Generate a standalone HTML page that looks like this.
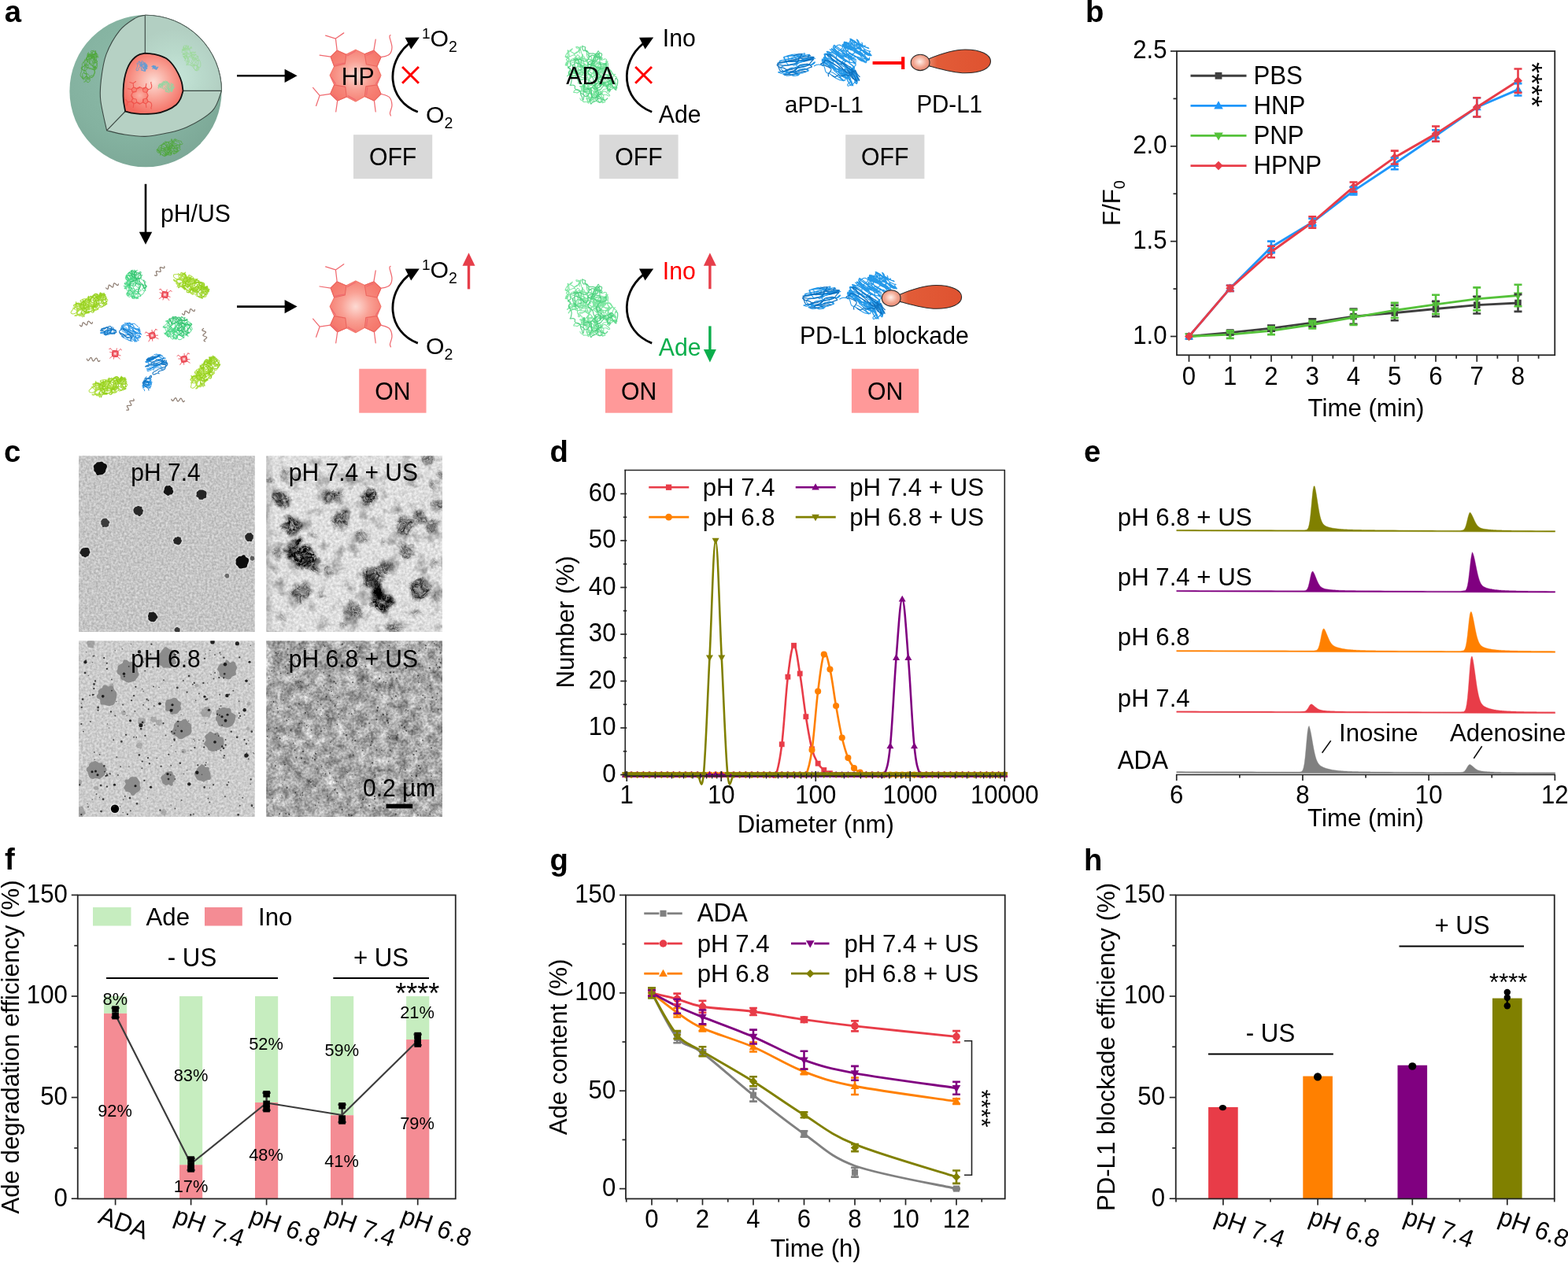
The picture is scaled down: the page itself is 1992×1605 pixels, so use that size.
<!DOCTYPE html>
<html lang="en">
<head>
<meta charset="utf-8">
<title>Figure</title>
<style>
html,body{margin:0;padding:0;background:#fff;}
body{width:1992px;height:1605px;overflow:hidden;}
svg{display:block;font-family:"Liberation Sans",Arial,Helvetica,sans-serif;}
text{white-space:pre;}
</style>
</head>
<body>
<svg width="1992" height="1605" viewBox="0 0 1992 1605">
<rect width="1992" height="1605" fill="#fff"/>
<linearGradient id="t2l" x1="0" x2="1" y1="0" y2="0"><stop offset="0" stop-color="#888" stop-opacity="0.35"/><stop offset="1" stop-color="#888" stop-opacity="0"/></linearGradient>
<defs>
<filter id="tn1" x="0" y="0" width="100%" height="100%" color-interpolation-filters="sRGB"><feTurbulence type="fractalNoise" baseFrequency="0.36" numOctaves="2" seed="3" stitchTiles="noStitch"/><feColorMatrix type="matrix" values="0.32 0 0 0 0.615  0.32 0 0 0 0.615  0.32 0 0 0 0.615  0 0 0 0 1"/></filter>
<filter id="tn2" x="0" y="0" width="100%" height="100%" color-interpolation-filters="sRGB"><feTurbulence type="fractalNoise" baseFrequency="0.3" numOctaves="2" seed="8" stitchTiles="noStitch"/><feColorMatrix type="matrix" values="0.28 0 0 0 0.735  0.28 0 0 0 0.735  0.28 0 0 0 0.735  0 0 0 0 1"/></filter>
<filter id="tn3" x="0" y="0" width="100%" height="100%" color-interpolation-filters="sRGB"><feTurbulence type="fractalNoise" baseFrequency="0.34" numOctaves="2" seed="14" stitchTiles="noStitch"/><feColorMatrix type="matrix" values="0.3 0 0 0 0.65  0.3 0 0 0 0.65  0.3 0 0 0 0.65  0 0 0 0 1"/></filter>
<filter id="tn4" x="0" y="0" width="100%" height="100%" color-interpolation-filters="sRGB"><feTurbulence type="fractalNoise" baseFrequency="0.075" numOctaves="3" seed="21" result="a0"/><feColorMatrix in="a0" type="matrix" values="1 0 0 0 0  1 0 0 0 0  1 0 0 0 0  0 0 0 0 1" result="a"/><feTurbulence type="fractalNoise" baseFrequency="0.32" numOctaves="2" seed="5" result="b0"/><feColorMatrix in="b0" type="matrix" values="1 0 0 0 0  1 0 0 0 0  1 0 0 0 0  0 0 0 0 1" result="b"/><feComposite in="a" in2="b" operator="arithmetic" k1="0" k2="0.6" k3="0.45" k4="0.135"/><feColorMatrix type="matrix" values="1 0 0 0 0  0 1 0 0 0  0 0 1 0 0  0 0 0 0 1"/></filter>
<filter id="fz2" x="-10%" y="-10%" width="120%" height="120%" color-interpolation-filters="sRGB"><feGaussianBlur in="SourceGraphic" stdDeviation="2.6" result="b"/><feTurbulence type="fractalNoise" baseFrequency="0.33" numOctaves="3" seed="5" result="t"/><feColorMatrix in="t" type="matrix" values="0 0 0 0 0  0 0 0 0 0  0 0 0 0 0  1 0 0 0 0" result="ta"/><feComposite in="b" in2="ta" operator="arithmetic" k1="1.9" k2="0.0" k3="0" k4="0"/><feComponentTransfer result="r"><feFuncA type="linear" slope="1.35" intercept="-0.04"/></feComponentTransfer><feTurbulence type="fractalNoise" baseFrequency="0.07" numOctaves="2" seed="8" result="dm"/><feDisplacementMap in="r" in2="dm" scale="14" xChannelSelector="R" yChannelSelector="G"/></filter>
<filter id="fz2d" x="-10%" y="-10%" width="120%" height="120%" color-interpolation-filters="sRGB"><feGaussianBlur in="SourceGraphic" stdDeviation="2.4" result="b"/><feTurbulence type="fractalNoise" baseFrequency="0.3" numOctaves="2" seed="9" result="t"/><feColorMatrix in="t" type="matrix" values="0 0 0 0 0  0 0 0 0 0  0 0 0 0 0  1 0 0 0 0" result="ta"/><feComposite in="b" in2="ta" operator="arithmetic" k1="1.4" k2="0.3" k3="0" k4="0"/><feComponentTransfer result="r"><feFuncA type="linear" slope="1.2" intercept="-0.04"/></feComponentTransfer><feTurbulence type="fractalNoise" baseFrequency="0.07" numOctaves="2" seed="12" result="dm"/><feDisplacementMap in="r" in2="dm" scale="14" xChannelSelector="R" yChannelSelector="G"/></filter>
<filter id="cl2" x="0" y="0" width="100%" height="100%" color-interpolation-filters="sRGB"><feTurbulence type="fractalNoise" baseFrequency="0.055" numOctaves="4" seed="12"/><feColorMatrix type="matrix" values="0 0 0 0 0.25  0 0 0 0 0.25  0 0 0 0 0.25  2.6 0 0 0 -1.38"/></filter>
<filter id="sb" x="-20%" y="-20%" width="140%" height="140%"><feGaussianBlur stdDeviation="0.7"/></filter>
<filter id="sb2" x="-20%" y="-20%" width="140%" height="140%"><feGaussianBlur stdDeviation="0.45"/></filter>
<clipPath id="tc1"><rect x="100" y="579.25" width="223.75" height="223.75"/></clipPath>
<clipPath id="tc2"><rect x="338.25" y="579.25" width="223.75" height="223.75"/></clipPath>
<clipPath id="tc3"><rect x="100" y="814.25" width="223.75" height="223.75"/></clipPath>
<clipPath id="tc4"><rect x="338.25" y="814.25" width="223.75" height="223.75"/></clipPath>
</defs>
<g clip-path="url(#tc1)">
<rect x="100" y="579.25" width="223.75" height="223.75" filter="url(#tn1)"/>
<g filter="url(#sb)">
<circle cx="127.2" cy="595.05" r="10" fill="#e6e6e6" fill-opacity="0.55"/>
<circle cx="214" cy="623.4" r="7.7" fill="#e6e6e6" fill-opacity="0.55"/>
<circle cx="256" cy="628.5" r="8" fill="#e6e6e6" fill-opacity="0.55"/>
<circle cx="175.8" cy="649.2" r="7.7" fill="#e6e6e6" fill-opacity="0.55"/>
<circle cx="133.5" cy="664.4" r="7.1" fill="#e6e6e6" fill-opacity="0.55"/>
<circle cx="225.6" cy="687.2" r="6.7" fill="#e6e6e6" fill-opacity="0.55"/>
<circle cx="316.6" cy="682.6" r="7" fill="#e6e6e6" fill-opacity="0.55"/>
<circle cx="108.1" cy="701.8" r="7.7" fill="#e6e6e6" fill-opacity="0.55"/>
<circle cx="307.7" cy="714.1" r="9.9" fill="#e6e6e6" fill-opacity="0.55"/>
<circle cx="320.5" cy="709.5" r="4.4" fill="#e6e6e6" fill-opacity="0.55"/>
<circle cx="288.4" cy="731.8" r="4.4" fill="#e6e6e6" fill-opacity="0.55"/>
<circle cx="193.8" cy="783.9" r="7.7" fill="#e6e6e6" fill-opacity="0.55"/>
<circle cx="225.2" cy="800.6" r="5" fill="#e6e6e6" fill-opacity="0.55"/>
<path d="M135.25 595.05 C135.12 595.35 134.67 596.24 134.48 596.84 C134.29 597.45 134.32 598.09 134.11 598.68 C133.9 599.27 133.6 599.87 133.22 600.38 C132.84 600.9 132.34 601.34 131.83 601.76 C131.32 602.18 130.78 602.66 130.17 602.89 C129.57 603.13 128.85 603.05 128.19 603.16 C127.52 603.28 126.89 603.46 126.16 603.6 C125.43 603.74 124.46 604.23 123.8 604 C123.15 603.78 122.64 602.87 122.24 602.23 C121.85 601.59 121.84 600.71 121.44 600.16 C121.03 599.6 120.2 599.44 119.83 598.92 C119.47 598.39 119.33 597.65 119.25 597.01 C119.18 596.36 119.47 595.72 119.38 595.05 C119.3 594.38 118.7 593.63 118.73 592.96 C118.76 592.3 119.15 591.57 119.57 591.05 C119.99 590.52 120.79 590.28 121.27 589.79 C121.75 589.31 121.93 588.56 122.43 588.14 C122.93 587.73 123.63 587.45 124.26 587.31 C124.9 587.16 125.59 587.37 126.25 587.25 C126.91 587.14 127.56 586.66 128.22 586.63 C128.88 586.6 129.63 586.77 130.23 587.07 C130.82 587.37 131.2 588.06 131.77 588.43 C132.34 588.81 133.04 588.95 133.66 589.33 C134.27 589.71 135.09 590.11 135.48 590.71 C135.86 591.3 136.01 592.17 135.97 592.89 C135.93 593.61 135.37 594.69 135.25 595.05Z" fill="#0a0a0a"/>
<path d="M219.92 623.4 C219.99 623.66 220.38 624.47 220.32 624.96 C220.27 625.45 219.84 625.88 219.6 626.34 C219.36 626.8 219.23 627.37 218.87 627.71 C218.51 628.06 217.95 628.28 217.46 628.41 C216.97 628.55 216.39 628.32 215.94 628.52 C215.49 628.72 215.21 629.35 214.75 629.6 C214.3 629.85 213.68 630.13 213.2 630.03 C212.71 629.93 212.28 629.33 211.87 629.02 C211.45 628.71 211.11 628.43 210.71 628.16 C210.32 627.89 209.89 627.69 209.49 627.4 C209.08 627.11 208.58 626.81 208.27 626.41 C207.96 626 207.63 625.47 207.63 624.97 C207.62 624.47 208.05 623.88 208.23 623.4 C208.42 622.92 208.64 622.55 208.74 622.1 C208.84 621.65 208.73 621.15 208.84 620.69 C208.96 620.24 209.19 619.8 209.43 619.35 C209.68 618.91 209.92 618.37 210.3 618.04 C210.68 617.71 211.22 617.47 211.71 617.37 C212.21 617.26 212.76 617.49 213.27 617.42 C213.79 617.36 214.28 616.97 214.78 616.96 C215.29 616.94 215.89 617.04 216.3 617.33 C216.71 617.62 216.88 618.35 217.24 618.7 C217.61 619.05 218.14 619.1 218.5 619.42 C218.85 619.73 219.26 620.13 219.38 620.58 C219.5 621.03 219.15 621.64 219.23 622.11 C219.32 622.58 219.8 623.18 219.92 623.4Z" fill="#141414"/>
<path d="M262.28 628.5 C262.23 628.75 262.04 629.45 262 629.98 C261.97 630.51 262.26 631.21 262.09 631.7 C261.92 632.19 261.46 632.67 260.99 632.92 C260.52 633.18 259.74 633.03 259.27 633.24 C258.8 633.46 258.59 633.94 258.17 634.23 C257.76 634.53 257.28 634.89 256.79 634.99 C256.3 635.09 255.76 634.88 255.23 634.84 C254.7 634.81 254.08 635 253.61 634.8 C253.15 634.6 252.75 634.07 252.45 633.64 C252.15 633.22 252.18 632.57 251.79 632.23 C251.4 631.89 250.53 631.94 250.1 631.6 C249.68 631.25 249.27 630.68 249.23 630.17 C249.19 629.65 249.78 629.04 249.85 628.5 C249.92 627.96 249.65 627.47 249.67 626.94 C249.69 626.41 249.71 625.78 249.97 625.34 C250.24 624.9 250.86 624.66 251.25 624.29 C251.64 623.93 251.89 623.45 252.3 623.15 C252.72 622.85 253.23 622.59 253.72 622.49 C254.22 622.39 254.77 622.56 255.28 622.55 C255.78 622.53 256.26 622.38 256.74 622.41 C257.22 622.44 257.72 622.58 258.18 622.75 C258.64 622.91 259.04 623.19 259.51 623.42 C259.97 623.64 260.54 623.78 260.96 624.1 C261.39 624.42 261.79 624.86 262.05 625.33 C262.3 625.79 262.46 626.37 262.5 626.9 C262.53 627.43 262.31 628.23 262.28 628.5Z" fill="#262626"/>
<path d="M182.22 649.2 C182.08 649.43 181.53 650.09 181.39 650.58 C181.24 651.06 181.45 651.61 181.32 652.1 C181.2 652.59 180.99 653.14 180.65 653.5 C180.31 653.86 179.69 653.9 179.3 654.27 C178.9 654.64 178.72 655.44 178.27 655.72 C177.83 656 177.14 656.14 176.62 655.96 C176.1 655.78 175.6 654.89 175.14 654.63 C174.68 654.36 174.3 654.44 173.85 654.35 C173.4 654.25 172.84 654.28 172.45 654.05 C172.06 653.83 171.83 653.35 171.52 652.99 C171.21 652.64 170.86 652.32 170.6 651.93 C170.34 651.54 170.15 651.09 169.98 650.64 C169.81 650.18 169.67 649.7 169.57 649.2 C169.48 648.7 169.33 648.13 169.42 647.63 C169.51 647.13 169.85 646.66 170.12 646.22 C170.38 645.77 170.65 645.31 171.01 644.95 C171.37 644.6 171.81 644.27 172.26 644.08 C172.72 643.88 173.28 643.95 173.75 643.78 C174.21 643.62 174.59 643.21 175.06 643.09 C175.52 642.98 176.08 642.97 176.54 643.09 C177.01 643.2 177.37 643.65 177.86 643.77 C178.35 643.9 179.06 643.63 179.5 643.85 C179.93 644.06 180.33 644.56 180.48 645.06 C180.63 645.55 180.2 646.34 180.38 646.8 C180.56 647.25 181.25 647.38 181.55 647.78 C181.86 648.18 182.11 648.96 182.22 649.2Z" fill="#2c2c2c"/>
<path d="M139.27 664.4 C139.1 664.6 138.47 665.17 138.28 665.58 C138.1 665.99 138.2 666.38 138.15 666.84 C138.1 667.31 138.2 667.98 137.98 668.37 C137.75 668.76 137.21 668.95 136.81 669.2 C136.41 669.44 136 669.71 135.56 669.82 C135.11 669.93 134.61 669.89 134.16 669.84 C133.71 669.79 133.34 669.5 132.88 669.53 C132.41 669.57 131.82 670.09 131.35 670.07 C130.88 670.04 130.31 669.79 130.05 669.4 C129.78 669.01 129.94 668.16 129.75 667.72 C129.56 667.29 129.14 667.16 128.89 666.82 C128.64 666.48 128.31 666.1 128.24 665.7 C128.18 665.29 128.5 664.83 128.49 664.4 C128.49 663.97 128.22 663.54 128.22 663.1 C128.22 662.66 128.29 662.16 128.49 661.77 C128.68 661.38 129.11 661.12 129.38 660.75 C129.66 660.38 129.8 659.83 130.14 659.53 C130.48 659.24 130.99 659.08 131.44 658.96 C131.89 658.85 132.36 658.94 132.83 658.86 C133.29 658.77 133.77 658.4 134.22 658.43 C134.68 658.46 135.18 658.72 135.54 659.02 C135.9 659.31 136.11 659.87 136.39 660.21 C136.67 660.56 136.94 660.8 137.23 661.1 C137.52 661.39 137.79 661.66 138.11 661.98 C138.43 662.3 138.95 662.61 139.14 663.01 C139.34 663.41 139.25 664.17 139.27 664.4Z" fill="#3c3c3c"/>
<path d="M231.02 687.2 C230.94 687.4 230.67 688.02 230.5 688.41 C230.33 688.79 230.17 689.14 229.99 689.51 C229.82 689.87 229.69 690.28 229.46 690.62 C229.22 690.95 228.9 691.24 228.58 691.51 C228.25 691.78 227.91 692.12 227.52 692.26 C227.13 692.41 226.65 692.42 226.23 692.38 C225.81 692.34 225.4 692.13 225.02 692.01 C224.63 691.88 224.29 691.75 223.93 691.61 C223.56 691.48 223.23 691.35 222.83 691.21 C222.44 691.07 221.9 691.03 221.56 690.78 C221.22 690.53 220.95 690.11 220.81 689.71 C220.67 689.32 220.84 688.82 220.71 688.4 C220.59 687.99 220.17 687.63 220.07 687.2 C219.97 686.77 219.93 686.23 220.13 685.85 C220.33 685.47 220.98 685.26 221.26 684.92 C221.54 684.59 221.58 684.17 221.82 683.85 C222.06 683.53 222.35 683.16 222.72 683.03 C223.09 682.89 223.64 683.16 224.02 683.03 C224.4 682.91 224.63 682.46 225 682.25 C225.37 682.05 225.86 681.77 226.25 681.81 C226.65 681.86 226.97 682.35 227.38 682.5 C227.79 682.64 228.31 682.52 228.72 682.68 C229.12 682.84 229.62 683.09 229.81 683.47 C230 683.85 229.74 684.55 229.84 684.98 C229.94 685.4 230.22 685.64 230.42 686.01 C230.62 686.38 230.92 687 231.02 687.2Z" fill="#262626"/>
<path d="M321.66 682.6 C321.69 682.82 321.94 683.5 321.84 683.89 C321.74 684.28 321.3 684.6 321.06 684.94 C320.81 685.28 320.55 685.51 320.37 685.94 C320.2 686.37 320.29 687.18 320.01 687.54 C319.73 687.9 319.16 688.08 318.7 688.13 C318.23 688.17 317.69 687.84 317.23 687.82 C316.78 687.81 316.38 688.01 315.94 688.03 C315.5 688.04 315 688.06 314.59 687.91 C314.18 687.75 313.81 687.42 313.48 687.12 C313.16 686.82 312.88 686.47 312.63 686.12 C312.38 685.77 312.17 685.4 311.98 685.03 C311.78 684.65 311.58 684.27 311.46 683.87 C311.34 683.46 311.29 683.03 311.26 682.6 C311.22 682.17 311.18 681.71 311.24 681.28 C311.3 680.84 311.39 680.35 311.64 679.99 C311.88 679.64 312.38 679.44 312.71 679.15 C313.03 678.86 313.28 678.55 313.59 678.24 C313.9 677.93 314.19 677.42 314.58 677.28 C314.98 677.15 315.53 677.41 315.97 677.41 C316.41 677.41 316.78 677.37 317.25 677.29 C317.71 677.2 318.35 676.77 318.76 676.9 C319.18 677.03 319.46 677.67 319.73 678.06 C320.01 678.45 320.09 678.91 320.41 679.23 C320.73 679.54 321.41 679.6 321.65 679.95 C321.9 680.29 321.87 680.86 321.87 681.3 C321.87 681.74 321.69 682.38 321.66 682.6Z" fill="#262626"/>
<path d="M114.55 701.8 C114.43 702.04 114.1 702.78 113.84 703.22 C113.59 703.65 113.21 703.93 113.03 704.39 C112.85 704.84 113.01 705.53 112.76 705.93 C112.52 706.33 111.98 706.57 111.55 706.8 C111.12 707.03 110.64 707.07 110.19 707.32 C109.75 707.57 109.36 708.21 108.89 708.31 C108.42 708.41 107.83 708.12 107.36 707.92 C106.89 707.73 106.55 707.3 106.08 707.14 C105.61 706.97 104.95 707.18 104.54 706.95 C104.14 706.72 103.89 706.17 103.64 705.75 C103.39 705.34 103.38 704.84 103.05 704.45 C102.71 704.06 101.91 703.84 101.63 703.4 C101.35 702.95 101.27 702.31 101.38 701.8 C101.48 701.29 102.04 700.83 102.26 700.36 C102.49 699.89 102.51 699.42 102.72 698.97 C102.92 698.53 103.15 698.06 103.49 697.71 C103.82 697.37 104.29 697.12 104.72 696.9 C105.14 696.68 105.59 696.48 106.04 696.37 C106.49 696.26 106.97 696.28 107.42 696.24 C107.88 696.19 108.31 696.14 108.79 696.09 C109.28 696.04 109.8 695.92 110.32 695.96 C110.83 695.99 111.44 696.06 111.9 696.3 C112.36 696.53 112.84 696.92 113.1 697.37 C113.36 697.82 113.32 698.49 113.45 698.99 C113.58 699.49 113.71 699.9 113.89 700.37 C114.08 700.84 114.44 701.56 114.55 701.8Z" fill="#1c1c1c"/>
<path d="M315.79 714.1 C315.66 714.4 315.3 715.34 315.05 715.91 C314.79 716.48 314.43 716.92 314.24 717.53 C314.05 718.15 314.16 718.97 313.91 719.6 C313.65 720.23 313.23 720.95 312.69 721.32 C312.14 721.7 311.3 721.72 310.63 721.84 C309.96 721.96 309.32 721.94 308.66 722.04 C308.01 722.15 307.37 722.4 306.69 722.45 C306 722.51 305.18 722.64 304.56 722.39 C303.94 722.14 303.41 721.49 302.96 720.96 C302.52 720.44 302.34 719.73 301.9 719.24 C301.46 718.74 300.7 718.5 300.3 717.98 C299.9 717.46 299.59 716.77 299.51 716.12 C299.43 715.47 299.83 714.77 299.84 714.1 C299.85 713.43 299.5 712.75 299.55 712.09 C299.6 711.43 299.77 710.67 300.14 710.13 C300.5 709.59 301.27 709.29 301.75 708.83 C302.23 708.36 302.51 707.69 303.03 707.34 C303.56 706.98 304.27 706.82 304.9 706.71 C305.53 706.61 306.15 706.92 306.8 706.68 C307.44 706.45 308.07 705.51 308.77 705.32 C309.46 705.13 310.38 705.15 310.95 705.54 C311.51 705.93 311.66 707.14 312.14 707.67 C312.61 708.2 313.19 708.34 313.78 708.72 C314.36 709.09 315.28 709.37 315.66 709.92 C316.03 710.48 316.01 711.35 316.03 712.05 C316.05 712.74 315.83 713.76 315.79 714.1Z" fill="#0c0c0c"/>
<path d="M323.28 709.5 C323.31 709.62 323.44 709.98 323.43 710.22 C323.43 710.46 323.37 710.74 323.25 710.94 C323.12 711.14 322.88 711.3 322.68 711.43 C322.47 711.56 322.2 711.56 322.02 711.7 C321.83 711.83 321.73 712.09 321.55 712.26 C321.36 712.43 321.12 712.68 320.89 712.71 C320.66 712.74 320.38 712.51 320.14 712.43 C319.91 712.35 319.69 712.32 319.46 712.25 C319.23 712.18 318.92 712.18 318.76 712.03 C318.59 711.87 318.57 711.52 318.44 711.32 C318.32 711.12 318.16 710.99 318.01 710.8 C317.87 710.62 317.61 710.44 317.59 710.22 C317.57 710 317.83 709.73 317.89 709.5 C317.95 709.27 317.94 709.1 317.93 708.87 C317.92 708.64 317.77 708.31 317.85 708.11 C317.92 707.9 318.23 707.81 318.38 707.62 C318.54 707.44 318.64 707.24 318.79 707.03 C318.94 706.81 319.07 706.41 319.29 706.32 C319.52 706.23 319.88 706.4 320.13 706.48 C320.39 706.55 320.6 706.71 320.83 706.76 C321.07 706.81 321.32 706.7 321.54 706.75 C321.77 706.8 321.99 706.94 322.17 707.08 C322.35 707.22 322.51 707.41 322.64 707.6 C322.78 707.79 322.89 708 322.97 708.21 C323.04 708.42 323.03 708.65 323.08 708.86 C323.13 709.08 323.25 709.39 323.28 709.5Z" fill="#5a5a5a"/>
<path d="M291.24 731.8 C291.23 731.91 291.19 732.25 291.15 732.48 C291.11 732.7 291.07 732.94 290.99 733.16 C290.91 733.38 290.82 733.62 290.67 733.81 C290.53 734 290.32 734.16 290.12 734.3 C289.92 734.44 289.71 734.59 289.48 734.65 C289.25 734.72 288.99 734.7 288.75 734.69 C288.51 734.68 288.3 734.6 288.06 734.59 C287.82 734.58 287.54 734.7 287.33 734.63 C287.11 734.57 286.89 734.37 286.76 734.18 C286.62 733.98 286.65 733.65 286.52 733.47 C286.38 733.29 286.13 733.25 285.94 733.09 C285.76 732.94 285.49 732.75 285.4 732.54 C285.31 732.32 285.38 732.04 285.39 731.8 C285.41 731.56 285.4 731.3 285.47 731.08 C285.55 730.85 285.69 730.64 285.84 730.45 C285.98 730.27 286.19 730.16 286.33 729.97 C286.47 729.77 286.49 729.45 286.66 729.27 C286.82 729.1 287.07 728.94 287.31 728.91 C287.54 728.89 287.83 729.08 288.07 729.1 C288.31 729.12 288.5 729.05 288.74 729.03 C288.97 729.01 289.25 728.92 289.47 728.97 C289.7 729.02 289.91 729.19 290.1 729.34 C290.28 729.49 290.45 729.68 290.58 729.87 C290.72 730.06 290.82 730.27 290.91 730.48 C291 730.69 291.07 730.91 291.12 731.13 C291.18 731.35 291.22 731.69 291.24 731.8Z" fill="#6a6a6a"/>
<path d="M200.53 783.9 C200.43 784.15 200.21 784.97 199.93 785.41 C199.65 785.85 199.16 786.16 198.86 786.56 C198.57 786.95 198.42 787.36 198.16 787.76 C197.9 788.17 197.66 788.63 197.31 788.99 C196.96 789.34 196.53 789.7 196.08 789.9 C195.62 790.1 195.07 790.14 194.56 790.17 C194.06 790.2 193.55 790.16 193.05 790.09 C192.55 790.02 192.03 789.96 191.58 789.77 C191.12 789.57 190.74 789.21 190.34 788.92 C189.93 788.62 189.49 788.37 189.16 788.01 C188.82 787.65 188.45 787.23 188.34 786.77 C188.22 786.3 188.47 785.69 188.46 785.22 C188.44 784.74 188.33 784.36 188.25 783.9 C188.17 783.44 187.91 782.92 187.96 782.46 C188.01 782 188.4 781.63 188.56 781.15 C188.72 780.67 188.72 780.09 188.93 779.59 C189.14 779.08 189.36 778.36 189.81 778.12 C190.26 777.89 191.08 778.18 191.63 778.18 C192.18 778.17 192.6 778.19 193.09 778.07 C193.58 777.96 194.1 777.47 194.58 777.48 C195.06 777.49 195.56 777.88 195.98 778.15 C196.41 778.41 196.77 778.76 197.14 779.06 C197.51 779.37 197.96 779.61 198.22 779.98 C198.48 780.36 198.48 780.91 198.7 781.33 C198.93 781.74 199.29 782.04 199.59 782.47 C199.9 782.9 200.37 783.66 200.53 783.9Z" fill="#1c1c1c"/>
<path d="M228.49 800.6 C228.51 800.74 228.61 801.16 228.6 801.44 C228.59 801.72 228.51 802 228.43 802.3 C228.36 802.59 228.32 802.97 228.15 803.21 C227.97 803.45 227.69 803.7 227.38 803.76 C227.08 803.82 226.62 803.57 226.32 803.56 C226.02 803.55 225.84 803.61 225.58 803.71 C225.32 803.81 225.04 804.12 224.77 804.13 C224.51 804.15 224.23 803.93 223.99 803.79 C223.75 803.65 223.57 803.44 223.35 803.28 C223.13 803.12 222.86 803.03 222.66 802.85 C222.46 802.67 222.3 802.44 222.13 802.21 C221.96 801.98 221.77 801.74 221.65 801.47 C221.54 801.21 221.42 800.89 221.43 800.6 C221.43 800.31 221.58 800.01 221.69 799.74 C221.8 799.46 221.94 799.21 222.09 798.97 C222.24 798.73 222.42 798.5 222.61 798.31 C222.81 798.12 223.05 797.97 223.27 797.81 C223.5 797.65 223.73 797.49 223.98 797.37 C224.23 797.25 224.5 797.14 224.77 797.08 C225.05 797.02 225.36 796.95 225.64 797 C225.91 797.06 226.2 797.21 226.42 797.38 C226.64 797.56 226.75 797.87 226.97 798.03 C227.19 798.2 227.48 798.22 227.73 798.36 C227.99 798.49 228.38 798.62 228.52 798.86 C228.66 799.09 228.56 799.48 228.56 799.77 C228.56 800.06 228.51 800.46 228.49 800.6Z" fill="#3a3a3a"/>
</g></g>
<g clip-path="url(#tc2)">
<rect x="338.25" y="579.25" width="223.75" height="223.75" filter="url(#tn2)"/>
<rect x="338.25" y="579.25" width="10" height="223.75" fill="url(#t2l)"/>
<rect x="338.25" y="579.25" width="223.75" height="223.75" filter="url(#cl2)" opacity="0.55"/>
<g filter="url(#fz2)">
<circle cx="357.75" cy="635.05" r="11" fill="#000" fill-opacity="0.47"/>
<circle cx="416.25" cy="632.25" r="8" fill="#000" fill-opacity="0.43"/>
<circle cx="428.95" cy="629.25" r="8" fill="#000" fill-opacity="0.43"/>
<circle cx="469.25" cy="630.85" r="10" fill="#000" fill-opacity="0.52"/>
<circle cx="433.25" cy="660.25" r="11" fill="#000" fill-opacity="0.43"/>
<circle cx="512.75" cy="668.55" r="12" fill="#000" fill-opacity="0.43"/>
<circle cx="533.25" cy="658.75" r="9" fill="#000" fill-opacity="0.38"/>
<circle cx="547.25" cy="668.25" r="8" fill="#000" fill-opacity="0.38"/>
<circle cx="459.65" cy="682.25" r="8" fill="#000" fill-opacity="0.33"/>
<circle cx="515.25" cy="700.65" r="10" fill="#000" fill-opacity="0.38"/>
<circle cx="557.25" cy="640.65" r="8" fill="#000" fill-opacity="0.38"/>
<circle cx="542.05" cy="583.25" r="7" fill="#000" fill-opacity="0.38"/>
<circle cx="551.75" cy="616.95" r="6" fill="#000" fill-opacity="0.33"/>
<circle cx="361.95" cy="602.95" r="6" fill="#000" fill-opacity="0.28"/>
<circle cx="449.85" cy="777.25" r="11" fill="#000" fill-opacity="0.38"/>
<circle cx="500.25" cy="796.95" r="9" fill="#000" fill-opacity="0.38"/>
<circle cx="416.25" cy="725.75" r="6" fill="#000" fill-opacity="0.33"/>
<circle cx="490.25" cy="720.25" r="9" fill="#000" fill-opacity="0.43"/>
<circle cx="551.75" cy="716.05" r="5" fill="#000" fill-opacity="0.28"/>
<circle cx="408.05" cy="756.25" r="5" fill="#000" fill-opacity="0.28"/>
<circle cx="472.25" cy="735.25" r="14" fill="#000" fill-opacity="0.47"/>
<circle cx="384.25" cy="706.25" r="15" fill="#000" fill-opacity="0.47"/>
<circle cx="398.25" cy="718.25" r="9" fill="#000" fill-opacity="0.47"/>
<circle cx="353.25" cy="704.25" r="8" fill="#000" fill-opacity="0.28"/>
<circle cx="446.25" cy="609.25" r="4" fill="#000" fill-opacity="0.28"/>
<circle cx="398.25" cy="679.25" r="5" fill="#000" fill-opacity="0.28"/>
<circle cx="528.25" cy="779.25" r="5" fill="#000" fill-opacity="0.28"/>
<circle cx="358.25" cy="784.25" r="5" fill="#000" fill-opacity="0.28"/>
<circle cx="438.25" cy="794.25" r="5" fill="#000" fill-opacity="0.28"/>
<circle cx="553.25" cy="759.25" r="4" fill="#000" fill-opacity="0.28"/>
<circle cx="343.25" cy="609.25" r="5" fill="#000" fill-opacity="0.33"/>
<circle cx="560.25" cy="604.25" r="5" fill="#000" fill-opacity="0.47"/>
<circle cx="523.25" cy="614.25" r="4" fill="#000" fill-opacity="0.24"/>
<circle cx="488.25" cy="689.25" r="5" fill="#000" fill-opacity="0.24"/>
<circle cx="370.25" cy="668.25" r="9" fill="#000" fill-opacity="0.28" stroke="#000" stroke-width="7" stroke-opacity="0.52"/>
<circle cx="382.95" cy="752.25" r="9" fill="#000" fill-opacity="0.2" stroke="#000" stroke-width="7" stroke-opacity="0.38"/>
<circle cx="532.25" cy="749.25" r="9.5" fill="#000" fill-opacity="0.26" stroke="#000" stroke-width="7.5" stroke-opacity="0.49"/>
<circle cx="484.75" cy="765.25" r="9.5" fill="#000" fill-opacity="0.32" stroke="#000" stroke-width="7.5" stroke-opacity="0.6"/>
<circle cx="382.25" cy="705.25" r="8" fill="#000" fill-opacity="0.2" stroke="#000" stroke-width="6" stroke-opacity="0.38"/>
</g>
<g filter="url(#fz2d)">
<circle cx="378.75" cy="688.25" r="5.5" fill="#000" fill-opacity="0.95"/>
<circle cx="366.25" cy="700.65" r="5" fill="#000" fill-opacity="0.9"/>
<circle cx="372.25" cy="694.25" r="5" fill="#000" fill-opacity="0.6"/>
<circle cx="480.65" cy="753.75" r="7.5" fill="#000" fill-opacity="1"/>
<circle cx="495.25" cy="763.25" r="4.5" fill="#000" fill-opacity="0.8"/>
<circle cx="488.25" cy="776.25" r="5" fill="#000" fill-opacity="0.5"/>
<circle cx="472.25" cy="738.25" r="4" fill="#000" fill-opacity="0.55"/>
<circle cx="365.25" cy="659.25" r="3" fill="#000" fill-opacity="0.4"/>
<circle cx="390.25" cy="713.25" r="5" fill="#000" fill-opacity="0.4"/>
<circle cx="400.25" cy="720.25" r="4" fill="#000" fill-opacity="0.45"/>
<circle cx="478.25" cy="745.25" r="5" fill="#000" fill-opacity="0.6"/>
</g>
</g>
<g clip-path="url(#tc3)">
<rect x="100" y="814.25" width="223.75" height="223.75" filter="url(#tn3)"/>
<g filter="url(#sb2)">
<path d="M174.95 853.25 C175.21 853.81 176.41 855.52 176.48 856.62 C176.54 857.72 175.88 858.85 175.36 859.84 C174.83 860.83 174.04 861.68 173.33 862.58 C172.61 863.48 172 864.62 171.07 865.23 C170.14 865.85 168.83 865.93 167.74 866.28 C166.65 866.63 165.61 867.2 164.51 867.33 C163.41 867.47 162.16 867.46 161.12 867.09 C160.08 866.73 159.28 865.62 158.28 865.16 C157.29 864.7 156.01 864.89 155.15 864.34 C154.29 863.78 153.54 862.78 153.13 861.81 C152.72 860.85 153.24 859.45 152.69 858.56 C152.13 857.67 150.52 857.34 149.79 856.46 C149.06 855.57 148.36 854.33 148.3 853.25 C148.23 852.17 149.15 851.08 149.4 849.95 C149.66 848.81 149.3 847.4 149.83 846.44 C150.36 845.49 151.66 844.85 152.6 844.21 C153.54 843.58 154.7 843.56 155.49 842.66 C156.28 841.77 156.41 839.5 157.34 838.85 C158.26 838.19 159.89 838.33 161.04 838.75 C162.19 839.16 163.18 840.96 164.25 841.34 C165.31 841.73 166.39 840.91 167.43 841.03 C168.48 841.15 169.63 841.5 170.52 842.07 C171.41 842.63 171.99 843.64 172.77 844.42 C173.55 845.2 174.81 845.78 175.19 846.75 C175.57 847.72 175.08 849.15 175.04 850.23 C175 851.32 174.97 852.75 174.95 853.25Z" fill="#868686" fill-opacity="0.92"/>
<path d="M221.16 836.55 C221.46 837.02 222.49 838.27 222.95 839.35 C223.4 840.42 224.31 842.16 223.89 843 C223.47 843.84 221.34 843.81 220.43 844.37 C219.51 844.93 219.07 845.61 218.39 846.38 C217.7 847.15 217.21 848.69 216.32 848.99 C215.42 849.28 214.04 848.24 213.01 848.16 C211.98 848.09 211.14 848.46 210.14 848.53 C209.15 848.61 207.87 849.03 207.03 848.61 C206.18 848.19 205.88 846.63 205.06 846.02 C204.25 845.41 203 845.49 202.12 844.95 C201.23 844.41 199.98 843.72 199.76 842.77 C199.54 841.81 200.77 840.25 200.81 839.21 C200.85 838.17 200.26 837.5 200 836.55 C199.74 835.6 198.97 834.37 199.26 833.51 C199.55 832.65 201 832.03 201.74 831.37 C202.48 830.72 203.13 830.24 203.72 829.57 C204.31 828.9 204.69 828.17 205.26 827.37 C205.83 826.56 206.36 825.59 207.12 824.75 C207.89 823.91 208.86 822.55 209.87 822.33 C210.88 822.11 212.2 822.93 213.19 823.43 C214.19 823.92 214.92 824.87 215.86 825.31 C216.8 825.75 217.99 825.58 218.82 826.09 C219.65 826.59 220.28 827.54 220.86 828.34 C221.44 829.15 222.01 830.02 222.29 830.94 C222.57 831.86 222.73 832.92 222.55 833.85 C222.36 834.79 221.39 836.1 221.16 836.55Z" fill="#868686" fill-opacity="0.92"/>
<path d="M300.06 851.25 C299.94 851.68 299.38 852.85 299.35 853.8 C299.33 854.76 300.23 856.16 299.91 856.98 C299.59 857.79 298.26 858.25 297.42 858.71 C296.57 859.17 295.56 859.13 294.85 859.73 C294.15 860.33 293.93 861.72 293.2 862.33 C292.47 862.94 291.4 863.33 290.47 863.38 C289.54 863.44 288.51 862.96 287.61 862.67 C286.71 862.37 285.92 861.94 285.07 861.6 C284.22 861.27 283.41 861 282.52 860.64 C281.63 860.29 280.36 860.13 279.72 859.47 C279.07 858.81 278.91 857.61 278.65 856.68 C278.39 855.76 278.57 854.82 278.17 853.92 C277.78 853.01 276.53 852.2 276.28 851.25 C276.03 850.3 276.31 849.14 276.67 848.21 C277.03 847.29 277.84 846.5 278.42 845.7 C279 844.9 279.33 843.85 280.17 843.43 C281 843 282.55 843.45 283.42 843.17 C284.3 842.9 284.74 842.55 285.41 841.78 C286.08 841.02 286.64 838.82 287.46 838.58 C288.28 838.34 289.49 839.75 290.33 840.33 C291.16 840.91 291.48 842.03 292.48 842.07 C293.49 842.11 295.27 840.53 296.36 840.59 C297.44 840.65 298.41 841.57 298.98 842.41 C299.56 843.24 299.44 844.61 299.8 845.58 C300.17 846.55 301.15 847.3 301.2 848.24 C301.24 849.19 300.25 850.75 300.06 851.25Z" fill="#868686" fill-opacity="0.92"/>
<path d="M148.27 884.05 C148.21 884.53 148.15 885.98 147.93 886.92 C147.72 887.85 147.29 888.69 146.99 889.66 C146.69 890.64 146.61 891.8 146.14 892.77 C145.67 893.73 145.02 894.83 144.16 895.44 C143.31 896.05 142.05 896.18 141 896.45 C139.96 896.72 138.91 897.06 137.88 897.03 C136.85 897 135.8 896.53 134.82 896.27 C133.83 896.01 133.01 895.65 131.96 895.49 C130.91 895.33 129.31 895.89 128.52 895.32 C127.74 894.74 127.5 893.13 127.25 892.06 C127.01 890.99 127.67 889.71 127.07 888.9 C126.47 888.08 124.35 887.98 123.64 887.17 C122.94 886.36 122.64 885.04 122.84 884.05 C123.04 883.06 124.5 882.23 124.83 881.22 C125.16 880.22 124.49 878.95 124.83 878.03 C125.17 877.11 126.07 876.3 126.86 875.69 C127.66 875.08 128.87 875.14 129.62 874.37 C130.37 873.6 130.54 871.69 131.38 871.08 C132.22 870.46 133.62 870.49 134.68 870.71 C135.74 870.93 136.65 872.26 137.72 872.4 C138.78 872.53 140.01 871.42 141.06 871.5 C142.11 871.59 143.32 872.11 143.99 872.9 C144.66 873.7 144.58 875.35 145.08 876.27 C145.57 877.2 146.42 877.65 146.96 878.45 C147.5 879.26 148.08 880.16 148.3 881.09 C148.52 882.02 148.27 883.56 148.27 884.05Z" fill="#868686" fill-opacity="0.92"/>
<path d="M229.12 897.25 C229.26 897.66 229.9 898.87 229.98 899.71 C230.06 900.55 230.01 901.59 229.6 902.29 C229.19 902.99 228.1 903.27 227.51 903.9 C226.93 904.53 226.7 905.49 226.08 906.06 C225.47 906.63 224.63 907.1 223.82 907.32 C223.01 907.53 222.08 907.21 221.23 907.34 C220.37 907.48 219.47 908.28 218.68 908.14 C217.89 908 217.04 907.21 216.49 906.51 C215.94 905.81 216.03 904.39 215.39 903.93 C214.75 903.47 213.54 904 212.67 903.74 C211.8 903.49 210.54 903.1 210.15 902.42 C209.76 901.73 210.31 900.5 210.32 899.64 C210.33 898.77 210.27 898.06 210.2 897.25 C210.12 896.44 209.85 895.6 209.88 894.75 C209.91 893.91 210.09 893.02 210.38 892.2 C210.68 891.38 210.99 890.39 211.62 889.83 C212.26 889.27 213.36 889.06 214.21 888.86 C215.06 888.65 215.96 888.84 216.72 888.61 C217.49 888.38 218.05 887.79 218.81 887.48 C219.57 887.16 220.45 886.75 221.28 886.73 C222.1 886.71 223.04 886.93 223.76 887.34 C224.47 887.75 225 888.59 225.57 889.18 C226.13 889.78 226.51 890.39 227.15 890.91 C227.8 891.43 228.96 891.65 229.43 892.3 C229.9 892.95 230.01 893.97 229.96 894.79 C229.91 895.62 229.26 896.84 229.12 897.25Z" fill="#868686" fill-opacity="0.92"/>
<path d="M268.92 904.95 C268.86 905.22 268.79 906.08 268.57 906.57 C268.35 907.06 267.85 907.41 267.59 907.89 C267.34 908.36 267.26 908.87 267.06 909.43 C266.85 909.99 266.79 910.94 266.36 911.26 C265.92 911.59 265.04 911.42 264.44 911.37 C263.83 911.32 263.26 911.01 262.73 910.95 C262.2 910.89 261.76 911.03 261.26 911.02 C260.77 911 260.34 910.85 259.76 910.85 C259.19 910.85 258.39 911.15 257.82 911 C257.25 910.85 256.64 910.45 256.35 909.95 C256.07 909.46 256.35 908.58 256.12 908.04 C255.88 907.49 255.2 907.2 254.95 906.69 C254.7 906.17 254.45 905.49 254.61 904.95 C254.77 904.41 255.65 903.96 255.9 903.45 C256.14 902.93 255.89 902.33 256.07 901.84 C256.25 901.35 256.54 900.78 256.99 900.51 C257.43 900.23 258.27 900.48 258.72 900.2 C259.17 899.92 259.27 899.2 259.68 898.83 C260.09 898.46 260.63 898.1 261.15 897.99 C261.68 897.87 262.22 898.2 262.83 898.15 C263.43 898.09 264.22 897.51 264.77 897.65 C265.31 897.8 265.84 898.43 266.11 899 C266.37 899.57 266.07 900.61 266.36 901.09 C266.65 901.57 267.39 901.53 267.84 901.88 C268.29 902.24 268.88 902.7 269.06 903.21 C269.24 903.72 268.94 904.66 268.92 904.95Z" fill="#868686" fill-opacity="0.6"/>
<path d="M299.41 911.95 C299.29 912.46 298.97 914.01 298.68 915 C298.39 916 298.11 916.99 297.67 917.92 C297.22 918.84 296.65 919.73 296.01 920.55 C295.37 921.37 294.67 922.25 293.82 922.84 C292.97 923.44 291.92 923.83 290.92 924.13 C289.92 924.43 288.86 924.63 287.84 924.63 C286.82 924.63 285.79 924.37 284.82 924.14 C283.85 923.91 283.01 923.48 282.02 923.23 C281.04 922.99 279.77 923.15 278.91 922.66 C278.05 922.17 277.34 921.2 276.86 920.31 C276.38 919.43 276.48 918.24 276.01 917.35 C275.54 916.46 274.34 915.87 274.03 914.97 C273.72 914.07 273.88 912.89 274.15 911.95 C274.42 911.01 275.58 910.36 275.64 909.32 C275.69 908.29 274.49 906.9 274.47 905.74 C274.45 904.58 274.73 903.09 275.5 902.38 C276.26 901.67 278.05 901.94 279.07 901.48 C280.09 901.02 280.68 900.07 281.62 899.6 C282.55 899.13 283.66 898.62 284.69 898.65 C285.71 898.69 286.73 899.63 287.77 899.81 C288.82 899.98 290 899.41 290.93 899.73 C291.87 900.05 292.87 900.8 293.37 901.71 C293.86 902.63 293.39 904.4 293.89 905.22 C294.39 906.05 295.45 906.09 296.36 906.67 C297.27 907.26 298.84 907.85 299.34 908.73 C299.85 909.61 299.4 911.41 299.41 911.95Z" fill="#868686" fill-opacity="0.92"/>
<path d="M243.32 926.65 C243.34 927.15 243.62 928.71 243.43 929.66 C243.23 930.62 242.75 931.62 242.16 932.4 C241.57 933.18 240.7 933.83 239.9 934.36 C239.1 934.88 238.15 935.13 237.34 935.55 C236.53 935.96 235.85 936.35 235.06 936.83 C234.28 937.32 233.53 938.06 232.63 938.45 C231.74 938.83 230.66 939.17 229.68 939.17 C228.7 939.16 227.6 938.88 226.74 938.41 C225.88 937.94 225.27 936.97 224.51 936.34 C223.74 935.72 223.14 935.18 222.14 934.67 C221.14 934.17 219.29 934.08 218.51 933.31 C217.73 932.54 217.22 931.15 217.46 930.04 C217.69 928.93 219.38 927.64 219.93 926.65 C220.49 925.66 220.64 924.99 220.8 924.09 C220.96 923.18 220.61 922.1 220.89 921.24 C221.16 920.37 221.88 919.66 222.45 918.9 C223.02 918.14 223.54 917.19 224.31 916.67 C225.09 916.16 226.15 915.89 227.08 915.79 C228.02 915.69 228.98 916.32 229.92 916.08 C230.85 915.84 231.67 914.72 232.69 914.35 C233.72 913.98 235.13 913.49 236.06 913.84 C236.98 914.2 237.52 915.68 238.23 916.47 C238.94 917.25 239.59 917.87 240.31 918.58 C241.03 919.28 242.09 919.84 242.55 920.69 C243.01 921.55 242.96 922.73 243.09 923.72 C243.22 924.71 243.28 926.16 243.32 926.65Z" fill="#868686" fill-opacity="0.92"/>
<path d="M284.2 942.65 C284.26 943.18 284.79 944.85 284.55 945.82 C284.32 946.79 283.43 947.66 282.81 948.48 C282.19 949.3 281.52 950.04 280.83 950.74 C280.13 951.44 279.48 952.27 278.63 952.69 C277.78 953.12 276.65 953.01 275.74 953.29 C274.82 953.57 274.05 954.11 273.13 954.4 C272.2 954.68 271.17 955.04 270.2 955.01 C269.23 954.99 268.22 954.62 267.29 954.27 C266.36 953.92 265.28 953.61 264.62 952.91 C263.95 952.21 263.81 950.91 263.3 950.09 C262.79 949.27 262.29 948.69 261.55 947.97 C260.82 947.26 259.08 946.7 258.88 945.81 C258.68 944.92 259.9 943.59 260.37 942.65 C260.83 941.71 261.74 941.2 261.7 940.18 C261.66 939.17 260.12 937.64 260.13 936.58 C260.13 935.51 261.01 934.57 261.71 933.8 C262.42 933.04 263.49 932.66 264.34 931.99 C265.19 931.31 265.82 929.89 266.81 929.77 C267.81 929.64 269.28 930.87 270.31 931.23 C271.34 931.59 272.01 932.04 273 931.93 C274 931.82 275.44 930.31 276.28 930.56 C277.13 930.81 277.6 932.5 278.06 933.43 C278.53 934.35 278.33 935.52 279.08 936.11 C279.83 936.7 281.73 936.37 282.56 936.95 C283.4 937.53 283.83 938.64 284.1 939.59 C284.37 940.54 284.19 942.14 284.2 942.65Z" fill="#868686" fill-opacity="0.92"/>
<path d="M135.7 978.95 C135.42 979.43 134.41 980.88 133.97 981.83 C133.53 982.77 133.57 983.8 133.08 984.61 C132.58 985.41 131.72 986.04 131 986.66 C130.28 987.27 129.5 987.74 128.75 988.29 C128 988.85 127.36 989.83 126.49 990 C125.63 990.17 124.46 989.49 123.56 989.31 C122.66 989.13 121.99 988.83 121.09 988.93 C120.19 989.03 119.12 989.87 118.15 989.9 C117.18 989.94 116.11 989.6 115.27 989.13 C114.44 988.66 113.65 987.88 113.14 987.07 C112.63 986.25 112.47 985.16 112.21 984.24 C111.96 983.33 112.04 982.47 111.62 981.58 C111.19 980.7 109.91 979.88 109.68 978.95 C109.46 978.02 109.77 976.83 110.26 975.98 C110.75 975.14 112.11 974.7 112.62 973.87 C113.12 973.03 112.84 971.8 113.29 970.97 C113.75 970.14 114.52 969.33 115.35 968.88 C116.18 968.44 117.34 968.61 118.26 968.28 C119.17 967.96 119.94 966.96 120.84 966.92 C121.73 966.88 122.79 967.61 123.62 968.05 C124.46 968.5 124.95 969.4 125.85 969.59 C126.75 969.78 128.22 968.88 129.03 969.2 C129.84 969.51 130.32 970.66 130.73 971.48 C131.13 972.31 130.77 973.42 131.45 974.15 C132.13 974.88 134.09 975.07 134.79 975.87 C135.5 976.67 135.55 978.44 135.7 978.95Z" fill="#868686" fill-opacity="0.92"/>
<path d="M177.72 998.45 C177.89 998.88 178.69 1000.15 178.76 1001 C178.83 1001.85 178.5 1002.78 178.11 1003.55 C177.73 1004.31 177.08 1004.99 176.45 1005.58 C175.83 1006.17 175.07 1006.61 174.36 1007.09 C173.65 1007.56 172.93 1007.82 172.19 1008.44 C171.44 1009.06 170.77 1010.47 169.9 1010.78 C169.03 1011.09 167.76 1010.92 166.96 1010.32 C166.16 1009.72 165.76 1007.85 165.08 1007.19 C164.41 1006.54 163.72 1006.66 162.91 1006.41 C162.1 1006.16 160.93 1006.17 160.22 1005.69 C159.51 1005.22 159.12 1004.33 158.64 1003.57 C158.16 1002.82 157.36 1002.03 157.33 1001.18 C157.29 1000.33 158.03 999.26 158.44 998.45 C158.84 997.64 159.76 997.19 159.76 996.32 C159.76 995.45 158.46 994.15 158.46 993.23 C158.46 992.31 159.03 991.26 159.76 990.8 C160.5 990.34 162.06 990.81 162.88 990.45 C163.69 990.09 163.98 989.15 164.68 988.63 C165.37 988.12 166.21 987.53 167.05 987.34 C167.89 987.15 168.8 987.48 169.73 987.48 C170.66 987.47 171.77 987.06 172.62 987.33 C173.47 987.61 174.24 988.42 174.84 989.13 C175.43 989.83 175.7 990.82 176.18 991.56 C176.66 992.3 177.46 992.8 177.71 993.56 C177.96 994.33 177.68 995.35 177.68 996.16 C177.68 996.98 177.71 998.07 177.72 998.45Z" fill="#868686" fill-opacity="0.92"/>
<path d="M221.54 989.45 C221.59 989.79 221.99 990.84 221.88 991.47 C221.77 992.09 221.27 992.69 220.89 993.22 C220.51 993.76 219.81 993.88 219.57 994.65 C219.34 995.42 219.88 997.15 219.49 997.84 C219.11 998.54 218.07 998.99 217.26 998.83 C216.44 998.67 215.36 997.12 214.6 996.88 C213.85 996.64 213.43 997.21 212.74 997.4 C212.04 997.58 211.14 998.09 210.46 997.99 C209.78 997.89 209.24 997.2 208.63 996.8 C208.01 996.4 207.22 996.13 206.77 995.59 C206.32 995.04 206.11 994.22 205.92 993.53 C205.73 992.84 205.91 992.11 205.65 991.43 C205.39 990.75 204.54 990.16 204.34 989.45 C204.15 988.74 204.16 987.83 204.49 987.18 C204.81 986.53 205.72 986.03 206.3 985.57 C206.88 985.1 207.48 984.79 207.99 984.39 C208.49 983.98 208.89 983.62 209.34 983.13 C209.78 982.63 210.11 981.84 210.66 981.43 C211.2 981.01 211.94 980.76 212.63 980.61 C213.31 980.47 214.01 980.66 214.78 980.57 C215.55 980.48 216.53 979.9 217.26 980.07 C217.98 980.25 218.68 980.95 219.11 981.62 C219.53 982.28 219.36 983.45 219.79 984.05 C220.22 984.66 221.23 984.72 221.68 985.26 C222.12 985.8 222.48 986.6 222.45 987.29 C222.43 987.99 221.69 989.09 221.54 989.45Z" fill="#868686" fill-opacity="0.92"/>
<path d="M267.56 983.15 C267.54 983.55 267.33 984.64 267.4 985.54 C267.46 986.44 268.11 987.64 267.95 988.53 C267.79 989.42 267.22 990.45 266.44 990.89 C265.65 991.33 264.12 990.94 263.24 991.18 C262.37 991.42 261.89 991.92 261.18 992.33 C260.47 992.73 259.75 993.55 258.97 993.63 C258.2 993.72 257.3 993.11 256.52 992.85 C255.75 992.59 255.1 992.27 254.32 992.07 C253.54 991.86 252.59 991.96 251.85 991.62 C251.12 991.29 250.42 990.69 249.91 990.05 C249.4 989.42 249.17 988.56 248.8 987.82 C248.42 987.08 247.96 986.4 247.66 985.62 C247.36 984.85 246.92 983.96 246.99 983.15 C247.07 982.34 247.69 981.5 248.11 980.79 C248.53 980.07 249.15 979.55 249.52 978.86 C249.89 978.16 249.92 977.28 250.33 976.62 C250.74 975.96 251.39 975.46 251.99 974.88 C252.59 974.31 253.21 973.79 253.92 973.18 C254.63 972.57 255.41 971.34 256.25 971.24 C257.1 971.13 258.22 971.95 258.99 972.53 C259.76 973.11 260.13 974.37 260.9 974.71 C261.68 975.04 262.85 974.31 263.64 974.54 C264.43 974.78 265.35 975.35 265.66 976.1 C265.97 976.85 265.34 978.25 265.5 979.06 C265.65 979.87 266.25 980.28 266.59 980.96 C266.94 981.64 267.4 982.78 267.56 983.15Z" fill="#868686" fill-opacity="0.92"/>
<path d="M108.33 1031.95 C108.38 1032.25 108.82 1033.22 108.66 1033.74 C108.5 1034.26 107.8 1034.68 107.38 1035.09 C106.97 1035.49 106.52 1035.76 106.16 1036.17 C105.81 1036.58 105.64 1037.12 105.27 1037.56 C104.91 1038 104.5 1038.57 104 1038.8 C103.49 1039.03 102.81 1039.01 102.25 1038.94 C101.69 1038.88 101.16 1038.51 100.62 1038.41 C100.07 1038.32 99.5 1038.48 98.96 1038.38 C98.42 1038.27 97.81 1038.11 97.38 1037.78 C96.95 1037.45 96.75 1036.82 96.39 1036.39 C96.02 1035.96 95.5 1035.66 95.2 1035.2 C94.91 1034.74 94.62 1034.17 94.61 1033.62 C94.6 1033.08 95.03 1032.48 95.14 1031.95 C95.26 1031.42 95.17 1030.93 95.29 1030.44 C95.4 1029.96 95.6 1029.47 95.85 1029.04 C96.09 1028.6 96.54 1028.37 96.75 1027.83 C96.97 1027.29 96.83 1026.31 97.14 1025.78 C97.46 1025.25 98.06 1024.71 98.64 1024.66 C99.21 1024.61 100.02 1025.38 100.61 1025.48 C101.21 1025.58 101.63 1025.37 102.21 1025.25 C102.8 1025.14 103.57 1024.66 104.11 1024.79 C104.66 1024.92 105.14 1025.54 105.49 1026.02 C105.85 1026.5 106.06 1027.12 106.25 1027.65 C106.44 1028.18 106.49 1028.72 106.63 1029.21 C106.76 1029.69 106.78 1030.1 107.07 1030.55 C107.35 1031.01 108.12 1031.72 108.33 1031.95Z" fill="#868686" fill-opacity="0.6"/>
<path d="M120.22 817.75 C120.19 817.94 120.12 818.51 120.05 818.9 C119.97 819.28 119.91 819.67 119.76 820.04 C119.62 820.41 119.33 820.66 119.17 821.09 C119 821.52 119.01 822.19 118.76 822.61 C118.5 823.03 118.08 823.53 117.63 823.63 C117.18 823.73 116.53 823.36 116.06 823.21 C115.59 823.05 115.22 822.79 114.8 822.7 C114.38 822.61 113.98 822.7 113.54 822.66 C113.09 822.63 112.51 822.69 112.13 822.48 C111.76 822.27 111.4 821.84 111.27 821.41 C111.13 820.98 111.4 820.32 111.31 819.9 C111.23 819.48 111.03 819.25 110.77 818.89 C110.5 818.53 109.88 818.17 109.72 817.75 C109.56 817.33 109.66 816.8 109.8 816.37 C109.94 815.94 110.23 815.52 110.54 815.2 C110.85 814.88 111.29 814.65 111.67 814.45 C112.05 814.25 112.5 814.29 112.81 813.99 C113.11 813.7 113.16 813.03 113.48 812.67 C113.79 812.32 114.26 811.88 114.69 811.86 C115.11 811.84 115.59 812.43 116.03 812.56 C116.48 812.68 116.89 812.56 117.35 812.6 C117.82 812.64 118.46 812.55 118.81 812.82 C119.15 813.08 119.21 813.77 119.42 814.19 C119.63 814.6 119.85 814.93 120.05 815.31 C120.24 815.69 120.56 816.06 120.59 816.47 C120.62 816.88 120.28 817.54 120.22 817.75Z" fill="#868686" fill-opacity="0.6"/>
<path d="M103.61 994.25 C103.59 994.39 103.54 994.82 103.5 995.11 C103.46 995.41 103.54 995.8 103.36 996.02 C103.18 996.23 102.63 996.19 102.41 996.39 C102.19 996.59 102.18 996.87 102.04 997.2 C101.9 997.54 101.83 998.22 101.57 998.39 C101.31 998.56 100.82 998.28 100.48 998.23 C100.14 998.19 99.85 998.13 99.53 998.11 C99.21 998.08 98.82 998.21 98.55 998.08 C98.27 997.95 98.15 997.5 97.88 997.32 C97.61 997.13 97.2 997.16 96.93 996.97 C96.66 996.79 96.28 996.54 96.26 996.21 C96.23 995.89 96.77 995.37 96.78 995.04 C96.79 994.72 96.52 994.56 96.34 994.25 C96.16 993.94 95.66 993.5 95.68 993.19 C95.7 992.88 96.19 992.62 96.45 992.38 C96.7 992.15 96.97 991.97 97.22 991.79 C97.48 991.61 97.71 991.43 97.97 991.31 C98.23 991.18 98.53 991.21 98.79 991.05 C99.05 990.9 99.25 990.49 99.53 990.36 C99.81 990.24 100.18 990.23 100.48 990.3 C100.78 990.37 101 990.68 101.32 990.77 C101.63 990.86 102.05 990.72 102.37 990.82 C102.69 990.92 103.01 991.14 103.24 991.38 C103.46 991.63 103.58 991.99 103.71 992.3 C103.84 992.62 104.02 992.94 104.01 993.26 C103.99 993.59 103.68 994.09 103.61 994.25Z" fill="#868686" fill-opacity="0.6"/>
<path d="M184.9 916.25 C184.86 916.44 184.69 916.99 184.64 917.39 C184.58 917.79 184.77 918.32 184.58 918.65 C184.39 918.98 183.85 919.14 183.52 919.37 C183.19 919.6 182.9 919.77 182.6 920.02 C182.3 920.26 182.09 920.72 181.75 920.86 C181.41 921 180.95 920.81 180.56 920.88 C180.17 920.94 179.8 921.2 179.39 921.25 C178.99 921.31 178.41 921.46 178.13 921.18 C177.85 920.91 177.89 919.97 177.69 919.6 C177.48 919.24 177.32 919.13 176.92 918.98 C176.51 918.84 175.59 918.98 175.27 918.73 C174.94 918.49 174.98 917.9 174.97 917.49 C174.96 917.08 175.16 916.66 175.19 916.25 C175.22 915.84 175.09 915.44 175.16 915.06 C175.23 914.67 175.47 914.34 175.6 913.94 C175.74 913.55 175.74 913.03 175.97 912.68 C176.19 912.32 176.52 911.89 176.94 911.81 C177.35 911.73 178.03 912.12 178.46 912.19 C178.89 912.26 179.16 912.31 179.51 912.24 C179.86 912.16 180.18 911.81 180.55 911.72 C180.92 911.64 181.35 911.64 181.72 911.72 C182.09 911.81 182.47 912 182.77 912.23 C183.08 912.46 183.26 912.84 183.54 913.12 C183.81 913.4 184.15 913.62 184.43 913.92 C184.72 914.23 185.17 914.57 185.25 914.96 C185.33 915.34 184.96 916.03 184.9 916.25Z" fill="#8a8a8a" fill-opacity="0.55"/>
<path d="M198.87 914.25 C198.9 914.42 199.08 914.93 199.03 915.24 C198.97 915.55 198.73 915.84 198.56 916.12 C198.39 916.4 198.22 916.68 198 916.9 C197.77 917.12 197.49 917.33 197.2 917.44 C196.91 917.54 196.53 917.4 196.25 917.54 C195.96 917.67 195.78 918.08 195.49 918.25 C195.19 918.42 194.78 918.66 194.47 918.58 C194.17 918.5 193.92 918 193.66 917.78 C193.41 917.55 193.15 917.44 192.94 917.23 C192.73 917.03 192.55 916.8 192.39 916.56 C192.23 916.33 192.24 916.05 191.99 915.83 C191.75 915.61 191.11 915.52 190.92 915.26 C190.73 914.99 190.72 914.56 190.84 914.25 C190.95 913.94 191.53 913.73 191.62 913.42 C191.72 913.1 191.39 912.71 191.39 912.36 C191.39 912 191.43 911.52 191.64 911.27 C191.85 911.02 192.34 911 192.65 910.85 C192.97 910.7 193.21 910.41 193.53 910.37 C193.85 910.33 194.25 910.49 194.56 910.61 C194.87 910.73 195.09 911.06 195.38 911.08 C195.68 911.1 196.03 910.75 196.33 910.75 C196.63 910.75 196.96 910.89 197.2 911.07 C197.44 911.24 197.54 911.58 197.76 911.8 C197.98 912.03 198.36 912.14 198.54 912.39 C198.71 912.64 198.75 913 198.8 913.31 C198.86 913.62 198.86 914.09 198.87 914.25Z" fill="#8a8a8a" fill-opacity="0.55"/>
<path d="M206.42 918.25 C206.35 918.41 206.15 918.94 205.97 919.23 C205.78 919.52 205.52 919.75 205.31 919.99 C205.1 920.23 204.94 920.47 204.71 920.65 C204.49 920.84 204.18 920.86 203.97 921.1 C203.76 921.34 203.69 921.84 203.45 922.08 C203.21 922.32 202.84 922.59 202.52 922.55 C202.21 922.5 201.86 921.98 201.57 921.8 C201.28 921.62 201.07 921.53 200.78 921.47 C200.49 921.4 200.13 921.48 199.83 921.39 C199.54 921.3 199.24 921.12 198.99 920.92 C198.74 920.72 198.45 920.47 198.32 920.18 C198.19 919.89 198.25 919.51 198.21 919.18 C198.17 918.86 198.15 918.57 198.1 918.25 C198.05 917.93 197.83 917.54 197.9 917.24 C197.97 916.93 198.31 916.68 198.52 916.42 C198.73 916.17 198.94 915.96 199.14 915.72 C199.34 915.47 199.46 915.09 199.73 914.96 C200 914.84 200.44 914.99 200.75 914.96 C201.06 914.94 201.3 914.9 201.58 914.83 C201.87 914.75 202.17 914.5 202.46 914.5 C202.74 914.49 202.99 914.75 203.31 914.8 C203.63 914.85 204.05 914.71 204.39 914.79 C204.73 914.87 205.21 914.99 205.34 915.29 C205.47 915.59 205.13 916.24 205.16 916.59 C205.2 916.94 205.35 917.1 205.56 917.37 C205.77 917.65 206.28 918.1 206.42 918.25Z" fill="#8a8a8a" fill-opacity="0.55"/>
<path d="M180.93 947.25 C180.82 947.38 180.34 947.76 180.23 948.05 C180.12 948.33 180.32 948.66 180.27 948.97 C180.23 949.27 180.15 949.64 179.96 949.88 C179.78 950.11 179.41 950.18 179.17 950.39 C178.92 950.6 178.76 951.01 178.48 951.15 C178.2 951.29 177.8 951.3 177.48 951.24 C177.17 951.18 176.89 950.83 176.57 950.8 C176.25 950.76 175.9 951.02 175.57 951.02 C175.24 951.01 174.82 950.96 174.58 950.76 C174.34 950.55 174.28 950.09 174.14 949.79 C173.99 949.49 173.86 949.24 173.72 948.97 C173.57 948.7 173.38 948.46 173.26 948.17 C173.14 947.89 173.02 947.56 173.01 947.25 C172.99 946.94 173.04 946.59 173.16 946.3 C173.28 946.02 173.55 945.78 173.73 945.53 C173.91 945.28 174.05 945.03 174.24 944.81 C174.44 944.59 174.66 944.38 174.9 944.2 C175.13 944.03 175.41 943.92 175.68 943.76 C175.94 943.59 176.21 943.28 176.51 943.2 C176.81 943.12 177.17 943.19 177.48 943.26 C177.79 943.33 178.05 943.56 178.37 943.63 C178.7 943.7 179.17 943.55 179.45 943.71 C179.73 943.86 179.93 944.24 180.05 944.55 C180.17 944.86 180.02 945.3 180.16 945.59 C180.31 945.88 180.78 946.01 180.91 946.29 C181.03 946.56 180.93 947.09 180.93 947.25Z" fill="#8a8a8a" fill-opacity="0.55"/>
<path d="M159.85 906.25 C159.82 906.36 159.74 906.69 159.68 906.91 C159.62 907.13 159.55 907.32 159.5 907.56 C159.46 907.81 159.52 908.16 159.42 908.39 C159.31 908.62 159.1 908.88 158.85 908.93 C158.6 908.98 158.18 908.68 157.92 908.69 C157.67 908.69 157.55 908.87 157.33 908.98 C157.11 909.1 156.83 909.42 156.62 909.37 C156.41 909.33 156.25 908.87 156.07 908.71 C155.88 908.56 155.71 908.51 155.49 908.44 C155.27 908.36 154.87 908.42 154.73 908.26 C154.58 908.11 154.71 907.72 154.63 907.49 C154.54 907.27 154.37 907.14 154.22 906.94 C154.06 906.73 153.72 906.48 153.7 906.25 C153.69 906.02 154.04 905.78 154.13 905.54 C154.23 905.3 154.19 905.06 154.26 904.81 C154.32 904.56 154.3 904.16 154.51 904.04 C154.72 903.93 155.24 904.12 155.51 904.09 C155.78 904.07 155.93 904.06 156.11 903.91 C156.3 903.77 156.43 903.33 156.63 903.23 C156.84 903.13 157.14 903.22 157.36 903.3 C157.58 903.37 157.77 903.58 157.96 903.71 C158.16 903.83 158.32 903.94 158.52 904.05 C158.71 904.17 158.89 904.26 159.11 904.38 C159.33 904.5 159.67 904.58 159.83 904.77 C159.99 904.95 160.06 905.25 160.06 905.5 C160.06 905.74 159.88 906.12 159.85 906.25Z" fill="#8a8a8a" fill-opacity="0.55"/>
<path d="M125.11 1001.25 C125.12 1001.38 125.28 1001.81 125.2 1002.04 C125.12 1002.27 124.82 1002.46 124.63 1002.63 C124.44 1002.81 124.24 1002.93 124.07 1003.09 C123.9 1003.24 123.77 1003.42 123.6 1003.57 C123.43 1003.71 123.24 1003.89 123.03 1003.96 C122.82 1004.03 122.56 1004.04 122.33 1004 C122.11 1003.97 121.91 1003.78 121.7 1003.74 C121.48 1003.71 121.27 1003.8 121.03 1003.8 C120.79 1003.81 120.47 1003.87 120.26 1003.77 C120.06 1003.67 119.96 1003.38 119.8 1003.2 C119.64 1003.02 119.46 1002.87 119.29 1002.67 C119.13 1002.48 118.87 1002.27 118.81 1002.04 C118.74 1001.8 118.86 1001.5 118.9 1001.25 C118.95 1001 118.97 1000.75 119.06 1000.53 C119.16 1000.3 119.28 1000.07 119.46 999.92 C119.63 999.76 119.96 999.75 120.12 999.58 C120.27 999.42 120.26 999.12 120.39 998.92 C120.52 998.71 120.68 998.39 120.9 998.35 C121.12 998.31 121.45 998.61 121.69 998.67 C121.92 998.73 122.08 998.73 122.31 998.68 C122.55 998.63 122.85 998.38 123.09 998.38 C123.33 998.38 123.57 998.55 123.76 998.7 C123.96 998.84 124.12 999.06 124.25 999.26 C124.38 999.46 124.47 999.7 124.54 999.92 C124.61 1000.14 124.59 1000.37 124.68 1000.59 C124.78 1000.81 125.04 1001.14 125.11 1001.25Z" fill="#8a8a8a" fill-opacity="0.55"/>
<path d="M252.58 871.25 C252.58 871.36 252.68 871.71 252.59 871.89 C252.5 872.07 252.17 872.16 252.04 872.32 C251.91 872.48 251.92 872.7 251.81 872.85 C251.69 873 251.53 873.15 251.35 873.21 C251.17 873.26 250.91 873.15 250.73 873.18 C250.55 873.2 250.43 873.31 250.26 873.37 C250.09 873.43 249.92 873.5 249.72 873.55 C249.52 873.6 249.3 873.67 249.08 873.67 C248.87 873.66 248.6 873.64 248.43 873.52 C248.27 873.4 248.21 873.12 248.1 872.93 C247.99 872.75 247.85 872.61 247.75 872.43 C247.65 872.25 247.51 872.07 247.49 871.87 C247.47 871.67 247.61 871.45 247.63 871.25 C247.65 871.05 247.55 870.84 247.61 870.66 C247.66 870.48 247.81 870.3 247.96 870.18 C248.12 870.06 248.44 870.12 248.54 869.96 C248.65 869.8 248.52 869.43 248.6 869.22 C248.68 869.02 248.86 868.77 249.04 868.73 C249.23 868.7 249.52 869.01 249.73 869.02 C249.94 869.03 250.1 868.83 250.3 868.81 C250.49 868.79 250.74 868.78 250.9 868.89 C251.05 869 251.06 869.36 251.22 869.48 C251.39 869.59 251.7 869.48 251.9 869.57 C252.09 869.66 252.33 869.81 252.39 870 C252.45 870.19 252.22 870.49 252.25 870.69 C252.29 870.9 252.53 871.16 252.58 871.25Z" fill="#8a8a8a" fill-opacity="0.55"/>
<path d="M144.72 871.45 C144.69 871.56 144.62 871.89 144.56 872.11 C144.5 872.32 144.45 872.53 144.37 872.75 C144.3 872.96 144.26 873.24 144.11 873.41 C143.96 873.58 143.68 873.6 143.5 873.77 C143.32 873.93 143.22 874.22 143.02 874.4 C142.82 874.59 142.56 874.9 142.32 874.88 C142.07 874.85 141.79 874.42 141.56 874.28 C141.33 874.13 141.16 874.06 140.93 874.01 C140.7 873.96 140.34 874.09 140.17 873.96 C139.99 873.83 140 873.44 139.88 873.24 C139.77 873.03 139.64 872.9 139.48 872.72 C139.32 872.55 138.96 872.4 138.91 872.19 C138.85 871.98 139.08 871.68 139.13 871.45 C139.18 871.22 139.18 871.02 139.19 870.78 C139.2 870.54 139.07 870.21 139.17 870.02 C139.27 869.82 139.61 869.74 139.8 869.59 C139.99 869.44 140.13 869.3 140.3 869.13 C140.47 868.97 140.6 868.67 140.81 868.58 C141.02 868.49 141.32 868.6 141.55 868.6 C141.79 868.61 142 868.62 142.25 868.61 C142.49 868.6 142.76 868.49 143.01 868.53 C143.25 868.57 143.51 868.68 143.71 868.83 C143.91 868.97 144.1 869.19 144.2 869.42 C144.3 869.64 144.27 869.95 144.31 870.18 C144.35 870.42 144.38 870.61 144.45 870.82 C144.52 871.03 144.68 871.35 144.72 871.45Z" fill="#8a8a8a" fill-opacity="0.55"/>
<path d="M236.26 954.55 C236.3 954.68 236.48 955.07 236.48 955.33 C236.48 955.59 236.45 955.93 236.27 956.11 C236.08 956.28 235.61 956.28 235.37 956.38 C235.13 956.49 234.99 956.59 234.83 956.77 C234.67 956.94 234.6 957.36 234.4 957.45 C234.2 957.55 233.88 957.41 233.64 957.35 C233.4 957.29 233.21 957.15 232.99 957.12 C232.77 957.08 232.52 957.2 232.32 957.14 C232.12 957.08 231.99 956.86 231.78 956.75 C231.57 956.65 231.33 956.62 231.08 956.52 C230.82 956.42 230.37 956.36 230.24 956.16 C230.11 955.95 230.26 955.55 230.31 955.29 C230.36 955.02 230.53 954.79 230.55 954.55 C230.58 954.31 230.42 954.07 230.46 953.85 C230.5 953.63 230.67 953.43 230.8 953.24 C230.92 953.04 231.07 952.89 231.2 952.69 C231.34 952.5 231.41 952.22 231.59 952.07 C231.76 951.92 232.03 951.87 232.26 951.81 C232.49 951.76 232.73 951.77 232.96 951.75 C233.19 951.72 233.42 951.67 233.65 951.67 C233.88 951.67 234.14 951.68 234.36 951.75 C234.59 951.81 234.85 951.9 235.02 952.06 C235.18 952.23 235.27 952.5 235.37 952.72 C235.47 952.93 235.5 953.14 235.61 953.34 C235.72 953.53 235.9 953.68 236.01 953.88 C236.12 954.08 236.22 954.44 236.26 954.55Z" fill="#8a8a8a" fill-opacity="0.55"/>
<path d="M318.53 894.25 C318.48 894.34 318.32 894.61 318.27 894.81 C318.22 895.01 318.28 895.22 318.24 895.43 C318.2 895.63 318.2 895.94 318.03 896.05 C317.86 896.15 317.47 896.04 317.25 896.06 C317.03 896.07 316.88 896.06 316.72 896.15 C316.56 896.24 316.46 896.55 316.29 896.62 C316.12 896.7 315.91 896.61 315.71 896.6 C315.52 896.58 315.34 896.56 315.14 896.53 C314.93 896.5 314.65 896.54 314.5 896.42 C314.34 896.31 314.32 896.01 314.21 895.84 C314.09 895.67 313.98 895.55 313.82 895.4 C313.65 895.25 313.28 895.13 313.21 894.94 C313.14 894.75 313.29 894.45 313.41 894.25 C313.53 894.05 313.82 893.91 313.93 893.74 C314.04 893.57 314.01 893.4 314.07 893.24 C314.13 893.07 314.18 892.88 314.28 892.73 C314.38 892.57 314.52 892.44 314.66 892.31 C314.8 892.18 314.95 892.03 315.13 891.95 C315.3 891.87 315.51 891.82 315.7 891.8 C315.9 891.79 316.1 891.82 316.29 891.85 C316.48 891.89 316.66 891.94 316.86 891.99 C317.05 892.04 317.27 892.06 317.44 892.16 C317.62 892.25 317.8 892.4 317.9 892.57 C318.01 892.73 317.99 892.98 318.07 893.16 C318.14 893.35 318.27 893.49 318.35 893.67 C318.42 893.85 318.5 894.15 318.53 894.25Z" fill="#8a8a8a" fill-opacity="0.55"/>
<path d="M317.13 926.25 C317.16 926.35 317.28 926.61 317.31 926.82 C317.35 927.03 317.4 927.28 317.35 927.48 C317.3 927.68 317.14 927.86 317 928.02 C316.86 928.19 316.72 928.38 316.53 928.47 C316.34 928.55 316.07 928.5 315.86 928.52 C315.65 928.54 315.47 928.53 315.28 928.57 C315.09 928.6 314.88 928.75 314.7 928.72 C314.52 928.69 314.34 928.52 314.18 928.41 C314.02 928.3 313.89 928.18 313.75 928.06 C313.62 927.93 313.5 927.81 313.39 927.68 C313.27 927.55 313.25 927.39 313.07 927.26 C312.89 927.14 312.45 927.09 312.3 926.92 C312.14 926.75 312.05 926.45 312.14 926.25 C312.23 926.05 312.73 925.9 312.86 925.72 C312.99 925.54 312.89 925.36 312.92 925.16 C312.95 924.96 312.92 924.66 313.05 924.52 C313.18 924.39 313.51 924.45 313.68 924.34 C313.86 924.24 313.94 923.99 314.11 923.9 C314.28 923.8 314.51 923.73 314.7 923.77 C314.89 923.8 315.06 924.11 315.26 924.13 C315.46 924.14 315.7 923.86 315.91 923.84 C316.13 923.83 316.42 923.86 316.54 924.02 C316.65 924.19 316.54 924.62 316.63 924.81 C316.71 925 316.91 925.04 317.03 925.19 C317.15 925.33 317.31 925.5 317.33 925.68 C317.34 925.85 317.16 926.15 317.13 926.25Z" fill="#8a8a8a" fill-opacity="0.55"/>
<path d="M211.51 1032.25 C211.51 1032.4 211.52 1032.8 211.55 1033.12 C211.58 1033.45 211.8 1033.9 211.69 1034.19 C211.58 1034.47 211.15 1034.6 210.91 1034.83 C210.67 1035.05 210.47 1035.22 210.26 1035.52 C210.05 1035.82 209.96 1036.51 209.66 1036.63 C209.37 1036.76 208.83 1036.45 208.49 1036.27 C208.14 1036.09 207.9 1035.66 207.6 1035.57 C207.29 1035.48 206.95 1035.81 206.67 1035.75 C206.39 1035.7 206.17 1035.42 205.92 1035.26 C205.68 1035.09 205.46 1034.92 205.18 1034.75 C204.9 1034.58 204.34 1034.5 204.23 1034.23 C204.13 1033.95 204.51 1033.43 204.57 1033.1 C204.62 1032.77 204.73 1032.57 204.56 1032.25 C204.4 1031.93 203.65 1031.5 203.58 1031.16 C203.52 1030.83 203.88 1030.45 204.17 1030.24 C204.47 1030.03 205.07 1030.08 205.37 1029.92 C205.67 1029.76 205.74 1029.49 205.96 1029.29 C206.17 1029.09 206.41 1028.92 206.67 1028.74 C206.93 1028.56 207.2 1028.33 207.51 1028.2 C207.82 1028.07 208.21 1027.89 208.52 1027.96 C208.83 1028.02 209.12 1028.39 209.39 1028.59 C209.66 1028.79 209.88 1028.98 210.13 1029.16 C210.38 1029.34 210.69 1029.47 210.89 1029.69 C211.1 1029.91 211.24 1030.21 211.36 1030.49 C211.49 1030.76 211.62 1031.06 211.64 1031.35 C211.67 1031.65 211.53 1032.1 211.51 1032.25Z" fill="#8a8a8a" fill-opacity="0.55"/>
</g>
<g filter="url(#sb2)">
<circle cx="146" cy="1027.75" r="6.6" fill="#f0f0f0" fill-opacity="0.8"/>
<circle cx="146" cy="1027.75" r="5.2" fill="#000"/>
<circle cx="270" cy="815.65" r="2.8" fill="#0c0c0c" fill-opacity="0.9"/>
<circle cx="301.4" cy="817.75" r="2.6" fill="#0c0c0c" fill-opacity="0.9"/>
<circle cx="178.9" cy="921.75" r="2.5" fill="#0c0c0c" fill-opacity="0.9"/>
<circle cx="108.4" cy="841.45" r="2.1" fill="#0c0c0c" fill-opacity="0.9"/>
<circle cx="312.8" cy="960.05" r="2.6" fill="#0c0c0c" fill-opacity="0.9"/>
<circle cx="288.4" cy="884.05" r="2.2" fill="#0c0c0c" fill-opacity="0.9"/>
<circle cx="310.7" cy="902.25" r="2.2" fill="#0c0c0c" fill-opacity="0.9"/>
<circle cx="240.3" cy="996.35" r="2.2" fill="#0c0c0c" fill-opacity="0.9"/>
<circle cx="286" cy="844.25" r="2.2" fill="#0c0c0c" fill-opacity="0.9"/>
<circle cx="130.7" cy="884.85" r="1.8" fill="#0c0c0c" fill-opacity="0.9"/>
<circle cx="157.5" cy="856.25" r="1.7" fill="#0c0c0c" fill-opacity="0.9"/>
<circle cx="219" cy="895.75" r="1.6" fill="#0c0c0c" fill-opacity="0.9"/>
<circle cx="217.5" cy="902.75" r="2" fill="#0c0c0c" fill-opacity="0.9"/>
<circle cx="286.5" cy="915.75" r="1.9" fill="#0c0c0c" fill-opacity="0.9"/>
<circle cx="282" cy="910.75" r="1.6" fill="#0c0c0c" fill-opacity="0.9"/>
<circle cx="289" cy="908.25" r="1.5" fill="#0c0c0c" fill-opacity="0.9"/>
<circle cx="230.7" cy="929.05" r="1.5" fill="#0c0c0c" fill-opacity="0.9"/>
<circle cx="273" cy="943.05" r="1.8" fill="#0c0c0c" fill-opacity="0.9"/>
<circle cx="250.3" cy="981.75" r="2.2" fill="#0c0c0c" fill-opacity="0.9"/>
<circle cx="213" cy="983.55" r="1.6" fill="#0c0c0c" fill-opacity="0.9"/>
<circle cx="172" cy="998.75" r="1.5" fill="#0c0c0c" fill-opacity="0.9"/>
<circle cx="117" cy="980.75" r="1.5" fill="#0c0c0c" fill-opacity="0.9"/>
<circle cx="121.5" cy="980.05" r="1.5" fill="#0c0c0c" fill-opacity="0.9"/>
<circle cx="124" cy="984.75" r="1.5" fill="#0c0c0c" fill-opacity="0.9"/>
<circle cx="265.5" cy="902.25" r="1.6" fill="#0c0c0c" fill-opacity="0.9"/>
<circle cx="177" cy="828.25" r="2.2" fill="#0c0c0c" fill-opacity="0.9"/>
<circle cx="313" cy="865.25" r="1.8" fill="#0c0c0c" fill-opacity="0.9"/>
<circle cx="260" cy="885.25" r="1.6" fill="#0c0c0c" fill-opacity="0.9"/>
<circle cx="203" cy="894.25" r="1.8" fill="#0c0c0c" fill-opacity="0.9"/>
<circle cx="165.5" cy="915.75" r="1.6" fill="#0c0c0c" fill-opacity="0.9"/>
<circle cx="145.5" cy="997.25" r="1.6" fill="#0c0c0c" fill-opacity="0.9"/>
<circle cx="191.5" cy="1000.25" r="1.6" fill="#0c0c0c" fill-opacity="0.9"/>
<circle cx="317" cy="841.25" r="1.6" fill="#0c0c0c" fill-opacity="0.9"/>
<path d="M261.2 830.9h0M176.8 919.2h0M103.3 894.1h0M242.6 953.6h0M152.5 1024.7h0M248.7 890.2h0M247.3 941.6h0M219.2 901.6h0M322.7 957.7h0M256.5 984.2h0M318.3 820.3h0M237.5 979.1h0M157.9 904.3h0M112.2 858.6h0M184.3 837.1h0M156.6 1016.1h0M223 927.9h0M315.5 941.2h0M321.7 956.7h0M280.5 832.1h0M233.5 983.6h0M111 1021.5h0M136.5 919.9h0M138.5 925.1h0M236.5 828.2h0M310.6 908.5h0M217.8 947.8h0M182.1 878.6h0M246.3 939.6h0M163.9 974.2h0M166.6 818.4h0M155.3 824.7h0M135.7 982.6h0M187.5 1014.3h0M266.9 826.4h0M320.3 1024.7h0M117.3 1016.1h0M196.2 921.2h0M316.8 869.3h0M217.1 1023.1h0M261.3 919.1h0M318.1 996.4h0M234.9 840.8h0M239.4 916.3h0M146.2 826.8h0M218.1 842.8h0M199.2 963.4h0M202 873.4h0M230.1 908.3h0M273.5 932.9h0M322.2 1026.5h0M263.8 868.1h0M126.3 1013.2h0M274.9 953.8h0M180.6 875.5h0M252.9 940.5h0M232.2 955.6h0M268.1 857.3h0M156.2 1032.5h0M304.1 1010.1h0M109.8 828.7h0M161.1 909.5h0M239.2 838h0M221.1 831.3h0M120.2 965.2h0M223.1 955.2h0M183.8 921.4h0M147.7 891.5h0M266.2 1001.2h0M117.5 841.8h0" stroke="#1c1c1c" stroke-opacity="0.6" stroke-width="1.5" stroke-linecap="round" fill="none"/>
<path d="M280.4 953.6h0M271.5 862.5h0M195.1 872.5h0M280.6 897.1h0M245.9 1034.6h0M173.2 936.9h0M266.4 1019.4h0M195.8 897.1h0M122.5 1009.3h0M118.4 833.7h0M226.1 922.8h0M253 881.5h0M273 832.1h0M148.3 962.1h0M119.1 882.6h0M261.8 969.1h0M163.7 846.9h0M180.3 976.2h0M182.2 841.3h0M258.3 941.5h0M304.7 1023.7h0M303.5 912.4h0M279.1 882.8h0M171.4 903.9h0M308.3 1013.7h0M156.1 895.5h0M182.1 895.8h0M188.7 901.2h0M144.2 940.3h0M277.8 935.1h0M286.5 940h0M140.2 983.5h0M296.3 877.7h0M105.9 929.6h0M221.7 941.1h0M315.3 959.7h0M279.4 829.5h0M222.3 990h0M119.6 833.4h0M264.4 1014.6h0M119.8 955.9h0M132.9 980.6h0M244.9 869.7h0M149.9 985h0M216.7 984.8h0M188.5 890.2h0M315.7 964.4h0M210.5 934.4h0M260.9 972.3h0M303.9 906.3h0M284.2 963.1h0M290.3 994h0M285.9 1012.3h0M313.4 957.2h0M217.2 972.7h0M278.9 908.7h0M194.2 847.7h0M265.4 1035h0M184.3 852.4h0M146.3 909.5h0M165.8 1030.3h0M114.1 883.6h0M126.5 958.9h0M273.1 855h0M114.8 917h0M230.5 1016.9h0M109.1 839.3h0M141.9 863.5h0M153.2 974.3h0M232.9 864.9h0M142 877.6h0M139.3 983.2h0M170.1 936.8h0M282.2 921.6h0M158.8 1012h0M303.7 891.1h0M222.4 1027.5h0M208 864.3h0M112 1025.4h0M278.7 900.6h0" stroke="#1c1c1c" stroke-opacity="0.7" stroke-width="1.9" stroke-linecap="round" fill="none"/>
<path d="M218 929.6h0M161.9 1034.8h0M246.8 867.9h0M103.4 920.1h0M183.4 991.9h0M259.2 949.6h0M135.9 850h0M172.4 872.8h0M293.8 929.7h0M242.2 1035.5h0M160.1 933.8h0M134.4 986.1h0M101.3 997.4h0M288.6 997.5h0M119.3 875.1h0M259.9 836.8h0M207.5 919.2h0M312.9 945.3h0M291.1 882.6h0M276 907.7h0M304.3 835.4h0M284.2 861.5h0M221.5 931.8h0M135.9 999.7h0M170.1 884.2h0M117.9 883h0M204.6 973.8h0M180.8 967.6h0M124.5 902.7h0M203.4 1029.7h0M285 960.3h0M103.7 898.9h0M258.4 867.9h0M226.1 916.8h0M103.3 1035.1h0M278.3 861.1h0M237.6 879.6h0M184.4 934.9h0M167.1 890.1h0M188 963.1h0M157.9 859.6h0M263.2 888.3h0M310.6 940.1h0M261.5 888.8h0M284.4 835.7h0M132.2 836.2h0M251.3 972.3h0M140.9 904.5h0M286.6 946.7h0M121 865.5h0M135.8 842.8h0M191.2 831.4h0M305.1 909.9h0M214.4 958.8h0M271.1 997.3h0M186.6 888.7h0M192.4 818.7h0M189.9 970.4h0M318.7 990.4h0M247.4 950.2h0" stroke="#1c1c1c" stroke-opacity="0.8" stroke-width="2.3" stroke-linecap="round" fill="none"/>
<path d="M105.1 888.7h0M176.9 959.5h0M124.6 899h0M214 990.1h0M284 950.8h0M136.1 985.2h0M301.2 936.8h0M179.2 926.2h0M132.4 973.5h0M319.8 929.7h0M259.6 1000.5h0M144.7 1024.8h0M240.1 859.1h0M119.5 869.5h0M228.8 969.8h0M174 1021.3h0M181.1 917.9h0M128.5 1031.1h0M131.1 1015.7h0M221.5 939.6h0M225.3 873.9h0M302.6 1035.3h0M282.3 948.6h0M128.2 998.1h0M165 1014.2h0M154.4 942.4h0M285.2 856.4h0M222.5 832.2h0M108.1 855.2h0M319.9 1023.6h0" stroke="#1c1c1c" stroke-opacity="0.8" stroke-width="2.8" stroke-linecap="round" fill="none"/>
</g>
</g>
<g clip-path="url(#tc4)">
<rect x="338.25" y="814.25" width="223.75" height="223.75" filter="url(#tn4)"/>
<g filter="url(#sb2)">
<path d="M485.2 883.5h0M488.1 978.8h0M423.9 946.5h0M517.5 818.9h0M383.5 919h0M371 900.9h0M465.5 853.8h0M454.5 873.7h0M465.2 888.9h0M481.5 823.6h0M488 847.3h0M552 948.3h0M443.5 906.5h0M477.6 968.1h0M507.3 981.9h0M447 1035.8h0M525.1 1004.9h0M430 911.5h0M464.8 1016h0M455.9 931.7h0M435.1 1015.8h0M410.4 827.4h0M500.1 1014.9h0M501.6 947.8h0M506 882.8h0M470.8 830.7h0M366.8 914.4h0M450.7 903.2h0M350.8 969.3h0M455.9 868.3h0M407.2 903h0M391.6 830.4h0M541.3 1029.6h0M486.9 1007.4h0M432.7 993.8h0M388.4 980.8h0M464.9 1015.6h0M361.1 991h0M366.7 934.5h0M550.1 815.4h0M393.3 881.6h0M411.3 829.1h0M537.7 996.1h0M427.3 894.3h0M469.1 825.4h0M346.2 1014.5h0M407.5 925.8h0M546.4 1032h0M444.1 861h0M404.7 1019.8h0M538.1 858.6h0M525.1 893.8h0M444 853.4h0M534.3 1036h0M384 955.5h0M381.7 1010.4h0M350.3 838.8h0M500.2 884.7h0M538.9 1008.1h0M497.4 845.2h0M493.6 1023.2h0M438 832.8h0M388.8 883.4h0M496.8 858.8h0M379.4 867.5h0M486.6 990.5h0M421.9 962.1h0M535.4 946.1h0M390 882h0M544.8 963.2h0M400.6 957.2h0M359.2 1033.2h0M436.9 932.4h0M457 825.3h0M472.2 878.3h0M394.9 993.4h0M358.6 878.5h0M506.8 869.8h0M401.1 936.8h0M380.6 1014.2h0M558.3 822.7h0M441.6 981.7h0M424.6 1021.3h0M450.1 855.1h0M462.5 958.3h0M419 961.2h0M512.9 929.8h0M451.4 1002.7h0M491 930.7h0M550.3 853.8h0M512.1 851.9h0M474.1 867.4h0M436.9 986.7h0M513.7 990.7h0M391.6 923.7h0M388.3 943.9h0M449.9 823.1h0M471.6 973.7h0M466.2 1008.8h0M379.2 848.9h0M343.2 925.3h0M435.6 913.2h0M397.6 992.3h0M355.3 1016.4h0M465.4 935.7h0M514.8 868h0M371.7 884.2h0M348.6 885h0M477 931.8h0M398 945.8h0M358.9 997.2h0M377.3 871.8h0M374.7 968.4h0M523.5 989.7h0M352.8 906.3h0M420.1 863.2h0M554.5 824.6h0M447.8 984.1h0M557.9 847.3h0M440.2 980.4h0M347.9 868.6h0M536.6 846.6h0M426.4 881.3h0M433.4 832.2h0M346.8 1036.1h0M508.5 978h0M390.2 871.4h0M461.6 868.8h0M441.6 1022h0M420 890h0M556.8 950.7h0M348 904.6h0M483.3 828.2h0M415.4 969.3h0M530.9 946.2h0M535.8 917.8h0M426.4 1002.2h0M423.8 988.5h0M387 892.3h0M380 937.1h0M375.6 860.4h0M386.8 919h0M407.7 914.4h0M559.5 965.9h0M530.6 860.6h0M424.2 831.4h0M492.6 895.7h0M400.1 819.4h0M379.6 873.4h0M426.4 1020.1h0M497.8 874.8h0M419.3 849.3h0M546.9 895h0M509 975.7h0M540.4 819.8h0M410.7 900.5h0M357.7 1010.9h0M411.4 986.2h0M454.4 827.4h0M426.6 868.1h0M348.3 848.7h0M471.3 822.3h0M408.5 909.3h0M459.9 845.4h0M495.9 873h0M500.1 963h0M371.9 860.7h0M401.4 973.3h0M429.1 901h0M531.3 865.4h0" stroke="#1a1a1a" stroke-opacity="0.5" stroke-width="1.3" stroke-linecap="round" fill="none"/>
<path d="M404 891.7h0M387.1 824.3h0M344.7 955h0M464.7 994.6h0M555.6 881.4h0M487.9 1019.1h0M387.2 968.1h0M487.1 1027.1h0M531.8 867.3h0M479.5 835.2h0M434.1 902.3h0M352.6 900.3h0M412 925.5h0M401.3 850.4h0M428.5 920.6h0M376.2 962.8h0M392.4 835.9h0M415.1 908.9h0M372.7 944.4h0M494.8 937.9h0M494.5 820.4h0M426 896h0M353.2 904.9h0M351.4 925.1h0M469.2 919.2h0M411.4 871.4h0M344.5 892.2h0M537 940.7h0M397.3 963.4h0M380.5 919.3h0M475.7 1026.9h0M419.7 943h0M548.2 986.3h0M478.4 952.9h0M430.4 907.4h0M400.5 999.2h0M534.3 899.9h0M541 823.7h0M369.4 927.7h0M407.7 895.2h0M555.9 848.5h0M381.9 865.9h0M490.1 867.3h0M339.5 935.8h0M426.6 868.3h0M448.7 959.4h0M460.8 953.7h0M463.6 999.5h0M554.1 889.2h0M416.1 1011.8h0M408.7 974h0M493.5 967.5h0M553 998.1h0M374.6 953.1h0M448.1 940.3h0M421.2 878.6h0M505.3 933.7h0M391.8 870.5h0M411.3 854.7h0M453.2 843.2h0M353.3 830.5h0M361.9 971.5h0M364.3 915.4h0M510.5 921.8h0M375.3 1007.3h0M532.1 827.1h0M395.6 927.8h0M515.9 902.2h0M498 871.1h0M498 887.7h0M413.3 983.6h0M526.1 999h0M465.1 908.5h0M496 953.4h0M523.5 992.9h0M367 898.8h0M487.7 866.5h0M380.2 818.3h0M469.1 1023.9h0M554.4 844.9h0M491.7 908.2h0M479.3 903.2h0M546.2 1034.5h0M350 973.4h0M365.5 824.7h0M402.7 977.4h0M559.6 841.9h0M412.4 821.1h0M459.6 922.4h0M422.1 883.8h0M516.8 1001.2h0M402.2 902.1h0M476.2 985h0M556.8 901.6h0M493.2 936.3h0M516.7 847.8h0M378.1 839h0M546.3 871h0M447.5 841.9h0M411 819.5h0M464.7 847.1h0M477.9 876h0M389.7 922.2h0M420.4 872.8h0M350.6 829.5h0M537.2 883.8h0M356.6 855.7h0M446.5 1036.4h0M384.1 1007.6h0M446.6 907.2h0M518.2 903h0M352 937.3h0M484.9 953.4h0M400.7 1023.4h0M531 1035.7h0M437.5 1000.1h0M500 854.2h0M345.2 852.7h0M365.6 831.8h0M418.8 982.4h0M408 929.3h0M341.6 861.8h0M552 817.7h0M456.2 994.9h0M514.9 978.3h0M427.8 993.3h0M522.8 985.5h0M557.9 837.6h0M550 904.5h0M495.6 870.8h0M541 820.5h0M467.2 865.6h0M425.4 897.1h0M484.9 995h0M420.1 956.7h0M417.8 877.2h0M540 886.6h0M360.1 889.5h0M503.7 862.1h0M504.1 936.4h0M490.1 854.6h0M362.7 846.9h0M416.9 910.8h0M341.3 926.7h0M428.7 886.5h0M458.4 1026.4h0M384.6 1010.5h0M410.4 982.5h0M363.3 1034.2h0M434.6 1028.7h0" stroke="#1a1a1a" stroke-opacity="0.65" stroke-width="1.7" stroke-linecap="round" fill="none"/>
<path d="M388 905.8h0M495.8 854.7h0M399.9 965.4h0M549.4 886.7h0M379.9 894.5h0M558.7 848.1h0M480 899.1h0M482 862.3h0M475.9 1012.1h0M529.1 954.6h0M451.2 941.1h0M364.6 1001h0M492.2 915.8h0M486.8 908.2h0M424.5 866.3h0M472.4 942.3h0M453.5 822.4h0M478.4 914.3h0M470.8 947.1h0M545.8 848.9h0M443.2 1035.4h0M502.9 884.6h0M502.6 1034.7h0M428.4 1007.6h0M367.3 1034.8h0M448.1 867.2h0M525.6 959.2h0M547.2 999.1h0M516.1 928.7h0M559.6 829.6h0M532.2 973.1h0M394.8 994.2h0M439.9 934.2h0M531.2 858.7h0M401.3 958h0M355.6 938.3h0M513.8 924.1h0M392.9 992.6h0M528.9 986.2h0M461.1 1016.1h0M515.9 848.9h0M420.4 837.5h0M347.4 891.9h0M531 1000.2h0M365.3 855.5h0M425.4 1003.6h0M476.1 1015.2h0M355.2 1034.3h0M385.1 954.8h0M533.6 976.6h0M382.9 963.5h0M434.8 818.7h0M414.6 885.2h0M478.9 877h0M473 969.3h0M379.3 843.6h0M493.1 918.7h0M367.9 841h0M547.9 950.5h0M418.5 858.7h0" stroke="#1a1a1a" stroke-opacity="0.7" stroke-width="2.2" stroke-linecap="round" fill="none"/>
<path d="M559.9 968.6h0M502.5 895.2h0M408.1 905.8h0M371.7 955.2h0M433.4 997.1h0M429.9 916.5h0M451.6 1024.1h0M416.1 971.3h0M391.4 943.7h0M402.4 1008.8h0M402.8 1004.7h0M489.3 916.1h0M546.3 901.2h0M504.1 948.6h0M438.7 829.5h0M432.2 877.6h0M437 1026.9h0M404.2 969.3h0M488.3 869.5h0M430.5 844.6h0M537.8 871.1h0M432.5 891h0M521.2 1003.8h0M470.2 936.3h0M361.3 1014.1h0M358.8 895.9h0M422.3 975.6h0M487.6 891.5h0M538.4 1025.8h0M344.4 955.6h0M443.3 895.5h0M442.3 885.3h0M488 949.5h0M554.4 1031.8h0M559.4 902.9h0M523 959.4h0M494.7 1036.5h0M354 917.7h0M428.2 960.7h0M387.6 1034.7h0M385.7 897.3h0M371 902.8h0M503.7 833.8h0M376.2 959.2h0M477.4 979.8h0M395.4 995.1h0M501.3 987.3h0M365.8 919.2h0M342.8 1005.9h0M548.7 1013.9h0M344.6 893.1h0M458.1 933.6h0M363.9 990.3h0M406.1 927.7h0M366.9 941.2h0M368 834.8h0M452.8 880.4h0M511.7 870h0M431 827.3h0M387.5 915.4h0" stroke="#dcdcdc" stroke-opacity="0.4" stroke-width="2.4" stroke-linecap="round" fill="none"/>
<path d="M463 917.1h0M527.9 838.4h0M527.8 849.6h0M554.4 931.7h0M429.4 951h0M530.8 1029h0M430.9 817.6h0M373.3 996.7h0M502.1 973.3h0M374 933h0M345.6 839.7h0M405.9 1029.5h0M481.8 1003.2h0M349.5 907.5h0M356.6 873.1h0M364 1019h0M412.2 923.7h0M484.3 1011.9h0M549.1 941.2h0M450.3 1015.7h0M426.7 881.6h0M503.2 872.5h0M420.8 910.4h0M445 894.7h0M434.7 915.2h0M350.2 1000.6h0M352.9 932.3h0M460.7 903.9h0M388.6 837.2h0M421.7 885h0M446.6 866.3h0M505.4 923.3h0M341.2 905.4h0M553.5 816.8h0M470.8 1028.3h0M420.3 947.9h0M421.1 882h0M474.3 946h0M409.1 925.6h0M453.7 982.4h0M351 835.8h0M395.1 875.1h0M515.7 909.6h0M530 904.5h0M402.6 966h0M358.2 1033.5h0M523.6 888h0M409.6 996.9h0M514.1 957.7h0M351.8 984.6h0" stroke="#dcdcdc" stroke-opacity="0.4" stroke-width="3.4" stroke-linecap="round" fill="none"/>
</g>
</g>
<text  font-size="30" transform="translate(166.3 611.3) scale(1 1.03)">pH 7.4</text>
<text  font-size="30" transform="translate(366.8 611.3) scale(1 1.03)">pH 7.4 + US</text>
<text  font-size="30" transform="translate(166.3 847.5) scale(1 1.03)">pH 6.8</text>
<text  font-size="30" transform="translate(366.8 847.5) scale(1 1.03)">pH 6.8 + US</text>
<text  font-size="30" transform="translate(461 1012) scale(1 1.02)">0.2 µm</text>
<rect x="490.5" y="1021.7" width="33.6" height="5.6" fill="#000" />
<text x="5.1" y="587.2" font-size="38.3" font-weight="bold">c</text>
<defs>
<radialGradient id="sphg" cx="0.42" cy="0.38" r="0.72"><stop offset="0" stop-color="#8DBBA9"/><stop offset="0.6" stop-color="#84B2A0"/><stop offset="1" stop-color="#7AA594"/></radialGradient>
<radialGradient id="bfg" gradientUnits="userSpaceOnUse" cx="222" cy="98" r="62"><stop offset="0" stop-color="#C6E6D9"/><stop offset="0.55" stop-color="#B9D9CB"/><stop offset="1" stop-color="#B2CFC2"/></radialGradient>
<radialGradient id="coreg" gradientUnits="userSpaceOnUse" cx="195" cy="104" r="44"><stop offset="0" stop-color="#FCDDD5"/><stop offset="0.45" stop-color="#F9A79B"/><stop offset="1" stop-color="#F4695E"/></radialGradient>
<radialGradient id="pg1" gradientUnits="userSpaceOnUse" cx="451.8" cy="95.8" r="36"><stop offset="0" stop-color="#FDDAD3"/><stop offset="0.5" stop-color="#F9A195"/><stop offset="1" stop-color="#F57C70"/></radialGradient>
<radialGradient id="pg2" gradientUnits="userSpaceOnUse" cx="451.8" cy="389.6" r="36"><stop offset="0" stop-color="#FDDAD3"/><stop offset="0.5" stop-color="#F9A195"/><stop offset="1" stop-color="#F57C70"/></radialGradient>
<radialGradient id="pgs" gradientUnits="userSpaceOnUse" cx="177.5" cy="121.3" r="10"><stop offset="0" stop-color="#FBB0A4"/><stop offset="1" stop-color="#F88478"/></radialGradient>
<radialGradient id="pds" cx="0.48" cy="0.45" r="0.6"><stop offset="0" stop-color="#FFF0EA"/><stop offset="0.55" stop-color="#F2A994"/><stop offset="1" stop-color="#E57F68"/></radialGradient>
<linearGradient id="pdg" x1="0" x2="1" y1="0" y2="0"><stop offset="0" stop-color="#E9876A"/><stop offset="0.14" stop-color="#E25C38"/><stop offset="1" stop-color="#DF5230"/></linearGradient>
</defs>
<circle cx="185" cy="115.7" r="96.6" fill="url(#sphg)"/>
<path d="M184.3 19.2 A96.6 96.6 0 0 1 281.5 115.4 L281.5 115.4 C279.55 119.65 277.22 133.17 269.8 140.9 C262.38 148.63 246.97 157.03 237 161.8 C227.03 166.57 218.72 167.57 210 169.5 C201.28 171.43 193.28 173.15 184.7 173.4 C176.12 173.65 166.68 172.27 158.5 171 C150.32 169.73 139.42 166.67 135.6 165.8 L135.6 165.8 C134.3 159.47 129 138.5 127.8 127.8 C126.6 117.1 127.2 111.42 128.4 101.6 C129.6 91.78 131.07 79.37 135 68.9 C138.93 58.43 145.9 46.43 152 38.8 C158.1 31.17 166.22 26.37 171.6 23.1 C176.98 19.83 182.18 19.85 184.3 19.2Z" fill="#B6D1C4" stroke="#3c4a44" stroke-width="1.1" stroke-linejoin="round"/>
<path d="M184.3 19.2 A96.6 96.6 0 0 1 281.5 115.4 L232.5 115.4 L184.3 67.6 Z" fill="url(#bfg)"/>
<path d="M184.3 19.2 L184.3 67.6 M232.5 115.4 L281.5 115.4 M159.2 141.5 L135.6 165.8" stroke="#3a4641" stroke-width="1.1" fill="none"/>
<path d="M184.3 19.2 A96.6 96.6 0 0 1 281.5 115.4" stroke="#55635d" stroke-width="1" fill="none"/>
<path d="M115 68.6q1.4-1.6 2.3-2 1-.4 1.9-1 .8-.5 1.8-.9 1-.4 .7 .6-.3 1-.5 2-.3 1.1-.9 1.9-.6 .9-1.4 1.6-.7 .8 0 1.5 .7 .8 .6 1.9-.1 1-.6 2-.5 .9-1.3 1.5-.9 .6-.3 1.5 .5 .9 1.4 .3 .9-.6 1.1-1.6 .2-1 0-2-.2-1.1-.1-2.1 0-1.1 0-2.1 .1-1.1 .6-2 .5-.9 .4-2-.1-1 .1-2 .2-1.1 .2 0-.1 1-.3 2-.3 1.1 0 2.1 .3 1 1.4 1.2 1 .1 .6 1.1-.4 1-.5 2 0 1.1 0 2.1 0 1.1-.5 2-.6 .9-1.3 1.6-.7 .8-1.1 1.8-.4 1 .1 1.9 .5 .9 1.4 1.5 .8 .6 .7 1.6-.1 1.1-.8 .3-.7-.8-1.2-1.7-.5-1-1.2-1.7-.7-.8-1.7-1.1-1-.2-1.8 .5M117.3 97.4q-1.8 1.1-2.6 1.7-.9 .6-.5 1.6 .4 1 0 2-.4 .9-1.3 1.5-.8 .6-1.8 .4-1.1-.3-1.1-1.4 0-1 .3-2 .3-1 .8-2 .4-.9-.3-1.7-.8-.8-1-1.8-.2-1-.9-1.8-.7-.8-1.7-1.2-1-.4-1.7 .3-.8 .7-.8 1.8 0 1 .5 1.9 .6 .9-.1 1.8-.6 .8 .3 1.2 1 .4 1.7-.4 .6-.8 1.4-1.5 .8-.7 1.7-.1 .8 .6 1.3 1.5 .5 1 1.3 .4 .9-.6-.1-.9-1-.3-1.9-.9-.8-.6-1.9-.5-1 0-1.5 1-.6 .9-1.6 1.1-1 .2-1.7-.6-.8-.8-1.4-1.6-.6-.9-.6-1.9 0-1.1 .4-2 .4-1 .8-2 .4-.9 .4-2 0-1-.1-2.1 0-1 .8-1.7 .8-.7 1.8-1.1 .9-.5 1.7-1.1 .8-.7 .6-1.8M123.5 77.6q-.4 2-1.4 2-1.1-.1-2-.6-.9-.6-1.8-1-1-.4-1.8-1.1-.8-.7-1.1-1.7-.3-1-.5-2-.1-1.1 .7-1.8 .7-.6 1-1.7 .3-1 .2-2-.1-1.1 .6-1.8 .8-.7 1.6-1.4 .8-.7-.2-.2-.9 .5-1.9 .1-.9-.4-1.3 .6-.3 1 .3 1.8 .7 .8 1.5 1.5 .7 .8 1.6 1.2 1 .5 .8 1.6-.2 1 .5 1.8 .7 .8 .3 1.7-.4 1 .3 1.8 .7 .7 1.7 .9 1.1 .1 .9 1.1-.3 1-.3 2.1 0 1 .3 2.1 .2 1-.1 2-.4 1-.9 1.9-.6 .8-1.5 1.4-.9 .5-1.9 .4-1.1-.1-2.1-.3-1.1-.2-2.1-.3-1-.2-2-.6-1-.4-1.7-1.1-.8-.7-1.7-1.3-.8-.6-1.6-1.4-.7-.7-.7-1.7 .1-1.1-.7-1.8-.7-.7 .2-.3M116.2 67.7q1.9 .7 2.9 1.1 1 .3 2.1 .2 1 0 2.1 0 1 0 .8 1-.1 1-.8 1.9-.6 .8-1.5 1.4-.8 .7-1.3 1.6-.4 .9-.9 0-.5-.9-.7-1.9-.2-1.1-.9-1.9-.7-.8-1.4-1.5-.7-.8-1.6-1.4-.9-.6-1 .5-.1 1-1.1 .7-1-.3-1.2 .7-.3 1-.5 2-.2 1.1-1.1 1.6-1 .5-.6 1.5 .3 1-.6 1.5-.9 .6-1.9 1-.9 .4-1.3 1.4-.4 .9-1.1 1.8-.6 .8-.2 1.8 .4 1-.3 1.8-.6 .9 .1 1.7 .7 .8 .7 1.9 .1 1 1.1 1.2 1.1 .1 2.1 .5 1 .3 1.2 1.3 .1 1.1 .5 2.1 .3 1 .4 2 .2 1-.4 1.9-.6 .9-1.2 1.7-.7 .8-1.3 1.7-.6 .8-1.6 .4-.9-.5-1.1-1.5-.3-1-.7-2-.5-.9 .5-.5M112 71.3q-.7 2-1.8 2-1 .1-.6 1 .4 1 1.4 1.2 1 .2 1.8-.5 .8-.8 .3-1.7-.5-.9 .1-1.7 .6-.9 1.6-1.2 1-.2 1.5 .7 .6 .9 1.6 1.1 1 .3 2 .5 1.1 .2 1.8-.5 .7-.8 1.8-.9 1-.1 1.3 .9 .2 1-.8 1-1.1-.1-1.2-1.1-.1-1.1-.9-1.8-.8-.7-1-1.7-.3-1 .6-1.5 .9-.5 1.1 .5 .1 1.1-.1 2.1-.2 1-.8 1.9-.6 .9-1.6 .5-1-.4-1.9 .2-.9 .5-1.8 0-.9-.4-.7-1.5 .3-1 1.3-1 1.1 0 2.1-.2 1-.2 1.7-1 .7-.8 1.8-.7 1 0 0 .2-1.1 .2-2.1 .3-1.1 .1-1.8 .8-.8 .7-.8 1.7 .1 1-.7 1.8-.8 .7-1.3 1.6-.4 .9-1.5 .9-1 0-1.4 .9-.4 1-1 1.9M113.2 72.4q-1.5-1.5-1.3-2.6 .1-1 1.2-1.1 1 0 1.2 1 .2 1 1 1.8 .7 .7 .7 1.8 0 1 1 .9 1.1-.1 1.6-1.1 .5-.9-.5-1.2-1.1-.3-1.4-1.3-.3-1-1.4-1.1-1-.2-2-.3-1.1-.1-.9 .9 .2 1 .4 2.1 .2 1 .4 2 .2 1 .3 2.1 .1 1 0 2.1 0 1 .4 2 .5 .9 1.5 .6 1-.3 2-.4 1.1-.1 1.8-.9 .7-.7 1.2-1.7 .5-.9-.2-1.7-.6-.9-1.4-1.6-.8-.7-1.4-1.5-.7-.8-1.7-1.3-.9-.4-2-.2-1 .2-1.9 .6-1 .5-1.8 1.2-.8 .6-.4 1.6 .3 1 1.4 .8 1-.2 1.8-.9 .7-.7 1.8-.7 1 .1 2-.4 .9-.4 1.2-1.4 .3-1 0-2-.4-1-1.5-.8-1 .2-2 .5-1 .3-1.2 1.4M106.7 104.2q2.1-.1 2.1-1.2 .1-1 0-2.1 0-1 .9-1.5 .9-.4 1.4 .5 .4 1 1.3 1.5 .9 .6 .8-.5-.1-1 .1-2 .3-1.1 1.1-1.8 .8-.6 1.7-1.1 1-.4 1.7 .3 .8 .7 .9-.3 .1-1 .6-2 .6-.9 .8-1.9 .2-1 .1-2.1-.1-1-1.1-1.2-1-.2-1.2-1.3-.3-1 .7-1.3 1-.4 2 0 1 .3 .5-.6-.6-.9-1.6-1-1.1-.2-1.8-.9-.8-.8 0-1.4 .9-.7 1.6-1.4 .8-.8 1.8-1 1-.3 1.9 .2 .9 .6 .3 1.4-.6 .9-1.2 1.8-.5 .9-.5 1.9 .1 1.1-.9 1.4-1 .3-1.8-.5-.7-.7-1.3-1.6-.6-.9-1.3-1.6-.7-.8-1.4-1.6-.7-.8-1.7-1-1-.3-1.2-1.3-.3-1-.8-1.9-.6-.9-1.2-1.8-.5-.9 .4-1.5M122 76.7q1.7-1.2 .6-1.1-1 .2-2 .4-1 .2-2-.1-1-.3-1.3-1.3-.2-1-1-1.8-.8-.7-1.6-1.3-.8-.6-1.9-.9-1-.3-1-1.4 0-1 .5-1.9 .5-1-.3-.2-.7 .7-.8 1.8-.1 1-.4 2.1-.2 1-.1 2 .1 1.1 0 2.1-.1 1 .1 2.1 .2 1-.3 2-.5 .9-.2 1.9 .3 1 1.1 1.7 .8 .6 .7 1.7-.1 1-.7 1.8-.7 .8-1.1 1.8-.5 .9-1.4 1.4-1 .4-2 0-.9-.4-1.9-.8-.9-.5-1.6-1.3-.7-.8 .1-1.4 .8-.7 1.7-1.1 1-.5 1.8-1.2 .7-.7 1.8-.7 1-.1 2.1 0 1 0 1.8-.7 .8-.7 1.1-1.7 .3-1 .6-2 .3-1 .5-2.1 .2-1 .5-2 .4-1 .7-2 .3-1 .8-1.9 .5-.9 .9-1.9M107.9 82q.7 1.9 0 2.8-.6 .8-.3 1.8 .3 1 .1 2-.1 1.1-.7 1.9-.6 .9-.4 1.9 .2 1.1 1.2 1.1 1.1 0 2.1 0 1.1 0 1.8 .7 .7 .8 1.5 1.4 .8 .7 1 1.7 .2 1.1 1.2 1.2 1.1 .2 2-.2 1-.5 1.4-1.4 .5-1 .8-2 .3-1 .8-1.9 .5-.9 .1-1.9-.4-1-.5-2-.1-1-.3-2.1-.2-1 .2-2 .4-1 1.4-.6 1 .3 1.4 1.3 .4 .9-.1 1.8-.5 .9-1.6 .9-1 .1-2.1 0-1 0-1.8-.7-.7-.7-1.7-1-1.1-.3-2-.7-1-.4-2-.1-1 .3-2.1 .3-1 .1-.3-.7 .7-.8 .9-1.8 .1-1.1-.4-2-.4-.9-1.1-1.8-.7-.8-.6-1.8 .1-1.1 0-2.1-.1-1.1 .6-.3 .7 .8 1.4 1.6 .7 .8 1.7 .6" fill="none" stroke="#4FA83A" stroke-width="1" stroke-opacity="0.8" stroke-linecap="round" stroke-linejoin="round" />
<path d="M205.5 191.7q1.9-.7 3-.7 1 0 2.1-.3 1-.2 2-.2 1.1-.1 1.9 .6 .8 .7 1.5 1.4 .7 .8 1.4 1.6 .6 .9 0 1.8-.5 .9-.3-.2 .2-1 .1-2-.1-1.1-.6-2-.5-1-1.3-.3-.8 .7-1 1.7-.3 1-1 1.8-.7 .8-1.7 1.1-1 .3-2 .7-1 .3-1.9 .9-.8 .6-1-.5-.1-1 .7-1.7 .8-.7 .1-1.5-.8-.7-1.8-.5-1 .3-1.3 1.3-.3 1-.8 1.9-.5 1 .4 .3 .8-.6 .1-1.3-.7-.8-1.5-1.5-.8-.7-1-1.8-.3-1-1.3-.7-1 .2-.7 1.2 .4 1 1.4 1.3 1 .3 2 0 1-.3 1-1.3 .1-1.1 .1-2.1 .1-1.1 .4-2.1 .3-1 1.1-1.7 .7-.7 1.8-.8 1 0 1.4 1 .3 1-.4 1.7-.7 .8-.3 1.8M221.9 189.1q-.9-1.9-1.3-2.9-.4-1-.8-1.9-.4-1-1.4-1.1-1-.1-1.4 .8-.5 1-.6 2-.1 1.1-1.1 1.2-1.1 .1-2-.3-.9-.5-1.9-1-.9-.5-1.6-1.2-.7-.8-1.5-1.5-.9-.6-.3-1.5 .6-.9 1.4-1.5 .9-.6 1.6 .2 .7 .7 .4 1.7-.3 1-.4 2.1-.1 1 .5 1.9 .6 .8 .6 1.9-.1 1 .5 1.9 .5 .9 1.5 .5 1-.4 1.2-1.5 .2-1-.4-1.8-.7-.9-.9-1.9-.2-1-.2-2.1 .1-1 .1-2.1 0-1 1-1.1 1.1-.1 2-.6 .9-.5 1.8 .1 .8 .7 1.5 1.5 .6 .8 1.2 1.7 .6 .9 1.3 1.6 .7 .8 .2 1.7-.6 .8-.7 1.9-.1 1 .9 1.4 1 .4 2 .6 1.1 .1 1.5 1.1 .4 .9-.6 1.2-1 .4-2.1 .4-1 .1-2-.3M212.4 183.6q.1 2.1 .4 3.1 .3 1 .9 1.8 .7 .9 1.5 1.5 .9 .6 .9-.5 0-1-.3-2-.4-1 .4-1.7 .7-.8 1.7-.3 .9 .5 1.1-.6 .1-1 .2-2.1 0-1-.1-2.1-.2-1-.9-1.8-.7-.7-.7-1.8 .1-1 .8-.2 .7 .8 .3 1.8-.3 1-.7 2-.3 .9 0 1.9 .4 1 .6 2 .1 1.1-.3 2-.4 1-1.3 1.6-.9 .5-1.2 1.5-.3 1-1.3 .7-1-.4-.8-1.4 .3-1 .6-2 .3-1 .8-1.9 .5-1 .7-2 .1-1 1.2-1.2 1-.2 1.7-.9 .8-.8 1.8-1 1-.2 1.9-.8 .8-.6 1.2-1.6 .3-1-.7-.9-1.1 0-1.8 .7-.8 .8-1.2 1.8-.3 .9 0 1.9 .3 1 .3 2.1 0 1-.5 2-.4 1-.9 1.9-.6 .9-1.4 1.5M207.8 190.9q1.5-1.4 2.2-.6 .7 .8 .2 1.7-.5 .9 .1 1.8 .6 .8 1.6 .5 1-.4 .7-1.4-.3-1.1 .5-1.8 .7-.7 1.1-1.7 .4-1 .7-2 .4-1 .4-2 0-1.1 0-2.1-.1-1.1-1-1.6-.9-.5-1.8-1.1-.9-.5-1.7 .2-.7 .7-1.5 1.5-.7 .7-1.6 1.3-.9 .5-1.9 .6-1.1 .1-2.1 .5-1 .3-1.4 1.3-.5 .9-1 1.8-.6 .9-.8 1.9-.1 1-1.2 1.1-1 0 0 .1 1.1 .1 2.1 .1 1.1-.1 2.1-.4 .9-.4 1.7 .3 .8 .7 1.8 1 1 .3 1.9 .9 .8 .6 1.4 1.5 .7 .8 .8 1.8 .1 1.1-.7 1.8-.7 .8-.7-.3 0-1 .6-.2 .6 .9 1.4 .2 .8-.7 1.2-1.7 .3-1 .9-1.9 .5-.9 1.1-1.7 .7-.8 1.6-1.4 .9-.5 1.7-1.2M204.9 186.4q-.8-1.9 .3-1.9 1 .1 1.7-.7 .7-.7 1.7-1 1-.3 1.7-1.1 .7-.9 1.7-1.2 1-.3 1.9 .1 1 .4 1.9 1 .8 .6 1.3 1.6 .5 .9 1 1.8 .6 .9 1.6 .6 1-.3 2-.6 1-.3 2.1-.1 1 .1 2-.3 1-.3 1.9-.8 1-.4 2-.2 1 .2 1.9-.3 .9-.6 0-1.1-.9-.6-.9-1.6 .1-1.1-1-1.2-1-.1-2-.5-1-.3-2-.7-1-.4-2-.3-1 .1-.7 1.1 .4 1 1.5 1 1 0 2.1 .2 1 .2 1.5 1.2 .5 .9 .9 1.8 .5 1-.4 1.5-.9 .5-1.2 1.5-.3 1-1.3 .8-1.1-.2-.9 .9 .1 1 .2 2 .2 1.1-.2 2.1-.3 1-1.1 1.6-.9 .6-1.9 .4-1-.3-1.8 .3-.9 .6 0 1.2 .9 .6 .8-.5M214.9 189q2.1 0 2.9-.6 .9-.7 1.8-.2 .9 .5 2 .4 1-.2 2-.5 1-.3 2.1-.1 1 .2 2 .3 1.1 .2 1.2 1.2 .2 1-.7 1.6-.9 .5-1.5 1.4-.6 .8-1.6 .5-1-.4-2-.5-1.1-.2-2.1-.5-1-.4-1-1.4 0-1.1 .7-1.9 .7-.7 1.5-1.5 .7-.7-.3-.9-1.1-.1-1.8-.8-.8-.7-1.8-.3-.9 .5-.6 1.5 .3 1 1.2 1.5 .9 .6 1.7 1.3 .8 .6 1.6 1.3 .8 .7-.3 .9-1 .1-2 .5-1 .3-1.5 1.2-.5 1-1.5 1-1.1 0-2.1-.1-1-.1-2 .2-1 .4-1.5 1.3-.4 1-.8 2-.3 .9-1.4 .8-1-.1-1.8-.8-.8-.6-1.8-1.1-1-.4-1.3-1.3-.4-1-.6-2.1-.2-1-1.3-1.2-1-.2-1.7-.9-.7-.8-.9-1.8M224.5 184.1q-.2 2.1-.2 3.1 .1 1.1-.2 2.1-.2 1 .1 2 .4 1 .5 2 .1 1.1-.9 1.2-1.1 .2-1.8 1-.8 .7-1-.3-.2-1.1-1-1.8-.7-.7-1.5-1.5-.7-.7-1.3-1.5-.6-.9-.3-1.9 .3-1-.5-1.7-.8-.7-1.2 .2-.5 1-1.3 1.6-.9 .5-1.9 .4-1.1-.1-1.9-.8-.8-.6 .2-.7 1.1-.1 2.1 0 1.1 .1 2.1 .4 1 .3 1.4 1.3 .4 1 .5 2 .1 1-1 1.2-1 .2-1.3 1.2-.3 1-.3 2 .1 1.1 .1 0 0-1 .7-1.8 .7-.8 1.1-1.7 .4-1 1.4-1.4 1-.3 .9 .7 0 1.1 0 2.1 0 1.1 .2 2.1 .2 1-.3 .1-.5-.9-1.5-1.3-1-.3-2-.4-1.1-.1-2-.6-.9-.5-1.2-1.5-.3-1-.6-2.1-.3-1-1.3-.9M204.6 188.8q.9-1.9 .6-2.9-.4-.9 .2-1.8 .5-.9 1.4-1.5 .8-.7 1.8-.6 1.1 0 1.2 1 .1 1.1 1.1 1.3 1 .2 1 1.3-.1 1-1 1.6-.9 .5-1.9 1-.9 .4-2 .2-1-.2-1.3 .8-.4 1-.9 1.9-.6 .8-1.2 1.7-.6 .9-1.3 0-.6-.8-.5-1.9 .2-1 .2-2.1 .1-1 1.1-1 1.1 0 1.9 .6 .9 .6 1.9 .8 1.1 .1 2.1 0 1-.2 .5 .7-.5 .9-.5 2 0 1 .5 1.9 .5 1 1.2 1.8 .6 .8 1.6 1 1.1 .2 2.1 .3 1.1 .2 2.1 .4 1 .2 1.1-.8 .1-1.1-.9-.7-1 .3-2 .5-1.1 .1-2.1 .4-1 .2-2 .3-1.1 .2-1.7-.7-.7-.8 .3-.9 1.1-.1 1.9-.7 .8-.7 1.2-1.7 .4-1 1.1-1.7 .8-.7 .6-1.8M228.5 187.7q.6-2-.3-2.6-.9-.6-1.9-.8-1-.3-1.7-1.1-.6-.8-1.6-.8-1.1 .1-1.5-.8-.5-.9-.4-2 0-1 .4-2 .4-1 .7 0" fill="none" stroke="#4FA83A" stroke-width="1" stroke-opacity="0.8" stroke-linecap="round" stroke-linejoin="round" />
<path d="M235.7 77.4q-2.1-.6-1.1-1 .9-.5 1.1-1.5 .1-1.1-.6-1.8-.7-.8-1.5-1.5-.7-.7 .1-.1 .9 .6 .6 1.6-.3 1 .7 .6 1-.4 1.4-1.4 .4-.9 .4-2 .1-1 .1-2.1 0-1-.6-1.9-.6-.9-1.2-1.7-.6-.9-.5-2 .1-1 1.1-1.4 .9-.5 1.4 .5 .4 .9 1.4 1.3 1 .5 2 .5 1.1 0 .5-.8-.7-.9 .3-1.4 .9-.5 1.3-1.4 .5-1-.1-.1-.6 .9 .3 1.5 .9 .5 .8-.5-.2-1.1-.8-.2-.6 .9-1.6 1.2-.9 .4-1.7-.3-.8-.7-1.4 .2-.6 .8-1.6 1.1-1.1 .2-2.1 .3-1.1 0-2-.4-1-.4-1.1 .7-.1 1 1 .9 1-.2 1.4-1.2 .4-1-.4-1.6-.8-.7-.4-1.7 .4-.9 .5 .1 .1 1.1-.1 2.1-.1 1-.7 1.9M246.7 77.3q1.7 1.2 2.3 2.1 .6 .8 1 1.8 .5 .9 .2 2-.3 1 .5 1.7 .8 .7 1.8 .7 1.1 0 .2-.5-.9-.5-1.8-1.2-.8-.6-1.8-1-1-.4-2-.3-1 .1-2 .5-1 .3-2 .1-1.1-.2-2-.7-.9-.6-1.8 0-.9 .5-.6-.5 .3-1 .8-1.9 .4-1-.3-1.7-.8-.8-1.7-1.2-1-.4-1.7-1.2-.7-.7-1.1-1.7-.5-.9-1.2-1.7-.7-.8 .3-1 1-.2 1.6-1 .6-.9 1.1 .1 .5 .9 1.3 1.6 .8 .6 .6 1.6-.2 1.1 .3 2 .4 1 0 2-.3 1-1.1 .3-.7-.7-.8 .3 0 1.1 .4 2 .3 1 .2 2.1-.1 1-.4 0-.4-.9 .6-1.1 1.1-.2 1-1.2 0-1.1 .6-1.9 .7-.8-.1-1.5-.7-.7-.5-1.7 .2-1-.2-2M252.1 86.9q1.9-1 2.3-1.9 .5-1 .5-2-.1-1.1-.1-2.1-.1-1.1-.3-2.1-.3-1-.8-1.9-.5-.9-1.3-1.6-.7-.8-.9-1.8-.2-1 .2-2 .4-.9-.1 0-.5 .9-.9-.1-.3-1-1.2-1.5-1-.4-2.1-.5-1-.1-2-.2-1.1-.2-1.7-1-.6-.9-1.5-1.4-.9-.6-.9-1.6 0-1.1-.7-1.9-.7-.8-1.2-1.7-.4-.9-1.3-1.6-.8-.6-1.6-1.3-.7-.7-1.8-.9-1-.2-1.3 .9-.3 1-.3 2 0 1.1-.2 2.1-.3 1-1.1 1.7-.7 .7-.7 1.8 .1 1 1.1 1.3 1 .4 1.7 1.1 .8 .7 1.1 1.7 .3 1 .9 1.9 .6 .9 1.2 0 .7-.8 1.7-.6 1 .2 2 .7 .9 .4 1.8 .9 .9 .5 2 .8 1 .2 1.9 .7 .9 .5 2 .6 1 .1 1.7-.7M242.2 66.3q.4 2 1 2.8 .7 .9 1.7 1.3 .9 .3 1.9-.1 .9-.5 1.8-1.1 .8-.6-.1-.1-.9 .5-1.4 1.4-.4 1-.9 1.9-.5 1-1.1 1.8-.6 .9 .3 1.5 .9 .6 1.9 .7 1 .1 2.1 .3 1 .2 2 0 1.1-.2 .1 .2-1 .4-1.7 1.2-.8 .7-1.6 1.3-.9 .6-.9 1.6 .1 1.1-.3 2.1-.3 .9-1.4 .9-1 0-2-.3-1-.4-1-1.4 .1-1.1 .8-1.8 .7-.8 1.6-1.4 .8-.6 .7-1.7-.1-1 .7-1.7 .8-.6 1.8-1 1-.3 .7-1.3-.4-1 .6-1.4 1-.3 1.7 .4 .7 .7 .2 1.6-.6 .9-1.5 .5-1-.5-1.9-.9-1-.4-1.8-1-.9-.7-1.9-.8-1.1-.1-1.5-1-.4-1-1-1.9-.5-.9 .5-1.1 1-.2 1.8-.9 .8-.7 1.9-.6M244.4 84.1q.9 1.9 1.7 2.6 .8 .6 1.5 1.5 .6 .8 1.6 1.2 .9 .5 .9-.6 0-1-.1-2.1 0-1 .2-2.1 .1-1 .9-1.7 .7-.7 .8-1.8 0-1 0-2.1 0-1 .6-1.9 .5-.9-.4-.5-1 .4-1.7-.4-.7-.8-1.7-1.1-1-.4-1.7-1.1-.8-.7-1.7-1.1-1-.5-1.9-1-.9-.5-2-.6-1-.1-1.4 .8-.4 1-.6 2-.2 1.1 .7 1.6 .9 .6 .5 1.6-.4 .9 .3 1.7 .6 .8 1.6 1.3 .9 .5 1.7 1.2 .7 .7 1.7 1.2 .9 .5 .7 1.5-.2 1.1-.3 2.1-.2 1.1 .8 1.5 1 .4 1.1 1.5 .2 1 0 0-.2-1.1 .4-.2 .5 .9 1.6 .9 1 0 .5-.9-.6-.8-.5-1.9 .1-1 1.1-1.2 1-.2 1.2 .9 .1 1-.2 2-.4 1 0 0M243 66.2q2.1 .1 3.1 .3 1 .2 1.9-.3 .9-.6 .3 .3-.6 .8-1.5 1.4-.9 .5-1.6 1.3-.7 .8-1.5 1.4-.9 .7-1.7 .1-.9-.7-1.7-1.4-.8-.6-1.6-1.3-.7-.7-1.7-1.2-.9-.4-1.7-1.2-.7-.7-1.7-1.1-1-.4-1.6-1.2-.7-.8 .3-.6 1.1 .3 2-.1 1-.4 1.5-1.3 .5-.9 .3-1.9-.3-1.1 .7-1.5 1-.4 1.4 .6 .4 1 .7 2 .4 .9 .3 2-.2 1-1.2 1.4-1 .4-1.9 0-1-.4-1.2-1.4-.1-1.1-1.1-1.4-1-.3 .1-.3 1 .1 2 .5 .9 .5 1.9 .2 1-.3 1.4-1.2 .4-1 0-2-.3-1 0 0 .4 1-.5 1.6-.9 .5-1.4 1.5-.4 .9-.9 1.9-.4 .9-1.1 .1-.7-.8-.4-1.7 .3-1 1-1.9 .6-.8 .7-1.9M251 88.8q-1-1.9-.3-2.7 .7-.8 .3-1.8-.4-1-1.4-.9-1.1 0-2.1-.3-1-.3-1.6-1.1-.5-.9-1.2-1.7-.7-.8-1.1-1.8-.4-1 .3-1.7 .8-.7 .6-1.8-.2-1-.5-2-.2-1-.6-2-.3-1 .2-1.9 .5-1-.2-1.7-.7-.8-1.6-.2-.8 .6-1.8 .9-1 .3-1.7 1.1-.6 .8-1.4 1.5-.8 .7-1.9 .9-1 .2-2 0-1-.2-.2 .4 .8 .7 1.5 1.5 .6 .8 1.6 1.1 1 .3 1.3-.7 .2-1 .3-2.1 0-1-.6-1.9-.6-.8-1.7-.9-1 0-2 .3-1 .3 0 .3 1.1-.1 1.6-1 .4-.9-.4-1.5-.9-.6-1.3 .4-.3 1-1 1.8-.7 .8 .2 .2 .9-.5 1.8-1.1 .8-.6 1.9-.5 1 .1 2.1 .1 1-.1 .4-.9-.6-.9-1.2-1.7" fill="none" stroke="#9AD896" stroke-width="1" stroke-opacity="0.7" stroke-linecap="round" stroke-linejoin="round" />
<path d="M184.3 67.6 C186.58 67.88 193.57 68.22 198 69.3 C202.43 70.38 207.23 71.82 210.9 74.1 C214.57 76.38 217.38 79.72 220 83 C222.62 86.28 224.8 90.22 226.6 93.8 C228.4 97.38 229.82 100.9 230.8 104.5 C231.78 108.1 232.22 113.58 232.5 115.4 L232.5 115.4 C232 117 230.92 122.07 229.5 125 C228.08 127.93 226.92 130.47 224 133 C221.08 135.53 216.37 138.33 212 140.2 C207.63 142.07 203.43 143.43 197.8 144.2 C192.17 144.97 183.33 144.9 178.2 144.8 C173.07 144.7 170.17 144.15 167 143.6 C163.83 143.05 160.5 141.85 159.2 141.5 L159.2 141.5 C158.82 139.25 157.33 132.47 156.9 128 C156.47 123.53 156.43 119.2 156.6 114.7 C156.77 110.2 157.13 105.37 157.9 101 C158.67 96.63 159.92 92.08 161.2 88.5 C162.48 84.92 163.87 82.12 165.6 79.5 C167.33 76.88 169.6 74.52 171.6 72.8 C173.6 71.08 175.48 70.07 177.6 69.2 C179.72 68.33 183.18 67.87 184.3 67.6Z" fill="url(#coreg)" stroke="#111" stroke-width="1.8" stroke-linejoin="round"/>
<path d="M186 81.9q-1.7 .6-2.1 1.4-.3 .8-.1 1.7 .1 .9 1 .8 .9-.2 1.4 .6 .4 .8-.1 .1-.5-.8-1.4-1-.9-.2-.7 .6 .2 .9 1.1 .7 .8-.3 0-.6-.8-.4-1.7-.5-.9-.2-1.5-.8-.6-.7-1.3-1.2-.8-.5-1.7-.7-.9-.2-1.5-.8-.7-.6-1.5-1-.8-.3-1.3-1.1-.6-.7-.5 .2 0 .9 .3 1.7 .4 .9 .3 1.8-.2 .9-.5 1.7-.4 .8-.8 1.6-.5 .8-.4 1.7 0 .9 .9 .9 .9 .1 1.7-.4 .8-.4 .2-1.2-.5-.7 0-1.4 .6-.7 1.5-.9 .8-.3 .8-1.2M181.8 89.8q-1.4-1.2-1.7-2-.3-.8 .5-1.2 .8-.4 1.5 .1 .7 .6 1.3 1.3 .6 .7 .3 1.6-.2 .8-1 .4-.8-.5-1.5-1-.7-.6-1.6-.8-.8-.3-.5-1.1 .4-.8 .2-1.7-.2-.9 .2-1.7 .4-.7 1.3-.6 .9 .2 1.8 .1 .9-.1 1.5 .5 .6 .7 1.4 .3 .9-.4 1.6 .2 .7 .5-.2 .6-.9 .1-1.8 .1-.9-.1-1.4 .7-.6 .7-.8 1.6-.2 .8 .6 1.3 .8 .4 1.3 1.1 .6 .7-.3 .8-.9 0-.8-.8 0-.9 .9-1.3 .8-.3 1.6-.6 .9-.3 0-.2-.9 .2-1.8 .2M179.4 89.3q1.7 .3 2.6 .5 .9 .1 1.7 .6 .7 .5 .8-.3 .1-.9 .1-1.8 0-.9 .6-1.6 .6-.7 .9-1.5 .3-.9-.4-1.4-.7-.6-.5-1.5 .3-.8 0 0-.3 .9-.9 1.5-.6 .7 .1 1.3 .7 .5 1.2 1.3 .5 .7 1.3 .3 .8-.4-.1-.4-.9 0-1.5-.7-.6-.7-.8-1.6-.3-.9-.8-1.6-.6-.7-.9-1.5-.4-.9-.9-1.6-.5-.8-.8-1.6-.3-.8-1-.3-.7 .6-.5 1.5 .1 .9 .3 1.7 .2 .9-.2 1.8-.3 .8-.2 1.7 .1 .9 1 1 .9 .1 1.7 .5 .8 .4 1.6 .8M182 82.2q-1.8-.2-1.6-1.1 .3-.8-.3-1.5-.5-.7-1.2-.2-.8 .5-1.7 .6-.9 .1-1.4-.7-.5-.7 .4-.5 .8 .3 1.2-.5 .4-.8-.5-.6-.9 .2-.1 .7 .7 .5 1.2 1.2 .5 .8 .3 1.7-.2 .8 .1 1.7 .3 .8 .9 .2 .6-.7 1.4-1.1 .9-.4 1.7-.3 .9 0 1.8 .1 .9 .1 1.4 .9 .4 .8 1.2 1.2 .8 .3 0 .6-.8 .3-1.5-.3-.6-.6 .2-.3 .8 .4 .2-.3-.6-.6-1.5-.9-.9-.2-1.2-1.1-.4-.8-.2-1.7 .3-.8 1-.3 .7 .5 1.5 .9 .9 .3 .4 1.1M181.8 78.3q.9 1.6 1.2 2.5 .2 .8 1.1 .5 .9-.2 1.5 .4 .6 .7 1.4 1.1 .8 .3-.1 .3-.9-.1-1.7 .4-.7 .4-1.6 .8-.8 .3-1.1 1.2-.2 .8 .1 1.7 .4 .8 .8 1.6 .5 .7 .7-.1 .2-.9-.6-1.3-.8-.4-1.2-1.3-.5-.8-.9-1.5-.4-.8-1.3-.8-.9 .1-1.8-.1-.9-.2-.5-1 .3-.8 1.2-.7 .8 .1 1.2-.7 .4-.8 .2-1.7-.2-.8-.9-.3-.7 .6-.8 1.5-.2 .9 .6 1.2 .9 .3 1.6-.2 .8-.5 1.6-.8 .9-.2 1.6-.8 .7-.5 .2 .2-.6 .7-1.4 1.1M197.4 84.4q.6 1.7 .6 2.6-.1 .9 .8 1.1 .9 .2 .7-.7-.3-.9 .1-1.7 .3-.8 1.2-.6 .8 .3-.1 .4-.9 .1-1.2 .9-.3 .9-.9 1.6-.5 .7-1.1-.1-.5-.7-.1-1.5 .3-.8 1.1-.5 .8 .4 .7 1.3-.1 .9-1 1.1-.9 .1-1-.8-.2-.9-.8-1.5-.7-.6-1.3 0-.6 .7-1.2 1.4-.5 .7 .1 0 .5-.7 .1-1.5-.4-.8-.2-1.7 .2-.8 .4 0 .2 .9 1.1 .8 .9-.1 1.4 .7 .4 .8-.5 .6-.8-.2-.2-.8 .7-.6 1.2-1.3 .5-.8 .3 .1-.3 .9-.3 1.8M194.8 85.5q-1.3-1.2-.4-1.1 .9 .1 1.8 .1 .9 0 .1-.4-.8-.5-1.7-.3-.8 .2-1.7 .5-.8 .4 .1 .2 .8-.2 1.7-.1 .9 0 1.8 .3 .8 .4 .8-.5 0-.9-.5-.2-.6 .7-.3 1.6 .3 .9 .2 1.7-.1 .9-.3 .1-.2-.9-1-1.2-.9-.4-.8-1.3 .1-.9 .8-1.4 .7-.6 .7 .3-.1 .9 .2 1.8 .3 .8-.4 1.3-.8 .5-1.3-.2-.6-.7 0-1.3 .7-.7 .2-1.4-.4-.8 .3-.3 .7 .6 1.6 .7 .9 .1 1.6 .6 .7 .6 1.6 .7 .9 0 .3 .7-.5 .8-1.4 .9" fill="none" stroke="#5C9BD6" stroke-width="0.9" stroke-opacity="0.85" stroke-linecap="round" stroke-linejoin="round" />
<path d="M206.6 109.7q-.5 1.8 .3 2.3 .8 .6 1.3-.3 .4-.8 1-.1 .7 .8 1.1 1.6 .4 .9 1.1 1.6 .6 .6 .3 1.5-.3 .9 .6 .7 .9-.1 1.9-.2 .9 0 1.7-.6 .7-.6 1.7-.5 .9 .2 1.2-.7 .3-.9 .8-1.8 .5-.8 .9-1.6 .5-.9-.4-.5-.8 .5-1.4 1.2-.6 .8-1.4 1.2-.9 .4-1.8 .5-1 .1-1.9 0-.9-.1-.5-1 .4-.9 .4-1.8 .1-1 .6-1.7 .6-.8 1.3-.3 .8 .6 1.6 .2 .9-.5 1.6 .1 .8 .6-.1 1-.8 .4-.5 1.3 .4 .9 1.3 .9 1 0 1.4-.9 .3-.9-.6-.8-1 0-1.8-.4-.9-.4-.8 .5 0 1-.5 1.8-.5 .8-1.3 .3-.8-.5-1.1 .4-.4 .9-.4 1.9 0 .9 .9 .4 .8-.5 1.7-.2 .9 .3 1.7-.1M212.1 103.4q-.2 1.9-1.1 2.2-.9 .4-.1 1 .8 .5 1.7 .6 1 0 .4 .8-.5 .8-1.1 1.5-.6 .8 0 1.5 .6 .7 1 1.6 .4 .9 1.3 .9 1 .1 .8-.8-.1-1-.9-1.5-.8-.5-.9-1.5-.2-.9 .1-1.8 .2-.9 .4-1.9 .1-.9-.6-1.5-.7-.7-1.6-.2-.8 .4-1.3-.4-.5-.8-.7 .2-.1 .9-1 1.4-.8 .4-1.4 1.2-.5 .8-1.4 .4-.9-.3-1.8-.6-.9-.2-.5 .7 .5 .8 .8 1.7 .3 .9-.6 1-.9 .2-1.9 0-.9-.2-.2 .5 .7 .6 1.6 .7 1 0 1.6-.6 .7-.7 1.7-.6 .9 .2 .8-.8-.2-.9-.6-1.8-.4-.8-.6-1.8-.1-.9 .7-1.4 .8-.6 .6 .4-.1 .9-.8 1.6-.6 .6-.9 1.6-.2 .9-.9 .3-.8-.6-1.7-.2M205.8 110q.9-1.7 0-2.1-.8-.4-1.8-.4-.9 0-1.6-.7-.6-.7 .1 0 .7 .6 .3 1.4-.5 .8-1.1 1.6-.5 .8-.8 1.7-.3 .9 .7 .8 .9 0 .3-.7-.7-.7-.5-1.7 .1-.9 .5-1.8 .3-.8 1.2-1.3 .9-.4 1.7-.7 .9-.4 1.5 .3 .6 .8 1.5 1 .9 .1 1.5-.6 .7-.7-.1-1.3-.8-.6-.4-1.4 .3-.9 .3 0 .1 1 1 1.3 .9 .3 1.5-.4 .6-.7 0-1.5-.6-.7-1.5-.7-1 0-.7 .9 .3 1-.6 1.2-.9 .3-1.8 .5-1 .3-1.6 .9-.7 .7-1.5 1.2-.8 .6-1.7 .9-.9 .4 0 .8 .8 .5 .5-.4-.3-.9-1.3-.8-.9 .2-.2 .8 .7 .7 1.6 .7 1-.1 1.9-.4 .9-.3 1.6-.9 .7-.7 1.6-.3 .9 .3 1.8 .2M217.8 113.3q1.7-.9 2.5-1.3 .9-.5 .9-1.4 0-1-.8-1.6-.7-.5-.4-1.4 .3-.9-.5-.4-.8 .5-1.5-.1-.7-.6-.7-1.6 .1-.9 .2 0 0 1-.4 1.8-.5 .8-1.3 .2-.8-.5-1.5-1.1-.7-.6 .2-1 .8-.3 .8 .6 0 1-.9 .6-.9-.3-1-1.2 0-1-.7-.3-.6 .7-1.4 1.3-.7 .6-1.5 1.1-.8 .5-1.1-.4-.4-.9-.6-1.8-.2-.9-.1-1.9 .1-.9-.2 0-.3 .9 .7 1.1 .9 .1 1.8 .2 1 .1 1.9-.3 .9-.3 .6 .6-.2 1 .6 1.5 .9 .5 1.1 1.4 .2 .9 .8 1.7 .5 .8-.3 1.2-.9 .4-1.5 1.1-.6 .7-1.4 1.3-.7 .6-1.5 1.2-.7 .6-.5 1.5 .3 .9 1.2 .6 .9-.3 1.7 .1 .8 .5 1.4 1.2 .6 .8 .7-.1M212 103.4q.3 1.9 .9 2.6 .5 .7 1.3 1.3 .8 .5 1.7 .6 1 .1 1.9 .4 .9 .4 1.6-.2 .8-.5 0-.1-.9 .5-.8 1.4 .2 .9 1.1 .9 1 0 1.3 .9 .3 .9-.7 1-.9 0-1.6 .7-.7 .6-.7 1.6 0 .9 .3 1.8 .4 .9-.3 .2-.6-.7-.3-1.6 .3-.9 .1-1.8-.2-.9-1-.3-.8 .5-.9 1.5-.2 .9-1.1 1-1 .1-.6-.8 .3-.9 .4-1.8 .1-1-.4-1.7-.6-.8-1.5-1.1-.9-.3-.8 .6 .2 .9-.5 1.6-.7 .6-.4 1.5 .3 .9-.4 1.5-.7 .7 .1 1.1 .9 .5 1.5-.2 .6-.8 1.4-1.3 .8-.5 .9-1.4 .2-.9 1-1.4 .8-.5 1.6-1 .9-.5 .6-1.4-.2-.9 .2-1.8 .4-.9 1.3-1.1 .9-.2 .6 .7-.2 .9-1.2 1.2M219.1 113.5q-1.9 .1-1.8 1 .1 1 .9 1.4 .9 .5 .7-.4-.1-1-.5-1.8-.4-.9-.5-1.9 0-.9-.9-.6-.9 .3-1.4 1.1-.6 .8-1.4 1.2-.9 .3-1.1-.6-.3-.9 .2-1.7 .4-.9 .6-1.8 .1-1-.8-1.3-.8-.4-1.6 .1-.8 .5-1 1.5-.2 .9-.6 1.8-.4 .8-.7 1.7-.3 .9-1.1 .4-.8-.6-1.3-1.3-.6-.8-1.5-.5-1 .2-1.1-.7-.1-1 .7-1.6 .7-.5 1.5-1 .8-.5 1.1-1.4 .2-1-.7-.7-1 .2-1.1 1.1-.2 1-1.1 1.3-.9 .4-1.2 1.3-.3 .9 .6 1.3" fill="none" stroke="#8FD6A2" stroke-width="0.9" stroke-opacity="0.8" stroke-linecap="round" stroke-linejoin="round" />
<path d="M167.06 113.51 L169.71 110.86 L173.52 112.52 L177.5 110.53 L181.31 112.35 L185.12 110.86 L188.1 113.68 L186.45 117.49 L188.1 121.3 L186.45 125.28 L188.1 129.09 L185.29 131.9 L181.31 130.08 L177.5 132.23 L173.69 130.25 L169.88 131.9 L166.9 129.09 L168.55 125.28 L166.73 121.3 L168.55 117.49Z" fill="url(#pgs)" stroke="#F0554E" stroke-width="1.02" stroke-linejoin="round"/>
<path d="M167.06 113.51 L169.71 110.86 L173.52 112.52 L173.03 116.5 L168.55 117.49Z" fill="#F5766A" fill-opacity="0.3" stroke="#F0554E" stroke-width="0.94" stroke-linejoin="round"/>
<path d="M181.31 112.35 L185.12 110.86 L188.1 113.68 L186.45 117.49 L181.97 116.66Z" fill="#F5766A" fill-opacity="0.3" stroke="#F0554E" stroke-width="0.94" stroke-linejoin="round"/>
<path d="M186.45 125.28 L188.1 129.09 L185.29 131.9 L181.31 130.08 L181.81 125.94Z" fill="#F5766A" fill-opacity="0.3" stroke="#F0554E" stroke-width="0.94" stroke-linejoin="round"/>
<path d="M168.55 125.28 L173.19 126.1 L173.69 130.25 L169.88 131.9 L166.9 129.09Z" fill="#F5766A" fill-opacity="0.3" stroke="#F0554E" stroke-width="0.94" stroke-linejoin="round"/>
<path d="M169.71 110.86 L169.12 105.89 L164.91 104.57 M169.12 105.89 L172.53 103.51 M167.06 113.51 L162.42 112.85 M185.12 110.86 L185.88 106.22 M185.29 131.9 L185.88 136.54 M169.88 131.9 L169.22 136.54 M166.9 129.09 L162.42 129.75 L159.61 126.44 M162.42 129.75 L160.93 134.06 M174.02 113.02 L177.33 111.19 M182.14 112.85 L184.95 111.59 M168.89 116.83 L172.7 116.16 M167.33 122.13 L169.05 124.78 M187.67 122.13 L186.02 124.78 M182.47 126.44 L182.04 129.58 M174.35 129.91 L177.4 131.57 M167.89 129.25 L170.11 131.24 M188.1 113.68 C188.68 113.49 190.81 113.21 191.58 112.52 C192.35 111.83 192.71 110.75 192.74 109.54 C192.77 108.32 191.86 106.09 191.75 105.23 C191.64 104.37 192.02 104.54 192.08 104.4 M188.1 129.09 C188.68 129.31 190.81 129.64 191.58 130.41 C192.35 131.18 192.69 132.62 192.74 133.72 C192.8 134.83 192 136.29 191.91 137.04 C191.83 137.78 192.19 138 192.24 138.2" fill="none" stroke="#F0554E" stroke-width="1.06" stroke-linecap="round" stroke-linejoin="round"/>
<path d="M301 96.3 H362.6" stroke="#000" stroke-width="2.6" fill="none"/><path d="M377.6 96.3 L361.6 87.7 L361.6 104.9 Z" fill="#000"/>
<path d="M301 389.6 H362.6" stroke="#000" stroke-width="2.6" fill="none"/><path d="M377.6 389.6 L361.6 381 L361.6 398.2 Z" fill="#000"/>
<path d="M185 233.8 V295.8" stroke="#000" stroke-width="2.6" fill="none"/><path d="M185 310.8 L176.8 294.8 L193.2 294.8 Z" fill="#000"/>
<text  font-size="30.2" transform="translate(204 282.4) scale(1 1.03)">pH/US</text>
<path d="M420.17 72.21 L428.21 64.17 L439.75 69.19 L451.8 63.17 L463.35 68.69 L474.89 64.17 L483.93 72.71 L478.91 84.25 L483.93 95.8 L478.91 107.85 L483.93 119.39 L475.39 127.93 L463.35 122.41 L451.8 128.93 L440.25 122.91 L428.71 127.93 L419.67 119.39 L424.69 107.85 L419.17 95.8 L424.69 84.25Z" fill="url(#pg1)" stroke="#F4776C" stroke-width="1.2" stroke-linejoin="round"/>
<path d="M420.17 72.21 L428.21 64.17 L439.75 69.19 L438.25 81.24 L424.69 84.25Z" fill="#F5766A" fill-opacity="0.5" stroke="#EC665F" stroke-width="1.1" stroke-linejoin="round"/>
<path d="M463.35 68.69 L474.89 64.17 L483.93 72.71 L478.91 84.25 L465.35 81.74Z" fill="#F5766A" fill-opacity="0.5" stroke="#EC665F" stroke-width="1.1" stroke-linejoin="round"/>
<path d="M478.91 107.85 L483.93 119.39 L475.39 127.93 L463.35 122.41 L464.85 109.86Z" fill="#F5766A" fill-opacity="0.5" stroke="#EC665F" stroke-width="1.1" stroke-linejoin="round"/>
<path d="M424.69 107.85 L438.75 110.36 L440.25 122.91 L428.71 127.93 L419.67 119.39Z" fill="#F5766A" fill-opacity="0.5" stroke="#EC665F" stroke-width="1.1" stroke-linejoin="round"/>
<path d="M428.21 64.17 L426.4 49.11 L413.65 45.1 M426.4 49.11 L436.74 41.88 M420.17 72.21 L406.12 70.2 M474.89 64.17 L477.2 50.12 M475.39 127.93 L477.2 141.98 M428.71 127.93 L426.7 141.98 M419.67 119.39 L406.12 121.4 L397.58 111.36 M406.12 121.4 L401.6 134.45 M441.26 70.7 L451.3 65.18 M465.86 70.2 L474.39 66.38 M425.7 82.25 L437.24 80.24 M420.98 98.31 L426.2 106.34 M482.62 98.31 L477.6 106.34 M466.86 111.36 L465.56 120.9 M442.26 121.9 L451.5 126.92 M422.68 119.9 L429.41 125.92 M483.93 72.71 C485.69 72.12 492.13 71.29 494.47 69.19 C496.81 67.1 497.9 63.84 497.98 60.16 C498.07 56.48 495.31 49.7 494.97 47.11 C494.64 44.51 495.81 45.01 495.98 44.6 M483.93 119.39 C485.69 120.06 492.13 121.07 494.47 123.41 C496.81 125.75 497.82 130.1 497.98 133.45 C498.15 136.8 495.73 141.23 495.47 143.49 C495.22 145.75 496.31 146.42 496.48 147" fill="none" stroke="#F06A70" stroke-width="1.25" stroke-linecap="round" stroke-linejoin="round"/>
<text  font-size="30.2" text-anchor="middle" transform="translate(454.6 108.2) scale(1 1.04)">HP</text>
<path d="M420.17 366.01 L428.21 357.97 L439.75 362.99 L451.8 356.97 L463.35 362.49 L474.89 357.97 L483.93 366.51 L478.91 378.05 L483.93 389.6 L478.91 401.65 L483.93 413.19 L475.39 421.73 L463.35 416.21 L451.8 422.73 L440.25 416.71 L428.71 421.73 L419.67 413.19 L424.69 401.65 L419.17 389.6 L424.69 378.05Z" fill="url(#pg2)" stroke="#F4776C" stroke-width="1.2" stroke-linejoin="round"/>
<path d="M420.17 366.01 L428.21 357.97 L439.75 362.99 L438.25 375.04 L424.69 378.05Z" fill="#F5766A" fill-opacity="0.5" stroke="#EC665F" stroke-width="1.1" stroke-linejoin="round"/>
<path d="M463.35 362.49 L474.89 357.97 L483.93 366.51 L478.91 378.05 L465.35 375.54Z" fill="#F5766A" fill-opacity="0.5" stroke="#EC665F" stroke-width="1.1" stroke-linejoin="round"/>
<path d="M478.91 401.65 L483.93 413.19 L475.39 421.73 L463.35 416.21 L464.85 403.66Z" fill="#F5766A" fill-opacity="0.5" stroke="#EC665F" stroke-width="1.1" stroke-linejoin="round"/>
<path d="M424.69 401.65 L438.75 404.16 L440.25 416.71 L428.71 421.73 L419.67 413.19Z" fill="#F5766A" fill-opacity="0.5" stroke="#EC665F" stroke-width="1.1" stroke-linejoin="round"/>
<path d="M428.21 357.97 L426.4 342.91 L413.65 338.9 M426.4 342.91 L436.74 335.68 M420.17 366.01 L406.12 364 M474.89 357.97 L477.2 343.92 M475.39 421.73 L477.2 435.78 M428.71 421.73 L426.7 435.78 M419.67 413.19 L406.12 415.2 L397.58 405.16 M406.12 415.2 L401.6 428.25 M441.26 364.5 L451.3 358.98 M465.86 364 L474.39 360.18 M425.7 376.05 L437.24 374.04 M420.98 392.11 L426.2 400.14 M482.62 392.11 L477.6 400.14 M466.86 405.16 L465.56 414.7 M442.26 415.7 L451.5 420.72 M422.68 413.7 L429.41 419.72 M483.93 366.51 C485.69 365.92 492.13 365.09 494.47 362.99 C496.81 360.9 497.9 357.64 497.98 353.96 C498.07 350.28 495.31 343.5 494.97 340.91 C494.64 338.31 495.81 338.81 495.98 338.4 M483.93 413.19 C485.69 413.86 492.13 414.87 494.47 417.21 C496.81 419.55 497.82 423.9 497.98 427.25 C498.15 430.6 495.73 435.03 495.47 437.29 C495.22 439.55 496.31 440.22 496.48 440.8" fill="none" stroke="#F06A70" stroke-width="1.25" stroke-linecap="round" stroke-linejoin="round"/>
<path d="M530.8 142.3 C491.5 127 489.5 80 519.5 55.5" fill="none" stroke="#000" stroke-width="2.8"/><path d="M532.8 47.6 L514.6 47.8 L522.2 62.6 Z" fill="#000"/>
<path d="M828.2 142.3 C788.9 127 786.9 80 816.9 55.5" fill="none" stroke="#000" stroke-width="2.8"/><path d="M830.2 47.6 L812 47.8 L819.6 62.6 Z" fill="#000"/>
<text x="536" y="58.7" font-size="30.2" ><tspan font-size="19" dy="-9.5">1</tspan><tspan dy="9.5">O</tspan><tspan font-size="19.5" dy="7">2</tspan></text>
<text x="541" y="156.2" font-size="30.2" >O<tspan font-size="19.5" dy="7">2</tspan></text>
<path d="M530.8 436.1 C491.5 420.8 489.5 373.8 519.5 349.3" fill="none" stroke="#000" stroke-width="2.8"/><path d="M532.8 341.4 L514.6 341.6 L522.2 356.4 Z" fill="#000"/>
<path d="M828.2 436.1 C788.9 420.8 786.9 373.8 816.9 349.3" fill="none" stroke="#000" stroke-width="2.8"/><path d="M830.2 341.4 L812 341.6 L819.6 356.4 Z" fill="#000"/>
<text x="536" y="352.5" font-size="30.2" ><tspan font-size="19" dy="-9.5">1</tspan><tspan dy="9.5">O</tspan><tspan font-size="19.5" dy="7">2</tspan></text>
<text x="541" y="450" font-size="30.2" >O<tspan font-size="19.5" dy="7">2</tspan></text>
<path d="M511.1 85 L531.9 105.8 M511.1 105.8 L531.9 85" stroke="#FF0000" stroke-width="3" fill="none"/>
<path d="M807.2 85 L828 105.8 M807.2 105.8 L828 85" stroke="#FF0000" stroke-width="3" fill="none"/>
<text  font-size="30.2" transform="translate(841.8 58.8) scale(1 1.02)">Ino</text>
<text  font-size="30.2" transform="translate(836.8 156) scale(1 1.02)">Ade</text>
<text  font-size="30.2" fill="#FF0000" transform="translate(841.8 355) scale(1 1.02)">Ino</text>
<text  font-size="30.2" fill="#0BAE4C" transform="translate(836.8 451.6) scale(1 1.02)">Ade</text>
<path d="M595.5 367.4 V336.7" stroke="#E63E4A" stroke-width="3.4" fill="none"/><path d="M595.5 321.2 L587.5 337.7 L603.5 337.7 Z" fill="#E63E4A"/>
<path d="M901.9 367.2 V336.7" stroke="#E63E4A" stroke-width="3.4" fill="none"/><path d="M901.9 321.2 L893.9 337.7 L909.9 337.7 Z" fill="#E63E4A"/>
<path d="M901.9 414.4 V445.1" stroke="#0BAE4C" stroke-width="3.4" fill="none"/><path d="M901.9 460.6 L893.9 444.1 L909.9 444.1 Z" fill="#0BAE4C"/>
<rect x="449" y="171.2" width="100.2" height="56" fill="#D9D9D9" /><text  font-size="30.2" text-anchor="middle" transform="translate(499.1 210.1) scale(1 1.04)">OFF</text>
<rect x="761.4" y="171.2" width="100.2" height="56" fill="#D9D9D9" /><text  font-size="30.2" text-anchor="middle" transform="translate(811.5 210.1) scale(1 1.04)">OFF</text>
<rect x="1074.2" y="171.2" width="100.2" height="56" fill="#D9D9D9" /><text  font-size="30.2" text-anchor="middle" transform="translate(1124.3 210.1) scale(1 1.04)">OFF</text>
<rect x="456.2" y="468.7" width="85.3" height="56" fill="#FF9999" /><text  font-size="30.2" text-anchor="middle" transform="translate(498.9 507.6) scale(1 1.04)">ON</text>
<rect x="769" y="468.7" width="85.3" height="56" fill="#FF9999" /><text  font-size="30.2" text-anchor="middle" transform="translate(811.7 507.6) scale(1 1.04)">ON</text>
<rect x="1081.9" y="468.7" width="85.3" height="56" fill="#FF9999" /><text  font-size="30.2" text-anchor="middle" transform="translate(1124.6 507.6) scale(1 1.04)">ON</text>
<g id="ada"><path d="M731 74.5q1.6 2 2.9 2.2 1.2 .3 2.3-.4 1.1-.7 2-1.7 .8-1 1.1-2.3 .3-1.3 .5-2.5 .3-1.3 .7-.1 .4 1.3-.2 2.4-.5 1.2-.7 2.5-.2 1.3-.8 2.5-.5 1.1 .1 2.3 .6 1.1 1.9 1.1 1.3 .1 2.4 .8 1.1 .8 1.1 2.1 .1 1.3 .8 2.3 .8 1.1 .5 2.4-.2 1.2-.8 2.4-.5 1.2-1 2.4-.6 1.2-1.7 .6-1.2-.6-2.4-1-1.2-.5-2.2 .3-1.1 .8-2.2 1.5-1.1 .7-2.1 1.5-1 .8-2 0-1-.9-1.6 .2-.7 1.1-2 1.3-1.3 .2-2.6 .2-1.3 0-1.4 1.3-.2 1.3-1 2.3-.9 .9-.2-.2 .6-1.1 1.4-2.1 .8-1 2-1.6 1.2-.5 2.5-.7 1.3-.3 2.6-.4 1.3 0 1.3-1.3 0-1.3-.7-2.4-.8-1.1-1.6-.1-.8 1-2 1.5-1.2 .4-2.5 .6-1.3 .2-2.6 .5-1.2 .4-2 1.5-.7 1 .2 .1 1-.8 2.3-1 1.3-.2 2.5-.6M758.8 88.5q-1.8 1.8-3 1.4-1.3-.4-.6-1.6 .6-1.1 1.8-1.7 1.1-.6 2.3-1.2 1.1-.7 2.4-.6 1.3 .2 2.6 .5 1.2 .3 2.1-.7 .9-.9 2-.2 1.1 .7 .8 2-.4 1.2 .3 2.3 .7 1.1-.1 2-.9 1-2.1 1.5-1.2 .5-2.2 1.3-1 .9-.7 2.1 .3 1.3 .3 2.6-.1 1.3-.1 2.6 0 1.3-1 2.2-.9 .9-2.1 .5-1.3-.5-1.5-1.7-.1-1.3-.9-2.4-.7-1.1-1.7-1.9-1-.8-.9-2.1 .2-1.3 .3-2.6 .2-1.3-.1-2.5-.3-1.3-1-2.4-.6-1.1-.6-2.4 .1-1.3 .9-2.3 .8-1 2.1-1.4 1.2-.3 2.5-.2 1.3 0 2.4 .7 1.1 .7 1.5 2 .3 1.2-.5 2.2-.8 1-2 .6-1.3-.5-2.4-1.1-1.2-.6-2.3-1.3-1.1-.7-2-1.6-1-.8-1.4-2.1-.4-1.2-1.1-2.3-.6-1.1 .4-1.9 1-.8 1.4-2.1 .3-1.2 1-2.3 .8-1.1 1.2-2.3 .4-1.2 .4-2.5M745.2 124.8q2.3 1.3 3.6 1.5 1.3 .2 2.6 .1 1.3-.1 2.4 .6 1.1 .6 .9 1.9-.3 1.3-1.3 .5-1-.8-2.3-1-1.3-.2-1.9-1.3-.6-1.2-.5-2.5 .1-1.3-.6-2.4-.7-1.1-1.4-2.2-.7-1.1-1-2.4-.3-1.2 .6-2.1 1-.9 1.5-2.1 .6-1.2-.5-1.9-1.1-.7-2.4-.9-1.3-.2-2.5 0-1.3 .2-2-.9-.6-1.1-.6-2.4 0-1.3-1.2-2-1.1-.6-1.6-1.8-.5-1.2 .6-1.9 1.1-.7 2.4-.8 1.3-.1 2.2-1.1 .8-1 2-.4 1.1 .6 1.8 1.7 .6 1.2 1.8 1.6 1.2 .5 .5 1.6-.7 1.1-1.5 2.1-.9 1 .1 1.8 1 .8 1.8 1.9 .8 1 1.6 2 .9 1 1.1 2.3 .2 1.3 0 2.5-.3 1.3 .3 2.5 .6 1.1 .7 2.4 .1 1.3-.6 2.4-.7 1.1-1.3 2.2-.7 1.2-1.3 2.3-.6 1.2-.5-.1 0-1.3 0-2.6-.1-1.3 .8-2.2 1-.8 2.3-.6 1.3 .2 2.2 1.1M761.2 87.7q2.6-.1 3.8 .5 1.1 .7 1.2 2 .2 1.3 .7 2.5 .5 1.2 1.7 1.5 1.3 .2 2.6 .4 1.3 .1 2.6 .1 1.3-.1 2.6-.2 1.3-.1 .2 .7-1 .8-2 1.6-.9 .9-2.2 1.2-1.3 .4-2.6 .2-1.2-.1-2.5-.3-1.3-.3-2.6-.3-1.3 0-2-1.1-.6-1.1-.4-2.4 .2-1.3 .5-2.6 .2-1.3 .7-2.5 .4-1.2-.2-2.3-.6-1.2-1.8-1.8-1.1-.5-2 .4-1 .9-1.7 1.9-.8 1.1-2 .6-1.3-.4-1.6-1.6-.3-1.3-.7-2.5-.4-1.3-1.1-2.4-.6-1.1-.5-2.4 .2-1.3 1.1-2.2 .9-.9 1.1-2.2 .1-1.3 .3-2.6 .1-1.3 1-2.3 .8-1 2.1-1.4 1.2-.3 2.4 .2 1.2 .5 1.7 1.7 .4 1.2 .5 2.5 .1 1.3 .6 2.5 .5 1.2 1.8 1.2 1.3-.1 2.4-.8 1-.8 2.3-.6 1.3 .2 1.5 1.5 .2 1.3-.6 2.4-.7 1.1-1.1 2.3-.4 1.2 .7 1.9 1.2 .7 1.6 1.9M765.1 84.7q.4 2.6 1.2 3.6 .8 1.1 .6 2.4-.1 1.2-1.4 1.3-1.3 0-2.6 .3-1.3 .2-1.9-.9-.6-1.2-1.9-1.5-1.2-.4-2.4-1-1.2-.5-2.4-.8-1.3-.3-1 .9 .2 1.3 .7 2.5 .6 1.2 .4 2.5-.2 1.3 0 2.6 .1 1.3 1.3 1.8 1.1 .6 1.8 1.7 .7 1.1 2 1.5 1.2 .5 1.8 1.6 .6 1.2 .2 2.4-.3 1.3-1.1 2.3-.8 1.1-1.4 2.2-.6 1.2-1.2 2.3-.6 1.2-1.9 .8-1.2-.3-.8-1.6 .4-1.2 1.1-2.2 .8-1.1-.4-1.5-1.2-.5-2.3 .3-1 .8-.9 2 .2 1.3-.9 1.9-1.2 .6-1.2 1.9 0 1.3-1.2 1.9-1.1 .5-2.4 .8-1.3 .3-2.5 .7-1.2 .4-2.1-.6-.8-1-1.8-1.9-1-.8-.8-2.1 .2-1.3 1.4-1.8 1.2-.6 1.9-1.6 .8-1.1 1.6-2.1 .7-1.1 2-1.1 1.3 .1 1.1-1.2-.3-1.3 .4-2.4 .7-1.1 1.3-2.2 .5-1.2 1.7-1.8 1.1-.6 2.1-1.5M739.5 85.7q-1.8-1.8-3-1.3-1.2 .5-1.4 1.7-.2 1.3-.9 2.4-.7 1.1-.3 2.4 .4 1.2 .9 2.4 .6 1.2 1.8 1 1.3-.2 2.6-.3 1.3-.1 2-1.2 .7-1.1 1.7-2 1-.9 .5-2.1-.5-1.2-.5-2.5-.1-1.3-.4-2.5-.3-1.3-.5-2.6-.3-1.3-.6-2.5-.3-1.3-.5-2.6-.2-1.3-1.4-1.7-1.2-.5-1 .8 .1 1.3 .2 2.6 .1 1.3 1.1 2.1 .9 .9 2.1 1.4 1.2 .5 2.2 1.4 1 .8 1.8-.2 .9-1 1-2.3 .1-1.3-.4-2.5-.5-1.2-1.7-1.6-1.2-.4-2.3-1.1-1.1-.8-2.3-1.4-1.1-.6-2.4-.3-1.3 .2-2 1.3-.8 1-2 1.4-1.2 .4-2.1 1.4-.9 1-2.1 1.5-1.2 .4-2.5 .5-1.3 0-1.3 1.3-.1 1.3 .9 2.2 .9 .8 1.9 1.7 1 .9 1.6 2 .7 1.1 .6 2.4-.1 1.3-.9 2.3-.9 1-2.2 1-1.3 0-2.5 .5-1.2 .4-2.4 1-1.1 .6-.1 1.4M744.7 124.7q1.3 2.3 1.6 3.6 .3 1.2 1.4 .7 1.2-.6 2.4-1.1 1.2-.5 2.5-.9 1.2-.3 1.6-1.5 .4-1.3 1.7-1.6 1.2-.4 2.5-.8 1.2-.3 1.3-1.6 .1-1.3 0-2.6-.1-1.3-.9-2.4-.7-1-.9-2.3-.3-1.3-1.2-2.2-.9-.9-2.1-1.4-1.2-.5-1.3-1.8 0-1.3-.6-2.5-.6-1.1-1.5-2-.9-.9-1.9-1.8-1-.8-2.3-1-1.3-.2-2.3-1-.9-.9-2.2-.6-1.3 .4-2.3 1.1-1 .8-1.9-.2-.8-.9-1.9-.2-1.1 .6-1.3 1.9-.2 1.3-.5 2.6-.3 1.2 1 1.1 1.3-.1 .8-1.3-.5-1.2-1.6-1.9-1.1-.8-1.2-2.1-.2-1.3-.1-2.6 .1-1.3-.4-2.5-.5-1.2-1.7-1.5-1.3-.4-.4-1.4 .8-.9 2-1.5 1.2-.5 1.6-1.7 .4-1.3 1.7-1.2 1.3 0 1.8 1.2 .6 1.2 1.7 1.9 1.1 .7 2-.2 .9-1 1.7 0 .9 1 1.8 1.9 .9 .9 2.2 1.4 1.2 .4 2.3 1.2M730.9 73.8q.5-2.6 .1-1.3-.3 1.2-.1 2.5 .2 1.3 .7 2.5 .4 1.2 1 2.4 .7 1.1 1.9 .9 1.3-.2 2.4 .6 1.1 .7 2.4 1 1.2 .2 1.5 1.4 .4 1.3-.2 2.5-.5 1.2-1.1 2.3-.6 1.2-1.7 1.9-1.1 .6-1.3 1.9-.2 1.3-.1 2.6 .2 1.3 .9 2.4 .7 1.1 2 1 1.3 0 2.6 0 1.3 0 2.6-.2 1.3-.1 2 1 .6 1.1 .5-.2-.1-1.3-.9-2.3-.7-1.1-2-1.4-1.3-.2-2.5 0-1.3 .2-2.6-.1-1.3-.2-2.4-.8-1.2-.7-2.3-1.3-1.1-.7-2.4-.9-1.3-.1-2.4-.8-1.1-.7-2-1.6-.9-1-1.9-.2-1 .8-1.9 1.7-.8 1-.4 2.2 .5 1.2 1.8 1.5 1.3 .4 2.5 .8 1.2 .5 2.4 1 1.2 .5 2.3 1.1 1.2 .6 2.4 .4 1.3-.3 2.5-.7 1.2-.5 1.8-1.7 .6-1.1 1.5-2 1-.9 2.2-1.3 1.3-.3 1.8 .9 .5 1.2-.2 2.3-.8 1.1-.7 2.4M771.7 101.8q.7-2.5 1.5-3.5 .8-1 1.7-2 .8-1 1.9-1.8 1-.7-.2-.2-1.2 .5-1.8 1.6-.6 1.2-1.9 1-1.3-.1-2.2 .8-1 .9-1.6 2.1-.5 1.1-1.8 1.3-1.3 .1-2.2-.9-.9-.9-2-1.6-1.1-.7-1.6-1.9-.5-1.2-1.3-2.3-.7-1-2-1-1.3 0-2.3-.9-.9-.9-1.7-2-.7-1-.7-2.3 0-1.3 .8-2.3 .8-1 .9-2.3 0-1.3 .2-2.6 .3-1.3-.2-2.5-.5-1.2-.6-2.5 0-1.3 .7-2.3 .8-1.1 2.1-1.2 1.3-.2 .9 1.1-.4 1.2-.4 2.5 0 1.3-1.1 2-1.1 .7-2.4 .5-1.3-.3-2.1-1.2-.9-1-2.2-1.3-1.2-.3-2.2-1.2-.9-.9-1.5-2.1-.5-1.1-.9-2.4-.3-1.2-.2-2.5 .1-1.3-.7-2.4-.7-1.1-1.4-2.2-.7-1.1 0 0 .7 1.1 1.4 2.2 .7 1.1 1.2 2.3 .4 1.2 1.3 2.2 .8 1 2.1 1.3 1.3 .2 2.1 1.3 .7 1 .3 2.2M727.4 92q2-1.6 3.2-2.2 1.1-.7 1.8-1.8 .8-1 .6-2.3-.3-1.3 .7-2.1 1-.9 .3-2-.7-1.1 .2-1.9 1-.9 2.2-1.2 1.3-.3 1.2 1-.1 1.3 .5 2.4 .6 1.2 1.2 2.3 .6 1.1 1.7 1.9 1 .8 1.9 1.8 .9 .9 2 1.6 1 .8 2.3 .8 1.3 0 2.2 1.1 .8 1 2 1.3 1.3 .3 2.6 .1 1.3-.2 2.5 .2 1.3 .4 2.5 .2 1.3-.2 2.5-.8 1.1-.6 2.4-.9 1.3-.2 2.4-.9 1.2-.6 1.3-1.9 .1-1.3 .1-2.6 0-1.3-.3-2.5-.2-1.3 1-1.8 1.2-.5 1.6-1.8 .4-1.2 1.5-1.8 1.2-.6 .3 .4-.8 1-1.4 2.1-.5 1.2-1.5 2.1-1 .8-2.1 1.4-1.2 .6-2.5 .6-1.3 .1-2.4 .8-1 .8-1.9 1.7-.9 1-1.5 2.1-.5 1.2-.2 2.5 .4 1.2 1.1 2.3 .6 1.1 1.9 1.6 1.2 .4 2.4 .8 1.2 .5 2 1.6 .7 1 1.1 2.3 .4 1.2 .7 2.5M742.8 113.3q2.6-.4 3.9-.7 1.2-.3 2.5-.2 1.3 .2 2.1 1.2 .8 1 1.9 1.8 1 .7 .8 2-.2 1.3 .3 2.5 .4 1.2 1 2.4 .6 1.2 1.8 .7 1.2-.5 1.9-1.6 .7-1.1 .6-2.4-.1-1.3 1.1-1.9 1.1-.6 2.4-.7 1.3-.1 2.1-1.1 .8-1 1.9-1.7 1.2-.6 2.5-.7 1.2-.2 2.5-.6 1.2-.4 .5-1.5-.8-1-1.8-1.9-1-.8-1.8-1.8-.8-1.1-2-1.5-1.2-.4-1.1 .9 .2 1.3 1.1 2.2 .8 1 2.1 1.3 1.3 .2 2.4-.5 1.1-.7 2.2-1.4 1.1-.7-.2-.9-1.3-.2-2.6 .2-1.2 .4-2.5 .4-1.3 0-2.6 .2-1.3 .2-2.5-.1-1.3-.3-2.6-.1-1.3 .1-1.7 1.3-.4 1.2-.9 2.4-.5 1.2-1.6 2-1 .7-1.2 2-.1 1.3-.2 2.6 0 1.3-.8 2.3-.9 1-1.4 2.2-.5 1.1-.4 2.4 .1 1.3-1.2 1.4-1.3 .1-2.4-.6-1.1-.7-1.3-1.9-.3-1.3-1.4-2.1M750.2 79.5q2 1.6 2.2 2.9 .1 1.3 .7 2.4 .5 1.2 .6 2.5 .1 1.3 0 2.6 0 1.3-.1 2.6-.2 1.3-1.4 1.5-1.3 .2-2.6 .4-1.3 .3-2.1-.7-.8-1-.9-2.3 0-1.3 1-2 1.1-.7 2.1-1.6 1-.9 2.3-.9 1.3 0 2.4 .8 1.1 .7 2.3 .8 1.3 .2 2.6 .6 1.2 .4 .8-.9-.4-1.2-.8-2.4-.4-1.3-1.5-1.9-1.1-.7-2.4-.3-1.2 .5-2.2-.4-.9-.9-2.2-1.2-1.2-.4-2.5-.7-1.3-.3-2.1-1.3-.8-1-1.6-2.1-.7-1.1-1.2-2.2-.6-1.2-.9-2.5-.2-1.3-1.5-1.1-1.3 .2-2.5 .6-1.3 .4-2.6 .1-1.2-.2-2.1 .7-.9 .9-.4 2.1 .5 1.2 .5 2.5-.1 1.3 .2 2.6 .2 1.3 .1 2.6-.2 1.2 1.1 1.5 1.2 .3 2.5 .6 1.3 .2 2.4-.4 1.2-.6 2.4-.5 1.3 .1 1.5 1.4 .1 1.3 .7 2.4 .6 1.2 .2 2.5-.3 1.2 .3 2.4 .6 1.1 1.5 2.1M741.6 92.2q-1.1-2.3 .1-2.9 1.2-.5 1.3-1.8 .1-1.3-.9-2.1-1-.9-2-1.7-1-.9-1.5-2.1-.6-1.1-.5-2.4 .1-1.3-.1-2.6-.3-1.3-.7-2.5-.5-1.2-1.1-2.3-.7-1.1-1.8-1.9-1-.7-1.3 .6-.2 1.3-1.2 2-1.1 .8-2.3 1.4-1.1 .6-2.4 1-1.2 .4-2.1 1.4-.9 .9-1.9 1.7-1.1 .7-2.1 1.5-1.1 .8-2.1 1.6-1 .8 .2 1.2 1.3 .5 2-.6 .7-1.1 .7-2.4 0-1.3 .4-2.5 .4-1.3 .1-2.5-.2-1.3-1.4-2-1.1-.7-2.4-.5-1.3 .1 0 .3 1.3 .2 2.4-.6 1.1-.7 .7-1.9-.5-1.3-.4-2.6 .1-1.2-.1-2.5-.3-1.3 .7-.4 .9 .9 .8 2.2 0 1.3 .3 2.6 .4 1.2 .2 2.5-.2 1.3-1.1 2.2-.9 1-2.1 1.5-1.2 .6-.1 1.3 1 .8 1.5 2 .6 1.2-.5 2-1 .7-1.1 2-.1 1.3-1.2 .7-1.1-.6 .2-.6 1.3 0 2.5 .2M729.4 68.7q2.5-.7 3.5-1.5 1-.9 1.6-2 .7-1.1 .9-2.4 .2-1.2 1.5-1.5 1.3-.3 1.1-1.6-.2-1.3-.3 0-.2 1.3-1.1 2.2-1 .9-1.1 2.2-.1 1.3-1.4 1.4-1.3 .1-2.1 1.1-.8 1-2.1 1.3-1.2 .3-2-.7-.8-1-2.1-1.3-1.3-.2-1.6-1.5-.3-1.2 1-1.1 1.3 0 1.6-1.2 .4-1.3 .2 0-.2 1.3-1.4 1.9-1.2 .6-2.3 1.2-1.1 .7-2.1 1.5-.9 .9-1.6 2-.7 1.2-1.1 2.4-.4 1.2 .8 1.9 1.1 .6 2.4 .7 1.3 .1 1.5 1.4 .1 1.3-1 1.9-1.2 .6-2.1 1.5-.9 .9-1.2 2.2-.3 1.3 .8 1.8 1.2 .5 1.6 1.8 .5 1.2 1.3 2.2 .8 1 1.8 1.9 1 .8 1.6 2 .6 1.1 1.1 2.3 .5 1.2 1.4 .2 .9-.9 1.3-2.2 .3-1.2 .3-2.5-.1-1.3 1.1-1.8 1.2-.6 2.2-1.4 .9-.9 2.1-1.5 1.2-.5 2.4-.2 1.3 .3 2.5-.2 1.1-.6 1.9-1.7M723.6 72.1q2.4-1 3.5-1.7 1.1-.7 2.4-.7 1.3 .1 1.5 1.3 .3 1.3 .9 2.4 .7 1.1 2 1.5 1.2 .4 2.5 .2 1.3-.2 2.6-.3 1.3-.1 2.5 .3 1.2 .5 2.4 .1 1.3-.4 2.4 .2 1.2 .6 2.4 .2 1.3-.4 2.5 0 1.2 .4 2.3 1.2 1 .8 1.7 1.9 .7 1.1-.4 1.7-1.2 .6-2.2 1.4-1 .8-1.9 1.8-.9 .9-2.1 1.5-1.1 .5-2.4 .2-1.3-.2-2.2 .7-.9 1-1.9 1.7-1.1 .7-1.6 1.9-.5 1.2-1.5 2-1 .9-2.3 .4-1.2-.5-2.4-1-1.2-.5-2.4-.9-1.2-.4-2.4-1-1.1-.6-.8 .7 .3 1.2-.2 2.5-.5 1.2 .6 .4 1.1-.7 2.2-1.3 1.2-.6 2.3-1.3 1.1-.7 2.4-.6 1.3 .1 2.4-.6 1.1-.7 2.2-1.4 1.1-.7 1.2-2 .2-1.3-.2-2.5-.4-1.3 .8-.6 1.1 .7 2.4 .5 1.3-.2 2.1 .8 .8 1 1.4 2.2 .6 1.1 .9 2.4 .4 1.3 1.6 .9M736.5 67.4q-1.2-2.3-.2-3.1 1-.9 .3-2-.6-1.2-1.6-2.1-.9-.9-2.2-1-1.3-.2-.8 1 .5 1.2 1.8 1 1.3-.2 2.4-1 1-.7 1.1 .6 .1 1.3 .4 2.5 .4 1.2 .6 2.5 .2 1.3 .8 2.5 .6 1.1 .5 2.4-.1 1.3-1.2 2M773.4 93.8q-1.7 2-1.9 3.3-.2 1.3 .7 2.3 .8 1 1.3 2.2 .6 1.2 1.7 1.8 1.1 .7 2.4 1 1.2 .3 2.4 .8 1.2 .5 2.3 1.3 1 .8-.1 0-1-.7-1.4-2-.4-1.2-1.5-.6-1.1 .6-1.7 1.8-.6 1.2 0 2.3 .7 1.1-.4 1.8-1.1 .7-2 1.7-.9 1-1.6 2.1-.7 1-1.8 1.7-1.1 .7 .2 .6 1.3-.1 2.1-1.2 .7-1.1 2-.9 1.3 .1 1.6-1.1 .3-1.3 1.4-2 1-.8 2.3-.5 1.3 .2 2.3 1 1.1 .7-.1 .4-1.3-.3-2.6-.1-1.3 .1-2.5-.3-1.2-.4-2.4-.9-1.2-.5-2.5-.9-1.2-.3-1.3-1.6-.1-1.3 0-2.6 .1-1.3 1.1-2.1 1.1-.9 2.3-1.3 1.2-.4 2.2 .4 1 .8 1.2 2.1 .1 1.3 1.2 2 1.1 .7 1.8 1.8 .7 1.1-.1 2.1-.8 1-2 .8-1.3-.1-2.6 0-1.3 .1-1.8-1.1-.5-1.2-.1-2.4 .3-1.3 1.3-2.1 .9-.9 1.3-2.2M783.5 112.4q-2.5-.7-3.7-.3-1.2 .4-2.1-.6-.8-1-2-1.5-1.3-.5-2.5-.1-1.3 .3-2.3 1.1-1.1 .7-.9-.6 .1-1.3 .1-2.6-.1-1.3-.1-2.6 .1-1.3 1.4-.9 1.2 .3 2.5 0 1.2-.3 2.2-1.2 .9-.9 1.5-2.1 .6-1.2 1-2.4 .4-1.2 .9-2.4 .5-1.2 1.7-1.6 1.2-.4 0 0-1.2 .4-2.2-.5-1-.9-1.5-2.1-.6-1.1-1.3-2.2-.7-1.1-1.9-1.5-1.3-.4-.3 .4 1 .9 1.8 1.9 .8 1.1 1.5 2.1 .7 1.1 1.8 1.9 1 .8 1.7 1.8 .8 1.1 2.1 1.4 1.2 .2 .3 1.1-.9 .9-1.6 2-.6 1.2-.6 2.5 .1 1.3 1.2 2 1.1 .7-.1 1.3-1.2 .5-2.2-.4-.9-.9-2.1-1.4-1.2-.5-2 .5-.8 1-1.7 2-.9 .9-1.1 2.2-.1 1.3-.6 2.5-.5 1.2 .7 .9 1.3-.2 2.2-1.2 .9-.9 1.9-1.7 1.1-.8 0-1.5-1-.8-2.2-1.3-1.3-.4-2.4-.9M756.2 115.2q2.2 1.4 3.5 1.6 1.3 .2 2.5 .5 1.3 .4 2.1 1.4 .9 1 1.8 1.9 .9 .9 .8 2.2-.1 1.3-.3 2.6-.2 1.3-1 2.3-.8 1-1.7 2-.9 .9-2 .3-1.1-.7-1.7-1.9-.6-1.1-1.2-2.3-.7-1.1-1.7-1.9-1-.8-2.2-1.4-1.2-.5-1.2-1.8-.1-1.3-1.4-1.7-1.2-.4-2.5-.5-1.3-.2-1.4-1.5-.1-1.3 .1-2.6 .2-1.3-.3-2.5-.5-1.2-1.5-2-.9-.9-1-2.2-.1-1.3 .3-2.5 .5-1.2 .6 .1 .1 1.2 1.1 2.1 .9 .9 2.2 1.3 1.2 .3 1.7-.9 .4-1.3-.1-2.4-.5-1.2 0 0 .4 1.2-.8 1.6-1.2 .5-2.5 .5-1.3 .1-1.2 1.4 0 1.3-.7 2.4-.8 1-1.9 .4-1.2-.6-1.7-1.8-.5-1.2-1-2.4-.5-1.2-.6 .1-.1 1.3-.3 2.6-.2 1.3-1.4 .9-1.2-.4-2.4-.9-1.2-.6 .1-.9 1.2-.4 2.1 .6 .9 .9 1.2 2.2 .2 1.2-.8 2.1M763.8 129.8q2.5 .7 2.2-.5-.4-1.3-.6-2.6-.3-1.2-.6-2.5-.3-1.3-.9-2.4-.6-1.2-1.7-1.8-1.1-.7-2.2-1.3-1.2-.7-2.5-.9-1.2-.2-2.5-.6-1.2-.5 0-.9 1.2-.5 2.5-.6 1.3-.1 2.3-1 .9-.9 1.9 0 .9 .9 1.1 2.2 .2 1.3-.4 2.4-.7 1.2-1.8 1.8-1.1 .7-2.4 .5-1.3-.2-2.3-.9-1.1-.8-.9-2.1 .3-1.3 1.3-2 1.1-.8 2.3-.2 1.1 .5 2.4 .6 1.3 0 2.6 .1 1.3 0 2.5-.6 1.1-.7 2.4-.4 1.2 .3 2.1 1.3 .8 1 1.9 1.6 1.2 .6 1.9 1.7 .8 1.1-.5 1.2-1.3 .2-2.2-.7-.9-1-2.2-.9-1.3 0-2.6 .2-1.2 .1-2.5-.3-1.2-.5-2.4-1-1.2-.4-2.2-1.2-1.1-.8-1.1-2.1 0-1.3 .4-2.6 .3-1.2-.4-2.3-.8-1.1-.8-2.4-.1-1.3-.2-2.5-.2-1.3-1-.3-.8 1-.9 2.3-.1 1.3 .7 2.3 .9 .9 2.1 .5M736.9 124.8q.3 2.5 1.6 2.6 1.3 .1 2 1.2 .7 1.1 2 1 1.2-.2 2.5-.1 1.3 .2 2.1 1.2 .8 1.1 1-.2 .1-1.3-.9-2.1-1.1-.7-1.2-2-.2-1.3 0-2.6 .1-1.3-.7-2.3-.9-1-.6-2.2 .2-1.3 .2-2.6 0-1.3 .9-2.2 .9-1 .7-2.3-.1-1.3-1.3-1.6-1.3-.4-2.6-.2-1.2 .3-2.4-.3-1.2-.6-1.7 .6-.5 1.2 0 2.4 .6 1.1 .2 2.4-.4 1.2-1.4 .3-1-.8-2.1-1.5-1.1-.7-2.3-.5-1.3 .3-2.4 1-1.1 .6-1.6 1.8-.5 1.2 .7 1 1.3-.3 2.5 .2 1.2 .4 2.3-.3 1.1-.6 2.1-1.5 1-.8 2.2-.3 1.2 .4 2.4-.1 1.2-.5 2.2 .3 1.1 .8 1.9 1.8 .9 1 2.2 .9 1.3 0 2.6 .2 1.3 .2 2.3 1 1.1 .7 2.4 .6 1.3-.1 1.1-1.3-.3-1.3-.1-2.6 .1-1.3-.8-2.3-.9-.9-1.4-2.1-.5-1.2-1.7-.8-1.3 .5-2.5 1M755.7 126.3q-2.2-1.3-3-2.4-.7-1-1-2.3-.3-1.3 .8-1.9 1.2-.6 2.4-.3 1.3 .2 2.5 .8 1.1 .6 2.2 1.4 1 .8 2 1.6 1 .9 2.2 .4 1.2-.4 2.1 .5 .9 1 1.4 2.2 .4 1.2 1.2 2.3 .7 1.1-.6 1.3-1.3 .2-2.4 .8M748.7 85.4q2.1-1.6 3.2-2.2 1.1-.7 2.1-1.5 1.1-.8 2.4-.8 1.3 0 2.5-.4 1.3-.3 2.5 .1 1.3 .4 2 1.5 .8 1 2 1.2 1.3 .2 2.3-.6 1.1-.8 2-1.7 1-.8-.3-.6-1.3 .2-2.6 .2-1.3-.1-2.4-.8-1.1-.6-1.8 .4-.8 1.1-1.5 2.2-.8 1-1.9 1.6-1.2 .5-2.4-.1-1.1-.6-2-1.6-.9-.9-2.1-1.2-1.3-.3-2.2-1.2-.9-1 .2-.2 1 .8 2 1.7 .9 .9 1.7 1.9 .8 1 2 1.5 1.2 .5 1.6 1.7 .4 1.3 1.3 2.2 .9 .9 1 2.2 .2 1.3 .1 2.6-.2 1.3 .7 2.3 .8 1 1.8 1.8 1 .9 2.3 .9 1.3 .1 2.6-.2 1.2-.3 2.4-.9 1.2-.5 1.9 .6 .8 1 .1-.1-.6-1.1 .2-2.1 .8-1 .8-2.3-.1-1.3-.8-2.4-.6-1.2-.3-2.4 .4-1.3 .3-2.6-.1-1.3 0-2.5 .2-1.3 .1-2.6-.1-1.3-1.3-1.9-1.1-.6-1.9-1.6M774.1 93.1q1.2 2.2 .5 3.3-.7 1.1-1.9 1.6-1.2 .4-2.4 .8-1.3 .4-.9 1.6 .5 1.3 .7 2.5 .2 1.3-1 1.2-1.3-.2-2.5 .4-1.2 .5-2.5 .6-1.3 0-2.4-.5-1.2-.6-1.1-1.9 .1-1.3-.9-2.1-1-.9-1.7-1.9-.8-1.1 .4-1.6 1.2-.5 2.2 .4 1.1 .8 1.9 1.8 .8 1 .7 2.3 0 1.3 .1 2.6 .2 1.3-.9 2-1.1 .7-1.8 1.8-.8 1.1-2 1.4-1.2 .4-2.5 .5-1.3 .1-.5-.9 .9-.9 1.9-1.7 1-.9 2.3-.9 1.3-.1 1.8 1.1 .4 1.2 1 2.4 .6 1.2 .5-.1-.1-1.3 .8-2.2 .9-1 2.2-1.2 1.3-.3 2.6-.3 1.3 .1 2-1 .6-1.1 1.1-2.4 .5-1.2 1-2.4 .5-1.2 .5-2.5 .1-1.3 .1-2.6 0-1.3-.3-2.5-.3-1.3-1-2.4-.7-1.1-1.9-1.5-1.3-.4-2.6-.4-1.3 0-2.1 1-.9 1-2.2 1-1.3 0-2.5-.3-1.3-.3-2.3-1M771.9 91.2q2.1 1.6 1.5 2.8-.6 1.2-1.9 1.4-1.3 .2-2.4-.4-1.1-.7-1.7-1.8-.5-1.2-1.5-2.1-.9-.9-1.9-1.7-1.1-.8-2.3-1-1.3-.3-2.6-.7-1.2-.3-2.3 .4-1 .8-1.9 1.8-.8 1-1.3 2.2-.4 1.2-1.3 2.1-.9 1-1.3 2.2-.4 1.3-1.2 2.3-.8 1.1-1.9 1.7-1.1 .7 .2 .8 1.3 .1 1.2-1.2 0-1.3-.1-2.6-.1-1.3 1.2-1 1.2 .4 2.4 .9 1.1 .6 1.9-.5 .7-1 1.6-2 .8-1 .4-2.2-.5-1.2-1.6-2-1-.8-1.9-1.7-.9-1-.1-2.1 .7-1.1 1.7-1.8 1.1-.8 2.4-1 1.3-.1 2.3 .7 1 .8 1.9 1.7 .9 1 2.1 1.2 1.3 .2 2.6 .3 1.3 .1 2.5 .6 1.3 .4 2.6 .6 1.2 .2 2.5-.3 1.2-.5-.1-.4-1.3 .1-2.6-.2-1.3-.2-1.9 .9-.7 1.1-1.9 1.7-1.1 .6-2.4 .9-1.2 .4-.6 1.5 .7 1.1 1.9 .7 1.3-.4 2.2 .6M770.1 85.7q-2.6-.5-3.6-1.3-1.1-.8 0-1.5 1-.8 2.2-1.4 1.1-.6 1.6-1.8 .5-1.2 .6 .1 .1 1.3 .1 2.6 0 1.3-1.2 1.7-1.2 .3-2.4 1-1.1 .6-1.9 1.6-.8 1-1.4 2.2-.5 1.2-1.4 2.1-.9 .9-2 1.7-1.1 .7-2.4 .8-1.3 .1-1.8 1.3-.6 1.2-1.5 .3-.9-1-.2-2 .8-1.1 1.5-2.2 .7-1 .3-2.3" fill="none" stroke="#66E291" stroke-width="1.05" stroke-opacity="0.85" stroke-linecap="round" stroke-linejoin="round" /><path d="M768.9 105q-1.2 2.3-2.5 2.1-1.3-.2-2.1 .8-.7 1.1-1.6 2-.9 .9-2.1 1.5-1.2 .6-2.5 .5-1.3 0-1.8-1.2-.5-1.2-.4-2.5 .1-1.3-.4-2.5-.4-1.2-1.1-2.3-.6-1.2-.7-2.5-.1-1.3-.8-2.4-.6-1.1-1.7-1.9-1-.7-1.8-1.8-.9-1-1.9-1.8-1-.8-.2-1.9 .8-1 1.2-2.2 .5-1.2 1.5-2.1 .9-.9 1-2.2 .2-1.3 .4-2.6 .1-1.3 .7-2.4 .6-1.2 .9-2.5 .3-1.2 1-2.4 .6-1.1 1.2-2.2 .6-1.2 1.9-1.4 1.3-.2 2.1-1.2 .8-1 1.8-1.8 1.1-.8 2.3-.5 1.3 .2 1.3 1.5 .1 1.3-.6 2.4-.7 1.1 .4 1.8 1.1 .6 .2 1.5-1 .9-1.6-.2-.6-1.1-1.3-2.2-.7-1.2-.7-2.5 0-1.3 .5-2.5 .5-1.2-.4-.3-1 .9-1.8 1.9-.8 1.1-.8 2.4-.1 1.3-1.2 .5-1-.7-.4-1.9 .6-1.1 1.4-2.2 .8-1 1.3-2.2 .5-1.2 1.2-.1M735.6 93.6q-2.4-1.1-3.3-2-.9-.9-1.3-2.2-.4-1.2-.2-2.5 .2-1.3-.3-2.5-.5-1.2-.5-2.5-.1-1.3-.1-2.6 0-1.3 .4-2.5 .5-1.2-.7-1.8-1.2-.5-.5 .6 .7 1.1 2 1 1.3-.1 2.4-.7 1.1-.7 2.4-.9 1.3-.2 1.9 .9 .7 1.2 2 1.2 1.3 .1 2.5 .5 1.3 .4 2.5-.1 1.2-.4 1.9-1.5 .8-1.1 1.3-2.3 .5-1.2 1.5-1.9 1.1-.8 2.2-1.4 1.2-.5 2.4 .1 1.1 .6 2.3 .2 1.3-.4 2.5 .1 1.2 .5 1.7 1.7 .5 1.2 1 2.4 .4 1.2 .4 2.5 0 1.3 .5 2.5 .6 1.2 1.8 1.6 1.3 .3 2.6 .2 1.3 0 2.4-.7 1.1-.8 .8 .5-.2 1.3 .1 2.6 .3 1.3-.9 1.8-1.1 .6-2.4 1-1.2 .4-2.5 .5-1.3 0-2.4-.6-1.1-.7-2.4-.6-1.3 .1-2.4-.7-1-.7-1.8-1.8-.7-1.1-2-.7-1.2 .3-2.5 0-1.3-.2-2.3-1-1-.8-1.7-1.9M736.4 89.2q2.5-.8 2-2-.5-1.2-.6-2.5-.2-1.3-.7-2.4-.6-1.2-1.1-2.4-.6-1.2-1-2.4-.3-1.3-1.2-2.2-.9-.9-2.2-.6-1.2 .4-2.2 1.3-.9 .9-2.2 1-1.3 .1-2.2 1-1 .9-.7 2.2 .3 1.3 .6 2.5 .3 1.3-.9 1.6-1.3 .3-2.1 1.4-.8 1 .5 .7 1.3-.3 1.9 .8 .6 1.1-.2 2.2-.8 1-1.5 2.1-.7 1.1 .2 2.1 .8 1 1.4 2.1 .7 1.2 1.2 2.3 .5 1.2 .7 2.5 .2 1.3-.1 2.5-.4 1.3-.5 2.6 0 1.3-.9 2.2-1 .9 .3 .6 1.3-.2 2.6-.3 1.3-.1 2.3 .7 1.1 .7 .6 1.9-.5 1.2 .3 2.2 .9 .9 2.1 1.3 1.3 .4 2.5 .8 1.3 .3 1.8 1.5 .6 1.2 1.5 2.1 .8 1 2.1 1.2 1.3 .2 1.2 1.5-.1 1.3-.3 2.5-.1 1.3-.4 2.6-.3 1.3-1 .2-.7-1.1-.6-2.4 .2-1.3-.8-2.2-.9-1-1.1-2.2-.3-1.3-.3-2.6M764.1 72.8q-2.5-.8-3.7-.5-1.3 .2-2.6 .3-1.3 0-1.3 1.3-.1 1.3-.7 2.5-.7 1.1-1.7 1.8-1.1 .8-1.9 1.8-.7 1.1-1.8 1.8-1.1 .6-2.4 .6M747.9 72.2q.3-2.5 .1-3.8-.3-1.3-1-2.4-.7-1.1-1.8-1.7-1.2-.6-2.4 0-1.1 .6-1.9-.4-.8-1.1-1-2.4-.2-1.2-.2-2.5-.1-1.3 .8-.4 .9 .9 2.2 1 1.3 0 .9 1.2-.5 1.2-.1 2.5 .4 1.2 1.5 1.8 1.2 .5 2 1.5 .8 1.1 2.1 1.3 1.3 .2 2.5 .1 1.3-.2 2.6 .1 1.2 .3 2.3 1 1.1 .7 1.4 2 .3 1.3 1.3 2.1 1 .9 .5 2.1-.4 1.2-1.7 1.4-1.3 .3-2.6 .5-1.2 .3-2.5 .1-1.3-.2-2.5 .3-1.2 .6-2.3 1.2-1.1 .7-1.1 2 0 1.3-.1 2.6-.1 1.3-.4 2.6-.3 1.2-1.5 1.6-1.3 .4-2.4-.1-1.2-.5-1.9-1.6-.6-1.2-1.6-2.1-.9-.9-2-1.6-1.1-.7-2.3-1.1-1.2-.5-2.4-1.1-1.1-.6-1.8 .5-.8 1.1-2 1.6-1.2 .4-1.1 1.7 0 1.3 .5 2.5 .5 1.2 1 2.4 .6 1.2 1.5 2.1 .9 .9 .3 2.1-.6 1.1-.8-.1M781.9 99.7q2.6 .3 2.7 1.6 .2 1.3 .1 2.6 0 1.3-.2 2.5-.2 1.3-.6 2.6-.4 1.2-1.1 2.3-.7 1.1-.1 2.3 .6 1.1-.6 .6-1.2-.5-1.7-1.7-.6-1.1-1.5-2.1-.8-1-1.4-2.2-.5-1.1-.6-2.4 0-1.3-.3-2.6-.2-1.3-1.4-.8-1.2 .5-2.4 .9-1.3 .4-.4 1.4 .8 1 1.6 2.1 .7 1-.6 .9-1.3-.1-2 1-.6 1.1 .3 .2 .9-1 2-1.6 1.1-.6 1.4-1.9 .3-1.3-.4-2.4-.7-1.1 .4-1.8 1.1-.7 2.2-.2 1.2 .6 1.7 1.8 .4 1.2-.5 2.2-.9 1-2.1 1.4-1.2 .5-1 1.8M771.7 124.8q-1.4 2.1-2.7 2.4-1.3 .3-2.4-.4-1.1-.7-2.3-1.2-1.2-.6-2.4-.3-1.3 .2-2.5-.2-1.3-.5-.6-1.6 .7-1.1 1.2 .2 .4 1.2-.5 2.1-.9 1-1.8 1.9-.9 .9-2.2 1.2-1.3 .3-2.4 .9-1.1 .7-1.7 1.8-.6 1.2-1-.1-.4-1.2-.7-2.5-.2-1.2 0-2.5 .3-1.3 1.3-2 1.1-.8 .8-2.1-.3-1.2-.2-2.5 0-1.3-.2-2.6-.2-1.3-.7-2.5-.4-1.2-1.6-1.9-1.1-.6-2.4-.5-1.3 .1-2.1 1.1-.8 1-.6 2.3 .2 1.3-1.1 1-1.2-.3-1.3-1.6 0-1.3 0-2.6-.1-1.3 .6-2.4 .7-1.1 .4-2.4-.2-1.3-1.1-.3-.9 .9-.1 2 .7 1 1.4 2.1 .7 1.1 0 2.2-.7 1.1-1.4 2.2-.7 1.1-.4 2.4 .3 1.2 .9 2.4 .5 1.2 1.7 1.7 1.2 .5 2.2-.4 1-.9 1.8-1.9 .8-1 1.3-2.2 .4-1.2 .1-2.5-.4-1.2-1.4-2-1.1-.7-2.4-.6M773.4 117.2q2.1-1.6 2.1-2.9 0-1.3-1-.5-1 .9-2.1 .3-1.2-.5-.9-1.7 .4-1.3-.4-2.3-.8-1-1.8-1.9-1-.8-1.9 0-1 .9-1.7 2-.8 1-1.5 2.1-.8 1-2 1.6-1.2 .6-2.4 .7-1.3 0-2.2 1-.8 1-.5 2.3 .3 1.2 1.6 1.5 1.2 .2 1.4 1.5 .2 1.2 1.4 1.8 1.2 .6 1.6 1.8 .5 1.2 .7 2.5 .2 1.2-.5 2.3-.7 1.1-1.9 .8-1.3-.3-2.4-1-1.1-.7-1.7-1.8-.6-1.2-.5-2.5 .2-1.3 .9-2.4 .7-1.1 1.7-1.9 1-.8 .9-2.1 0-1.3-.5-2.5-.4-1.2-.8-2.5-.3-1.3-1.2-.3-.8 1-1.7 .1-.9-1-2.1-1.6-1.1-.7-2.3-.3-1.3 .4-1.1 1.7 .2 1.3 .2 2.6-.1 1.3-.2 2.6 0 1.3 .5 2.5 .5 1.2 1.3 2.2 .9 1 2.1 1.2 1.3 .2 2.5-.4 1.2-.5 2.3-1.1 1.2-.6 1.9-1.7 .7-1.1 1.8-1.7 1.2-.6 2.3-1.3M762 104q-2.4-1.2-3.7-1-1.3 .1-1.8 1.2-.5 1.2-.9 2.5-.3 1.2-1.3 2.1-.9 .9 .3 .4 1.1-.6 2-1.6 .9-1 1.8-1.8 1-.9 2.2-1.4 1.2-.5 2.1 .4 .9 .9 1 2.2 0 1.3-.9 2.2-.9 .9-.7-.3 .2-1.3 .4-2.6 .1-1.3 1.4-1 1.2 .4 2.5 .5 1.3 .1 2.5-.3 1.2-.5 0-.6-1.3-.1-2.5-.7-1.1-.7-2-1.6-.8-1-2.1-1.4-1.2-.4-2.4-.9-1.2-.5-1.3-1.8-.2-1.3-.9-2.4-.7-1.1-.2-2.3 .5-1.2 1.8-1.4 1.3-.3 1.7 1 .4 1.2 1.4 1.9 1.1 .7 .7 1.9-.5 1.2-1.7 1.7-1.2 .5-2.1-.5-.9-.9-.9-2.2 0-1.3-.1-2.6-.1-1.3 .7-2.3 .9-1 1.8-1.9 1-.8 1.6-2 .6-1.1 .7-2.4 .1-1.3-.3-2.6-.4-1.2-.9-2.4-.5-1.2-1.8-1.1-1.3 .1-2.6-.2-1.2-.2-2.1 .8-.8 1-2 1.5-1.2 .4-2.1-.5" fill="none" stroke="#43CC78" stroke-width="1.21" stroke-opacity="0.85" stroke-linecap="round" stroke-linejoin="round" /></g>
<use href="#ada" transform="translate(0 296.5)"/>
<text  font-size="30.2" text-anchor="middle" transform="translate(750.3 107) scale(1 1.04)">ADA</text>
<g id="apd"><path d="M1015.9 71.9q-1.9-1.9-3.2-1.7-1.3 .3-2.7 .3-1.3 .1-2.7 .1-1.3 .1-2.7 .4-1.3 .3-2.6 .5-1.3 .3-2.7 .3-1.3-.1-2.6 .2-1.4 .3-.8 1.5 .5 1.3 1.7 1.9 1.2 .6 1.1 2 0 1.3 .7 2.5 .6 1.2 1.7 2 1 .9 2.4 .6 1.3-.3 2.6-.6 1.3-.2 2.6-.7 1.3-.5 2.2-1.4 1-1 2.3-1.3 1.3-.2 2.7-.5 1.3-.3 2.3-1.2 1-.9 2.1-1.7 1.1-.8 2.4-.7 1.4 .2 2.5-.6 1.1-.8 2.3-1.3 1.3-.5 2.6-.3 1.4 .1 2.5 .9 1 .9 2.3 1.2 1.3 .4 .1-.1-1.3-.4-2.7-.3-1.3 .1-2.6 .3-1.4 .2-2.7 .5-1.3 .3-2.6 .6-1.3 .3-2.2 1.3-.8 1.1-2.1 1.6-1.3 .5-2.6 .8-1.3 .4-2.5 1-1.1 .7-2.2 1.6-1 .8-2.3 1.1-1.3 .3-2.6 .6M1010 91.3q1.2 2.4 1.7 3.6 .5 1.3 1.8 1.1 1.3-.2 1-1.5-.4-1.3-1.7-1.2-1.4 0-2.7-.5-1.3-.4-2.4-1.1-1.2-.6-2.5-.4-1.3 .3-2.7 .4-1.3 0-2.7 .2-1.3 .2-2.1 1.3-.8 1.1-2.2 1.4-1.3 .3-.1-.3 1.3-.6 2.6-.8 1.3-.3 2.6-.6 1.3-.3 2.7-.6 1.3-.2 2.6-.5 1.3-.4 2.2-1.4 1-.9 1.9-2 .8-1 2.1-1.5 1.3-.5 2.6-.8 1.3-.2 2.6-.5 1.3-.3 2.7-.5 1.3-.3 2.6-.7 1.2-.5 2.5-1 1.2-.5 2.6-.8 1.3-.3 2.6-.6 1.3-.3 2.2-1.3 .9-1 2.1-1.6 1.3-.6 .5 .5-.8 1.2-1.9 1.9-1.1 .8-2.4 1.1-1.3 .3-2.6-.2-1.3-.4-2.6-.2-1.3 .3-2.6 .5-1.4 .2-2.7 .4-1.4 .1-2.7 .4-1.3 .2-2.6 .5-1.3 .3-2.6 .8M1000.5 91.9q1.7 2.1 3 2.4 1.3 .4 2.4 1.2 1.1 .8 2.4 .9 1.4 0 2.7-.1 1.4-.2 2.6-.7 1.3-.5 2.1-1.5 .9-1.1 2.2-1.3 1.3-.3 2.7-.6 1.3-.3 2.5-.9 1.2-.6 2.5-.9 1.3-.3 .2-1-1.1-.8-2.2-1.6-1-.9-2.3-.6-1.4 .3-2.7 .6-1.3 .3-2.6 .5-1.3 .3-2.3 1.2-1 1-2.2 1.5-1.3 .5-2.6 .8-1.3 .2-2.7 .2-1.3 0-2.7 .2-1.3 .3-2.6 .5-1.4 .2-2.7 .4-1.3 .2-2.6 .5-1.4 .2 0 .5 1.3 .3 2.2 1.3 .9 .9 2.3 .8 1.3-.1 2.7-.2 1.3-.2 2.6-.5 1.4-.2 2.7-.5 1.3-.2 2.6-.5 1.4-.2 2.7-.5 1.3-.3 2.6-.6 1.3-.3 2.7-.4 1.3-.2 2.4-1 1.1-.8 2.5-1 1.3-.2 2.6-.5 1.3-.2 .8-1.5-.5-1.2-1.8-1.1M1024.1 73.6q2.6 .8 3.9 .6 1.3-.3 2.6-.9 1.2-.5 2.5-.9 1.3-.3 .2 .5-1.1 .8-2.2 1.5-1.2 .7-2.5 .9-1.3 .3-2.6 .6-1.4 .3-2.7 .6-1.3 .3-2.6 .3-1.4 0-2.7 .3-1.3 .3-2.7 .1-1.3-.2-2.3-1.2-.9-.9-2-1.8-1-.8-2.3-.7-1.4 .2-2.7 .5-1.3 .3-2.6 .5-1.4 .3-2.7 .6-1.3 .2-2.6 .5-1.4 .3-2.7 .6-1.3 .3-2.5 .9-1.2 .7-2.5 1.1-1.2 .4-.2 1.3 1 .8 2.3 .6 1.4-.2 2.7-.4 1.3-.2 2.7-.5 1.3-.2 2.5-.9 1.2-.6 1.6-1.9 .3-1.3 0-2.6-.3-1.3-1.6-1.7-1.2-.4-2.6-.3-1.3 .1-1.1 1.4 .2 1.4 .4 2.7 .2 1.3 1.3 2.1 1.1 .8 2.4 .5 1.3-.3 2.6-.4 1.4-.1 2.7-.4 1.3-.3 2.7-.5 1.3-.3 2.6-.5M1015.1 70.3q-2.1 1.6-3.4 1.9-1.4 .3-2.5 1-1.1 .7-2.4 1.3-1.2 .5-2.6 .5-1.3-.1-2.7 .1-1.3 .2-2.6 .5-1.3 .2-2.7 .5-1.3 .3-2.6 .6-1.3 .3-2.6 .6-1.3 .3-.1-.1 1.3-.4 2.7-.6 1.3-.2 2.6-.4 1.3-.3 2.7-.6 1.3-.3 2.6-.5 1.3-.2 2.6-.8 1.2-.5 2.5-.9 1.3-.3 2.7-.5 1.3-.3 2.6-.6 1.3-.3 2.6-.6 1.4-.3 2.6-.7 1.3-.4 2.7-.6 1.3-.3 2.6-.4 1.4 0 2.7-.2 1.3-.2 2.7-.5 1.3-.3 .3 .7-.9 .9-1.5 2.1-.5 1.3-1.5 2.2-1 .9-2.3 1.2-1.3 .4-2.6 0-1.3-.4-2-1.5-.8-1.1-1.9-1.9-1.1-.8-2-1.8-1-.9-2.3-1.2-1.3-.2-2.7-.1-1.3 .1-2.6 .4-1.4 .3-2.7 .6-1.3 .3-2.6 .5-1.3 .3-2.6 .9M1007.2 78q2.6 .4 4 .3 1.3-.1 2.6-.3 1.4-.2 2.7-.1 1.4 .2 2.7-.1 1.3-.3 2.6-.6 1.3-.3 2.7-.5 1.3-.3 2.6-.3 1.4 .1 2.7-.1 1.3-.3 2.7-.5 1.3-.2 .2-1-1.2-.7-2.5-.5-1.3 .1-2.6 .4-1.4 .3-2 1.5-.6 1.2-1.9 1.5-1.3 .3-2.6 .6-1.3 .3-2.7 .6-1.3 .3-2.6 .6-1.3 .3-2.6 .6-1.4 .2-2.7 .5-1.3 .3-2.7 .5-1.3 .1-2.6 .5-1.3 .4-2.6 .7-1.3 .3-2.6 .7-1.3 .3-2.6 .5-1.4 .3-2.7 .6-1.3 .3-2.2 1.2-1 1-.3 2.2 .7 1.1 1.8 2 1 .8 2.3 1.2 1.3 .5 2.6 .6 1.4 0 2.7 0 1.4 0 2.7 .3 1.3 .3 2.6 0 1.3-.3 2.7-.6 1.3-.3 2.6-.6 1.3-.2 2.6-.5 1.4-.3 2.7-.6 1.3-.2 2.6-.5M1011.2 91.4q1.8 2 2.3 3.2 .6 1.3-.3 .2-.8-1-2.1-1.6-1.2-.5-1.1-1.9 .2-1.3 .9-2.4 .8-1.1 1.8-2.1 .9-1 .1-2.1-.8-1.1-.7-2.4 .1-1.4 .4-2.7 .3-1.3 .9-2.5 .6-1.2 .8-2.6 .3-1.3 1.4-2 1.2-.7 1.8-1.8 .6-1.2 1.8-1.9 1.2-.7 2.5-1 1.3-.3 .7 .9-.7 1.2-2 1.4-1.3 .3-2.6 0-1.3-.3-2.7-.2-1.3 .2-2.6 .5-1.4 .3-2.6 .7-1.3 .4-2.6 .1-1.4-.3-2.7-.3-1.4 0-2.7 .3-1.3 .2-2.6 .5-1.3 .3-2.7 .6-1.3 .3-.8 1.6 .4 1.3 1.7 1.3 1.4 .1 2.7-.2 1.3-.2 2.7-.5 1.3-.3 2.6-.5 1.3-.3 2.7-.5 1.3-.2 2.6-.5 1.3-.3 2.7-.4 1.3-.2 2.7-.4 1.3-.1 2.6-.4 1.3-.2 2.7-.5 1.3-.3 2.6-.8M1021.3 82.6q-2.7 .7-4 1-1.3 .2-2.6 .7-1.3 .4-2.5 .8-1.3 .4-2.7 .6-1.3 .1-2.6 .4-1.3 .3-2.7 .5-1.3 .3-2.2 1.3-1 .9-2.3 1.2-1.3 .3-2.5 .8-1.3 .6-2.6 .7-1.4 .2-2.7 .4-1.3 .3-2.6 .5-1.4 .3-.1 .7 1.3 .3 2.6 .7 1.3 .5 2.3-.4 1.1-.8 2.4-1.3 1.2-.4 2.5-.8 1.3-.4 2.7-.6" fill="none" stroke="#1993E8" stroke-width="1.1" stroke-opacity="0.95" stroke-linecap="round" stroke-linejoin="round" /><path d="M1027.1 75.7q2.7-.6 3.9-1.2 1.2-.6 2.4-1.1 1.3-.5 0-.8-1.3-.4-2.7-.2-1.3 .2-2.6 .5-1.3 .3-2.7 .6-1.3 .2-2.6 .5-1.3 .3-2.7 .3-1.3 0-2.7-.1-1.3-.1-2.6 .2-1.3 .3-2.7 .5-1.3 .3-2.6 .6-1.3 .4-2.6 .6-1.4 .3-2.7 .6-1.3 .3-2.6 .5-1.4 .2-2.7 .4-1.3 .2-2.6 .6-1.3 .4-2.6 .7-1.4 .3-2.7 .5-1.3 .3-2.6 .6-1.3 .3 0 .2 1.4 0 2.7-.3 1.3-.3 2.5-1 1.2-.6 2.5-.9 1.3-.2 2.7-.4 1.3-.2 2.6 .3 1.2 .4 2.6 .5 1.3 .1 2.7-.1 1.3-.2 2.6-.4 1.4-.3 2.7-.4 1.4-.2 2.7-.5 1.3-.3 2.6-.5 1.3-.3 2.6 .2 1.2 .5 2.5 .2 1.4-.3 2.6-.8 1.3-.5 2.5-1 1.3-.5 2.6-.8 1.3-.3 2.6-.4M1021.9 91.5q2.7 .1 1.4-.5-1.2-.6-2.5-.3-1.3 .3-2.6 .6-1.3 .3-2.7 .6-1.3 .3-2.5 .8-1.3 .4-2.6 .9-1.2 .6-2.5 .8-1.4 .3-2.7 .6-1.3 .3-2.6-.1-1.3-.4-2.6-.4-1.4 0-2.6 .6-1.3 .6 0 .1 1.3-.4 2.7-.5 1.3-.2 2.3-1.1 1-.9 2.3-1.3 1.3-.4 2.6-.5 1.4-.1 2.7-.5 1.3-.3 2.6-.6 1.3-.2 2.6-.7 1.3-.5 2.6-.8 1.3-.3 2.6-.5 1.3-.3 2.7-.6 1.3-.3 2.5-.9 1.2-.6 2.5-1 1.3-.5 2.6-.8 1.3-.3 .3-1.2-1-.9-2.1-1.8-1-.8-2.4-1-1.3-.2-2.7-.1-1.3 0-2.6 .3-1.4 .2-2.7 .5-1.3 .3-2.6 .7-1.3 .5-1.6 1.8-.3 1.3-1.3 2.2-1 .9-2 1.8-1 .8-2.3 1.3-1.3 .4-2.6 .7-1.3 .3-2.7 .6M1021.1 78q2.6-.5 4-.8 1.3-.3 2.6-.6 1.3-.4 2.6-.7 1.3-.3 2.6-.6 1.3-.3 .3 .6-.9 .9-1.9 1.8-1 1-1.7 2.1-.7 1.2-1.6 2.2-.9 1-2.2 1.5-1.2 .4-2.6 .6-1.3 .3-2.6 .6-1.3 .3-2.7 .5-1.3 .3-2.6 .6-1.3 .2-2.7 .5-1.3 .2-2.6 .5-1.3 .3-2.6 .8-1.2 .5-2.5 .8-1.4 .2-2.7 .5-1.3 .2-2.6 .7-1.3 .4-2.6 .7-1.3 .3-2.6 .6-1.3 .3-2.5-.4-1.1-.7-1.6-2-.4-1.3-.9-2.5-.5-1.3-1.4-2.3-.9-1 .1-.1 1 1 2.2 1.5 1.2 .6 2.6 .7 1.3 .1 2.6 .6 1.2 .4 2.3 1.3 1 .8 2.4 .7 1.3-.1 2.7-.3 1.3-.2 2.6-.5 1.3-.3 2.7-.5 1.3-.3 2.6-.6 1.3-.3 2.6-.6 1.4-.2 2.7-.5 1.3-.3 2.7-.2M1008.8 70.7q2.6-.8 3.7-1.4 1.2-.6 2.6-.7 1.3 0 2.7-.2 1.3-.3 .6 .8-.7 1.2-1.5 2.3-.8 1.1-1.4 2.3-.6 1.2-.9 2.5-.3 1.3-1.1 2.4-.8 1.1-1.9 1.8-1.2 .8-2.5 1.1-1.3 .2-2.6 .5-1.3 .3-2.7 .6-1.3 .2-2.6 .4-1.4 .2-2.7-.1-1.3-.2-2.6 0-1.4 .2-2.7-.2-1.2-.5-2.6-.4-1.3 0-2.7 .2-1.3 .3-.3-.6 1-.9 2.3-1.5 1.2-.5 2.5-.9 1.3-.4 2.6-.7 1.3-.3 2.6-.6 1.4-.2 2.7-.3 1.4-.1 2.7-.4 1.3-.3 2.6-.5 1.3-.3 2.7-.6 1.3-.3 2.6-.6 1.3-.2 2.3-1.1 1.1-.9 2.4-1.2 1.3-.3 2.6-.6 1.3-.3 2.6-.6 1.4-.3 2.7-.6 1.3-.2 2.6-.5 1.4-.3 2.7-.6 1.3-.3-.1-.2-1.3 0-2.5 .6-1.3 .5-2.6 .8" fill="none" stroke="#0C6FBE" stroke-width="1.26" stroke-opacity="0.95" stroke-linecap="round" stroke-linejoin="round" /><path d="M1052.5 66.8q2.6 .6 3.6-.3 1.1-.9 2.3-1.4 1.3-.5 1-1.9-.3-1.3 .6-2.2 1-1 2-1.9 1-.8 2.2-1.6 1.1-.7 2.4-.4 1.3 .4 2.5 1.1 1.1 .6 2.2 1.4 1.2 .8 2.2 1.6 1.1 .8 1.3 2.1 .2 1.3 .2 2.7 0 1.3 .8 2.4 .8 1.1 1.8 1.9 1.1 .9 2.4 1.2 1.3 .2 2.4 1.1 1 .8 2.3 1.4 1.2 .6 2.3 1.3 1.2 .7 0 .1-1.3-.5-2.5-1.1-1.2-.7-2.1-1.6-1-1-2.1-1.7-1.2-.7-2.2-1.6-1-.9-2-1.8-1.1-.8-2.2-1.6-1.1-.8-2.4-1.2-1.3-.3-2.5-1-1.1-.6-2.3 .1-1.1 .8-2 1.8-.9 1 0 2 .9 1 1.6 2.2 .6 1.2 1.7 1.9 1.1 .8 2.3 .1 1.1-.7 2.5-.4 1.3 .4 2.4 1.1 1.1 .8 2.3 1.5 1.1 .7 1.4 2 .2 1.4 .3 2.7M1057.9 86.6q-.3-2.7-1.4-3.4-1.1-.8-2.2-1.6-1.1-.7-2.2-1.6-1-.9-1.6-2.1-.7-1.2-1.6-2.1-.9-1-2-1.9-1-.8-.5 .5 .5 1.2 1.6 2 1.1 .8 2.3 1.4 1.2 .6 2.5 1.1 1.2 .6 2.5 1 1.3 .4 2.5 1 1.1 .7 2.4 1.3 1.2 .6 2.3 1.3 1.1 .8 2.2 1.6 1.1 .8 2.1 1.7 1 .9 2 1.7 1.1 .8 2.2 1.6 1.1 .8 2.2 1.6 1.1 .8 2.1 0 1.1-.9 2.3-1.3 1.3-.5 2.7-.7 1.3-.2 2.6-.5 1.3-.3 2.6 0 1.3 .4 0 .8-1.3 .4-2.6 .5-1.4 .1-2.5-.6-1.1-.8-2.2-1.5-1.2-.7-2.4-1.3-1.2-.6-2.3-1.3-1.2-.8-2.3-1.5-1.1-.7-2.2-1.6-1-.9-2.1-1.6-1.1-.8-2.2-1.6-1.1-.8-2.2-1.5-1.2-.8-2.3-1.6-1-.8-2.2-1.5-1.1-.7-2.1-1.6M1048.2 78q-2.1-1.7-3.3-2.4-1.1-.7-.5 .5 .6 1.2 1.5 2.2 .9 1 2.1 1.7 1.1 .7 2.1 1.6 1.1 .9 2.2 1.6 1.1 .8 2.2 1.5 1.2 .7 2.3 1.5 1.1 .8 2.2 1.6 1.1 .8 2.2 1.6 1.1 .8 2.2 1.5 1.1 .8 2.1 1.6 1 .9 2.1 1.7 1.1 .8 2.3 1.6 1.1 .7 2.2 1.4 1.1 .8 2.2 1.5 1.1 .8 .3-.2-.9-1.1-2-1.8-1.1-.8-2.2-1.6-1.1-.7-2.2-1.5-1.1-.8-1.6-2-.6-1.3-1.6-2.2-1-.8-1.9-1.8-1-1-2.1-1.8-1-.8-2.2-1.5-1.1-.7-2.2-1.5-1.1-.8-2.2-1.6-1-.9-2.2-1.6-1.1-.7-2.2-1.5-1.1-.8-2.2-1.5-1.2-.8-2.4-1.4-1.2-.6 0 .1 1.1 .7 2.3 1.5 1.1 .7 2.2 1.5 1.1 .8 2.2 1.5 1.2 .7 2.1 1.6 1 1 2.1 1.8 1.1 .8 2.1 1.7M1075.3 65q.2 2.7 .7 4 .6 1.2 1 2.5 .4 1.3 1.1 2.5 .6 1.1 2 1.4 1.3 .3 2.4 1.1 1.1 .7 2.2 1.5 1.2 .7 2.3 1.5 1.1 .7-.2 .6-1.4-.2-2.4-1.1-1.1-.8-1.5-2.1-.4-1.3-1.5-2-1.2-.7-2.3-1.5-1.1-.8-2.2-1.5-1.1-.8-2.1-1.7-.9-1-2-1.8-1.1-.7-2.2-1.5-1.1-.8-2.2-1.6-1.1-.9-2.1-1.7-1.1-.8-2.2-1.5-1.2-.8-2.2-1.6-1.1-.9-2.2-1.7-1-.8-1.2 .6-.1 1.3 .7 2.4 .8 1.1 1.5 2.2 .7 1.2 1.6 2.2 .9 1 2 1.8 1.1 .8 2.1 1.6 1.1 .9 2.2 1.6 1.1 .8 2.3 1.4 1.2 .7 1.6 2 .4 1.3-.7 2.1-1.1 .8-1.8 1.9-.7 1.1-1.5 2.2-.8 1.1-2.1 .7-1.3-.3-2.4-1.1-1.1-.7-2.3-1.5-1.1-.7-2.2-1.5-1.1-.8-2.4-1M1056 72.9q-2-1.7-3.1-2.5-1.2-.8-2.2-1.6-1-.9-2.3-.6-1.3 .3-.1 .7 1.3 .4 2.4-.3 1.1-.8 2.5-.7 1.3 .1 2.6 .6 1.3 .4 2.4 1.2 1.1 .8 2 1.8 .8 1 1.8 1.9 1.1 .9 2.2 1.7 1.1 .7 2.2 1.5 1.1 .8 2.2 1.6 1.1 .8 2.2 1.5 1.1 .7 2.2 1.5 1.1 .8 2.2 1.7 1.1 .8 1.7 2 .6 1.2 1.9 1.7 1.2 .5 2.5 .7 1.4 .3 2.7 .1 1.4-.2 .2 .5-1.2 .7-2.5 .3-1.3-.4-2.4-1.1-1.2-.7-2.5-1.1-1.3-.4-2.4-1.2-1.1-.7-2.1-1.7-.9-.9-2-1.7-1.2-.8-2-1.9-.8-1-1.9-1.8-1-.9-2.1-1.7-1.1-.8-1.5-2.1-.4-1.3-.2-2.6 .2-1.4 1.3-.6 1.1 .8 2.3 1.5 1.1 .7 2.2 1.5 1.1 .8 2.1 1.6 1.1 .9 2.2 1.7 1.1 .8 2.2 1.5M1058.3 71.6q-2.1-1.7-3.3-2.4-1.1-.8-2.2-1.5-1.1-.8-2.2-1.6-1.1-.8 .3-.7 1.3 .1 2.6 .6 1.2 .6 2.5 .8 1.4 .2 2.6 .7 1.2 .6 2.3 1.4 1.1 .8 2.2 1.5 1.2 .8 2.3 1.6 1.1 .7 2.1 1.6 1.1 .8 2.3 1.5 1.1 .6 2.3 1.3 1.2 .7 2.5 .6 1.4 0 2.5 .7 1.1 .8 2.3 1.4 1.2 .6 2.6 .4 1.3-.2 2.4 .6 1.2 .7 2.3 1.4 1.1 .8 .1 1.7-1 .8-1.9 1.8-.9 1.1-2.2 1.5-1.2 .5-2.6 .7-1.3 .1-2.5-.6-1.1-.7-2.2-1.5-1.1-.8-2.3-1.5-1.1-.7-.9-2 .3-1.4 .9-2.5 .7-1.2 .3-2.5-.4-1.3-1.5-2-1.2-.7-2.3-1.4-1.1-.8-2.2-1.6-1.1-.8-2.4-1.2-1.2-.5-2.4-1.1-1.3-.6-2.4-1.3-1.1-.8-2.2-1.6-1.1-.7-1.9-1.9-.7-1.1-1.9-1.7M1078.8 93.6q1 2.5-.2 2-1.3-.5-2.5-1-1.3-.5-2.4-1.3-1-.8-2.2-1.6-1.1-.8-2.2-1.5-1.1-.8-2.2-1.5-1.1-.8-2.4-1.2-1.3-.4-2.7-.1-1.3 .2-2.5-.3-1.3-.5-2.4-1.3-1.1-.7-2.2-1.5-1.2-.8-2.5-1.1-1.3-.3-2.4-1-1.1-.8-2.3-1.5-1.1-.7-2.4-1.1-1.3-.3-.2 .4 1.2 .7 1.3 2 .1 1.4 .7 2.6 .5 1.2 .8 2.5 .3 1.3 .6 2.7 .3 1.3 1.3 2.3 .9 .9 2.2 1 1.4 .1 2.5 .9 1.1 .8 2.1 1.6 1.1 .9 2.2 1.6 1.1 .8 2.2 1.5 1.1 .8 2.3 1.4 1.2 .6 2.5 1.2 1.2 .5 2.6 .6 1.3 0 2.5 .7 1.1 .7 .2-.2-1-1-2.1-1.8-1-.8-2.1-1.6-1.1-.8-2.2-1.7-1-.8-2-1.7-1-.9-2.1-1.7-1.2-.7-2.3-1.5-1.1-.8-2.4-.6M1054.2 85.2q-2.2-1.5-3.2-2.4-1-.9-1.5-2.2-.5-1.2-1.5-2.2-.9-1-1.9-1.9-1-.9-.3 .3 .7 1.1 1.7 2.1 .9 .9 2.3 1.1 1.3 .2 2.7 .3 1.3 .1 2.6-.1 1.4-.2 2.7-.6 1.3-.3 .6-1.5-.6-1.2-1.4-2.3-.8-1-.9-2.4 0-1.3-.8-2.4-.8-1.1-1.7-2.2-.8-1-1.8-2-.9-1-.7 .4 .3 1.3 .2 2.6-.1 1.4 .8 2.3 1 .9 2.1 1.7 1.1 .8 2.2 1.6 1.1 .8 2.4 1.1 1.3 .2 2.6 .8 1.2 .6 2.3 1.3 1.1 .8 2.2 1.6 1.1 .8 2.2 1.6 1 .8 2.1 1.6 1.1 .8 2.2 1.6 1.1 .8 2.3 1.5 1.1 .8 2.2 1.6 1.1 .8 2.1 1.6 1 .9 2.2 1.6 1.1 .7 1.8-.4 .6-1.2 1.7-2 1.1-.8 .6-2.1-.5-1.2-1.2-2.4-.7-1.1-1.8-2-1-.8-2.2-1.5M1063.5 76.9q-2.4 1.2-3.7 1.1-1.4 0-2.6-.7-1.1-.6-2.2-1.4-1.1-.8-2.3-1.4-1.3-.5-2.6-.9-1.3-.4-2.4-1.1-1.2-.7-.3 .3 1 1 2.1 1.7 1.1 .8 2.1 1.7 1 .9 1.9 1.9 1 .9 .7 2.3-.3 1.3 .2 2.5 .5 1.3 1.5 2.2 .9 1 1.9 1.9 .9 1 1.6 2.2 .6 1.2 1.8 1.9 1.1 .7 2.1 1.7 .9 .9 2 1.7 1.1 .8 1.6 2.1 .4 1.3 1.3 2.3 .9 1 2 1.8 1.1 .8 2.2 1.5 1.2 .7 1.2-.6 .1-1.4 .4-2.7 .2-1.3-.9-2.1-1.1-.9-2.2-1.6-1.1-.8-2.2-1.6-1-.8-2.2-1.5-1.1-.8-2.4-1.3-1.2-.5-2.3-1.2-1.1-.8-2.2-1.6-1.1-.9-2.2-1.6-1.1-.8-2.3-1.5-1.1-.8-2.2-1.5-1.1-.7-2.3-1.4-1.1-.7-2.3-1.5-1.1-.8-2-1.7-1-.9-2.3-1.4M1062 63.4q-1.9-1.9-3.1-2.6-1.2-.6-.3 .4 .9 1 2 1.8 1.1 .8 2.2 1.5 1.2 .8 2.3 1.4 1.2 .7 2.3 1.5 1.1 .8 2.1 1.7 1.1 .8 2.2 1.6 1.1 .8 2.4 .8 1.4 .1 2.7 .3 1.3 .2 1.6-1.1 .2-1.3 .3-2.7 .1-1.3-.8-2.3-1-.9-2.1-1.7-1.1-.7-1.9-1.8-.8-1.1-1.2-2.4-.4-1.3-1.1-2.5-.6-1.2-.9 .2-.3 1.3-.4 2.6-.1 1.4-1.3 2.1-1.1 .7-2.2-.1-1.1-.7-2.2-1.6-1-.8-2.2-1.6-1.1-.7-2.2-1.4-1.1-.8-.7 .5 .3 1.3 1.4 2.1 1.1 .8 2.2 1.5 1.1 .8 2.2 1.6 1.2 .7 2.4 1.2 1.3 .5 2.4 1.3 1.1 .7 2.3 1.4 1.1 .8 2.1 1.6 1 .9 2.1 1.7 1.1 .9 2.2 1.6 1.2 .7 2.3 1.5 1.1 .7 2.2 1.5 1.1 .7 2.3 1.4 1.1 .7 2.3 1.4M1062.8 74.3q2.2 1.6 3.3 2.3 1.1 .7 2.2 1.6 1 .9 2 1.8 1 .9 2.2 1.6 1.1 .8 2.2 1.5 1.2 .7 .7 1.9-.5 1.3-1.5 2.2-1 .9-2.3 1-1.4 .2-2.7 0-1.3-.2-2.6 .1-1.3 .4-2.6-.1-1.3-.4-2.4-1.1-1.2-.7-2.3-1.5-1.1-.8-2.2-1.6-1.1-.8-2.4-.9-1.4-.1-2.7-.6-1.2-.4-2.4-1.1-1.1-.8-2.2-1.5-1.1-.8-2.2-1.6-1.1-.8 .2-1.1 1.3-.4 2.6-.2 1.4 .1 2.5 .8 1.2 .7 2.4 1.3 1.1 .7 2.2 1.5 1.1 .8 2.2 1.6 1.1 .8 2.2 1.6 1 .9 1.9 1.9 1 1 2 1.8 1.1 .9 2.2 1.6 1.1 .7 2.2 1.6 1 .9 1.6 2.1 .7 1.1 1.8 1.9 1.1 .8 2.2 1.6 1 .8 2.1 1.6 1.1 .9 1.5-.4 .5-1.3 1.4-2.3 .9-1 2.2-1.3 1.3-.4 2.6-.2M1076.5 73.4q-2.4-1.4-3.7-1.5-1.4-.1-2.5-.8-1.1-.7-2.2-1.5-1.1-.9-2.2-1.7-1-.8-2.1-1.6-1.2-.7-2.2-1.5-1.1-.8-2.3-1.5-1.2-.7-2.3-1.4-1.1-.8-.4 .4 .7 1.1 1.6 2.2 .8 1 1.9 1.8 1.1 .8 2.1 1.7 1.1 .8 2.2 1.5 1.2 .7 2.2 1.6 1.1 .8 1.8 2 .6 1.1 1.7 2 1.1 .8 2.2 1.6 1 .8 2.4 1.1 1.3 .3 2.4 1.1 1.1 .8 2.1 1.7 1 .9 2.2 1.6 1.1 .6 1.9 1.8 .7 1.1 1.7 2 1 .9 .5-.4-.6-1.2-1.7-1.9-1.1-.8-2.3-1.4-1.2-.6-2-1.7-.8-1.2-1.7-2.1-1-.9-2.2-1.7-1.1-.7-2.2-1.4-1.2-.7-2.3-1.5-1-.8-2.2-1.6-1.1-.7-2.1-1.5-1.1-.9-2.1-1.8-1.1-.8-2.2-1.6-1-.9-2-1.8-1-.9-2.1-1.6-1.1-.8-2.4-1.2M1066.7 97.3q2.6-.7 3.7 0 1.1 .8 2.4 1.2 1.3 .4 2.4 1.2 1 .9 .1-.1-.9-1-1.8-2-.9-1.1-1.9-2-1-.9-2.1-1.6-1.2-.7-2.2-1.6-1-.9-2.2-1.4-1.3-.4-2.4-1.1-1.1-.8-2.3-1.5-1.1-.8-1.9-1.9-.7-1.1-1.8-1.9-1.1-.8-2.3-1.5-1.1-.7-2.4-1.1-1.3-.3-2.2-1.4-.8-1.1-1.7-2-1-1-2.1-1.7-1.2-.7 .1-.8 1.4-.2 2.6 .4 1.2 .7 2.5 .5 1.4-.1 2.5 .6 1.2 .7 2.4 1.4 1.1 .7 2.3 1.4 1.1 .7 2.2 1.5 1 .9 2.1 1.7 1 .9 2 1.8 1.1 .8 1.5 2.1 .4 1.3 1.2 2.4 .8 1.1 1.8 2 1.1 .8 2.1 1.6 1.1 .8 1.8 2 .7 1.2 1.5 2.3 .7 1.1 1.7 2 1 .9 .2-.1-.9-1.1-1.7-2.1-.9-1.1-2.2-1.1-1.4 0-2.7-.2M1062.4 92q.6-2.6-.5-3.4-1.1-.9-2.2-1.6-1.1-.8-1.5-2.1-.4-1.3-1.2-2.4-.8-1.1-1.9-1.9-1.1-.8-2-1.8-1-.9-2.1-1.7-1.1-.8-2.2-1.6-1.1-.8-2.2-1.5-1-.8 .2-1.3 1.3-.4 1.7-1.7 .5-1.2-.5-2.2-1-.9-.9 .5 .2 1.3 1.2 2.2 1.1 .8 1.8 2 .6 1.1 1.7 2 1 .9 2 1.8 1.1 .8 2.1 1.7M1086.3 52.5q-1.9 2-3.1 2.4-1.3 .5-2.6 .8-1.3 .3-2.5-.3-1.2-.7-2.4-1.4-1.1-.7 0 .1 1 .8 2 1.8 .9 1 2 1.7 1.2 .7 2.2 1.6 1 .9 2.2 1.5 1.2 .7 2.3 1.4 1.2 .7 2.1 1.7 .9 1 2 1.8 1.1 .8 2.2 1.6 1.1 .7 2 1.8 .8 1 1.7 2 .9 1.1 1.7 2.1 .8 1.1 1.9 1.9 1.2 .7 2.4 1.3 1.2 .6-.1 .2-1.3-.5-2.5-1.1-1.2-.6-2.5-1-1.2-.5-2.3-1.3-1.1-.8-1.7-2-.6-1.2-1.7-2.1-1-.8-2.2-1.5-1.2-.7-2.2-1.5-1.1-.8-2.3-1.3-1.3-.5-2.6-.9-1.3-.4-2.4-1.2-1.1-.7-2.2-1.6-1-.8-2.2-1.5-1.2-.7-2.4-1.2-1.2-.6-2.4-1.3-1.1-.7-.3 .4 .8 1.1 2 1.7 1.2 .7 2.3 1.5 1.1 .7 2.3 1.4 1.2 .6 2.5 1M1088.4 72.8q-2.4-1.2-3.6-1.8-1.2-.6-2.4-1.3-1.2-.6-2.3-1.3-1.2-.7-2-1.8-.7-1.1-.8-2.4-.2-1.4-.8-2.6-.6-1.2-1.7-2-1.1-.8-2.2-1.4-1.2-.7 0-.1 1.2 .6 2.5 .8 1.4 .2 2.4 1 1.1 .9 2.3 1.5 1.2 .6 2.3 1.4 1.1 .9 1.9 1.9 .8 1.1 2 1.8 1.1 .6 2.4 1.2 1.2 .5 2.4 1.2 1.2 .7 2.4 1.1 1.3 .5 2.4 1.2 1.2 .8 2.3 1.5 1.2 .7 2.4 1.3 1.2 .5 2.4 1.1 1.3 .6 0 .2-1.3-.4-2.4-1.2-1.2-.7-2.4-1.4-1.2-.6-2.3-1.2-1.2-.7-2.3-1.5-1.1-.8-2.2-1.5-1.2-.7-2.4-1.4-1.2-.6-2.3-1.2-1.2-.7-2.4-1.4-1.2-.6-2.3-1.3-1.2-.7-2.4-1.4-1.1-.7-2.3-1.4-1.1-.7-2.3-1.3-1.2-.6-2.4-1.3-1.2-.7 .2-.6 1.3 .1 2.6 .6M1104.5 73.1q.4 2.7-.9 2.2-1.2-.4-2.2-1.3-.9-1-1.7-2.1-.7-1.2-1.8-2-1.1-.8-2.4-1.2-1.3-.4-2.4-1.1-1.2-.6-2.4-1.3-1.1-.7-2.3-1.4-1.1-.7-2.3-1.4-1.2-.7-1.9-1.8-.8-1.1-1.9-1.9-1-.9-2.2-1.5-1.2-.7-2.4-1.4-1.2-.6-2.3-1.3-1.2-.7-2.3-1.4-1.1-.8-1.1 .6 .1 1.3 1.2 2.1 1.1 .8 2.5 .9 1.3 .2 2.2 1.1 1 1 2.1 1.7 1.2 .6 2.4 1.3 1.1 .7 2.3 1.4 1.2 .7 2.3 1.4 1.1 .8-.1 1.5-1.1 .7-2.2 1.5-1.1 .8-2.3 1.4-1.2 .6-2.3 1.3-1.2 .8-2.5 .8-1.4 0-2.6-.6-1.2-.7-2.4-1.1-1.3-.5-2.3-1.4-1.1-.8 .2-.5 1.3 .4 2.5 1 1.2 .7 2.2 1.6 1.1 .8 2.2 1.5 1.1 .8 2.3 1.5 1.1 .7 2.4 1.1 1.3 .4 2.5-.4M1083.7 59.7q2.3 1.5 3.6 1.7 1.3 .1 2.6 .5 1.3 .3 2.5 .9 1.3 .6 2.4 1.3 1.2 .7 2.2 1.6 1.1 .8 2.3 1.5 1.1 .6 2.3 1.3 1.2 .7 2.3 1.4 1.2 .7 2.5 .9 1.3 .1 .4-.8-1-1-2.1-1.7-1.2-.7-2.5-1.1-1.2-.4-2.4-1.1-1.2-.7-2.5-1-1.3-.2-2.6-.6-1.3-.3-2.3 .7-.9 .9-2.2 .4-1.2-.5-1.7-1.7-.5-1.3-1.6-2-1.2-.8-2.4-1.4-1.2-.6-2.4-1.2-1.2-.6-2.4-1.2-1.2-.6-2.4-1.3-1.1-.7-1.9-1.8-.9-1-2-1.7-1.2-.6-1.2 .7-.1 1.4 1.1 2.1 1.2 .6 2.4 1.3 1.1 .6 2.4 1.2 1.2 .5 2.4 1.2 1.2 .7 2.4 1.2 1.2 .6 2.4 1.2 1.2 .6 2.4 1.2 1.2 .7 2.3 1.4 1.2 .8 2.4 1.3 1.2 .6 2.4 1.2 1.2 .6 1.4 2 .3 1.3-1 1.7M1071.1 65.9q-1-2.6 .4-2.5 1.3 0 2.5 .6 1.2 .6 2.4 1.3 1.2 .6 2.3 1.3 1.2 .7 2.4 1.3 1.2 .7 2.4 1.3 1.1 .7 2.3 1.4 1.1 .7 2.2 1.5 1.1 .8 2.3 1.4 1.2 .6 2.4 1.3 1.2 .6 2.4 1.2 1.2 .6 2.4 1.2 1.2 .7 2.5 .9 1.4 .2 .8-1-.5-1.3-1.2-2.5-.6-1.2-1.5-2.2-.9-.9-1.3-2.2-.5-1.3-1.5-2.2-1-.9-2-1.8-.9-1-.6-2.3 .4-1.3-.6-2.2-1-1-1.9-2-.9-1-2-1.8-1.1-.7-2.4-.9-1.4-.2-2.7-.4-1.4-.2-2.6-.8-1.2-.6-2.5-1-1.3-.3-2.4-1-1.2-.7-1.2 .6 0 1.4 .9 2.4 .9 1 2 1.7 1.2 .8 2.3 1.5 1.2 .7 2.4 1.3 1.2 .6 2.4 1.3 1.1 .6 2.3 1.3 1.2 .6 2.2 1.5 1 1 2.1 1.7 1.2 .7 2.4 1.3M1087.5 56.5q2.5 .9 3.7 1.6 1.2 .7 1.9 1.8 .7 1.2 1.3 2.4 .5 1.3 1.4 2.3 .9 1 2 1.7 1.2 .7 2.5 1.1 1.2 .5 2.4 1.2 1.2 .7 2.3 1.3 1.2 .7-.1 .7-1.4 .1-2.6-.6-1.1-.6-2.3-1.3-1.2-.6-2.2-1.5-1-.9-1.7-2.1-.6-1.2-1.5-2.2-.8-1.1-1.8-2-1.1-.8-2.3-1.5-1.2-.6-2.3-1.2-1.2-.7-2.2-1.6-1-.9-1-2.3 .1-1.3-1.1-2-1.2-.7-2.3-1.4-1.2-.7-.1 .1 1.1 .8 1.1 2.1-.1 1.4-1.1 2.3-.9 .9-1.3 2.2-.4 1.3-1.7 1.3-1.3-.1-2.6-.5-1.3-.5-2.6-.9-1.3-.4-2.6-.7-1.3-.3 0-.6 1.3-.4 2.5-1 1.2-.5 2.4 .1 1.2 .7 2.4 1.2 1.3 .5 2.5 1 1.3 .5 2.6 .5 1.4 0 2.6 .6 1.2 .5 2.3 1.3 1.1 .9 2 1.8M1072.7 64q-2.3-1.4-1.1-2 1.2-.6 1.8-1.8 .5-1.3 1.3-2.4 .7-1.1 1.4-2.3 .7-1.1 2-1.3 1.4-.2 2.1-1.3 .8-1.1 .9-2.4 .2-1.4-.3-.1-.4 1.3-.1 2.6 .2 1.3 1.4 2 1.1 .7 1.7 1.9 .5 1.2 1.3 2.4 .7 1.1 1.8 1.9 1.1 .8 2.4 .4 1.2-.3 2-1.4 .8-1.1 .5-2.5-.3-1.3-.4-2.6 0-1.4-.6-2.5-.7-1.2-1.7-2.1-1-1-.5 .3 .5 1.2 1.2 2.4 .7 1.2 1.9 1.8 1.1 .7 2.4 1.2 1.2 .6 2.2 1.5 1 .9 2.2 1.6 1.2 .6 2.5 .8 1.3 .1 2.4 .9 1 .9-.2 .4-1.3-.6-2.5-1-1.3-.4-2.6-1-1.2-.5-2.4-1-1.3-.5-2.5-1-1.3-.5-2.5-1.1-1.2-.6-2.4-1.3-1.1-.8-2.3-1.4-1.1-.7-2.3-1.4-1.1-.7-2.3-1.4-1.2-.7-.1 .1M1091.2 74.7q2.2 1.5 3.4 2.1 1.2 .7 2.4 1.4 1.1 .7 2.3 1.3 1.2 .7 1.3-.6 .2-1.4 .3-2.7 .2-1.4-.6-2.5-.8-1.1-1.2-2.4-.4-1.2-.4-2.6 0-1.3-.4-2.6-.4-1.3-.3-2.6 .1-1.4-.9-2.3-.9-1-2.1-1.7-1.1-.7-2.3-1.4-1.2-.7-2.3-1.4-1.2-.7-2.3-1.4-1.1-.7-2.3-1.4-1.1-.7-2.3-1.4-1.2-.6-2.3-1.4-1.2-.7-1.4 .6-.3 1.3 .6 2.3 .8 1 2 1.8 1.1 .7 2.2 1.5 1 .9 2.2 1.6 1.1 .7 2.3 1.3 1.2 .7 2.4 1.4 1.1 .6 2.1 1.6 .9 .9 2.2 .7 1.4-.2 2.5 .4 1.2 .7 2.3 1.6 1 .8 2.2 1.5 1.1 .7 2.2 1.5 1.2 .7 .5-.5-.8-1.1-1.2-2.4-.4-1.3 .9-.9 1.3 .4 0 .2-1.4-.3-2.6-.8-1.2-.5-2.5-1.1-1.2-.6-2.4-1.3M1073.8 61.1q2.7 .1 3.9 .8 1.2 .7 2.4 1.2 1.3 .4 2.6 .9 1.2 .5 2.5 .9 1.3 .3 2.5 1 1.1 .7 2.3 1.4 1.1 .7 2.3 1.4 1.2 .6 2.4 1.2 1.2 .6 2.4 1.3 1.1 .7 2.3 1.4 1.1 .7 2.4 1.3 1.2 .6 2.3 1.2 1.2 .7-.1 1-1.3 .3-2.5 1-1.2 .6-2.5 .6-1.4 0-2.7 .2-1.4 .1-2.5-.6-1.2-.7-2.3-1.4-1.2-.7-2-1.8-.9-1.1-1.8-2-1-.9-2.2-1.6-1.2-.6-2.4 .1-1.1 .7-2.5 .9-1.3 .2-2.7 .2-1.3 .1-2.6-.2-1.3-.3-2.5-1-1.2-.6 0-1.3 1.1-.7 2.3-.1 1.3 .6 2.4 1.3 1.1 .8 2.3 1.4 1.2 .6 2.4 1.3 1.1 .7 2.3 0 1.2-.6 2.5-.9 1.3-.3 2.7 0 1.3 .3 2.4 .9 1.2 .7 2.4 1.4 1.2 .6 2.3 1.4 1.1 .8 1.9 1.8M1098.9 59.6q.5-2.7-.3-1.5-.7 1.1-2 .8-1.4-.3-2.5-1-1.2-.7-2.3-1.4-1.2-.6-2.5-1-1.3-.4-2.4-1.1-1.2-.7-2.1-1.7-1-1-2.2-1.6-1.2-.5-2.4-1.2-1.1-.7 .2-.5 1.3 .3 2.5 1 1.1 .7 2.3 1.4 1.1 .7 2.2 1.6 1 .8 2.2 1.5 1.1 .8 2.3 1.5 1.1 .7 2.4 1.1 1.3 .4 1.3-.9 .1-1.4-.7-2.5M1078.8 90.4q-.2-2.7-.6-4-.5-1.3-1.4-.2-.9 1-2 1.8-1.1 .7-2.4 1.1-1.3 .4-.3 1.3 1 1 1.9 2 .9 1 1.6 2.1 .7 1.2 1.4 2.3 .7 1.1 1.6 2.2 .9 1 1.6 2.1 .7 1.2 1.5 2.3 .7 1.1 .9 2.5 .2 1.3 .9 2.5 .7 1.1 .2-.1-.5-1.3-1.2-2.5-.6-1.2-1.1-2.4-.4-1.3-.7-2.6-.2-1.4-.9-2.5-.7-1.2-1.6-2.2-.9-1-1.6-2.1-.7-1.2-1.4-2.4-.6-1.1-1.3-2.3-.7-1.1 .6-.8 1.3 .4 2.3 1.2 1.1 .8 1.9 1.9 .7 1.2 1.7 2 1 .9 2.1 1.8 1 .9 2 1.7 1.1 .8 1.7 2 .6 1.2 1.5 2.3 .8 1.1 1.3 2.3 .5 1.2-.6 .6-1.2-.7-1.2-2 .1-1.4-.2-2.7-.2-1.3-.8-2.6-.6-1.2-1.3-2.3-.7-1.2-2-1.6-1.3-.4-2.4-1.1M1082.8 94.9q-1.5 2.2-2.9 2.2-1.3 0-2.6-.4-1.3-.4-2.6-.9-1.3-.4-2.1-1.4-.9-1-1.2-2.3-.3-1.3 .5-.3 .8 1.1 1.8 2 1.1 .8 1.9 1.9 .8 1.1 1.6 2.2 .9 1 1.5 2.2 .6 1.2 1.2 2.4 .7 1.2-.3 2.2-.9 1-2 1.7-1.2 .7-.9 2 .4 1.3 1.6 .7 1.2-.6 2.5-.9 1.3-.3 2.4-1.1 1.1-.7 1.9-1.9 .7-1.1 1.5-2.1 .8-1.1 1.8-2.1 .9-1 .3-2.2-.5-1.2-1.3-2.3-.8-1.1-1.5-2.3-.7-1.2-1.3-2.3-.7-1.2-1.2-2.5-.4-1.2-1.1-2.4-.7-1.2-2-1.5-1.3-.3-1 1 .2 1.3 1.1 2.4 .8 1 1.7 2.1 .8 1 1.5 2.2 .7 1.2 1.3 2.4 .6 1.2 1.2 2.4 .7 1.1 1.4 2.3 .6 1.2 1.2 2.4 .6 1.2 .4 2.6-.1 1.3-1.4 .7-1.2-.6-1.8-1.8M1069.4 94.9q-1.3-2.4-.1-1.9 1.3 .4 2.7 .3 1.3-.1 2.2 .9 .9 1 1.7 2.2 .7 1.1 1.3 2.3 .7 1.2 1.5 2.3 .7 1.1 1.4 2.3 .6 1.2 1.1 2.4 .5 1.3 1.1 2.5 .6 1.2 .7-.2 .1-1.3-.5-2.5-.7-1.2-1.4-2.3-.7-1.2-1.4-2.3-.8-1.1-1-2.5-.3-1.3-.9-2.5-.5-1.2-1.2-2.4-.8-1.1-1.5-2.3-.7-1.1-1.4-2.3-.6-1.2-.8 .2-.2 1.3 .1 2.6 .3 1.3 .2 2.7-.2 1.3 .5 2.5 .6 1.2 1.3 2.3 .8 1.2 1.3 2.4 .6 1.2 1.2 2.4 .7 1.2 1.4 2.3 .8 1.1 1.7 2.1 1 1 .2-.1-.9-1.1-1.6-2.2-.7-1.2-1.4-2.3-.7-1.2-1.2-2.4-.5-1.3-1.5-2.3-.9-.9-1.2-2.2-.4-1.3 .5-2.3 1-.9 2 0 1 .9 1.7 2.1 .7 1.1 .5 2.5-.2 1.3 .2 2.6M1089.6 101.8q-1.3-2.4-1.9-3.6-.7-1.2-1.2-2.4-.5-1.3-1.1-2.5-.6-1.2-1.3-2.4-.6-1.1-.9-2.5-.2-1.3-.7 0-.5 1.2 .2 2.4 .7 1.1 1.7 2 1 .9 1.7 2.1 .6 1.3 1.2 2.5 .5 1.2 1.2 2.4 .6 1.2 1.2 2.4 .7 1.1 .4-.2-.3-1.3-.5-2.6-.1-1.4-.5-2.7-.3-1.3-1-2.5-.6-1.2-1.2-2.3-.7-1.2-1.4-2.4-.6-1.2-1.3-2.4-.6-1.2-1 .1-.4 1.3-1 2.5-.6 1.2-.4 2.6 .3 1.3-.1 2.6-.4 1.2 .5 2.2 1 .9 1.7 2 .8 1.2 1.5 2.3 .6 1.2 1 2.5 .5 1.3 1.2 2.4 .8 1.1 .7-.2-.1-1.4-.4-2.7-.4-1.3 .5-2.3 .8-1.1 .7-2.4-.1-1.4-.2-2.7-.2-1.4-.9-2.5-.7-1.2-1.5-2.3-.8-1-1.5-2.2-.7-1.2-1.4-2.3-.6-1.2 0 0" fill="none" stroke="#1993E8" stroke-width="1.1" stroke-opacity="0.95" stroke-linecap="round" stroke-linejoin="round" /><path d="M1052.5 96.9q-.8-2.6 .2-3.5 1-.9 1.8-2 .8-1.1 1.3-2.3 .5-1.3-.5-2.2-1.1-.9-2.2-1.5-1.2-.7-2.5-1.1-1.2-.5-2.4-1.2-1.1-.7-2.5-.7-1.3 .1-2.5-.7-1.1-.7 .2-1.1 1.3-.4 2.6-.8 1.3-.5 1.4-1.8 .2-1.3 1.5-1.4 1.4 0 2.6 .5 1.3 .4 2.5 1 1.2 .7 2.3 1.4 1.1 .8 2.3 1.6 1.1 .7 2.3 1.4 1.1 .6 2.3 1.3 1.2 .6 2.3 1.4 1.1 .7 2.4 1.3 1.2 .6 2.2 1.4 1.1 .9 2.1 1.7 1.1 .9 2.1 1.8 1 .9 2.2 1.3 1.3 .4 2.5 1 1.2 .6 2.3 1.4 1.1 .8-.2 .5-1.3-.4-2.5 .3-1.1 .7-2.2-.1-1.1-.8-2.4-.6-1.4 .3-2.6 .8-1.2 .6-2.5 .3-1.3-.3-2.6-.8-1.3-.5-2.2 .4-1 1-2.3 1.5-1.2 .5-2.4-.2-1.2-.6-2.4-1.2M1067.8 81.3q2.5-.9 3.6-.1 1.1 .8 2 1.8 .8 1 1.9 1.9 1.1 .8 2.1 1.6 1.1 .8 2.3 1.5 1.1 .7 2.1 1.6 1 .9 2.1 1.7 1.2 .7-.1 .3-1.3-.4-2.4 .4-1.1 .8-2.4 .6-1.3-.1-2.6-.6-1.2-.5-2.3-1.4-1-.9-2.1-1.7-1.1-.8-1.6-2-.6-1.2-1.7-2-1.1-.8-2-1.7-1-1-2.1-1.8-1.1-.7-2-1.7-.9-1-2-1.8-1.2-.8-2.2-1.6-1-.9-1.8-2-.9-1-1.9-1.9-1-.9-2.2-1.5-1.2-.7-2.4-1.4-1.1-.7 .2-.4 1.3 .2 2.7 .2 1.3 0 2.5 .7 1.1 .8 2.2 1.5 1.2 .7 2.3 1.5 1.1 .8 2.1 1.7 1 .9 2.1 1.7 1.1 .8 2.2 1.5 1.1 .8 2.5 .9 1.3 .2 2.5 .9 1.1 .7 2.2 1.5 1.1 .8 2.2 1.5 1.1 .8 2.3 1.5 1.1 .8 2.4 .9M1092.1 97.5q-2-1.8-2.7-2.9-.8-1.1-1.3-2.4-.6-1.2-1.2-2.4-.7-1.2-1 .1-.4 1.3 .4 2.4 .9 1.1 1.3 2.4 .3 1.3 1.1 2.4 .7 1.2 1.2 2.4 .6 1.2 1.4 2.3 .8 1.1 .3-.2-.5-1.2-1.2-2.4-.7-1.1-1.4-2.3-.7-1.1-1.5-2.3-.7-1.1-1.6-2.1-.9-1-1.6-2.1-.7-1.2-1.5-2.3-.7-1.1-1 .2-.3 1.3 .3 2.5 .6 1.2 1.3 2.4 .7 1.2 1.4 2.3 .7 1.2 1.1 2.5 .4 1.2 1.2 2.4 .7 1.1 1.4 2.2 .7 1.2-.4 .4-1.1-.8-2.1-1.7-.9-.9-1.7-2-.8-1.1-1-2.5-.1-1.3-.8-2.5-.7-1.2-1.8-1.9-1.1-.8-2.2-1.5-1.1-.8-2-1.9-.8-1.1 0 0 .8 1.1 1.6 2.2 .7 1.2 1.5 2.3 .7 1.2 1.2 2.4 .5 1.3 1.2 2.4 .7 1.2 1.9 1.8 1.2 .6 2.5 .1" fill="none" stroke="#0C6FBE" stroke-width="1.26" stroke-opacity="0.95" stroke-linecap="round" stroke-linejoin="round" /><path d="M1034 84 Q1040 80 1046 84" stroke="#1993E8" stroke-width="1.1" fill="none"/></g>
<use href="#apd" transform="translate(32.3 296.2)"/>
<path d="M1108.6 80 H1147.5 M1147.2 72.2 V88" stroke="#FF0000" stroke-width="4.2" fill="none"/>
<path d="M1179.6 74.9 C1195.1 68.4 1211.1 63 1226.1 63 C1246.1 63 1258.5 69.4 1258.5 78 C1258.5 86.9 1246.1 92.8 1226.1 92.8 C1211.1 92.8 1195.1 87.9 1179.6 83.6 Z" fill="url(#pdg)" stroke="#2a2a2a" stroke-width="1.1"/>
<ellipse cx="1169.1" cy="79.4" rx="11.9" ry="10.2" fill="url(#pds)" stroke="#2a2a2a" stroke-width="1.1"/>
<path d="M1142.7 374.4 C1158.2 367.9 1174.2 362.5 1189.2 362.5 C1209.2 362.5 1221.6 368.9 1221.6 377.5 C1221.6 386.4 1209.2 392.3 1189.2 392.3 C1174.2 392.3 1158.2 387.4 1142.7 383.1 Z" fill="url(#pdg)" stroke="#2a2a2a" stroke-width="1.1"/>
<ellipse cx="1132.2" cy="378.9" rx="11.9" ry="10.2" fill="url(#pds)" stroke="#2a2a2a" stroke-width="1.1"/>
<text  font-size="29.5" text-anchor="middle" transform="translate(1047 142.8) scale(1 1.03)">aPD-L1</text>
<text  font-size="29.5" text-anchor="middle" transform="translate(1206.2 142.8) scale(1 1.04)">PD-L1</text>
<text  font-size="30.2" text-anchor="middle" transform="translate(1123.3 437) scale(1 1.02)">PD-L1 blockade</text>
<defs><g id="ygp"><path d="M1.7 -4q-2 1.5-2.3 2.7-.4 1.2 .9 1.2 1.2 .1 1.8 1.1 .6 1.1 1.7 1.8 1.1 .6 1.6 1.7 .5 1.2 .2 2.4-.4 1.2-1.6 1.5-1.2 .3-2.1 1.1-1 .8-1.3-.4-.3-1.2-.4-2.4-.2-1.3 1.1-1.5 1.2-.2 1-1.4-.2-1.3 .2-2.5 .3-1.2-.5-2.1-.8-1-.5-2.2 .4-1.2 1.3-2 1-.8 2-1.5 1-.7 2 0 1 .8 2.2 1.2 1.2 .4 2.4 .3 1.3-.2 2-1.2 .6-1.1 .6-2.3 .1-1.3-.4-.1-.5 1.1 .1 2.3 .5 1.1 1.7 1.3 1.3 .1 2.5 .1 1.3 .1 1.6 1.3 .4 1.2-.1 2.3-.6 1.1-1.8 1.4-1.2 .3-2.4 0-1.3-.3-1.8-1.5-.5-1.1-1.4-2-.9-.8-.8-2 .2-1.3 1.1-2.1 .9-.9 2.2-1 1.2 0 .4 .9-.9 .9-1.4 2.1-.5 1.1-.4 2.4M-12.1 3.1q-1.5 2-2.8 2.2-1.2 .1-2.5 0-1.2 0-1.9-1-.8-1 .2-1.8 1-.8 2-1.6 1-.7 1.9-1.5 1-.8 1.8 .2 .7 .9 2 .7 1.2-.2 2.3-.9 1-.6 1.8-1.6 .8-.9 1.3-2.1 .5-1.1 1.1-2.2 .6-1.1 .4-2.4-.2-1.2-.1 .1 .2 1.2 1.4 1.6 1.1 .4 2.1 1.2 1 .8 2.2 .6 1.3-.2 1.8-1.4 .5-1.1-.7-1.3-1.2-.2-2.4-.5-1.2-.4-2.2-1.2-1-.7-2.2-.5-1.3 .3-2.4-.1-1.2-.5-1.2 .8 0 1.2-.6 2.3-.6 1.1-.8 2.4-.2 1.2-.7 2.4-.5 1.1-1.5 1.9-1 .7-2.2 .3-1.1-.4-2.1-1.2-.9-.8-.9-2.1 0-1.2-.9-2-1-.8 .2-.4 1.2 .4 2.3 .9 1.2 .5 2.4 .8 1.2 .4 2 1.3 .9 .9 2 1.5 1 .7 .6 1.9M2 -6.5q-.6-2.4 .4-3.1 1.1-.6 .4 .4-.7 1-2 .9-1.2-.2-2.3 .5-1 .6-2.3 .5-1.2-.2-1.6-1.4-.4-1.2-.1 0 .2 1.2-.3 2.4-.6 1.1-1.8 1.4-1.2 .3-2.4 .7-1.2 .4-2.1 1.2-1 .8-2.2 .5-1.2-.3-1.6 .9-.5 1.2-1.5 1.9-1 .7-2.1 1.2-1.2 .6-2.4 .4-1.2-.2-2.4-.7-1.1-.6-1.4-1.8-.3-1.2 .8-1.7 1.2-.4 2.2-1.2 1-.8 2.2-.5 1.2 .3 2.1-.6 .8-.9 2-.6 1.2 .3 2.4 .6 1.3 .2 2.5 0 1.2-.3 2.4-.5 1.3-.3 2.5-.4 1.3-.1 2.5-.4 1.2-.4 2.4-.3 1.3 .1 2.4-.4 1.2-.5 .9-1.7-.3-1.2 .5-.2 .8 .9 1.6 1.9 .8 .9 1.6 1.9 .8 .9 2 1 1.3 0 2.2 .9 .9 .9 2 1.4 1.1 .5 2.3 .9M.7 -1.4q-2.5 .6-2.2 1.8 .3 1.2 1.1 2.1 .9 .9 1.7 1.9 .8 1 1.8 .3 1-.7 2.2-.3 1.1 .5 2.1-.2 1-.8 2.3-.7 1.2 0 2.1-.9 .8-.9 1.3-2.1 .4-1.2 .2-2.4-.2-1.2-.8-2.3-.6-1.1-1.7-.5-1.1 .5-1.6 1.7-.6 1.1-1.8 1.5-1.1 .5-2.4 .5-1.2 0-1-1.3 .2-1.2-1.1-1.4-1.2-.1-1.5-1.4-.3-1.2-.5-2.4-.2-1.2-1.4-1.6-1.2-.4-2 .6-.8 .9-1 2.1-.3 1.3-.7 2.4-.4 1.2-.3 2.5 .1 1.2-1.1 1.7-1.1 .5-2.2 1-1.1 .6-1.8 1.7-.6 1-.3 2.3 .3 1.2 1.5 1.6 1.1 .4 2.3 .8 1.2 .3 2.5 .4 1.2 .2 2.3-.5 1-.7 2.2-1.1 1.2-.4 1.9-1.4 .7-1.1 .9-2.3 .2-1.2 1.3-1.8 1.1-.7 2.3-.2 1.1 .5 2.4 .6M2.5 7.1q1.9 1.6 3.1 2 1.1 .5 .9-.7-.3-1.3-.6-2.5-.4-1.2-1.1-2.2-.8-1-1.1-2.2-.3-1.2-1.4-1.8-1.1-.6-1.6-1.8-.5-1.1-1.4-2-.9-.8-1.6-1.9-.7-1-1.9-1.4-1.2-.3-2.4-.5-1.3-.2-2-1.3-.6-1 .3-.2 .9 .8 1.6 1.9 .6 1.1-.6 .9-1.3-.1-2.4 .4-1.1 .6-2.1-.2-1-.8-1.6-1.9-.5-1.1 .1 0 .6 1.1 1.3 2.1 .7 1 .9 2.3 .3 1.2-.6 2.1-.8 1-1.8 1.7-1 .7-2.2 1-1.2 .3-2.3 1-1 .7-.5 1.9 .5 1.1 .3 2.4-.1 1.2 1 .8 1.2-.4 2.5-.3 1.2 .2 1.1-1-.1-1.3 .8-2.1 .9-.9 2.1-1.2 1.2-.3 2.2-1.1 1.1-.7 1.2-1.9 .2-1.3-.1-2.5-.2-1.2 .6-2.2 .8-.9 1.7-1.7 1-.8 2.3-.9M-10.7 5q2.4-.5 3.7-.4 1.2 .2 2.5 .1 1.2 0 2.5 0 1.2 0 2.4 .4 1.2 .4 2 1.4 .8 .9 1.3 2 .5 1.2-.5 .5-1-.7-2.2-.9-1.3-.2-2.5-.3-1.3-.2-2.4-.7-1.1-.6-2.3-.2-1.2 .4-2.3 .8-1.2 .4-2.4 0-1.2-.4-2.3-.9-1.2-.6-2.4-.9-1.2-.2-2.4-.5-1.2-.3-2.5 0-1.2 .2-2.2-.6-1-.7 .2-.7 1.3 0 2.5 .3 1.2 .4 2.4 .3 1.3 0 1.8 1.1 .5 1.2 1.7 .8 1.2-.3 2.3-.8 1.2-.5 1.8-1.6 .6-1 .6-2.3-.1-1.2-.1-2.5-.1-1.2-.9-2.2-.7-1-1.2-2.2-.5-1.1-1.6-1.8-1-.6-2.3-.8-1.2-.3-2.5-.3-1.2 0 0-.4 1.1-.4 2.4-.5 1.2 0 2.5 0 1.2 .1 2.1 1 .8 1 .9 2.2 .1 1.2 1.4 1.4M-4.7 9q-2.4-.9-3.6-1-1.2-.2-.5-1.2 .7-1.1 1.3-2.2 .5-1.1 1.1-2.2 .5-1.2 1.6-.7 1.2 .5 2.4 .5 1.3-.1 2.4-.6 1.1-.5 2 .4 .9 1 1.7 1.8 .9 .9 1.3 2.1 .5 1.2 1.7 1.4 1.3 .2 1.1 1.5-.1 1.2-1.3 .8-1.2-.4-2.4-.7-1.2-.3-1.3-1.6-.2-1.2 0-2.4 .3-1.3 1.4-1.9 1.1-.5 2.1-1.2 1.1-.7 1.8-1.7 .7-1 1.3-2.2 .5-1.1 .5-2.4 .1-1.2-1-1.7-1.1-.5-2.2-1.3-1-.7-2.1-1.3-1-.6-2.2-1-1.2-.3-1.1 .9 .1 1.2-1.1 .8-1.2-.4-2.3 0-1.2 .5-2.4 .5-1.3 0-2.4 .5-1.1 .6-.9 1.8 .3 1.2 1.1 2.2 .8 .9 2.1 1.1 1.2 .2 2.1-.6 .9-.9 1.3-2.1 .5-1.1 1.6-1.7 1.2-.5 1.3 .8 0 1.2-1.2 1.5M11.4 7.1q-2.4 .6-3.4 1.5-.9 .8-2.1 1-1.3 .1-2.2-.7-.9-.8-1.9-1.6-1-.8-1.1-2 0-1.3 .5-2.4 .5-1.1 1.7-1 1.3 .1 1.7-1.1 .4-1.2 0-2.4-.4-1.1-1.5-1.7-1.1-.6-2.3-.1-1.1 .4-1.8-.6-.7-1.1-1.9-1.4-1.2-.3-2.3 .2-1.2 .5-2.1 1.3-1 .9-2.2 .8-1.3 0-2.4 .5-1.2 .4-2.4 .1-1.2-.4-2.2-1.2-.9-.8-2.1-1-1.3-.3-1.1 1 .2 1.2 1.2 2 .9 .8 2.1 .4 1.2-.4 1.8 .7 .7 1 1.8 1.6 1.1 .6 2.2 .1 1.2-.5 2.4-.7 1.3-.1 2.5-.1 1.3-.1 2.1-1 .9-.9 2.2-.7 1.2 .1 2 1.1 .8 .9 1.4 2 .6 1.1 1.6 1.7 1.1 .6 2.4 .4 1.2-.3 .8-1.5-.3-1.2-.3-2.5 0-1.2 .4-2.4 .5-1.2 0-2.3M15.8 3q-.1 2.5 0 3.8 .1 1.2-1.1 1.7-1.1 .5-2.4 .5-1.2-.1-1.3-1.3-.1-1.3-.1-2.5 .1-1.3-1.2-1.5-1.2-.2-1.8-1.3-.7-1.1-1.1-2.3-.4-1.2-1.6-1.3-1.2-.2-2.5-.4-1.2-.3-1.9-1.3-.8-1-2-1.1-1.3 0-2.5-.2-1.3-.1-2.4 .5-1.1 .6-1.4 1.8-.3 1.2 0 2.4 .3 1.2-.6 2.1-.9 .9-2.1 1.1M-3.9 4.9q2.3 1 1.3 .2-1-.8-1.1-2-.1-1.3-.1-2.5 0-1.3-.1-2.5-.2-1.3 .9-1.8 1.1-.6 .1 .1-1 .7-2.2 1-1.2 .2-1.8 1.3-.6 1.1-1.3 2.2-.6 1.1-1.9 1-1.2-.1-2-1.1-.8-1-1.2-2.2-.3-1.2-1.6-1.4-1.2-.2-1.8-1.3-.7-1.1-.4-2.3 .3-1.2 1.4-.7 1.2 .4 1.4-.8 .1-1.3 .3-2.5 .2-1.2-.4-.2-.6 1.1-.9 2.4-.2 1.2 .3 2.3 .5 1.2-.5 1.9-1.1 .7-1.4 1.9-.2 1.2-1.1 2.1-.8 1-1.2 2.1-.4 1.2 .1 2.4 .5 1.1 1.3 2 .9 .9 2.1 1.4 1.1 .4 .9 1.6-.2 1.3 .2 .1 .4-1.2 .2-2.4-.2-1.2 .8-2.1 .9-.8 1.3-2 .5-1.2 1.7-1.5 1.2-.4 2-1.3 .8-.9 1.8-1.7 1-.7 2-1.5 1-.8 .8-2M-4.8 .2q0 2.5 1.3 2.7 1.2 .2 .4-.8-.8-.9 .4-1.3 1.2-.4 .2-1.2-1-.8-1.9-1.7-.9-.8-1.7-1.8-.7-1-1.8-1.6-1-.7-2-1.6-.9-.8-1.8 .1-1 .8-.7 2 .3 1.2 1.6 1.4 1.2 .2 2 1.1 .8 1 1.6 1.9 .9 1 .6 2.2-.3 1.2 1 1.4 1.2 .1 2.4-.3 1.1-.5 .1-1.1-1.1-.7-1.6-1.9-.4-1.1-1.6-1.5-1.2-.3-2.4-.6-1.3-.2-2.1-1.2-.8-.9-2-1.3-1.2-.5-2.4-.9-1.2-.3-1.4-1.5-.2-1.2-1.4-1.3-1.3 0-.8 1.1 .5 1.2-.5 2-1 .7-2.2 .2M12.5 -2.9q2.4-.9 3.2-1.9 .8-1 2-1 1.3 0 2.1 .9 .9 .9 1.8 1.7 1 .9 1.4-.3 .4-1.2-.7-.7-1.2 .5-1.8 1.5-.7 1.1-1.1 2.3-.4 1.1-1.6 1.6-1.2 .4-.5 1.4 .7 1 1 2.2 .3 1.3-1 1.5-1.2 .2-1.6 1.4-.4 1.2 .8 .8 1.2-.3 2.5-.3 1.2 0 .7-1.1-.6-1.1 .4-1.8 1.1-.7 2.3-.7 1.3 .1 1-1.1-.4-1.2-1.3-2.1-.8-.9-1.4-2-.7-1.1-1.9-1-1.2 .1-1.9-1-.6-1.1-.8-2.3-.2-1.3 1-1.7 1.1-.5 1.5-1.7 .5-1.1 .4 .1 0 1.3-.5 2.4-.6 1.1 .4 1.9 .9 .9-.2 1.4-1.2 .5-2-.4-.9-.9-1.6-1.9-.7-1-.5-2.3 .3-1.2-.6-2.1-.9-.9-1.7 0-.8 1-2 .6-1.2-.3-2.4-.1-1.3 .1-2.4 .6" fill="none" stroke="#A2D822" stroke-width="0.95" stroke-opacity="0.85" stroke-linecap="round" stroke-linejoin="round" /><path d="M15.1 1.6q2.5-.2 3.6 .4 1.1 .5 2-.4 .8-.9 1-2.2 .2-1.2-.3-2.3-.6-1.2-.3-2.4 .3-1.2-.9-1.2-1.3 .1-2.5 .5-1.1 .3-2.2-.4-1-.7-1.3-1.9-.3-1.2-1.5-1.5-1.2-.3-2.4 .1-1.2 .4-2.3 .9-1.1 .6-1.6-.5-.6-1.1-1.2-.1-.7 1.1-1.8 .6-1.2-.5-.4-1.5 .7-1 .4 .2-.2 1.2-1.1 2.1-1 .8-.6 2 .4 1.2 1.5 .7 1.2-.5 2.1-1.3 .9-.8 2.2-1.1 1.2-.3 1.2 1 .1 1.2 .3 2.5 .1 1.2 .1 2.5 0 1.2 .1 2.4 .2 1.3 .1 2.5-.2 1.3-1.4 1.7-1.1 .5-2.4 .3-1.2-.2-2.3-.8-1.1-.6-1.9-1.6-.8-.9-1.8-1.7-1-.8-1.3-2-.2-1.2 1-1.4 1.2-.3 1.8-1.4 .6-1.1 1.6-.3 .9 .8 1.4-.3 .5-1.2-.6-1.8M12.5 -6.3q.1 2.5 .8 3.6 .6 1.1 1.8 .8 1.2-.3 1.5-1.5 .3-1.2 1.4-1.9 1-.6 2.1 0 1.1 .7-.1 1-1.2 .4-2.4 .3-1.3 0-2.2-.9-.9-.8 .2-1.3 1.2-.5 2.2-1.2 1-.8 1.9 0 1 .8 1.6 1.9 .7 1.1 1.8 1.6 1.1 .6 .1 1.3-1 .8-1.2 2-.2 1.2-.8 2.3-.7 1-1.3 0-.6-1.1-1.8-1.6-1.1-.4-1.7-1.6-.5-1.1-1.3-2.1-.7-1-1.5-2-.8-1-1.5-2-.7-1-1.8-.5-1.2 .6-2.4 .4-1.2-.1-2.4 .4-1.1 .6-2.3 .9-1.2 .3-2.3-.3-1.1-.7-2.3-1.1-1.1-.5-1.9 .5-.8 .9-.7 2.2 .2 1.2-.3 2.3-.5 1.2-1.7 1.3-1.3 .1-1.4-1.2-.1-1.2-1.2-1.8-1-.6-2-1.4-1-.8-1.8-1.7-.9-.9-2.1-1.3-1.2-.3-.6 .8M-1.9 7.8q.3 2.5 1.6 2.6 1.2 .1 1.9-.9 .7-1 .7-2.3 0-1.2-.2-2.5-.2-1.2 1-1.5 1.2-.3 1.9-1.4 .7-1 1.5-2 .8-.9 .4-2.1-.5-1.2 .4-2.1 .9-.9 2.1-.7 1.3 .1 1.7-1.1 .4-1.1 .5-2.4 0-1.2-.3 0-.3 1.2 .1 2.4 .3 1.2 1 2.3 .6 1 1.4 2 .9 .9 1.3 2.1 .5 1.1 .1 2.3-.5 1.1-1.7 1.3-1.3 .1-2.5-.2-1.2-.2-.9-1.4 .3-1.2-.4-2.3-.6-1.1 .3-1.8 1-.8 1.8-1.8 .8-.9 2-1.2 1.2-.4 2.4-.8 1.2-.4 2.4-.8 1.2-.3 .7 .9-.4 1.1-1.2 2.1-.8 1-2 1.4-1.1 .4-1.8 1.5-.7 1-1.2-.2-.5-1.1-1-2.3-.4-1.1-.8-2.3-.3-1.2 .1-2.4 .4-1.2-.8-.8-1.2 .3-2.4 .6-1.3 .2-1.8 1.3M-12.5 3.4q-2.4 .8-1.5 1.7 .9 .9 .9 2.2 .1 1.2 0 2.5 0 1.2 .7 .2 .7-1 1.2-2.1 .5-1.2 1.8-1.1 1.2 .1 2.4 .4 1.2 .4 2.3 .9 1.1 .6 .1-.1-1-.7-1.9-1.5-.9-.9-.3-2 .6-1.1-.1-2.1-.7-1-1.6-1.9-.9-.8-2.1-1.1-1.3-.3-1.7-1.5-.4-1.2 .7-1.8 1.1-.5 1.9-1.5 .8-1 2-1.4 1.2-.3 2.3-.9 1.1-.6 .5 .5-.5 1.1-1 2.3-.5 1.2-1.2 2.2-.6 1.1-.7 2.3-.1 1.3 1.1 1.6 1.2 .3 2.4 0 1.3-.3 2.5-.5 1.2-.1 .1 .3-1.2 .5-.3 1.4 .9 .8-.3 1.2-1.2 .4-2.4 .2-1.3-.1-2.3 .5-1.1 .7-.1 1.5 .9 .8 2.2 1 1.2 .2 0 .1-1.3-.1-2.5-.6-1.1-.5-1.9-1.4-.9-.9-1.1-2.2-.2-1.2-.8-2.3M19.5 -.8q1.5-2.1 2.5-2.8 1-.7 1-1.9-.1-1.3-.5-.1-.5 1.2-1.7 1.1-1.3-.1-2.2-.9-1-.8-.8-2 .3-1.3 .6 0 .2 1.2 .5 2.4 .2 1.2-.9 1.8-1.1 .7-2.3 .5-1.3-.1-2.3 .5-1.1 .7-2.1 1.5-.9 .8-1.9 1.6-1 .7-1.7 1.8-.6 1-1.7 1.6-1.2 .6-2.4 .7-1.2 .2 0 .3 1.3 .1 1.7-1.1 .4-1.2 .5-2.4 .1-1.3 .8-2.3 .8-1 2-1.4 1.2-.3 2.3-.9 1.1-.6 2.3-.4 1.2 .2 2.5 .4 1.2 .1 2.3-.4 1.2-.6 2-1.5 .9-.8 2.2-1 1.2-.2 .1 .4-1 .7-1.1 1.9-.2 1.3 1 1.6 1.2 .4 1.2 1.6 0 1.3-1 2.1-1 .7-1.6 1.8-.6 1.1 .4 1.8 1.1 .6-.2 .4-1.2-.1-2.4-.3-1.3-.1-2.4-.8-1.1-.6-1.8 .4M15 -1.3q1.8-1.8 2.9-2.3 1.2-.4 2-1.3 .9-1-.4-1.1-1.2-.2-2.1 .6-.9 .9-1.2 2.1-.3 1.2 .1 2.4 .4 1.2 .4 2.4 .1 1.3 .6 2.4 .5 1.1 0 2.2-.6 1.2 .6 .9 1.3-.2 2.3 .5 1 .7-.2 .7-1.3 0-2.5 .3-1.2 .3-2.4 .1-1.3-.2-2.1-1.1-.8-1-1.3-2.1-.4-1.2-1.5-.5-1.1 .6-2.2 1.1-1.2 .5-1.8-.6-.6-1-1.8-1.1-1.3-.1-.1-.5 1.2-.5 2.4-.5 1.3 0 2.5 0 1.3 .1 2.3-.6 1-.7 .8-2-.2-1.2-1.4-1.2-1.3-.1-1.6-1.3-.3-1.2-.2-2.4" fill="none" stroke="#8FCE14" stroke-width="1.09" stroke-opacity="0.85" stroke-linecap="round" stroke-linejoin="round" /></g></defs>
<use href="#ygp" transform="translate(113.9 387.6) rotate(-25)"/>
<use href="#ygp" transform="translate(242.9 362.4) rotate(28)"/>
<use href="#ygp" transform="translate(260.3 473.6) rotate(-50)"/>
<use href="#ygp" transform="translate(138.2 491.4) rotate(-15)"/>
<path d="M173.5 367.8q-1.6 1.6-2.6 2.1-.9 .6-1.6-.2-.8-.9-1.2-1.9-.5-1-1.4-1.6-.9-.7-2-.9-1-.1-2 .3-1 .5-2.1 .7-1.1 .2-2.2 .2-1.1 0 0 .3 1 .3 1.6-.7 .6-.9 1.4-1.6 .9-.6 .9-1.7 .1-1.1 1.1-1.4 1.1-.3 1.4-1.4 .3-1-.2-2-.4-1-1.5-1.4-1-.3-1.6-1.2-.7-.9-.4-2 .3-1 1-.2 .8 .7 1.8 1.1 1.1 .3 2-.3 .9-.6 1.6-1.5 .7-.8 1.1-1.8 .5-1 .6-2.1 .1-1.1 .7-2 .7-.9 1.4-1.8 .7-.8 .8 .3 .1 1.1-.8 1.8-.9 .6-.7 1.7 .2 1.1 .6 2.1 .3 1.1 1.2 1.7 1 .5 1.8 1.2 .9 .8 .4 1.7-.5 1-.5 2.1-.1 1.1-1.1 1.4-1.1 .3-1.6 1.2-.5 1-1.6 .9-1.1-.1-1.4 1M168.3 372.3q-1.5 1.6-2.4 .9-.9-.7-1.7 0-.9 .7-1.3 1.7-.5 1 .5 .5 1-.5 1.9-1 1-.5 2.1-.9 1-.3 1.9 .4 .9 .7 1.1 1.7 .3 1.1 .6 2.2 .3 1 1.2 1.6 .9 .6 1.8-.1 .9-.6 1.2-1.7 .3-1-.1-2.1-.4-1-1-1.9-.5-1-1.6-.7-1.1 .2-2.2 .1-1.1-.1-1.6-1-.5-1-1.6-1-1.1 .1-1.8 .9-.8 .8-1.7 1.4-.9 .6-2 .5-1.1-.1-.6-1.1 .5-.9 1.3-1.7 .8-.8 1.5-1.6 .7-.9 .2-1.9-.5-1-.3-2.1 .3-1 1.3-1.2 1.1-.2 1.8 .7 .7 .8 .4 1.9-.3 1.1-.8 2-.6 1-1.4 1.7-.8 .8-1.6 1.6-.8 .7-1.8 .4-1.1-.2 0-.2 1.1 .1 .9 1.1-.3 1.1-.2 2.2 .1 1.1 1 .4 .8-.6 1.2-1.7M166.5 354.8q2.1-.8 3.1-.4 1 .4 .6 1.4-.4 1-1.1 1.9-.7 .9-1.3 1.8-.6 .9-1.3 1.7-.7 .8-1.8 1.2-1 .3-1.9 1-.8 .7-1.7 1.3-.9 .7-2 .9-1.1 .2-.4-.7 .7-.8 1.7-1.4 .9-.5 1.9-1.1 .9-.5 1.8 .1 1 .6 2.1 .4 1.1-.1 2.1 .1 1.1 .1 1.4-1 .3-1 .3-2.1 0-1.1-.1-2.2-.1-1.1-.9-1.8-.9-.7-.4-1.7 .4-1 .1-2.1-.3-1-1.4-1.4-1-.4-2.1-.4-1.1 0-2.2 .2-1 .3-2.1 .1-1.1-.2 0-.2 1.1 0 1.9-.7 .8-.7 1.6 .1 .7 .8 1.8 .9 1.1 .1 1.3 1.1 .3 1.1 .2 2.2 0 1.1-.2 2.2-.1 1.1-1.1 1.5-1.1 .4-2.2 .4-1.1 0-1.9 .7-.9 .7-.5 1.7 .4 1 .8 2.1 .3 1 .3 2.1M171.5 345.4q.6-2.1-.2-1.4-.9 .7-1.2-.4-.2-1 .6-.3 .8 .7 1.9 1.1 1 .3 1.6-.6 .6-.9-.3-.2-.8 .6-1.7 1.4-.8 .7-.5 1.8 .2 1.1 0 2.1-.2 1.1-.7 2.1-.5 1-.3 2.1 .2 1.1-.9 .9-1.1-.2-2.1-.8-.9-.5-1.9-1-1-.5-1.8-1.3-.8-.7 .1-1.3 .9-.7 1 .4 .1 1.1 .2 2.2 .2 1.1 .9 2 .7 .8 .3 1.8-.4 1-1.5 .7-1-.2-2.1 .1-1 .3-1.3 1.4-.4 1-1.2 1.7-.9 .7-2 .8-1.1 0 0-.1 1.1 0 2.2-.1 1.1-.1 .1 .3-.9 .5-1.9-.1-.9-.6-.2-1.4 .7-.9 1.7-.5 1 .5 1.5 1.5 .4 1 1.5 1 1.1-.1 1.5 1 .3 1 .3 2.1 0 1.1 .9 1.8 .9 .6 1.8 1.2 .8 .7 1.2 1.8M169.3 352.7q2.1 .7 3 1.3 .9 .6 1.5-.3 .6-.9 .4-2-.2-1.1-1.2-1.5-1.1-.4-2.1-.7-1.1-.3-1.8-1.2-.6-.8-1.4-1.6-.7-.9-.7-2 .1-1.1 .7-.2 .6 1 .5 2.1 0 1.1-.7 1.9-.6 .9-1.3 0-.6-.9-.8-2-.2-1.1-1.3-.7-1 .4-.8 1.5 .1 1.1 .5 2.1 .4 1.1 1.4 .9 1.1-.2 2-.9 .9-.6 1.8 .1 .8 .7 1.4 1.6 .7 .9 .2 1.9-.5 1 .3 1.8 .7 .8 1.8 .7 1.1 0 2.2 .4 1 .4 1.6 1.3 .5 1 .4 2-.2 1.1 .8 1.5 1.1 .4 1.8 1.2 .8 .7 1.6 1.5 .9 .7 1.6 1.5 .8 .8 1.2 1.8 .4 1.1 1 2 .6 .9-.2 .1-.8-.8-1.4-1.7-.6-.9-1.7-.9-1.1 .1-.9 1.2 .3 1 1.2 1.7 .9 .6 2 .4M171.6 371.8q-1-1.9-.9-3 .2-1.1-.5-2-.6-.8-.9-1.9-.2-1.1-1.1-1.7-.9-.7-2-1-1-.3-2 .1-1 .4-2.1 .2-1.1-.2-1.3 .9-.2 1.1-1.3 .8-1-.3-2-.7-1.1-.4 0 0 1 .3 2-.2 1-.4 2.1-.2 1.1 .1 2.1-.4 .9-.6 1.5-1.5 .6-.9 1.3-1.8 .6-.9 1.3-1.7 .8-.8 1.7-.2 .9 .6 1.6-.2 .8-.9 1.3-1.8 .6-1 1.7-1.1 1-.1 2.1-.4 1.1-.3 2.2-.3 1.1 0 1.4 1.1 .3 1 1.4 1.3 1.1 .3 2.1 .6 1.1 .3 1.7 1.2 .6 .9-.4 1.2-1.1 .3-.9 1.4 .1 1.1 .7 2 .7 .9 .9 1.9 .2 1.1-.1 2.2-.3 1-.9 .1-.5-1-.1-2 .3-1.1 1.3-1.6 1-.5-.1-.4-1.1 0-2.2 .1-1.1 .2-2.2 .1M176.9 360.8q2.1 .8 3.2 .7 1.1-.1 1.8 .7 .8 .8 .8 1.9 .1 1.1 .8 2 .7 .9 1 1.9 .4 1-.5 1.7-.8 .7-1.2 1.8-.3 1-1 1.8-.8 .8-1.8 1.3-1 .4-1.6 1.3-.6 .9-1.7 1-1.1 .1-2 .7-1 .5-2.1 .1-1-.3-2-.9-.9-.5-2-.5-1.1-.1-2.2 0-1.1 .2-1.8 1-.7 .8-1.2-.2-.5-.9-1.5-1.4-1-.4-1.1-1.5 0-1.1 .9-1.7 1-.6 1-1.7 0-1.1 .6-1.9 .7-.9 .8-2 .2-1.1-.3-2.1-.5-1-.6-2.1 0-1.1 .1-2.2 0-1.1-.4-2.1-.5-1-1.1-1.9-.6-.9-1.6-1.4-.9-.6-.8-1.7 0-1.1 .9-1.8 .9-.7 1.2-1.7 .4-1 .7-2.1 .3-1.1 1.4-1.2 1-.2 2.1-.6 1-.5 1.5 .5 .5 1 .7 2M162.9 355.3q-1.8 1.2-1.9 2.3-.1 1.1 .6 1.9 .8 .8 1.4 1.7 .6 .9 1 2 .4 1 1.3 .4 .9-.6 .2-1.4-.7-.9-.6-1.9 .2-1.1 .3-2.2 .2-1.1 .9-.2 .6 .8 1.7 .5 1-.4 1.9-1 1-.6 1.5-1.6 .5-.9 1.5-1.5 .9-.6 1.8-.1 .9 .6 .6 1.7-.4 1 .1 2 .6 .9 0 1.9-.5 1 0 1.9 .6 1 .8 2.1 .3 1 .4 2.1 .1 1.1-.3 2.1-.5 1-.2 2.1 .3 1.1-.5 1.8-.8 .7-1.6 1.5-.8 .8-1.6 1.6-.7 .7-1.3 1.7-.6 .9-.3 2 .4 1-.1 0-.5-1-.7-2-.2-1.1 .1-2.2 .3-1-.4-1.9-.7-.8-1.6-1.4-1-.6-1.4-1.6-.4-1.1-1.1-2-.6-.9-.5-2 .1-1.1-.7-1.9-.8-.7-.3-1.7 .5-1 1.3-1.8M176.6 346.7q1.8 1.3 2.2 2.3 .4 1 1.4 .6 1.1-.4 .3 .4-.8 .8-1.1 1.8-.2 1.1-.7 2.1-.6 .9-1.6 .6-1-.4-2.1-.6-1.1-.2-2.2-.2-1.1-.1-2.2-.3-1-.3-1.7-1.2-.7-.8-1.4-1.6-.8-.9-1.3-1.8-.5-1-1.4-1.7-.8-.8-1 .3-.3 1.1 .2 2.1 .4 1 1 1.9 .5 1 .7 2.1 .2 1.1-.2 2.1-.3 1-1.4 .8-1.1-.2-1.2-1.3-.2-1.1-.5-2.2-.4-1-1-1.9-.6-.9 .4-.5 1 .5 .1 1.1-.9 .7-1.7 0-.9-.7 .1-.2 1 .5 1.8 1.2 .8 .8 1.2 1.8 .5 1 .1 2-.4 1-1.3 1.6-.9 .7-1.6 1.5-.7 .9-1.7 1.2-1.1 .2-.1 .6 1.1 .4 2.1 .2 1.1-.2 2.2-.5 1.1-.2 2.2-.2 1.1 .1 2.1-.1 1.1-.3 2.2-.2M171.1 363.9q1.2-1.8 1.2-2.9 .1-1.1 1.2-1.1 1.1 0 2.1 .4 1 .4 1.4 1.4 .5 1.1 .8 2.1 .4 1 0 2.1-.4 1-1.5 1.3-1 .3-2.1 .5-1.1 .2-2 .9-.9 .6-1.4 1.6-.5 1-1.4 .4-1-.5-2-.9-1.1-.4-2.2-.3-1.1 0-2 .6-.9 .7-.4 1.7 .5 1 1.3 1.7 .8 .7 1.4 1.6 .6 1 1.5 1.6 .9 .6 2 .5 1.1 0 2.2 .3 1 .3 1.9 1 .9 .7 1.9 1.1 1 .3 .6-.7-.5-1-1.6-1.1-1.1-.1-2.2 .1-1 .3-1.1 1.4-.1 1.1-.8 .2-.7-.8-1.8-.8-1.1 .1-1-1 .2-1.1 1.2-1.3 1.1-.3 1-1.3-.1-1.1 0-2.2 0-1.1-.9-1.7-1-.6-1.7-1.4-.8-.8-1.9-.5-1 .3-2.1 .1-1.1-.3-1.9-.9-.9-.7-.4-1.7M168.9 363.3q2.2 .5 2.5-.6 .4-1 1.2-1.8 .8-.7 0-1.4-.8-.7-1.8-1.3-.9-.6-1.5-1.5-.7-.9-1.2-1.8-.6-1-1.6-.7-1.1 .3-1.9 1-.7 .8-1.8 1.1-1.1 .2-1.9-.5-.9-.7-.4-1.7 .5-1-.5-1.5-1-.6 .1-.2 1 .4 2.1 .3 1.1-.1 1.8 .8 .7 .8 1.5 1.6 .8 .8 1.4-.1 .6-.9 .4-2-.2-1.1 .7-1.8 .8-.8 .2-1.7-.5-.9-.1-1.9 .5-1 1-2 .5-1-.1-1.9-.6-.9-1.1 0-.6 1-1.5 1.6-.9 .5-2 .9-1 .3-1.6 1.2-.6 .9-1.6 1.5-1 .5-1 1.6-.1 1.1 .7 1.9 .7 .7 1.2 1.7 .5 1 1.5 1.2 1.1 .2 2.2-.1 1.1-.2 1.6-1.2 .4-1 1.4-1.5 .9-.6 1.4 .4 .6 .9 0 1.9-.5 .9-1.4 1.6M174 354.9q.5 2.1 .7 3.2 .1 1.1-.9 1.4-1 .4-1.4 1.5-.4 1 .2 1.9 .5 1 1.4 1.7 .8 .8 1.8 1.1 1.1 .3 1.3 1.4 .2 1.1 1.3 1.1 1.1 .1 .7 1.1-.5 1-1.5 .9-1.1-.2-2.2 .1-1.1 .3-2.2 .3-1.1 .1-2.1 .5-1 .5-2.1 .3-1.1-.2-1.9-1-.8-.7-1.1-1.8-.2-1 .3-2.1 .4-1 1.4-.5 1 .5 2 .8 1.1 .4 1.8 1.2 .7 .9 1.5 1.6 .8 .8 1.6 1.5 .8 .8 1.4 1.7 .6 .9 1.3 1.8 .7 .8 1.1 1.8 .4 1.1 .3 0-.1-1.1-.4-2.2-.3-1.1-1.3-1.4-1.1-.3-2.2-.1-1 .2-2 .8-.9 .6-1.7-.1-.8-.8-1.9-1-1.1-.3-1.6 .6-.6 1-.2 2 .4 1 .6 2.1 .2 1.1 .5 2.1 .3 1.1 .4 0 .1-1.1-.2-2.1" fill="none" stroke="#44D682" stroke-width="1" stroke-opacity="0.88" stroke-linecap="round" stroke-linejoin="round" /><path d="M164.8 346.9q2 .9 3.1 1.2 1 .4 2 .8 1 .5 2.1 .6 1.1 0 1.5-1 .5-1-.3-1.8-.7-.8-1.1-1.8-.3-1-.8-.1-.5 1 .6 1.1 1 .2 2 .7 1 .5 2.1 .5 1.1 0 1.9 .8 .8 .7 .9 1.8 0 1.1 .3 2.2 .3 1-.8 1.1-1.1 .1-2 .6-1 .5-2.1 .7-1.1 .1-1.8-.7-.7-.9-1-1.9-.4-1.1-.8-2.1-.5-.9-.1-2 .5-1-.3-1.7-.8-.8-1.6-1.6-.8-.8-1.8-.4-1 .4-.1 1 1 .5 .7 1.6-.2 1.1-.7 2.1-.5 .9 .3 1.7 .8 .7 1.9 .9 1.1 .2 1.3 1.3 .2 1.1 1.3 1.3 1 .2 1.7 1.1 .6 .9-.4 1.2-1.1 .3-2.1 .1-1.1-.3-1.8 .6-.7 .9-1.7 .7-1.1-.1-1.3 1-.2 1.1-.6 2.1-.5 1-.6 2.1M176.2 373.8q-.3-2.2-.5-3.3-.3-1.1 .2-2.1 .4-1 .8-2 .5-1 1.1-1.9 .5-1 .6-2.1 0-1.1-1.1-1.3-1-.2-2.1-.1-1.1 .1-2.1-.4-1-.5-1.2-1.6-.3-1 .6-1.7 .9-.7 1-1.8 .1-1.1-.6-1.9-.7-.9-.8-2-.1-1.1-.6-2-.5-1 .6-.9 1.1 .1 2.1 .4 1 .4 1.7-.5 .7-.8 .9-1.9 .2-1.1 1.3-1.2 1.1-.1 .9 1-.2 1.1-.5 2.1-.4 1.1-1.4 1.4-1 .4-1.5 1.4-.4 1 .3 1.9 .7 .8 1 1.9 .4 1 .4 2.1-.1 1.1 .8 1.8 .9 .6 1.8 1.3 .8 .7 1.6 1.4 .9 .7 .7 1.8-.2 1.1 .4 2 .6 .9 1.5 .2 .8-.7 1.7-1.3 1-.6 0-1.2-.9-.5-1.4-1.5-.5-1-.5-2.1-.1-1.1-.9-1.9-.8-.8-.3-1.8" fill="none" stroke="#2FC06C" stroke-width="1.15" stroke-opacity="0.88" stroke-linecap="round" stroke-linejoin="round" />
<path d="M230.5 424.2q2 .8 1.1 .3-1-.6-1.5 .4-.6 .9-1.7 .7-1-.3-1.7 .6-.7 .8-1.7 1.3-1 .4-2.1 .5-1.1 0-2.1 .5-1 .5-.7 1.6 .3 1-.7 .9-1.1-.2-1.9-1-.7-.9-1.2-1.9-.5-.9-1.5-.7-1.1 .3-.1-.2 .9-.6 1.8 .1 .9 .6 2 .7 1.1 .1 2.1 .5 1 .4 2 .9 1.1 .4 1.4 1.5 .3 1-.5 .2-.8-.7-1.8-.3-1 .4-1.2-.7-.3-1.1 .1-2.1 .3-1-.1-2.1-.4-1 0-2 .5-1 .7-2.1 .2-1.1-.4-2-.6-.9-1.6-1.2-1.1-.3-2.2-.5-1.1-.2-1-1.3 .1-1 .8-1.9 .7-.8 1.4-1.7 .7-.8 .7-1.9-.1-1.1 1-1.1 1.1 0 2.2-.3 1.1-.3 2.1-.6 1.1-.2 2-.9 .9-.6 1.9-.1 .9 .6 1.8 1.2M221.1 417.4q2.2 .5 2.5 1.5 .4 1.1-.6 1.4-1.1 .2-1.5 1.3-.4 1-.7 2-.3 1.1 .6 1.6 1 .6 1.8 1.3 .9 .7 1.6 1.5 .8 .8 .9 1.9 .1 1.1 1.1 1.5 1.1 .4 2.2 .2 1-.2 1.9-.9 .8-.7 1.5-1.5 .7-.9 1.3 .1 .6 .9-.2 .2-.9-.7-1.7-1.4-.9-.7-1.9-1.2-1-.5-1.8-1.3-.8-.7 .1-1.3 1-.6 1.7-1.4 .7-.9 1.5-1.6 .8-.8 1.5-1.7 .7-.8 1.1-1.9 .3-1 .9-1.9 .6-1 .9-2 .3-1.1-.7-1.4-1-.4-1.9-1.1-.8-.8-1.6 0-.8 .7-1.7 1.4-.9 .6-1.8 1.2-1 .6-1.7-.2-.8-.8-.6-1.9 .2-1.1 .8-2 .7-.9 .4-1.9-.3-1.1-.4-2.2-.1-1.1 1-1.1 1.1 0 2 .6 1 .5 1.5 1.5 .5 1-.5 .6M227.9 413.2q-2 1-2.6 .1-.7-.9-1.7-.5-1 .5-.7 1.5 .3 1.1 .3 2.2 0 1.1-.7 2-.6 .9-.9 1.9-.4 1.1-.7 2.1-.3 1.1-.3 2.2 .1 1.1-.8 1.7-.9 .6 0 1.3 .8 .7 1.5 1.6 .7 .8 1.8 .6 1.1-.2 1.9-.9 .8-.8 .3-1.7-.5-1-1.5-1.4-1.1-.4-2.1-.7-1-.4-2.1-.8-1-.4-.7-1.4 .3-1.1 .4-2.2 .1-1.1 .5-2.1 .4-1 1.1-1.9 .7-.8 1.6-1.5 .8-.7 1.8-.1 .9 .6 1.8 1.2 .8 .7 1.6 1.5 .8 .8 1.6 1.5 .9 .7 1.7 1.4 .8 .7 1.7 1.4 .9 .7 1 1.8 .1 1 .1 2.1 .1 1.1 .1 2.2 0 1.1-.8 .5-.9-.7-1.2-1.8-.3-1-1.2-1.7-.9-.6-1.5-1.5-.5-1-1.2-1.9-.6-.9-1.1-1.9-.5-.9-.2-2M241 415.2q-1 2 0 2.4 1 .5 1.4 1.5 .5 1 .2 2.1-.3 1-1.4 1-1.1 0-2.2 .2-1.1 .2-1.6 1.2-.5 1-.1 2 .5 1 1.5 1.4 1 .4 0-.1-1-.4-1.9-1-1-.6-1.8-1.2-.9-.7-1-1.8-.1-1.1-1.2-1.2-1.1 0-2.1-.4-1-.4-2.1-.5-1.1-.2-2.2-.5-1-.2-2.1 .1-1.1 .4-1.9 1-.9 .6-2 .8-1.1 .2-1.8-.6-.8-.9-1.8-.5-1 .4-2.1 .4-1.1-.1-2 .6-.8 .7-1.9 .8-1.1 0-.1-.2 1.1-.3 2-.9 1-.5 1.5-1.5 .5-1 .7-2.1 .2-1 .7-2 .5-1 1.1-1.9 .7-.9 .8-2 .1-1.1 .7-2 .5-1 1.5-1.5 1-.5 1.3-1.6 .3-1.1-.4-1.9-.6-.9-1.5-.2-.8 .7-1.4 1.6-.6 .9-1.3 1.8M212.5 408.3q-.1 2.2-.6 3.2-.4 1-1.5 1.3-1.1 .2-1.6 1.2-.6 .9-1.5 1.4-1 .6 .1 .8 1.1 .2 2.2 .2 1.1 0 2.2 0 1.1-.1 1.8 .8 .7 .8 .7 1.9 .1 1.1 .5 2.2 .4 1 1 1.9 .6 .9 1.1 1.9 .5 1 1.5 1.5 1 .5 2 .1 1-.5 1.6-1.4 .6-.9 .1-1.9-.5-.9 .5-1.3 1-.4 1.6-1.3 .5-1 1.5-1.5 1-.5 .5-1.5-.6-.9-1.4-1.6-.9-.7-.3-1.6 .5-1 1-2 .4-1-.4-1.7-.9-.7-1.9-1.1-1-.4-1.6 .6-.6 .9 .4 1.4 1 .5 .7 1.6-.4 1-.4 2.1-.1 1.1-.4 2.2-.3 1-1.4 1.3-1.1 .2-1.8 1-.8 .7-1.8 1.3-.9 .6-1.9 1.1-1 .4-1.6 1.4-.5 .9-.9 2-.3 1 .4 1.9 .7 .9 1.7 .6M237.1 409q-1.3 1.8-2 2.7-.6 .9-.6 2 .1 1.1-.1 2.1-.2 1.1-1.1 1.6-1 .5-2.1 .8-1 .3-1.6 1.2-.6 1-1.1 2-.4 1-1.4 1.4-1 .4-2.1 .2-1.1-.3-1.9-1-.9-.7-1.6-1.5-.6-.9-1.7-1.1-1.1-.2-2.1-.7-1-.4-1.9 .2-.9 .6-1.8 1.2-.9 .6-1.6 1.5-.6 .9-1.5 1.6-.9 .7-1.9 .2-1-.4 0 .1 1 .5 2 .9 1.1 .3 1.5 1.3 .5 1 1.5 1.6 .9 .5 1.7-.3 .7-.8 1.5-1.6 .7-.8 1.4-1.7 .7-.8 1.7-1.3 .9-.6 2-.6 1.1-.1 2-.8 .9-.7 2-.7 1.1 0 .9-1.1-.1-1.1 1-1.4 1.1-.2 1.4-1.3 .3-1 1.1-1.8 .7-.9 1.7-.5 1.1 .4 2.2 .4 1.1 .1 1.4-1 .3-1-.3-1.9-.6-.9-1.3-1.8M226.7 419.2q2.1 .9 3.1 .4 1-.4 1.7-1.3 .7-.8 .9-1.9 .2-1.1 1-1.8 .9-.7 1.4-1.7 .5-.9 .7-2 .2-1.1 1.2-.7 1 .4 2 1 .9 .5 1.4 1.5 .4 1 .8 0 .4-1 .9-2 .6-.9-.5-1.1-1-.1-2-.7-.9-.6-1.2-1.6-.3-1.1-1.4-.9-1 .2-2 .8-.9 .5-.5 1.5 .5 1-.4 1.7-.8 .7-1.8 .2-.9-.6-1.9-.1-1 .5-1.8-.3-.8-.7-1.4 .2-.6 .9-1.4 1.6-.9 .7-1.1 1.8-.3 1-.7 2.1-.3 1-1.2 1.7-.9 .7-2 .5-1-.2-1.9-.8-.9-.7-1.7-1.4-.8-.8-.8-1.9 0-1.1-.7-1.9-.8-.8-1.3-1.8-.5-1-1.3-1.7-.8-.7-1.9-.5-1.1 .2 0 0 1.1-.2 2.1-.7 1-.4 1.1 .7 0 1.1 .2 2.2M215.3 405q-1.7 1.5-2 2.5-.4 1-.3 2.1 .1 1.1 .1 2.2 0 1.1 .3 2.2 .2 1.1 1.3 1.4 1 .3 2.1 .1 1-.3 1.4 .7 .4 1-.7 1.2-1.1 .1-1.9 .9-.7 .9-1.6 1.4-1 .6-1.9 1.1-1 .6-1.3 1.7-.3 1-1.2 1.7-.8 .7 .2 1 1.1 .3 1.5-.7 .4-1.1-.7-.8-1 .3 0 .6 1.1 .3 2.2 .2 1.1-.2 2.2-.2 1.1 0 1.7-.9 .6-.9 1.4-1.6 .9-.7 1.8-1.3 .9-.6 1.4-1.6 .5-1 .5-2.1 0-1.1 .7-.3 .7 .8 .3 1.8-.5 1-1.1 2-.5 .9-1.6 .8-1.1-.2-1.8-1-.6-.9-1.4-.1-.8 .8-1.9 .7-1.1-.1-2.1-.6-1-.4-.4-1.3 .5-1 1.1-1.9 .6-.9 1.4-1.7 .9-.7 1.8-1.2 1-.4 2.1-.7 1.1-.3 .6-1.3M226 417.9q2.2-.5 3.1-1.1 .8-.7 1-1.8 .2-1 1.3-1 1.1 0 2.2-.1 1.1-.2 2.1-.7 .9-.6 2-.9 1-.3 2.1-.5 1.1-.1 2.2-.4 1-.3 1.7 .7 .6 .9-.5 .8-1.1 0-2.1 .5-1 .4-2.1 .6-1.1 .1-2.1 .6-1 .5-2.1 .6-1.1 .1-1.2 1.2-.1 1.1 .4 .1 .5-1 1.4-1.6 .9-.7 1.5-1.6 .7-.9 1-1.9 .4-1 .9-2 .5-1-.6-.7-1 .4-1 1.5-.1 1.1 .9 1.6 1 .4 2 1 .9 .6 1.8 1.1 1 .6 1.3 1.7 .4 1 .9 2 .5 .9-.4 1.6-.9 .6-1.4-.4-.5-1-.5-2.1 0-1.1-1-.9-1.1 .2-1.5 1.2-.3 1.1-.2 2.2 .1 1-.8 1.6-1 .5-2 1.1-1 .5-.9 1.6 0 1.1 .9 1.7 .9 .6 2 .8M215.7 426.1q-1.1 1.9-2 1.3-.8-.7-1.9-.8-1.1-.1-.1-.6 .9-.5 2-.5 1.1 0 2-.6 .9-.6 .9-1.7-.1-1.1 .3-2.1 .4-1.1 1.5-1 1.1 0 2.2-.1 1.1-.1 2.1 .3 1 .4 1.2 1.5 .2 1.1 .8 2 .6 .9 .3 2-.3 1.1-.6 2.1-.3 1.1-.4 2.2-.1 1.1 .2 0 .3-1 .6-2.1 .3-1.1 .9-1.9 .7-.9 .5-2-.3-1.1-1-1.9-.7-.9-1.7-1.3-1-.4-2-.7-1.1-.4-1.3-1.5-.3-1-1.1-1.8-.8-.7-1.7-1.4-.8-.6-1.7-1.4-.8-.7-1.8-.4-1.1 .3-2 1-.8 .6-1.9 .8-1.1 .2-1.9-.6-.7-.8-.1 .1 .7 .9 1.3 1.8 .7 .8 1 1.9 .4 1 .8 2 .5 1 1.1 1.9 .6 1 .4 2-.2 1.1 .6 1.9 .7 .7 1.8 1.1" fill="none" stroke="#44D682" stroke-width="1" stroke-opacity="0.88" stroke-linecap="round" stroke-linejoin="round" /><path d="M237.7 416.2q1.4 1.8 .6 2.6-.7 .8-1.7 1.3-1 .4-2 .9-1 .5-2 .2-1-.4-2.1-.7-1-.4-2.1-.1-1 .4-1.9-.3-.9-.6-.6-1.6 .3-1.1 1.4-1.3 1.1-.3 1.5-1.3 .4-1 1.4-.6 1 .4 2.1 .4 1.1 .1 2 .8 .8 .7 .7 1.8-.1 1.1-1 .5-1-.5-1.7 .3-.8 .9-.6 1.9 .1 1.1-.7 1.9-.9 .7-1.9 1-1.1 .3-2 .9-.9 .6 .1 .8 1.1 .1 2.1 .7 .9 .5 2 .9 1 .4 .7-.7-.2-1 .8-.6 1 .5 .9-.6-.1-1.1-.7-2.1-.6-.9-1.2-1.8-.6-1-1-2-.4-1-.1-2.1 .3-1 .4-2.1 0-1.1-.7-2-.7-.8-1.7-1.4-.9-.6-1.3 .4-.4 1.1 .1 2 .6 .9-.4 1.4-.9 .5-1.5 1.5-.6 .9-1 1.9M215.8 412.4q-1.8-1.3-1.3-2.4 .4-1 .6-2.1 .1-1 0-2.1-.2-1.1 .2-.1 .4 1 1 2 .5 .9 1.3 1.7 .8 .8 1.2 1.8 .5 1-.4 .3-.9-.6-.4-1.6 .5-1 1.2-1.8 .8-.8 .6-1.9-.2-1.1 .4-2.1 .5-.9-.6-.8-1.1 .1-.3 .8 .9 .7 2 .9 1 .3 .4-.6-.6-.9-1.5-1.7-.8-.7-1 .4-.3 1.1 .6 1.7 1 .5 2 .1 1-.4 2.1-.1 1.1 .2 2 .8 1 .5 2.1 .6 1.1 .1 2.1 .3 1.1 .3 2.2 .3 1.1 .1 1.7-.8 .6-1 .9-2 .3-1.1-.3-.1-.5 .9-1.5 .4-1-.5-1.7-1.3-.8-.8-1.3 .2-.5 .9-1 1.9-.5 1-1 2-.5 1-1.6 .9-1.1 0-1.9-.8-.8-.7-1.2-1.8-.4-1-.2-2.1 .1-1.1-.5-.1M229.3 412.3q1.9-1 3-1.2 1.1-.2 .4-1.1-.6-.9-1.7-.5-1 .4-2.1 .6-1 .3-2.1 .2-1.1-.1-2.2 0-1.1 .1-2.1 .6-1 .4-2.1 .7-1 .4-1.9-.3-.9-.6-1.2-1.7-.2-1.1-.5-2.1-.3-1.1-1-1.9-.7-.9 .4-.6 1.1 .2 1.8-.6 .8-.8 1.9-.8 1.1-.1 1.9-.9 .8-.7 1.7-.1 .9 .6 1.7 1.4 .8 .8 1.2 1.8 .5 1 1.5 1.5 1 .5 2.1 .3 1-.3 2.1-.1 1.1 .2 2.2 .1 1.1 0 2.2-.1 1.1-.1 1.4-1.1 .2-1.1-.7-.6-1 .6-2.1 .8-1.1 .2-2.1 .4-1.1 .2-1.6 1.2-.5 .9 .3 1.7 .8 .8 1.4 1.7 .6 .9 1.7 1.2 1 .3 2.1 0 1.1-.3 2.2-.2 1 .1 1.7 1 .6 .9 1.4 .2 .8-.8 1.1-1.9 .3-1-.6-.4M236 426.2q.8-2 1.1-3 .3-1.1 1.2-.4 .9 .7 1.9 .4 1.1-.4 0-.2-1.1 .1-2-.5-1-.6-2-.9-1.1-.2-1.8-1.1-.6-.9-1-1.9-.4-1-.8-2.1-.4-1-1.2-1.8-.7-.7-1.3-1.7-.7-.9-.3-1.9 .5-1 .9-2 .4-1 .5-2.1 0-1.1-.8-1.8-.9-.7-1.7-1.4-.8-.8-1.9-.7-1.1 0-1.5 1-.4 1.1-1.3 1.6-1 .5-1.6 1.5-.6 .9 .4 1.3 1.1 .5 2.1 .3 1.1-.2 1.4 .9 .2 1 .5 2.1 .3 1 1.4 1.2 1.1 .2 1.9-.5 .8-.8 1.9-1 1.1-.2 2.2 0 1 .2 2.1 .6 1 .4 2.1 .6 1.1 .3 2 .9 .9 .6 .5 1.6-.3 1.1-1 1.9-.8 .8-1.4 1.8-.6 .9 0 1.8 .6 .9 .8 2 .3 1.1-.7 1.6-1 .5-2.1 .4" fill="none" stroke="#2FC06C" stroke-width="1.15" stroke-opacity="0.88" stroke-linecap="round" stroke-linejoin="round" />
<path d="M129.9 420.1q-.8-2.2 .3-2.6 1-.5 2.2-.7 1.1-.2 2.3-.2 1.1-.1 2.1 .4 1.1 .5 2.2 .8 1.1 .2 2.1-.5 .9-.6 1.6-1.5 .8-.9 0 0-.7 .9-1.2 1.9-.6 1-.7 2.1-.2 1.2-.5 2.3-.3 1.1 .8 1.2 1.2 .1 2.3 .2 1.2 0 2.3-.1 1.2-.1 0-.2-1.1 0-2.3 0-1.1 0-2.2-.4-1-.5-2.2-.3-1.1 .2-2.2 .4-1.2 .2-2.3-.2-1-.4-2.2-.3-1.1 .1-2.3 .3-1.1 .1-2.2 .2-1.2 .2 0 .2 1.1 .1 2.2-.2 1.1-.4 2.2-.7 1.1-.3 2.3-.5 1.1-.1 1.8-1.1 .7-.9 1.8-1.2 1.1-.3 2.2-.5 1.1-.3 2.3-.5 1.1-.2 2.2 .2 1.1 .4 1.5 1.5M136.7 423.7q-.7 2.2-1.7 2.6-1.1 .4-.9-.7 .3-1.1 .4-2.3 .2-1.1 1.2-1.7 1-.6 2.1-1 1.1-.3 2.2-.5 1.1-.2 2.2-.5 1.1-.4 2.3-.4 1.1 0 2.3 0 1.1 0 .5 1-.7 .9-.5 2 .2 1.2-.9 .9-1.1-.3-2.2 0-1.1 .2-2.2 .6-1.1 .3-2.1 .9-1 .6-2.2 .7-1.1 .2-2.2-.2-1.1-.3-2.2-.6-1.1-.3-2.2-.6-1.2-.3-2.3-.6-1.1-.3 .1-.6 1.1-.2 2.2-.4 1.2-.2 2.2-.7 1-.5 1.9-1.2 1-.7 2.1-.9 1.1-.1 2.3-.1 1.1 .1 2.3 0 1.1-.1 .5 .9-.6 1-1.7 1.2-1.2 .3-2.3 .2-1.1-.2-2.3 .1-1.1 .2-2.2 .1-1.2-.1-2-.9M174.7 423.3q-2.1 1-3.2 1.2-1.2 .2-2.2-.4-1-.5-2.1-.4-1.2 .1-1.9-.8-.8-.9-1.3-1.9-.6-1-1.5-1.6-1-.6-2.1-1.1-1-.4-2.2-.5-1.1 0-2.1-.6-1-.6-2.1-.1-1 .5-.5 1.5 .6 1 1.4 1.7 .9 .8 1.9 1.4 1 .6 1.9 1.2 1 .7 2.1 .8 1.2 .1 2.3 .5 1 .4 2.1 .9 1 .4 1.5 1.5 .4 1.1 .4 2.2 0 1.2 .8 2 .8 .8 1.6 1.6 .7 .9 1.5 1.8 .7 .9 .5-.3-.2-1.1 .4-2.1 .6-1 1.6-1.6 1-.5 2.1-.8 1.1-.2 2.2-.5 1.2-.2 .6-1.2-.6-1-1.8-.8-1.1 .3-2.1-.2-1.1-.5-1.8 .4-.6 1-1.1 2-.5 1 .2 1.9M174.7 417.5q.5 2.3 1.4 2.9 .9 .7 1.2 1.8 .2 1.1 .8 2.1 .5 1 0 0-.5-1-1.2-1.9-.7-.9-1.6-1.6-.9-.8-1.9-1.3-1-.6-1.9-1.2-1-.7-1.9-1.4-.8-.8-1.8-1.4-1-.6-2.1-.6-1.2 0-2.1-.7-1-.6-2.1-.8-1.2-.2-2.3-.5-1-.4-2.2-.6-1.1-.1-1.2 1.1 0 1.1 .5 2.1 .5 1.1 .4 2.2-.1 1.2 .6 2.1 .7 .9 1.6 1.6 .9 .7 1.8 1.5 .9 .7 1.6 1.6 .7 .9 1.6 1.7 .8 .7 1.9 1.2 1 .4 1.2 1.6 .1 1.1-.2 2.2-.3 1.1-1.4 1.3-1.1 .2-2.1-.5-.9-.6-1.5-1.6-.6-1-1.4-1.9-.7-.9-1.5-1.7-.8-.8-1.6-1.6-.9-.8-2-1.1M165.2 419q-2-1.1-1.7-2.2 .3-1.1 .6-2.2 .3-1.1 .9-2.1 .6-.9 .3-2.1-.3-1.1-.6 0-.4 1.1-1.5 1.1-1.2 0-2.2-.5-1.1-.5-2.2-.5-1.2 .1-.2 .8 .9 .6 2 1.1 1.1 .4 2 1 1 .6 2.1 1.1 1.1 .4 2.1 .9 1 .5 2.1 1 1 .5 2.1 .8 1.1 .3 2.2 .8 1 .4 2.1 .8 1.1 .3 2.3 .3 1.1-.1 0-.2-1.2-.2-2.3-.4-1.1-.1-2.3-.2-1.1 0-2.2-.5-1-.6-2-1.2-1-.5-1.9-1.2-1-.6-1.9-1.3-1-.6-1.9-1.4-.9-.7-1.4-1.7-.5-1 .3-.2 .9 .7 .8 1.9 0 1.1 .3 2.2 .3 1.1 .4 2.3 .2 1.1-.1 2.2-.3 1.1-1.5 1.4M171.5 423.5q-1.8-1.5-2.8-2-1-.5-2.1-.9-1.1-.3-2.1-.9-.9-.7-1.9-1.3-.9-.7-1.7-1.5-.8-.8-1.8-1.4-1-.6-2-1.2-1-.5-.6 .6 .4 1 .7 2.1 .4 1.1 1.3 1.8 1 .6 2 1.1 1.1 .4 2 1.1 1 .7 1.9 1.3 1 .6 1.9 1.3 1 .7 1.7 1.6 .7 .9 1.1 1.9 .5 1.1 1.6 1.2 1.2 .1 2.2 .5 1.1 .4 1.6 1.4 .4 1.1 1.3 1.8 1 .6-.2 .8-1.1 .1-2.3 .2-1.1 .2-2-.5-.9-.8-.8-1.9 .2-1.1 1-1.9 .8-.8 .9-2 0-1.1-.9-1.9-.8-.8-1.9-1.3-1-.5-2-1-1.1-.5-2.1-1.1-.9-.5-2-1-1.1-.4-2.1-.9-1-.5-1.7-1.5M178.6 423.3q-1.9-1.3-2.1-2.4-.2-1.1-.4-2.3-.3-1.1 .4-2 .8-.9 .5 .2-.4 1.1-.1 2.3 .2 1.1 1.2 1.7 1 .6 0 0-1-.5-2-1.1-1-.6-1.9-1.2-1-.7-2-1.2-1-.5-1.6-1.6-.5-1-1.3-1.8-.8-.9-1-2-.3-1.1-.9-.1-.6 1-1.3 1.9-.7 .9-.9 2-.3 1.1-.3 2.3 0 1.1 1 1.6 1.1 .5 2 1.1 1 .6 2.1 1 1.1 .4 2.1 1 .9 .6 2 1 1.1 .4 2.1 1 .9 .6 1 1.7 .1 1.2 0 2.3 0 1.2-1.1 .9-1.2-.2-2.3-.5-1.1-.4-2-1-1-.7-.8-1.8 .2-1.1 .7-2.2 .5-1 .1-2.1-.5-1-1.5-1.6-1-.6-2-1M156.4 419q1.9 1.2 2.8 1.9 .9 .7 1.9 1.3 1 .6 2 1.1 1.1 .4 2.2 .5 1.2 .2 2.1 .9 .9 .7 1.9 1.3 .9 .6 1.9 1.2 1.1 .5 2.1 1.1 1 .6 1.8 1.4 .8 .8 .5-.3-.3-1.1 .7-1.6 1-.6 2.2-.3 1.1 .2 0 0-1.2-.2-2.2-.7-1-.5-1.8-1.3-.9-.9-1.7-1.7-.8-.8-1.7-1.4-.9-.7-1.4-1.8-.4-1.1-.6-2.2-.3-1.1 .3-2.1 .7-.9 .1-1.9-.5-1.1-1.5-1.6-1-.6-1.9-1.3-.9-.7-1.9-1.3-1-.5-1.6 .5-.5 1 0 2 .4 1.1 .8 2.2 .3 1.1 1.3 1.6 1 .6 2.1 1 1 .5 2.1 .9 1 .5 1.2 1.6 .1 1.2 1 1.8 1 .6 1.9 1.3M168.3 433.4q-2.3 .1-3.3-.4-1.1-.5-2.1-.9-1.1-.5-2.1-.9-1.1-.4-2-1.1-.9-.8-1.9-1.3-1-.6-2.1-.9-1.1-.3-.1-1 .9-.6 1.9 0 1 .6 2.1 1 1 .5 2 1.1 1 .6 2.1 .6 1.2 0 2.2 .4 1.1 .5 2.2 .7 1.1 .3 2.1 1 .9 .6 1.9 1.2 1 .6 2 1.2 1 .6 .4-.5-.5-1-1.5-1.6-.9-.7-1.8-1.5-.8-.7-1.8-1.3-1-.6-1.9-1.3-1-.7-1.9-1.3-1-.6-1.7-1.5-.8-.9-.7-2 0-1.2-.6-2.2-.5-1-1.4-1.7-.9-.7-1.9-1.3-1-.6-1.7-1.5-.8-.8-1.7-1.6-.8-.8-.6 .4 .3 1.1 1.2 1.8 .9 .7 1.9 1.3 .9 .6 1.9 1.2M175.4 415.1q-2-1.1-2.6-2.1-.6-1-1.6-1.4-1.1-.5-2.2-.3-1.2 .1-2.3 .2-1.2 .1-2.3-.1-1.2-.1-2.2-.7-1-.5-1.2 .6-.2 1.1-1.1 1.8-1 .7-2.1 .7-1.2-.1-2.3-.3-1.1-.3-.8 .8 .2 1.1 1.2 1.7 1 .5 2.1 1 1 .5 2 1 1 .6 2.1 1 1.1 .4 2.2 .7 1.1 .4 2.2 .7 1.1 .3 2.2 .3 1.2-.1 2.3 .3 1 .4 2.1 .9 1 .5 2.1 1 1 .4 2 1 1 .6 2 1.1 1.1 .5 .5-.5-.5-1-1.7-.8-1.1 .2-2.2-.2-1.1-.4-2.1-.9-1-.6-2-1.2-.9-.7-1.9-1.2-1-.6-1.5-1.7-.4-1-1.1-2-.7-.9-1.2-1.9-.5-1.1-.1-2.2M155.6 415.6q-2.3 .1-2 1.2 .2 1.1 1.2 1.7 1 .6 2 1.3 .9 .6 2 1.1 1 .5 1.4 1.6 .4 1.1 1.4 1.7 1 .6 2.1 .8 1.1 .3 2.2 .7 1.1 .4 2.1 .9 1 .6 1.9 1.3 .9 .8 1.8 1.4 1 .6 1.9 1.3 .9 .7 1.9 1.2" fill="none" stroke="#1C8FE6" stroke-width="1" stroke-opacity="0.88" stroke-linecap="round" stroke-linejoin="round" /><path d="M142.2 424.2q2.3 0 3.2-.8 .9-.7 2-.9 1.1-.3 .3-1.1-.8-.8-1.5-1.7-.8-.8-1.9-1.3-1-.5-2.1-.5-1.2 0-2.3-.4-1.1-.4-2.2-.7-1.1-.2-2-1-.8-.8-1 .3-.1 1.2-1.2 1.6-1.1 .5-2.2 .6-1.1 .1-2.3 .2-1.1 .1-.1-.4 1.1-.5 2.2-.8 1.1-.3 2.2-.5 1.1-.2 2.2-.5 1.1-.4 2.1-1.1 .9-.6 2-.7 1.2 0 1.6 1 .4 1.1 0 2.2-.4 1.1-.1 2.2 .3 1.1-.5 1.9-.7 .9-1.6 1.7-.9 .7-2 .8-1.2 .1-2.3 .1-1.2 0-2.2-.5-1-.6-.2-1.4 .8-.8 0-1.7-.8-.8-1.9-1-1.1-.1-2.3 .1-1.1 .2 0 .6 1.1 .4 2.2 .3M141.1 423.5q-2.2 .5-3.3 .6-1.2 .1-2.3 .5-1 .4-2.2 .6-1.1 .2-.6-.8 .5-1 .6-2.2 .1-1.1 .9-2 .7-.9 1.9-.9 1.1 0 2.3 .1 1.1 .2 2.2 0 1.2-.1 2.2-.6 1.1-.4 1.2-1.5 .1-1.2 0-.1-.2 1.2 .5 2.1 .7 .9 .5 2-.2 1.2 .5 2 .8 .9-.3 .9-1.2 0-2.3 .1-1.2 .1-2.2-.4-1.1-.4-2.2-.2-1.1 .2-2-.6-.9-.7-.1-1.5 .8-.8 .7-2-.1-1.1-.5-2.2M166.1 433.1q.1-2.3 .2-3.4 .1-1.2 .2-2.3 .1-1.1-.8-1.8-1-.7-2.1-.4-1.1 .3-2.2 .6-1.1 .2-2.3-.1-1.1-.3-2.1-.8-1-.5-2.1-1-1-.5-2-1-1-.6-.1 .1 .9 .8 1.9 1.3 1 .6 1.9 1.2 1 .6 2 1.2 .9 .7 1.9 1.3 1 .6 2.1 .6 1.2 .1 2.3-.3 1-.5 2.1 0 1.1 .4 1.7-.5 .7-1 .5-2.1-.1-1.1-1.1-1.8-1-.6-2-1.1-1-.6-2.1-.9-1.1-.4-2.1-.9-1-.6-2-1.1-1-.6-2-1.1-1.1-.5-2.2-.9-1.1-.3-1.8 .6-.7 .9-1.6 1.6-.8 .8-.7 1.9 .2 1.1 1 2 .7 .9 1.6 1.6 .9 .8 1.6 1.7 .6 .9 1.3 1.8" fill="none" stroke="#0C6FBE" stroke-width="1.15" stroke-opacity="0.88" stroke-linecap="round" stroke-linejoin="round" />
<path d="M195 470.5q.2-2.3 .8-3.3 .7-.9 1.6-1.6 .9-.8 1.9-1.2 1.1-.4 2.1-.9 1.1-.6 2.1-.9 1.1-.4 2-1.2 .8-.8 .2-1.8-.7-.9-.9-2-.3-1.2 .5-2 .8-.8-.3-.9-1.2-.2-2.1-.9-.9-.7-2-.8-1.2-.1-2.3 .2-1.1 .3-1.9 1.1-.9 .8-1.5 1.8-.7 .9-1.8 1.3-1 .5-2 1-1 .6-2.1 1-1.1 .4-2.1 .8-1.1 .5-2.1-.1-1.1-.5-.1 .1 1 .6 2.1 .3 1.1-.4 2-1.2 .8-.7 1.9-1.2 1-.5 2.1-1 1-.4 2.1-.8 1.1-.4 .8-1.5-.3-1.1 .5-2 .7-.9 1.8-1.4 1-.5 2.1-.6 1.2-.2 2.3-.3 1.2-.2 .2 .4-1 .7-2.1 .6M206.4 452.3q-2.3 .2-3.5 .3-1.1 0-2.1 .6-1 .6-2 1.1-1 .6-2.1 1-1.1 .4-2.2 .8-1 .4-2.1 .8-1.1 .4-2.2 .7-1.1 .3-2.2 .6-1.1 .4-2.2 .8-1 .5 .1 .2 1.1-.4 2.1-.9 1.1-.4 2.2-.8 1-.5 2-1.1 1-.5 2-1.1 1.1-.5 2.1-.9 1.1-.5 2.2-.7 1.1-.2 2-.9 .9-.8 1.3-1.9 .4-1.1 .4 .1 0 1.1-.8 2-.8 .8-1.9 1.2-1.1 .4-2.1 .8-1.1 .4-2 1.2-.8 .8-1.9 1.2-1.1 .4-2.2 .7-1.1 .3-2.2 .7-1 .4-2.1 .8-1.1 .4-.1-.1 1.1-.5 2.2-.9 1.1-.3 2.2-.7 1.1-.3 2.1-.7 1.1-.5 2.2-.9 1.1-.4 1.6-1.4M200.6 458.4q2.3-.4 3.3-.7 1.1-.4 1.6 .6 .5 1.1 1.5 1.8 .9 .6 1.3 1.7 .4 1.1 1.3 1.8 1 .6 1 1.8 0 1.1-1 1.7-1 .6-1.8 1.4-.8 .8-2 1.1-1.1 .3-1.1-.9 0-1.1 0-2.3 0-1.1-.9-1.8-1-.6-2-1.2-1-.5-2.1-.4-1.2 .1-2.1 .8-1 .6-1.8 1.5-.8 .8-1.8 1.3-1.1 .5-1.7 1.4-.7 .9-1.8 1.3-1.1 .4-2.2 .7-1.1 .3-.3-.5 .8-.8 1.9-1.1 1.2-.3 2.1-.9 1-.6 2.1-1 1-.4 1.6-1.4 .5-1.1 .4-2.2-.1-1.2-.1-2.3 0-1.2 .9-1.9 .9-.8 1.9-1.2 1.1-.5 2.2-.8 1.1-.4 2.2-.3 1.2 .2 2.1-.5 .9-.7 2-1M191.4 465.3q2.1-.7 3.3-.8 1.1 0 2.2-.4 1.1-.3 2.2-.8 1-.5 2.1-.8 1.1-.3 2.3-.5 1.1-.3 2.2-.5 1.1-.3 2.2-.6 1.1-.3 2.3-.1 1.1 .2 2.1 .8 .9 .6-.1 .1-1-.6-2.1-.6-1.2 0-2.3-.1-1.2-.1-2.2 .4-1.1 .5-2.1 1-1 .5-2.1 .3-1.2-.3-2.3-.2-1.2 0-2.3 .3-1.1 .2-2.2 .4-1.2 .2-2.2 .6-1.1 .4-2.3 .2-1.1-.1-2.2 .3-1.1 .4-2.2 .7-1.1 .3 .1 .4 1.1 .1 2.2 .4 1.2 .2 2 1 .9 .8 2 .9 1.1 .2 2.2-.2 1.1-.3 2.1-.8 1.1-.5 2.2-.9 1-.4 2.2-.6 1.1-.2 2.1-.7 1.1-.5 2.1-1 1-.5 1.8-1.4M199.7 465q-2.2 .5-3.3 .9-1.1 .4-2 1.1-.9 .7-1.9 1.2-1.1 .5-2.2 .7-1.1 .1-2.2 .5-1.1 .3-.1-.3 1-.5 2.1-.7 1.1-.2 2.1-.8 1-.6 2.1-1 1.1-.4 2.2-.5 1.2 0 2.2-.5 1-.5 2-1.1 1-.6 1.8-1.4 .8-.8 1.9-1.3 1-.5 2-1.1 1-.5 1.1-1.7 .1-1.1-1.1-1.4-1.1-.2-2.2 0-1.1 .2-2.2 .6-1.1 .4-2.1 .9-1.1 .4-2.2 .8-1 .5-2.2 .7-1.1 .2-2.2 .6-1 .5-2.1 .7-1.2 .2-2.2 .8-1 .5-.8-.6 .3-1.2 .8-2.2 .6-1 .8-2.1 .1-1.1-.1-2.3-.3-1.1-1.4-.8-1.1 .3-1 1.4 .2 1.1-.7 1.8-1 .7-1.4 1.7M195.7 450.8q2.2-.7 3.3-.8 1.2 0 1.7 1 .6 1 1 2 .5 1.1 1.6 1.5 1.1 .4 2.1 .8 1.1 .4 2.3 .3 1.1-.2 2.2-.3 1.2-.1 0-.1-1.1 0-2-.7-1-.7-1.3-1.8-.4-1.1-1.5-.9-1.2 .2-2.2 .6-1.1 .4-2.2 .8-1.1 .4-2.2 .8-1 .4-2.2 .3-1.1-.1-2.3-.4-1.1-.2-2.1 .3-1 .5-2.1 .9-1 .5-2.1 .8-1.1 .4 0 .4 1.2 0 2.3 .1 1.1 .2 2.2-.3 1.1-.5 2.2-.7 1.1-.2 2.2 0 1.2 .3 2.1 1 .9 .6 2 1.2 1 .5 2.1 .5 1.2 0 1.9 .9 .7 .9 1.8 1.4 1 .4 2.1 0 1-.4 2.1-.8 1.1-.4 0-.4-1.2 0-2.3 .3M206.4 466.8q-2.3-.2-3.4 .1-1.1 .2-2.2 .2-1.2-.1-2.3 .1-1.2 .2-2.1 .9-.9 .7-2 1.1-1 .4-2.1 .8-1.1 .5-2.2 .9-1 .4-2.1 .8-1.1 .4-.9-.8 .1-1.1-.4-2.1-.5-1.1 .6-.8 1.1 .3 2.2 .8 1.1 .4 1.8 1.2M184 484.2q1.8-1.4 2.7-2.1 1-.6 2.1-.5 1.2 .1 2.3 .3 1.1 .1 .4 1-.6 1-1.6 1.6-.9 .7-2.1 .7-1.1-.1-2.3-.2-1.1-.2-2.2-.4-1.2-.3 0-.1 1.1 .1 2.3-.1 1.1-.2 2.2-.2 1.2 0 2.3 .2 1.1 .3 2.3 .5 1.1 .2 .5 1.2-.6 1-.4 2.1 .1 1.1-.2 0-.3-1.1-.8-2.1-.5-1-.8-2.1-.3-1.1-.8-2.2-.5-1-.2-2.1 .3-1.1 1.3-1.8 .9-.7 1.2 .4 .3 1.2-.4 2.1-.8 .8 0 1.7 .7 .9-.2 1.6-.8 .8-1.8 1.4-1 .6-1.2 1.8-.3 1.1-.5 2.2-.3 1.1-1.4 1.5-1 .4-2 1-1 .6-2.1 .9-1.1 .3-.4-.6 .7-.9 1.5-1.8M183.7 496.7q-.2-2.3-1.3-2.7-1.1-.4-.8-1.5 .3-1.1-.4-2-.8-.9 .3-.6 1.2 .2 2.3 .4 1.1 .2 2.1 .8 1 .6 2 1 1.1 .5 2.2 .7 1.1 .2 .6-.8-.6-1 .6-.9 1.1 0 0-.4-1-.5-.6-1.6 .4-1 .3-2.2-.2-1.1-1.3-1.5-1.1-.3-2.2-.5-1.2-.2-2.3-.5-1.1-.3-1.8-1.3-.6-.9-.7 .3 0 1.1 0 2.3-.1 1.1 .9 1.7 1 .6 2.1 .8 1.2 .1 2.3 .2 1.1 .1 2.3 .2 1.1 .2 0 .4-1.1 .2-2.3 .1-1.1-.2-2.2-.5-1.1-.4-2.2-.7-1.1-.2-.5-1.1 .7-.9 1.8-1 1.2-.1 2.3-.2 1.2 0 2.3 0 1.2 0 2.3 .2 1.2 .2 .2-.4M187.4 484.9q2.3 .5 3.4 .5 1.1 .1 .2 .7-.9 .7-2.1 .6-1.1-.2-2.3-.4-1.1-.1-2.2-.6-1-.5-2.2-.3-1.1 .1 0 .4 1.1 .2 2.3 .2 1.1-.1 2.3 .1 1.1 .2 2.2 .3 1.2 .1 2.3 .3 1.2 .2 0 .3-1.1 0-1.2 1.1-.1 1.2-.8 2.1-.8 .8-1.9 .8-1.2 0-2.3-.1-1.2-.1-2.3-.1-1.2-.1 0-.3 1.1-.1 2.3-.2 1.1-.1 2.3 0 1.1 .1 2.2 .3 1.2 .2 0-.1-1.1-.3-.6 .7 .6 1.1 1 2.1 .5 1.1 .6-.1 .1-1.1 .9-2 .7-.9 .5-2-.2-1.2-1.2-.5-.9 .7-2 .9-1.1 .3-2.3 0-1.1-.2-2.2-.4-1.1-.3-2.3-.4-1.1-.2-.2 .5M182.8 492.7q-1.9-1.3-1.7-2.4 .2-1.2 1.3-1.3 1.2-.1 2.3-.3 1.2-.1 .8-1.2-.3-1.1-.5-2.3-.2-1.1 0-2.2 .3-1.1 .5-2.3 .3-1.1 .5-2.2" fill="none" stroke="#1C8FE6" stroke-width="1" stroke-opacity="0.88" stroke-linecap="round" stroke-linejoin="round" /><path d="M208.3 459.3q-2.3-.3-3-1.3-.6-.9-1.7-.7-1.2 .2-2.3 .2-1.2 .1-2.3 .4-1 .4-2.1 .9-1.1 .4-2.1 .9-1 .5-2.2 .3-1.1-.1-2-.9-.8-.8-1.8-1.4-.9-.6-2-.2-1.1 .4 0 .4 1.2 .1 2.2-.4 1.1-.4 2.2-.8 1.1-.4 2.1-.8 1.1-.4 2.2-.8 1-.5 2-1.1 1-.5 2.1-1 1.1-.4 2.1-.9 1-.6 2-1.1 1.1-.5 0-.1-1.1 .5-2.2 .7-1.1 .3-2 1-.9 .7-2.1 .8-1.1 .1-2.2 .5-1.1 .3-2.1 .9-1.1 .5-2.1 .9-1.1 .5-2.2 .9-1 .4-2.2 .4-1.1 0 0-.4 1.1-.3 2-.9 1-.7 2-1.1 1.1-.5 2.1-1 1.1-.5 2.1-1.1M194.5 459.5q-2 1-2 2.2 0 1.1-1.1 1.6-1 .5-2 1.1-.9 .6-2 1-1.1 .4-2.2 .6-1.2 .2-.2-.4 1-.6 2.1-1 1-.4 2.1-.7 1.2-.4 2.3-.4 1.1-.1 2.3 0 1.1 .2 2.2 .7 1 .5 2.1 .3 1.1-.3 2.2-.6 1.2-.2 2.2-.7 1.1-.4 2.1-1 1-.5 2.1-.3 1.1 .3 2.3 .3 1.1 0 2.2-.2 1.2-.3 .1 .2-1 .5-2.1 .9-1 .4-2.2 .3-1.1-.2-1.8-1.2-.6-.9 .4-1.5 1-.6 1.9-1.3 1-.6 1.8-1.5 .7-.8-.2-.2-1 .7-2.1 1.1-1 .4-2.1 .7-1.1 .3-2.2 .7-1.1 .4-2.2 .8-1 .5-2.1 .9-1.1 .4-2.2 .2-1.1-.3-2.2 0M208.2 454.8q-1.8 1.4-1.8 2.6 .1 1.1 .7 2.1 .6 1 1.8 1 1.1 0 2.2-.2 1.1-.3 .6 .7-.6 1-.8 2.1-.2 1.2-.5 2.3-.3 1.1-.4 2.2-.2 1.2-1.2 1.8-1 .6-2 1-1.1 .4-2.2 .6-1.2 .3-2.2 .6-1.1 .4-1.4 1.5-.3 1.1 .7 1.5 1.1 .4 .1-.2-.9-.6-2-.2-1.1 .5-2.2 .9-1 .4-2.1 .8-1.1 .3-1.5-.8-.3-1 .6-1.8 .9-.7 1.9-1.3 1-.6 2-1.1 1-.6 1.9-1.2 1-.7 2.1-1 1.1-.3 2.2-.4 1.2-.1 2-.9 .8-.8 1.9-1.1 1.2-.4 2.2-.9 1-.5 1.6-1.5 .7-.9 .3-2-.3-1.1-1.3-1.8-.9-.6-.2-1.5 .8-.8-.3-.6M189 495.9q-.2-2.3-1.2-2.8-1.1-.5-2-1.2-.9-.7-1.8-1.3-1-.6-1.6-1.6-.6-1-1.1-2-.4-1.1 .7-1.6 1-.4 1.9-1.2 .8-.7 2-.5 1.1 .1 1.6 1.1 .6 1.1 1.3 2 .7 .9-.2 1.6-.9 .8-2.1 .6-1.1-.2-2.1-.8-.9-.6-2.1-.8-1.1-.2 0-.4 1.2-.1 1.5-1.2 .4-1.1 1-2.1 .7-.9 1.4-1.8 .7-.9 1.8-1.3 1.1-.4 1.7-1.4 .6-.9 1.5-1.7 .9-.7 1.2 .4 .3 1.1-.6 1.8-.9 .7-2 1.1-1.1 .4-2.2 .2-1.1-.1-2.2-.6-1-.5-1.3 .6-.2 1.1-.2 2.3-.1 1.1-1.2 1.4-1.1 .3 0 .6 1.1 .2 2.3 .2 1.1 0 2.2 .3 1.2 .2 2.3 .4" fill="none" stroke="#0C6FBE" stroke-width="1.15" stroke-opacity="0.88" stroke-linecap="round" stroke-linejoin="round" />
<g transform="translate(209.5 374.5) rotate(10) scale(0.95)"><rect x="-3.7" y="-3.7" width="7.4" height="7.4" rx="1.6" fill="#F2707A" stroke="#EA4550" stroke-width="1.7"/><circle cx="0" cy="0" r="1.7" fill="#FBD3D3"/><path d="M-3.4 -3.4L-6.8 -6.4M3.4 -3.4L6.6 -6.8M-3.4 3.4L-6.6 6.6M3.4 3.4L6.8 6.4M-3.6 -1L-7.2 -1.6M3.6 1L7.4 1.8M-1 3.6L-1.4 7.2M1 -3.6L1.6 -7.2M-6.8 -6.4L-8.5 -5.5M6.6 -6.8L8.3 -5.6" stroke="#EE5560" stroke-width="0.9" fill="none" stroke-linecap="round"/></g>
<g transform="translate(193.3 426.3) rotate(-15) scale(0.95)"><rect x="-3.7" y="-3.7" width="7.4" height="7.4" rx="1.6" fill="#F2707A" stroke="#EA4550" stroke-width="1.7"/><circle cx="0" cy="0" r="1.7" fill="#FBD3D3"/><path d="M-3.4 -3.4L-6.8 -6.4M3.4 -3.4L6.6 -6.8M-3.4 3.4L-6.6 6.6M3.4 3.4L6.8 6.4M-3.6 -1L-7.2 -1.6M3.6 1L7.4 1.8M-1 3.6L-1.4 7.2M1 -3.6L1.6 -7.2M-6.8 -6.4L-8.5 -5.5M6.6 -6.8L8.3 -5.6" stroke="#EE5560" stroke-width="0.9" fill="none" stroke-linecap="round"/></g>
<g transform="translate(146.3 449.5) rotate(5) scale(0.95)"><rect x="-3.7" y="-3.7" width="7.4" height="7.4" rx="1.6" fill="#F2707A" stroke="#EA4550" stroke-width="1.7"/><circle cx="0" cy="0" r="1.7" fill="#FBD3D3"/><path d="M-3.4 -3.4L-6.8 -6.4M3.4 -3.4L6.6 -6.8M-3.4 3.4L-6.6 6.6M3.4 3.4L6.8 6.4M-3.6 -1L-7.2 -1.6M3.6 1L7.4 1.8M-1 3.6L-1.4 7.2M1 -3.6L1.6 -7.2M-6.8 -6.4L-8.5 -5.5M6.6 -6.8L8.3 -5.6" stroke="#EE5560" stroke-width="0.9" fill="none" stroke-linecap="round"/></g>
<g transform="translate(233.8 456.3) rotate(-10) scale(0.95)"><rect x="-3.7" y="-3.7" width="7.4" height="7.4" rx="1.6" fill="#F2707A" stroke="#EA4550" stroke-width="1.7"/><circle cx="0" cy="0" r="1.7" fill="#FBD3D3"/><path d="M-3.4 -3.4L-6.8 -6.4M3.4 -3.4L6.6 -6.8M-3.4 3.4L-6.6 6.6M3.4 3.4L6.8 6.4M-3.6 -1L-7.2 -1.6M3.6 1L7.4 1.8M-1 3.6L-1.4 7.2M1 -3.6L1.6 -7.2M-6.8 -6.4L-8.5 -5.5M6.6 -6.8L8.3 -5.6" stroke="#EE5560" stroke-width="0.9" fill="none" stroke-linecap="round"/></g>
<path d="M134.5 365.9q1.1 1 1.6 1.3 .5 .2 .8 .1 .3-.2 .5-.8 .2-.5 .2-1.3 .1-.8 .3-1.5 .1-.7 .3-1.1 .2-.4 .6-.4 .4 0 .9 .4 .5 .3 1.1 .9 .6 .5 1.1 1 .5 .4 .9 .5 .5 .1 .7-.3 .3-.3 .4-1 .1-.6 .2-1.4 .1-.8 .3-1.4 .1-.7 .4-.9 .3-.3 .7-.1 .5 .2 1 .7 .6 .4 1.1 1 .6 .5 1.1 .8 .5 .3 .8 .3 .4-.1 .6-.6 .2-.5 .3-1.3" fill="none" stroke="#8F7F74" stroke-width="1.25" stroke-linecap="round"/>
<path d="M196.5 349.8q1.4 .5 2 .5 .5 0 .7-.3 .2-.3 .2-.8-.1-.6-.4-1.4-.2-.7-.4-1.4-.2-.7-.2-1.2 .1-.4 .4-.6 .3-.1 1 0 .6 .1 1.4 .4 .7 .2 1.4 .4 .6 .1 1 0 .5 0 .5-.5 .1-.4 0-1-.2-.7-.4-1.4-.3-.8-.4-1.4-.1-.7 0-1 .2-.3 .6-.4 .5 0 1.2 .2 .7 .2 1.4 .4 .8 .3 1.4 .4 .5 0 .8-.2 .3-.2 .3-.7 0-.6-.3-1.3" fill="none" stroke="#8F7F74" stroke-width="1.25" stroke-linecap="round"/>
<path d="M101.3 413.2q1 1.1 1.5 1.4 .4 .3 .7 .1 .4-.1 .6-.6 .2-.6 .4-1.3 .1-.8 .3-1.5 .2-.7 .5-1.1 .2-.4 .6-.3 .4 0 .8 .4 .5 .4 1.1 1 .5 .6 1 1.1 .5 .5 .9 .6 .4 .1 .7-.2 .2-.3 .4-1 .2-.6 .4-1.4 .1-.8 .3-1.4 .2-.6 .6-.8 .3-.2 .7 0 .4 .2 .9 .7 .5 .5 1 1.1 .6 .6 1 1 .5 .3 .8 .3 .4-.1 .6-.6 .3-.4 .4-1.2" fill="none" stroke="#8F7F74" stroke-width="1.25" stroke-linecap="round"/>
<path d="M231.5 398.7q1.1 1 1.6 1.3 .5 .2 .8 .1 .3-.2 .5-.8 .2-.5 .2-1.3 .1-.8 .3-1.5 .1-.7 .3-1.1 .2-.4 .6-.4 .4 0 .9 .4 .5 .3 1.1 .9 .6 .5 1.1 1 .5 .4 .9 .5 .5 .1 .7-.3 .3-.3 .4-1 .1-.6 .2-1.4 .1-.8 .3-1.4 .1-.7 .4-.9 .3-.3 .7-.1 .5 .2 1 .7 .6 .4 1.1 1 .6 .5 1.1 .8 .5 .3 .8 .3 .4-.1 .6-.6 .2-.5 .3-1.3" fill="none" stroke="#8F7F74" stroke-width="1.25" stroke-linecap="round"/>
<path d="M258.5 417.4q-1.2 1-1.5 1.4-.3 .4-.2 .7 .1 .4 .6 .6 .5 .3 1.3 .5 .7 .3 1.4 .5 .7 .2 1.1 .5 .3 .3 .3 .7-.1 .4-.6 .8-.4 .5-1.1 .9-.6 .5-1.1 1-.5 .4-.7 .8-.2 .4 .1 .7 .3 .3 .9 .5 .7 .3 1.4 .5 .8 .2 1.4 .5 .6 .3 .8 .6 .2 .3-.1 .7-.2 .4-.8 .9-.6 .4-1.2 .9-.6 .5-1 .9-.4 .4-.4 .8 0 .3 .5 .6 .4 .3 1.2 .5" fill="none" stroke="#8F7F74" stroke-width="1.25" stroke-linecap="round"/>
<path d="M110.3 456.1q.6 1.4 .9 1.8 .4 .4 .7 .4 .4 0 .8-.5 .4-.4 .8-1.1 .4-.6 .8-1.2 .4-.6 .8-.9 .4-.3 .7-.1 .3 .2 .6 .7 .4 .6 .6 1.3 .3 .7 .6 1.4 .3 .6 .7 .8 .3 .3 .7 .1 .4-.2 .8-.8 .4-.5 .8-1.2 .4-.7 .8-1.2 .4-.5 .8-.6 .3-.1 .6 .3 .4 .3 .7 1 .3 .6 .6 1.4 .2 .7 .6 1.2 .3 .5 .6 .6 .4 0 .8-.3 .3-.4 .8-1" fill="none" stroke="#8F7F74" stroke-width="1.25" stroke-linecap="round"/>
<path d="M217.8 507.3q.6 1.4 .9 1.8 .4 .4 .7 .4 .4 0 .8-.5 .4-.4 .8-1.1 .4-.6 .8-1.2 .4-.6 .8-.9 .4-.3 .7-.1 .3 .2 .6 .7 .4 .6 .6 1.3 .3 .7 .6 1.4 .3 .6 .7 .8 .3 .3 .7 .1 .4-.2 .8-.8 .4-.5 .8-1.2 .4-.7 .8-1.2 .4-.5 .8-.6 .3-.1 .6 .3 .4 .3 .7 1 .3 .6 .6 1.4 .2 .7 .6 1.2 .3 .5 .6 .6 .4 0 .8-.3 .3-.4 .8-1" fill="none" stroke="#8F7F74" stroke-width="1.25" stroke-linecap="round"/>
<path d="M160.8 521.2q1.5 0 2-.1 .5-.1 .6-.4 .2-.4-.1-.9-.2-.5-.6-1.2-.4-.6-.8-1.3-.4-.6-.5-1.1-.1-.4 .2-.7 .3-.2 1-.2 .6-.1 1.4 0 .8 0 1.5 0 .7 0 1-.2 .4-.2 .4-.6 0-.4-.4-1-.3-.6-.7-1.3-.5-.7-.7-1.2-.3-.6-.3-1 .1-.4 .5-.5 .5-.2 1.2-.1 .7 0 1.5 0 .8 0 1.4 0 .5-.1 .8-.4 .2-.3 0-.8-.1-.5-.5-1.1" fill="none" stroke="#8F7F74" stroke-width="1.25" stroke-linecap="round"/>
<text x="5.8" y="27.9" font-size="38.3" font-weight="bold">a</text>
<path d="M1510.5 427.5 L1562.75 422.67 L1615 417.11 L1667.25 410.1 L1719.5 402.12 L1771.75 397.53 L1824 392.46 L1876.25 387.62 L1928.5 384.97" stroke="#3F3F3F" stroke-width="2.9" fill="none" stroke-linejoin="round"/>
<rect x="1506.24" y="423.24" width="8.51" height="8.51" fill="#3F3F3F"/>
<rect x="1558.49" y="418.41" width="8.51" height="8.51" fill="#3F3F3F"/>
<rect x="1610.74" y="412.85" width="8.51" height="8.51" fill="#3F3F3F"/>
<rect x="1662.99" y="405.84" width="8.51" height="8.51" fill="#3F3F3F"/>
<rect x="1715.24" y="397.87" width="8.51" height="8.51" fill="#3F3F3F"/>
<rect x="1767.49" y="393.28" width="8.51" height="8.51" fill="#3F3F3F"/>
<rect x="1819.74" y="388.2" width="8.51" height="8.51" fill="#3F3F3F"/>
<rect x="1871.99" y="383.37" width="8.51" height="8.51" fill="#3F3F3F"/>
<rect x="1924.24" y="380.71" width="8.51" height="8.51" fill="#3F3F3F"/>
<path d="M1510.5 427.5 L1562.75 366.36 L1615 313.92 L1667.25 282.5 L1719.5 242.62 L1771.75 208.06 L1824 172.54 L1876.25 136.29 L1928.5 113.81" stroke="#1E96FA" stroke-width="2.9" fill="none" stroke-linejoin="round"/>
<path d="M1510.5 421.62 L1516.1 431.42 L1504.9 431.42 Z" fill="#1E96FA"/>
<path d="M1562.75 360.48 L1568.35 370.28 L1557.15 370.28 Z" fill="#1E96FA"/>
<path d="M1615 308.04 L1620.6 317.84 L1609.4 317.84 Z" fill="#1E96FA"/>
<path d="M1667.25 276.62 L1672.85 286.42 L1661.65 286.42 Z" fill="#1E96FA"/>
<path d="M1719.5 236.74 L1725.1 246.54 L1713.9 246.54 Z" fill="#1E96FA"/>
<path d="M1771.75 202.18 L1777.35 211.98 L1766.15 211.98 Z" fill="#1E96FA"/>
<path d="M1824 166.66 L1829.6 176.46 L1818.4 176.46 Z" fill="#1E96FA"/>
<path d="M1876.25 130.41 L1881.85 140.21 L1870.65 140.21 Z" fill="#1E96FA"/>
<path d="M1928.5 107.93 L1934.1 117.73 L1922.9 117.73 Z" fill="#1E96FA"/>
<path d="M1510.5 427.5 L1562.75 425.08 L1615 420.25 L1667.25 412.52 L1719.5 403.33 L1771.75 394.39 L1824 386.9 L1876.25 379.89 L1928.5 375.54" stroke="#55C23A" stroke-width="2.9" fill="none" stroke-linejoin="round"/>
<path d="M1510.5 433.38 L1516.1 423.58 L1504.9 423.58 Z" fill="#55C23A"/>
<path d="M1562.75 430.96 L1568.35 421.16 L1557.15 421.16 Z" fill="#55C23A"/>
<path d="M1615 426.13 L1620.6 416.33 L1609.4 416.33 Z" fill="#55C23A"/>
<path d="M1667.25 418.4 L1672.85 408.6 L1661.65 408.6 Z" fill="#55C23A"/>
<path d="M1719.5 409.21 L1725.1 399.41 L1713.9 399.41 Z" fill="#55C23A"/>
<path d="M1771.75 400.27 L1777.35 390.47 L1766.15 390.47 Z" fill="#55C23A"/>
<path d="M1824 392.78 L1829.6 382.98 L1818.4 382.98 Z" fill="#55C23A"/>
<path d="M1876.25 385.77 L1881.85 375.97 L1870.65 375.97 Z" fill="#55C23A"/>
<path d="M1928.5 381.42 L1934.1 371.62 L1922.9 371.62 Z" fill="#55C23A"/>
<path d="M1510.5 427.5 L1562.75 366.36 L1615 319.96 L1667.25 282.5 L1719.5 237.55 L1771.75 200.09 L1824 170.12 L1876.25 136.29 L1928.5 102.7" stroke="#E83C48" stroke-width="2.9" fill="none" stroke-linejoin="round"/>
<path d="M1510.5 422.01 L1515.99 427.5 L1510.5 432.99 L1505.01 427.5 Z" fill="#E83C48"/>
<path d="M1562.75 360.87 L1568.24 366.36 L1562.75 371.85 L1557.26 366.36 Z" fill="#E83C48"/>
<path d="M1615 314.47 L1620.49 319.96 L1615 325.44 L1609.51 319.96 Z" fill="#E83C48"/>
<path d="M1667.25 277.01 L1672.74 282.5 L1667.25 287.99 L1661.76 282.5 Z" fill="#E83C48"/>
<path d="M1719.5 232.06 L1724.99 237.55 L1719.5 243.04 L1714.01 237.55 Z" fill="#E83C48"/>
<path d="M1771.75 194.6 L1777.24 200.09 L1771.75 205.58 L1766.26 200.09 Z" fill="#E83C48"/>
<path d="M1824 164.63 L1829.49 170.12 L1824 175.61 L1818.51 170.12 Z" fill="#E83C48"/>
<path d="M1876.25 130.8 L1881.74 136.29 L1876.25 141.78 L1870.76 136.29 Z" fill="#E83C48"/>
<path d="M1928.5 97.21 L1933.99 102.7 L1928.5 108.18 L1923.01 102.7 Z" fill="#E83C48"/>
<path d="M1562.75 419.77 V425.57 M1557.75 419.77 H1567.75 M1557.75 425.57 H1567.75" stroke="#3F3F3F" stroke-width="2.6" fill="none"/>
<path d="M1615 413.48 V420.73 M1610 413.48 H1620 M1610 420.73 H1620" stroke="#3F3F3F" stroke-width="2.6" fill="none"/>
<path d="M1667.25 405.27 V414.93 M1662.25 405.27 H1672.25 M1662.25 414.93 H1672.25" stroke="#3F3F3F" stroke-width="2.6" fill="none"/>
<path d="M1719.5 392.46 V411.79 M1714.5 392.46 H1724.5 M1714.5 411.79 H1724.5" stroke="#3F3F3F" stroke-width="2.6" fill="none"/>
<path d="M1771.75 387.87 V407.2 M1766.75 387.87 H1776.75 M1766.75 407.2 H1776.75" stroke="#3F3F3F" stroke-width="2.6" fill="none"/>
<path d="M1824 382.79 V402.12 M1819 382.79 H1829 M1819 402.12 H1829" stroke="#3F3F3F" stroke-width="2.6" fill="none"/>
<path d="M1876.25 376.75 V398.5 M1871.25 376.75 H1881.25 M1871.25 398.5 H1881.25" stroke="#3F3F3F" stroke-width="2.6" fill="none"/>
<path d="M1928.5 374.09 V395.84 M1923.5 374.09 H1933.5 M1923.5 395.84 H1933.5" stroke="#3F3F3F" stroke-width="2.6" fill="none"/>
<path d="M1562.75 362.73 V369.98 M1557.75 362.73 H1567.75 M1557.75 369.98 H1567.75" stroke="#1E96FA" stroke-width="2.6" fill="none"/>
<path d="M1615 306.67 V321.17 M1610 306.67 H1620 M1610 321.17 H1620" stroke="#1E96FA" stroke-width="2.6" fill="none"/>
<path d="M1667.25 277.66 V287.33 M1662.25 277.66 H1672.25 M1662.25 287.33 H1672.25" stroke="#1E96FA" stroke-width="2.6" fill="none"/>
<path d="M1719.5 237.79 V247.46 M1714.5 237.79 H1724.5 M1714.5 247.46 H1724.5" stroke="#1E96FA" stroke-width="2.6" fill="none"/>
<path d="M1771.75 200.81 V215.31 M1766.75 200.81 H1776.75 M1766.75 215.31 H1776.75" stroke="#1E96FA" stroke-width="2.6" fill="none"/>
<path d="M1824 165.29 V179.79 M1819 165.29 H1829 M1819 179.79 H1829" stroke="#1E96FA" stroke-width="2.6" fill="none"/>
<path d="M1876.25 124.2 V148.37 M1871.25 124.2 H1881.25 M1871.25 148.37 H1881.25" stroke="#1E96FA" stroke-width="2.6" fill="none"/>
<path d="M1928.5 106.08 V121.55 M1923.5 106.08 H1933.5 M1923.5 121.55 H1933.5" stroke="#1E96FA" stroke-width="2.6" fill="none"/>
<path d="M1562.75 420.25 V429.92 M1557.75 420.25 H1567.75 M1557.75 429.92 H1567.75" stroke="#55C23A" stroke-width="2.6" fill="none"/>
<path d="M1615 415.42 V425.08 M1610 415.42 H1620 M1610 425.08 H1620" stroke="#55C23A" stroke-width="2.6" fill="none"/>
<path d="M1667.25 407.68 V417.35 M1662.25 407.68 H1672.25 M1662.25 417.35 H1672.25" stroke="#55C23A" stroke-width="2.6" fill="none"/>
<path d="M1719.5 393.67 V413 M1714.5 393.67 H1724.5 M1714.5 413 H1724.5" stroke="#55C23A" stroke-width="2.6" fill="none"/>
<path d="M1771.75 384.72 V404.06 M1766.75 384.72 H1776.75 M1766.75 404.06 H1776.75" stroke="#55C23A" stroke-width="2.6" fill="none"/>
<path d="M1824 374.82 V398.98 M1819 374.82 H1829 M1819 398.98 H1829" stroke="#55C23A" stroke-width="2.6" fill="none"/>
<path d="M1876.25 365.39 V394.39 M1871.25 365.39 H1881.25 M1871.25 394.39 H1881.25" stroke="#55C23A" stroke-width="2.6" fill="none"/>
<path d="M1928.5 361.77 V389.32 M1923.5 361.77 H1933.5 M1923.5 389.32 H1933.5" stroke="#55C23A" stroke-width="2.6" fill="none"/>
<path d="M1562.75 362.73 V369.98 M1557.75 362.73 H1567.75 M1557.75 369.98 H1567.75" stroke="#E83C48" stroke-width="2.6" fill="none"/>
<path d="M1615 312.71 V327.21 M1610 312.71 H1620 M1610 327.21 H1620" stroke="#E83C48" stroke-width="2.6" fill="none"/>
<path d="M1667.25 275.25 V289.75 M1662.25 275.25 H1672.25 M1662.25 289.75 H1672.25" stroke="#E83C48" stroke-width="2.6" fill="none"/>
<path d="M1719.5 231.51 V243.59 M1714.5 231.51 H1724.5 M1714.5 243.59 H1724.5" stroke="#E83C48" stroke-width="2.6" fill="none"/>
<path d="M1771.75 191.63 V208.55 M1766.75 191.63 H1776.75 M1766.75 208.55 H1776.75" stroke="#E83C48" stroke-width="2.6" fill="none"/>
<path d="M1824 160.45 V179.79 M1819 160.45 H1829 M1819 179.79 H1829" stroke="#E83C48" stroke-width="2.6" fill="none"/>
<path d="M1876.25 124.2 V148.37 M1871.25 124.2 H1881.25 M1871.25 148.37 H1881.25" stroke="#E83C48" stroke-width="2.6" fill="none"/>
<path d="M1928.5 87.47 V117.92 M1923.5 87.47 H1933.5 M1923.5 117.92 H1933.5" stroke="#E83C48" stroke-width="2.6" fill="none"/>
<rect x="1495" y="65" width="480.25" height="386.25" fill="none" stroke="#262626" stroke-width="1.8"/>
<line x1="1510.5" y1="451.25" x2="1510.5" y2="459.75" stroke="#262626" stroke-width="1.7" />
<text  font-size="31.2" text-anchor="middle" transform="translate(1510.5 488.6) scale(1 1.04)">0</text>
<line x1="1562.75" y1="451.25" x2="1562.75" y2="459.75" stroke="#262626" stroke-width="1.7" />
<text  font-size="31.2" text-anchor="middle" transform="translate(1562.75 488.6) scale(1 1.04)">1</text>
<line x1="1615" y1="451.25" x2="1615" y2="459.75" stroke="#262626" stroke-width="1.7" />
<text  font-size="31.2" text-anchor="middle" transform="translate(1615 488.6) scale(1 1.04)">2</text>
<line x1="1667.25" y1="451.25" x2="1667.25" y2="459.75" stroke="#262626" stroke-width="1.7" />
<text  font-size="31.2" text-anchor="middle" transform="translate(1667.25 488.6) scale(1 1.04)">3</text>
<line x1="1719.5" y1="451.25" x2="1719.5" y2="459.75" stroke="#262626" stroke-width="1.7" />
<text  font-size="31.2" text-anchor="middle" transform="translate(1719.5 488.6) scale(1 1.04)">4</text>
<line x1="1771.75" y1="451.25" x2="1771.75" y2="459.75" stroke="#262626" stroke-width="1.7" />
<text  font-size="31.2" text-anchor="middle" transform="translate(1771.75 488.6) scale(1 1.04)">5</text>
<line x1="1824" y1="451.25" x2="1824" y2="459.75" stroke="#262626" stroke-width="1.7" />
<text  font-size="31.2" text-anchor="middle" transform="translate(1824 488.6) scale(1 1.04)">6</text>
<line x1="1876.25" y1="451.25" x2="1876.25" y2="459.75" stroke="#262626" stroke-width="1.7" />
<text  font-size="31.2" text-anchor="middle" transform="translate(1876.25 488.6) scale(1 1.04)">7</text>
<line x1="1928.5" y1="451.25" x2="1928.5" y2="459.75" stroke="#262626" stroke-width="1.7" />
<text  font-size="31.2" text-anchor="middle" transform="translate(1928.5 488.6) scale(1 1.04)">8</text>
<line x1="1536.62" y1="451.25" x2="1536.62" y2="455.75" stroke="#262626" stroke-width="1.7" />
<line x1="1588.88" y1="451.25" x2="1588.88" y2="455.75" stroke="#262626" stroke-width="1.7" />
<line x1="1641.12" y1="451.25" x2="1641.12" y2="455.75" stroke="#262626" stroke-width="1.7" />
<line x1="1693.38" y1="451.25" x2="1693.38" y2="455.75" stroke="#262626" stroke-width="1.7" />
<line x1="1745.62" y1="451.25" x2="1745.62" y2="455.75" stroke="#262626" stroke-width="1.7" />
<line x1="1797.88" y1="451.25" x2="1797.88" y2="455.75" stroke="#262626" stroke-width="1.7" />
<line x1="1850.12" y1="451.25" x2="1850.12" y2="455.75" stroke="#262626" stroke-width="1.7" />
<line x1="1902.38" y1="451.25" x2="1902.38" y2="455.75" stroke="#262626" stroke-width="1.7" />
<line x1="1954.62" y1="451.25" x2="1954.62" y2="455.75" stroke="#262626" stroke-width="1.7" />
<line x1="1487" y1="427.5" x2="1495" y2="427.5" stroke="#262626" stroke-width="1.7" />
<text  font-size="31.2" text-anchor="end" transform="translate(1482.5 436.9) scale(1 1.04)">1.0</text>
<line x1="1487" y1="306.67" x2="1495" y2="306.67" stroke="#262626" stroke-width="1.7" />
<text  font-size="31.2" text-anchor="end" transform="translate(1482.5 316.07) scale(1 1.04)">1.5</text>
<line x1="1487" y1="185.83" x2="1495" y2="185.83" stroke="#262626" stroke-width="1.7" />
<text  font-size="31.2" text-anchor="end" transform="translate(1482.5 195.23) scale(1 1.04)">2.0</text>
<line x1="1487" y1="65" x2="1495" y2="65" stroke="#262626" stroke-width="1.7" />
<text  font-size="31.2" text-anchor="end" transform="translate(1482.5 74.39) scale(1 1.04)">2.5</text>
<line x1="1490.5" y1="367.08" x2="1495" y2="367.08" stroke="#262626" stroke-width="1.7" />
<line x1="1490.5" y1="246.25" x2="1495" y2="246.25" stroke="#262626" stroke-width="1.7" />
<line x1="1490.5" y1="125.41" x2="1495" y2="125.41" stroke="#262626" stroke-width="1.7" />
<text  font-size="31.2" text-anchor="middle" transform="translate(1735.5 528.8) scale(1 1.01)">Time (min)</text>
<text  font-size="31.2" text-anchor="middle" transform="translate(1422.5 258) rotate(-90)">F/F<tspan font-size="20" dy="6">0</tspan></text>
<line x1="1512.5" y1="96.25" x2="1583.5" y2="96.25" stroke="#3F3F3F" stroke-width="2.8" />
<rect x="1543.59" y="91.84" width="8.82" height="8.82" fill="#3F3F3F"/>
<text  font-size="31.2" transform="translate(1592.5 106.85) scale(1 1.04)">PBS</text>
<line x1="1512.5" y1="134.35" x2="1583.5" y2="134.35" stroke="#1E96FA" stroke-width="2.8" />
<path d="M1548 128.26 L1553.8 138.41 L1542.2 138.41 Z" fill="#1E96FA"/>
<text  font-size="31.2" transform="translate(1592.5 144.95) scale(1 1.04)">HNP</text>
<line x1="1512.5" y1="172.45" x2="1583.5" y2="172.45" stroke="#55C23A" stroke-width="2.8" />
<path d="M1548 178.54 L1553.8 168.39 L1542.2 168.39 Z" fill="#55C23A"/>
<text  font-size="31.2" transform="translate(1592.5 183.05) scale(1 1.04)">PNP</text>
<line x1="1512.5" y1="210.55" x2="1583.5" y2="210.55" stroke="#E83C48" stroke-width="2.8" />
<path d="M1548 204.87 L1553.68 210.55 L1548 216.23 L1542.32 210.55 Z" fill="#E83C48"/>
<text  font-size="31.2" transform="translate(1592.5 221.15) scale(1 1.04)">HPNP</text>
<text  font-size="36.5" text-anchor="middle" transform="translate(1933 107.5) rotate(90)">****</text>
<text x="1379.1" y="28.4" font-size="38.3" font-weight="bold">b</text>
<clipPath id="cd"><rect x="788.25" y="597.5" width="492.05" height="402.5"/></clipPath>
<g clip-path="url(#cd)">
<path d="M794.39 984.5 C795.79 984.5 799.23 984.5 802.04 984.5 C804.84 984.5 806.88 984.5 809.69 984.5 C812.49 984.5 814.53 984.5 817.33 984.5 C820.14 984.5 822.18 984.5 824.98 984.5 C827.79 984.5 829.83 984.5 832.63 984.5 C835.44 984.5 837.48 984.5 840.28 984.5 C843.08 984.5 845.12 984.5 847.93 984.5 C850.73 984.5 852.77 984.5 855.58 984.5 C858.38 984.5 860.42 984.5 863.23 984.5 C866.03 984.5 868.07 984.5 870.87 984.5 C873.68 984.5 875.72 984.5 878.52 984.5 C881.33 984.5 883.37 984.5 886.17 984.5 C888.98 984.5 891.02 984.5 893.82 984.5 C896.62 984.5 898.66 984.5 901.47 984.5 C904.27 984.5 906.31 984.5 909.12 984.5 C911.92 984.5 913.96 984.5 916.77 984.5 C919.57 984.5 921.61 984.5 924.41 984.5 C927.22 984.5 929.26 984.5 932.06 984.5 C934.87 984.5 936.91 984.5 939.71 984.5 C942.52 984.5 944.56 984.5 947.36 984.5 C950.17 984.5 952.2 984.5 955.01 984.5 C957.81 984.5 959.85 984.5 962.66 984.5 C965.46 984.5 967.5 984.5 970.31 984.5 C973.11 984.5 975.15 984.5 977.95 984.5 C980.76 984.5 982.8 991.59 985.6 984.5 C988.41 977.41 990.45 968.62 993.25 945.83 C996.06 923.03 998.1 883.16 1000.9 860.14 C1003.71 837.13 1005.74 821.04 1008.55 820.28 C1011.35 819.52 1013.39 839.4 1016.2 855.98 C1019 872.56 1021.04 893.16 1023.85 910.72 C1026.65 928.28 1028.69 940.87 1031.5 951.77 C1034.3 962.68 1036.34 965.31 1039.14 970.22 C1041.95 975.13 1043.99 976.26 1046.79 978.55 C1049.6 980.84 1051.64 981.62 1054.44 982.72 C1057.25 983.81 1059.28 984.17 1062.09 984.5 C1064.89 984.83 1066.93 984.5 1069.74 984.5 C1072.54 984.5 1074.58 984.5 1077.39 984.5 C1080.19 984.5 1082.23 984.5 1085.04 984.5 C1087.84 984.5 1089.88 984.5 1092.68 984.5 C1095.49 984.5 1097.53 984.5 1100.33 984.5 C1103.14 984.5 1105.18 984.5 1107.98 984.5 C1110.79 984.5 1112.83 984.5 1115.63 984.5 C1118.43 984.5 1120.47 984.5 1123.28 984.5 C1126.08 984.5 1128.12 984.5 1130.93 984.5 C1133.73 984.5 1135.77 984.5 1138.58 984.5 C1141.38 984.5 1143.42 984.5 1146.22 984.5 C1149.03 984.5 1151.07 984.5 1153.87 984.5 C1156.68 984.5 1158.72 984.5 1161.52 984.5 C1164.33 984.5 1166.37 984.5 1169.17 984.5 C1171.97 984.5 1174.01 984.5 1176.82 984.5 C1179.62 984.5 1181.66 984.5 1184.47 984.5 C1187.27 984.5 1189.31 984.5 1192.12 984.5 C1194.92 984.5 1196.96 984.5 1199.76 984.5 C1202.57 984.5 1204.61 984.5 1207.41 984.5 C1210.22 984.5 1212.26 984.5 1215.06 984.5 C1217.87 984.5 1219.91 984.5 1222.71 984.5 C1225.51 984.5 1227.55 984.5 1230.36 984.5 C1233.16 984.5 1235.2 984.5 1238.01 984.5 C1240.81 984.5 1242.85 984.5 1245.66 984.5 C1248.46 984.5 1250.5 984.5 1253.3 984.5 C1256.11 984.5 1258.15 984.5 1260.95 984.5 C1263.76 984.5 1265.8 984.5 1268.6 984.5 C1271.41 984.5 1274.85 984.5 1276.25 984.5" stroke="#E83C48" stroke-width="2.6" fill="none" stroke-linejoin="round"/>
<rect x="790.97" y="981.08" width="6.84" height="6.84" fill="#E83C48"/>
<rect x="798.62" y="981.08" width="6.84" height="6.84" fill="#E83C48"/>
<rect x="806.27" y="981.08" width="6.84" height="6.84" fill="#E83C48"/>
<rect x="813.91" y="981.08" width="6.84" height="6.84" fill="#E83C48"/>
<rect x="821.56" y="981.08" width="6.84" height="6.84" fill="#E83C48"/>
<rect x="829.21" y="981.08" width="6.84" height="6.84" fill="#E83C48"/>
<rect x="836.86" y="981.08" width="6.84" height="6.84" fill="#E83C48"/>
<rect x="844.51" y="981.08" width="6.84" height="6.84" fill="#E83C48"/>
<rect x="852.16" y="981.08" width="6.84" height="6.84" fill="#E83C48"/>
<rect x="859.81" y="981.08" width="6.84" height="6.84" fill="#E83C48"/>
<rect x="867.45" y="981.08" width="6.84" height="6.84" fill="#E83C48"/>
<rect x="875.1" y="981.08" width="6.84" height="6.84" fill="#E83C48"/>
<rect x="882.75" y="981.08" width="6.84" height="6.84" fill="#E83C48"/>
<rect x="890.4" y="981.08" width="6.84" height="6.84" fill="#E83C48"/>
<rect x="898.05" y="981.08" width="6.84" height="6.84" fill="#E83C48"/>
<rect x="905.7" y="981.08" width="6.84" height="6.84" fill="#E83C48"/>
<rect x="913.35" y="981.08" width="6.84" height="6.84" fill="#E83C48"/>
<rect x="920.99" y="981.08" width="6.84" height="6.84" fill="#E83C48"/>
<rect x="928.64" y="981.08" width="6.84" height="6.84" fill="#E83C48"/>
<rect x="936.29" y="981.08" width="6.84" height="6.84" fill="#E83C48"/>
<rect x="943.94" y="981.08" width="6.84" height="6.84" fill="#E83C48"/>
<rect x="951.59" y="981.08" width="6.84" height="6.84" fill="#E83C48"/>
<rect x="959.24" y="981.08" width="6.84" height="6.84" fill="#E83C48"/>
<rect x="966.89" y="981.08" width="6.84" height="6.84" fill="#E83C48"/>
<rect x="974.53" y="981.08" width="6.84" height="6.84" fill="#E83C48"/>
<rect x="982.18" y="981.08" width="6.84" height="6.84" fill="#E83C48"/>
<rect x="989.83" y="942.41" width="6.84" height="6.84" fill="#E83C48"/>
<rect x="997.48" y="856.73" width="6.84" height="6.84" fill="#E83C48"/>
<rect x="1005.13" y="816.86" width="6.84" height="6.84" fill="#E83C48"/>
<rect x="1012.78" y="852.56" width="6.84" height="6.84" fill="#E83C48"/>
<rect x="1020.43" y="907.3" width="6.84" height="6.84" fill="#E83C48"/>
<rect x="1028.08" y="948.36" width="6.84" height="6.84" fill="#E83C48"/>
<rect x="1035.72" y="966.8" width="6.84" height="6.84" fill="#E83C48"/>
<rect x="1043.37" y="975.13" width="6.84" height="6.84" fill="#E83C48"/>
<rect x="1051.02" y="979.3" width="6.84" height="6.84" fill="#E83C48"/>
<rect x="1058.67" y="981.08" width="6.84" height="6.84" fill="#E83C48"/>
<rect x="1066.32" y="981.08" width="6.84" height="6.84" fill="#E83C48"/>
<rect x="1073.97" y="981.08" width="6.84" height="6.84" fill="#E83C48"/>
<rect x="1081.62" y="981.08" width="6.84" height="6.84" fill="#E83C48"/>
<rect x="1089.26" y="981.08" width="6.84" height="6.84" fill="#E83C48"/>
<rect x="1096.91" y="981.08" width="6.84" height="6.84" fill="#E83C48"/>
<rect x="1104.56" y="981.08" width="6.84" height="6.84" fill="#E83C48"/>
<rect x="1112.21" y="981.08" width="6.84" height="6.84" fill="#E83C48"/>
<rect x="1119.86" y="981.08" width="6.84" height="6.84" fill="#E83C48"/>
<rect x="1127.51" y="981.08" width="6.84" height="6.84" fill="#E83C48"/>
<rect x="1135.16" y="981.08" width="6.84" height="6.84" fill="#E83C48"/>
<rect x="1142.8" y="981.08" width="6.84" height="6.84" fill="#E83C48"/>
<rect x="1150.45" y="981.08" width="6.84" height="6.84" fill="#E83C48"/>
<rect x="1158.1" y="981.08" width="6.84" height="6.84" fill="#E83C48"/>
<rect x="1165.75" y="981.08" width="6.84" height="6.84" fill="#E83C48"/>
<rect x="1173.4" y="981.08" width="6.84" height="6.84" fill="#E83C48"/>
<rect x="1181.05" y="981.08" width="6.84" height="6.84" fill="#E83C48"/>
<rect x="1188.7" y="981.08" width="6.84" height="6.84" fill="#E83C48"/>
<rect x="1196.34" y="981.08" width="6.84" height="6.84" fill="#E83C48"/>
<rect x="1203.99" y="981.08" width="6.84" height="6.84" fill="#E83C48"/>
<rect x="1211.64" y="981.08" width="6.84" height="6.84" fill="#E83C48"/>
<rect x="1219.29" y="981.08" width="6.84" height="6.84" fill="#E83C48"/>
<rect x="1226.94" y="981.08" width="6.84" height="6.84" fill="#E83C48"/>
<rect x="1234.59" y="981.08" width="6.84" height="6.84" fill="#E83C48"/>
<rect x="1242.24" y="981.08" width="6.84" height="6.84" fill="#E83C48"/>
<rect x="1249.88" y="981.08" width="6.84" height="6.84" fill="#E83C48"/>
<rect x="1257.53" y="981.08" width="6.84" height="6.84" fill="#E83C48"/>
<rect x="1265.18" y="981.08" width="6.84" height="6.84" fill="#E83C48"/>
<rect x="1272.83" y="981.08" width="6.84" height="6.84" fill="#E83C48"/>
<path d="M794.39 984.5 C795.79 984.5 799.23 984.5 802.04 984.5 C804.84 984.5 806.88 984.5 809.69 984.5 C812.49 984.5 814.53 984.5 817.33 984.5 C820.14 984.5 822.18 984.5 824.98 984.5 C827.79 984.5 829.83 984.5 832.63 984.5 C835.44 984.5 837.48 984.5 840.28 984.5 C843.08 984.5 845.12 984.5 847.93 984.5 C850.73 984.5 852.77 984.5 855.58 984.5 C858.38 984.5 860.42 984.5 863.23 984.5 C866.03 984.5 868.07 984.5 870.87 984.5 C873.68 984.5 875.72 984.5 878.52 984.5 C881.33 984.5 883.37 984.5 886.17 984.5 C888.98 984.5 891.02 984.5 893.82 984.5 C896.62 984.5 898.66 984.5 901.47 984.5 C904.27 984.5 906.31 984.5 909.12 984.5 C911.92 984.5 913.96 984.5 916.77 984.5 C919.57 984.5 921.61 984.5 924.41 984.5 C927.22 984.5 929.26 984.5 932.06 984.5 C934.87 984.5 936.91 984.5 939.71 984.5 C942.52 984.5 944.56 984.5 947.36 984.5 C950.17 984.5 952.2 984.5 955.01 984.5 C957.81 984.5 959.85 984.5 962.66 984.5 C965.46 984.5 967.5 984.5 970.31 984.5 C973.11 984.5 975.15 984.5 977.95 984.5 C980.76 984.5 982.8 984.5 985.6 984.5 C988.41 984.5 990.45 984.5 993.25 984.5 C996.06 984.5 998.1 984.5 1000.9 984.5 C1003.71 984.5 1005.74 984.5 1008.55 984.5 C1011.35 984.5 1013.39 984.5 1016.2 984.5 C1019 984.5 1021.04 990.28 1023.85 984.5 C1026.65 978.72 1028.69 972.38 1031.5 952.97 C1034.3 933.55 1036.34 900.84 1039.14 878.59 C1041.95 856.34 1043.99 836.71 1046.79 831.59 C1049.6 826.46 1051.64 838.63 1054.44 850.62 C1057.25 862.62 1059.28 881.11 1062.09 897.03 C1064.89 912.96 1066.93 925.39 1069.74 937.5 C1072.54 949.6 1074.58 955.99 1077.39 963.08 C1080.19 970.17 1082.23 972.79 1085.04 976.17 C1087.84 979.55 1089.88 980 1092.68 981.52 C1095.49 983.05 1097.53 983.95 1100.33 984.5 C1103.14 985.05 1105.18 984.5 1107.98 984.5 C1110.79 984.5 1112.83 984.5 1115.63 984.5 C1118.43 984.5 1120.47 984.5 1123.28 984.5 C1126.08 984.5 1128.12 984.5 1130.93 984.5 C1133.73 984.5 1135.77 984.5 1138.58 984.5 C1141.38 984.5 1143.42 984.5 1146.22 984.5 C1149.03 984.5 1151.07 984.5 1153.87 984.5 C1156.68 984.5 1158.72 984.5 1161.52 984.5 C1164.33 984.5 1166.37 984.5 1169.17 984.5 C1171.97 984.5 1174.01 984.5 1176.82 984.5 C1179.62 984.5 1181.66 984.5 1184.47 984.5 C1187.27 984.5 1189.31 984.5 1192.12 984.5 C1194.92 984.5 1196.96 984.5 1199.76 984.5 C1202.57 984.5 1204.61 984.5 1207.41 984.5 C1210.22 984.5 1212.26 984.5 1215.06 984.5 C1217.87 984.5 1219.91 984.5 1222.71 984.5 C1225.51 984.5 1227.55 984.5 1230.36 984.5 C1233.16 984.5 1235.2 984.5 1238.01 984.5 C1240.81 984.5 1242.85 984.5 1245.66 984.5 C1248.46 984.5 1250.5 984.5 1253.3 984.5 C1256.11 984.5 1258.15 984.5 1260.95 984.5 C1263.76 984.5 1265.8 984.5 1268.6 984.5 C1271.41 984.5 1274.85 984.5 1276.25 984.5" stroke="#FF8000" stroke-width="2.6" fill="none" stroke-linejoin="round"/>
<circle cx="794.39" cy="984.5" r="4.05" fill="#FF8000"/>
<circle cx="802.04" cy="984.5" r="4.05" fill="#FF8000"/>
<circle cx="809.69" cy="984.5" r="4.05" fill="#FF8000"/>
<circle cx="817.33" cy="984.5" r="4.05" fill="#FF8000"/>
<circle cx="824.98" cy="984.5" r="4.05" fill="#FF8000"/>
<circle cx="832.63" cy="984.5" r="4.05" fill="#FF8000"/>
<circle cx="840.28" cy="984.5" r="4.05" fill="#FF8000"/>
<circle cx="847.93" cy="984.5" r="4.05" fill="#FF8000"/>
<circle cx="855.58" cy="984.5" r="4.05" fill="#FF8000"/>
<circle cx="863.23" cy="984.5" r="4.05" fill="#FF8000"/>
<circle cx="870.87" cy="984.5" r="4.05" fill="#FF8000"/>
<circle cx="878.52" cy="984.5" r="4.05" fill="#FF8000"/>
<circle cx="886.17" cy="984.5" r="4.05" fill="#FF8000"/>
<circle cx="893.82" cy="984.5" r="4.05" fill="#FF8000"/>
<circle cx="901.47" cy="984.5" r="4.05" fill="#FF8000"/>
<circle cx="909.12" cy="984.5" r="4.05" fill="#FF8000"/>
<circle cx="916.77" cy="984.5" r="4.05" fill="#FF8000"/>
<circle cx="924.41" cy="984.5" r="4.05" fill="#FF8000"/>
<circle cx="932.06" cy="984.5" r="4.05" fill="#FF8000"/>
<circle cx="939.71" cy="984.5" r="4.05" fill="#FF8000"/>
<circle cx="947.36" cy="984.5" r="4.05" fill="#FF8000"/>
<circle cx="955.01" cy="984.5" r="4.05" fill="#FF8000"/>
<circle cx="962.66" cy="984.5" r="4.05" fill="#FF8000"/>
<circle cx="970.31" cy="984.5" r="4.05" fill="#FF8000"/>
<circle cx="977.95" cy="984.5" r="4.05" fill="#FF8000"/>
<circle cx="985.6" cy="984.5" r="4.05" fill="#FF8000"/>
<circle cx="993.25" cy="984.5" r="4.05" fill="#FF8000"/>
<circle cx="1000.9" cy="984.5" r="4.05" fill="#FF8000"/>
<circle cx="1008.55" cy="984.5" r="4.05" fill="#FF8000"/>
<circle cx="1016.2" cy="984.5" r="4.05" fill="#FF8000"/>
<circle cx="1023.85" cy="984.5" r="4.05" fill="#FF8000"/>
<circle cx="1031.5" cy="952.97" r="4.05" fill="#FF8000"/>
<circle cx="1039.14" cy="878.59" r="4.05" fill="#FF8000"/>
<circle cx="1046.79" cy="831.59" r="4.05" fill="#FF8000"/>
<circle cx="1054.44" cy="850.62" r="4.05" fill="#FF8000"/>
<circle cx="1062.09" cy="897.03" r="4.05" fill="#FF8000"/>
<circle cx="1069.74" cy="937.5" r="4.05" fill="#FF8000"/>
<circle cx="1077.39" cy="963.08" r="4.05" fill="#FF8000"/>
<circle cx="1085.04" cy="976.17" r="4.05" fill="#FF8000"/>
<circle cx="1092.68" cy="981.52" r="4.05" fill="#FF8000"/>
<circle cx="1100.33" cy="984.5" r="4.05" fill="#FF8000"/>
<circle cx="1107.98" cy="984.5" r="4.05" fill="#FF8000"/>
<circle cx="1115.63" cy="984.5" r="4.05" fill="#FF8000"/>
<circle cx="1123.28" cy="984.5" r="4.05" fill="#FF8000"/>
<circle cx="1130.93" cy="984.5" r="4.05" fill="#FF8000"/>
<circle cx="1138.58" cy="984.5" r="4.05" fill="#FF8000"/>
<circle cx="1146.22" cy="984.5" r="4.05" fill="#FF8000"/>
<circle cx="1153.87" cy="984.5" r="4.05" fill="#FF8000"/>
<circle cx="1161.52" cy="984.5" r="4.05" fill="#FF8000"/>
<circle cx="1169.17" cy="984.5" r="4.05" fill="#FF8000"/>
<circle cx="1176.82" cy="984.5" r="4.05" fill="#FF8000"/>
<circle cx="1184.47" cy="984.5" r="4.05" fill="#FF8000"/>
<circle cx="1192.12" cy="984.5" r="4.05" fill="#FF8000"/>
<circle cx="1199.76" cy="984.5" r="4.05" fill="#FF8000"/>
<circle cx="1207.41" cy="984.5" r="4.05" fill="#FF8000"/>
<circle cx="1215.06" cy="984.5" r="4.05" fill="#FF8000"/>
<circle cx="1222.71" cy="984.5" r="4.05" fill="#FF8000"/>
<circle cx="1230.36" cy="984.5" r="4.05" fill="#FF8000"/>
<circle cx="1238.01" cy="984.5" r="4.05" fill="#FF8000"/>
<circle cx="1245.66" cy="984.5" r="4.05" fill="#FF8000"/>
<circle cx="1253.3" cy="984.5" r="4.05" fill="#FF8000"/>
<circle cx="1260.95" cy="984.5" r="4.05" fill="#FF8000"/>
<circle cx="1268.6" cy="984.5" r="4.05" fill="#FF8000"/>
<circle cx="1276.25" cy="984.5" r="4.05" fill="#FF8000"/>
<path d="M794.39 984.5 C795.79 984.5 799.23 984.5 802.04 984.5 C804.84 984.5 806.88 984.5 809.69 984.5 C812.49 984.5 814.53 984.5 817.33 984.5 C820.14 984.5 822.18 984.5 824.98 984.5 C827.79 984.5 829.83 984.5 832.63 984.5 C835.44 984.5 837.48 984.5 840.28 984.5 C843.08 984.5 845.12 984.5 847.93 984.5 C850.73 984.5 852.77 984.5 855.58 984.5 C858.38 984.5 860.42 984.5 863.23 984.5 C866.03 984.5 868.07 984.5 870.87 984.5 C873.68 984.5 875.72 984.5 878.52 984.5 C881.33 984.5 883.37 984.5 886.17 984.5 C888.98 984.5 891.02 984.5 893.82 984.5 C896.62 984.5 898.66 984.5 901.47 984.5 C904.27 984.5 906.31 984.5 909.12 984.5 C911.92 984.5 913.96 984.5 916.77 984.5 C919.57 984.5 921.61 984.5 924.41 984.5 C927.22 984.5 929.26 984.5 932.06 984.5 C934.87 984.5 936.91 984.5 939.71 984.5 C942.52 984.5 944.56 984.5 947.36 984.5 C950.17 984.5 952.2 984.5 955.01 984.5 C957.81 984.5 959.85 984.5 962.66 984.5 C965.46 984.5 967.5 984.5 970.31 984.5 C973.11 984.5 975.15 984.5 977.95 984.5 C980.76 984.5 982.8 984.5 985.6 984.5 C988.41 984.5 990.45 984.5 993.25 984.5 C996.06 984.5 998.1 984.5 1000.9 984.5 C1003.71 984.5 1005.74 984.5 1008.55 984.5 C1011.35 984.5 1013.39 984.5 1016.2 984.5 C1019 984.5 1021.04 984.5 1023.85 984.5 C1026.65 984.5 1028.69 984.5 1031.5 984.5 C1034.3 984.5 1036.34 984.5 1039.14 984.5 C1041.95 984.5 1043.99 984.5 1046.79 984.5 C1049.6 984.5 1051.64 984.5 1054.44 984.5 C1057.25 984.5 1059.28 984.5 1062.09 984.5 C1064.89 984.5 1066.93 984.5 1069.74 984.5 C1072.54 984.5 1074.58 984.5 1077.39 984.5 C1080.19 984.5 1082.23 984.5 1085.04 984.5 C1087.84 984.5 1089.88 984.5 1092.68 984.5 C1095.49 984.5 1097.53 984.5 1100.33 984.5 C1103.14 984.5 1105.18 984.5 1107.98 984.5 C1110.79 984.5 1112.83 984.5 1115.63 984.5 C1118.43 984.5 1120.47 991.15 1123.28 984.5 C1126.08 977.85 1128.12 975.48 1130.93 948.21 C1133.73 920.93 1135.77 870 1138.58 835.75 C1141.38 801.5 1143.42 761.38 1146.22 761.38 C1149.03 761.38 1151.07 801.5 1153.87 835.75 C1156.68 870 1158.72 920.93 1161.52 948.21 C1164.33 975.48 1166.37 977.85 1169.17 984.5 C1171.97 991.15 1174.01 984.5 1176.82 984.5 C1179.62 984.5 1181.66 984.5 1184.47 984.5 C1187.27 984.5 1189.31 984.5 1192.12 984.5 C1194.92 984.5 1196.96 984.5 1199.76 984.5 C1202.57 984.5 1204.61 984.5 1207.41 984.5 C1210.22 984.5 1212.26 984.5 1215.06 984.5 C1217.87 984.5 1219.91 984.5 1222.71 984.5 C1225.51 984.5 1227.55 984.5 1230.36 984.5 C1233.16 984.5 1235.2 984.5 1238.01 984.5 C1240.81 984.5 1242.85 984.5 1245.66 984.5 C1248.46 984.5 1250.5 984.5 1253.3 984.5 C1256.11 984.5 1258.15 984.5 1260.95 984.5 C1263.76 984.5 1265.8 984.5 1268.6 984.5 C1271.41 984.5 1274.85 984.5 1276.25 984.5" stroke="#800080" stroke-width="2.6" fill="none" stroke-linejoin="round"/>
<path d="M794.39 979.77 L798.89 987.65 L789.89 987.65 Z" fill="#800080"/>
<path d="M802.04 979.77 L806.54 987.65 L797.54 987.65 Z" fill="#800080"/>
<path d="M809.69 979.77 L814.19 987.65 L805.19 987.65 Z" fill="#800080"/>
<path d="M817.33 979.77 L821.83 987.65 L812.83 987.65 Z" fill="#800080"/>
<path d="M824.98 979.77 L829.48 987.65 L820.48 987.65 Z" fill="#800080"/>
<path d="M832.63 979.77 L837.13 987.65 L828.13 987.65 Z" fill="#800080"/>
<path d="M840.28 979.77 L844.78 987.65 L835.78 987.65 Z" fill="#800080"/>
<path d="M847.93 979.77 L852.43 987.65 L843.43 987.65 Z" fill="#800080"/>
<path d="M855.58 979.77 L860.08 987.65 L851.08 987.65 Z" fill="#800080"/>
<path d="M863.23 979.77 L867.73 987.65 L858.73 987.65 Z" fill="#800080"/>
<path d="M870.87 979.77 L875.37 987.65 L866.37 987.65 Z" fill="#800080"/>
<path d="M878.52 979.77 L883.02 987.65 L874.02 987.65 Z" fill="#800080"/>
<path d="M886.17 979.77 L890.67 987.65 L881.67 987.65 Z" fill="#800080"/>
<path d="M893.82 979.77 L898.32 987.65 L889.32 987.65 Z" fill="#800080"/>
<path d="M901.47 979.77 L905.97 987.65 L896.97 987.65 Z" fill="#800080"/>
<path d="M909.12 979.77 L913.62 987.65 L904.62 987.65 Z" fill="#800080"/>
<path d="M916.77 979.77 L921.27 987.65 L912.27 987.65 Z" fill="#800080"/>
<path d="M924.41 979.77 L928.91 987.65 L919.91 987.65 Z" fill="#800080"/>
<path d="M932.06 979.77 L936.56 987.65 L927.56 987.65 Z" fill="#800080"/>
<path d="M939.71 979.77 L944.21 987.65 L935.21 987.65 Z" fill="#800080"/>
<path d="M947.36 979.77 L951.86 987.65 L942.86 987.65 Z" fill="#800080"/>
<path d="M955.01 979.77 L959.51 987.65 L950.51 987.65 Z" fill="#800080"/>
<path d="M962.66 979.77 L967.16 987.65 L958.16 987.65 Z" fill="#800080"/>
<path d="M970.31 979.77 L974.81 987.65 L965.81 987.65 Z" fill="#800080"/>
<path d="M977.95 979.77 L982.45 987.65 L973.45 987.65 Z" fill="#800080"/>
<path d="M985.6 979.77 L990.1 987.65 L981.1 987.65 Z" fill="#800080"/>
<path d="M993.25 979.77 L997.75 987.65 L988.75 987.65 Z" fill="#800080"/>
<path d="M1000.9 979.77 L1005.4 987.65 L996.4 987.65 Z" fill="#800080"/>
<path d="M1008.55 979.77 L1013.05 987.65 L1004.05 987.65 Z" fill="#800080"/>
<path d="M1016.2 979.77 L1020.7 987.65 L1011.7 987.65 Z" fill="#800080"/>
<path d="M1023.85 979.77 L1028.35 987.65 L1019.35 987.65 Z" fill="#800080"/>
<path d="M1031.5 979.77 L1036 987.65 L1027 987.65 Z" fill="#800080"/>
<path d="M1039.14 979.77 L1043.64 987.65 L1034.64 987.65 Z" fill="#800080"/>
<path d="M1046.79 979.77 L1051.29 987.65 L1042.29 987.65 Z" fill="#800080"/>
<path d="M1054.44 979.77 L1058.94 987.65 L1049.94 987.65 Z" fill="#800080"/>
<path d="M1062.09 979.77 L1066.59 987.65 L1057.59 987.65 Z" fill="#800080"/>
<path d="M1069.74 979.77 L1074.24 987.65 L1065.24 987.65 Z" fill="#800080"/>
<path d="M1077.39 979.77 L1081.89 987.65 L1072.89 987.65 Z" fill="#800080"/>
<path d="M1085.04 979.77 L1089.54 987.65 L1080.54 987.65 Z" fill="#800080"/>
<path d="M1092.68 979.77 L1097.18 987.65 L1088.18 987.65 Z" fill="#800080"/>
<path d="M1100.33 979.77 L1104.83 987.65 L1095.83 987.65 Z" fill="#800080"/>
<path d="M1107.98 979.77 L1112.48 987.65 L1103.48 987.65 Z" fill="#800080"/>
<path d="M1115.63 979.77 L1120.13 987.65 L1111.13 987.65 Z" fill="#800080"/>
<path d="M1123.28 979.77 L1127.78 987.65 L1118.78 987.65 Z" fill="#800080"/>
<path d="M1130.93 943.48 L1135.43 951.36 L1126.43 951.36 Z" fill="#800080"/>
<path d="M1138.58 831.02 L1143.08 838.9 L1134.08 838.9 Z" fill="#800080"/>
<path d="M1146.22 756.65 L1150.72 764.52 L1141.72 764.52 Z" fill="#800080"/>
<path d="M1153.87 831.02 L1158.37 838.9 L1149.37 838.9 Z" fill="#800080"/>
<path d="M1161.52 943.48 L1166.02 951.36 L1157.02 951.36 Z" fill="#800080"/>
<path d="M1169.17 979.77 L1173.67 987.65 L1164.67 987.65 Z" fill="#800080"/>
<path d="M1176.82 979.77 L1181.32 987.65 L1172.32 987.65 Z" fill="#800080"/>
<path d="M1184.47 979.77 L1188.97 987.65 L1179.97 987.65 Z" fill="#800080"/>
<path d="M1192.12 979.77 L1196.62 987.65 L1187.62 987.65 Z" fill="#800080"/>
<path d="M1199.76 979.77 L1204.26 987.65 L1195.26 987.65 Z" fill="#800080"/>
<path d="M1207.41 979.77 L1211.91 987.65 L1202.91 987.65 Z" fill="#800080"/>
<path d="M1215.06 979.77 L1219.56 987.65 L1210.56 987.65 Z" fill="#800080"/>
<path d="M1222.71 979.77 L1227.21 987.65 L1218.21 987.65 Z" fill="#800080"/>
<path d="M1230.36 979.77 L1234.86 987.65 L1225.86 987.65 Z" fill="#800080"/>
<path d="M1238.01 979.77 L1242.51 987.65 L1233.51 987.65 Z" fill="#800080"/>
<path d="M1245.66 979.77 L1250.16 987.65 L1241.16 987.65 Z" fill="#800080"/>
<path d="M1253.3 979.77 L1257.8 987.65 L1248.8 987.65 Z" fill="#800080"/>
<path d="M1260.95 979.77 L1265.45 987.65 L1256.45 987.65 Z" fill="#800080"/>
<path d="M1268.6 979.77 L1273.1 987.65 L1264.1 987.65 Z" fill="#800080"/>
<path d="M1276.25 979.77 L1280.75 987.65 L1271.75 987.65 Z" fill="#800080"/>
<path d="M794.39 984.5 C795.79 984.5 799.23 984.5 802.04 984.5 C804.84 984.5 806.88 984.5 809.69 984.5 C812.49 984.5 814.53 984.5 817.33 984.5 C820.14 984.5 822.18 984.5 824.98 984.5 C827.79 984.5 829.83 984.5 832.63 984.5 C835.44 984.5 837.48 984.5 840.28 984.5 C843.08 984.5 845.12 984.5 847.93 984.5 C850.73 984.5 852.77 984.5 855.58 984.5 C858.38 984.5 860.42 984.5 863.23 984.5 C866.03 984.5 868.07 984.5 870.87 984.5 C873.68 984.5 875.72 984.5 878.52 984.5 C881.33 984.5 883.37 984.5 886.17 984.5 C888.98 984.5 891.02 1011.77 893.82 984.5 C896.62 957.23 898.66 890.29 901.47 835.75 C904.27 781.21 906.31 687 909.12 687 C911.92 687 913.96 781.21 916.77 835.75 C919.57 890.29 921.61 957.23 924.41 984.5 C927.22 1011.77 929.26 984.5 932.06 984.5 C934.87 984.5 936.91 984.5 939.71 984.5 C942.52 984.5 944.56 984.5 947.36 984.5 C950.17 984.5 952.2 984.5 955.01 984.5 C957.81 984.5 959.85 984.5 962.66 984.5 C965.46 984.5 967.5 984.5 970.31 984.5 C973.11 984.5 975.15 984.5 977.95 984.5 C980.76 984.5 982.8 984.5 985.6 984.5 C988.41 984.5 990.45 984.5 993.25 984.5 C996.06 984.5 998.1 984.5 1000.9 984.5 C1003.71 984.5 1005.74 984.5 1008.55 984.5 C1011.35 984.5 1013.39 984.5 1016.2 984.5 C1019 984.5 1021.04 984.5 1023.85 984.5 C1026.65 984.5 1028.69 984.5 1031.5 984.5 C1034.3 984.5 1036.34 984.5 1039.14 984.5 C1041.95 984.5 1043.99 984.5 1046.79 984.5 C1049.6 984.5 1051.64 984.5 1054.44 984.5 C1057.25 984.5 1059.28 984.5 1062.09 984.5 C1064.89 984.5 1066.93 984.5 1069.74 984.5 C1072.54 984.5 1074.58 984.5 1077.39 984.5 C1080.19 984.5 1082.23 984.5 1085.04 984.5 C1087.84 984.5 1089.88 984.5 1092.68 984.5 C1095.49 984.5 1097.53 984.5 1100.33 984.5 C1103.14 984.5 1105.18 984.5 1107.98 984.5 C1110.79 984.5 1112.83 984.5 1115.63 984.5 C1118.43 984.5 1120.47 984.5 1123.28 984.5 C1126.08 984.5 1128.12 984.5 1130.93 984.5 C1133.73 984.5 1135.77 984.5 1138.58 984.5 C1141.38 984.5 1143.42 984.5 1146.22 984.5 C1149.03 984.5 1151.07 984.5 1153.87 984.5 C1156.68 984.5 1158.72 984.5 1161.52 984.5 C1164.33 984.5 1166.37 984.5 1169.17 984.5 C1171.97 984.5 1174.01 984.5 1176.82 984.5 C1179.62 984.5 1181.66 984.5 1184.47 984.5 C1187.27 984.5 1189.31 984.5 1192.12 984.5 C1194.92 984.5 1196.96 984.5 1199.76 984.5 C1202.57 984.5 1204.61 984.5 1207.41 984.5 C1210.22 984.5 1212.26 984.5 1215.06 984.5 C1217.87 984.5 1219.91 984.5 1222.71 984.5 C1225.51 984.5 1227.55 984.5 1230.36 984.5 C1233.16 984.5 1235.2 984.5 1238.01 984.5 C1240.81 984.5 1242.85 984.5 1245.66 984.5 C1248.46 984.5 1250.5 984.5 1253.3 984.5 C1256.11 984.5 1258.15 984.5 1260.95 984.5 C1263.76 984.5 1265.8 984.5 1268.6 984.5 C1271.41 984.5 1274.85 984.5 1276.25 984.5" stroke="#808000" stroke-width="2.6" fill="none" stroke-linejoin="round"/>
<path d="M794.39 989.23 L798.89 981.35 L789.89 981.35 Z" fill="#808000"/>
<path d="M802.04 989.23 L806.54 981.35 L797.54 981.35 Z" fill="#808000"/>
<path d="M809.69 989.23 L814.19 981.35 L805.19 981.35 Z" fill="#808000"/>
<path d="M817.33 989.23 L821.83 981.35 L812.83 981.35 Z" fill="#808000"/>
<path d="M824.98 989.23 L829.48 981.35 L820.48 981.35 Z" fill="#808000"/>
<path d="M832.63 989.23 L837.13 981.35 L828.13 981.35 Z" fill="#808000"/>
<path d="M840.28 989.23 L844.78 981.35 L835.78 981.35 Z" fill="#808000"/>
<path d="M847.93 989.23 L852.43 981.35 L843.43 981.35 Z" fill="#808000"/>
<path d="M855.58 989.23 L860.08 981.35 L851.08 981.35 Z" fill="#808000"/>
<path d="M863.23 989.23 L867.73 981.35 L858.73 981.35 Z" fill="#808000"/>
<path d="M870.87 989.23 L875.37 981.35 L866.37 981.35 Z" fill="#808000"/>
<path d="M878.52 989.23 L883.02 981.35 L874.02 981.35 Z" fill="#808000"/>
<path d="M886.17 989.23 L890.67 981.35 L881.67 981.35 Z" fill="#808000"/>
<path d="M893.82 989.23 L898.32 981.35 L889.32 981.35 Z" fill="#808000"/>
<path d="M901.47 840.48 L905.97 832.6 L896.97 832.6 Z" fill="#808000"/>
<path d="M909.12 691.73 L913.62 683.85 L904.62 683.85 Z" fill="#808000"/>
<path d="M916.77 840.48 L921.27 832.6 L912.27 832.6 Z" fill="#808000"/>
<path d="M924.41 989.23 L928.91 981.35 L919.91 981.35 Z" fill="#808000"/>
<path d="M932.06 989.23 L936.56 981.35 L927.56 981.35 Z" fill="#808000"/>
<path d="M939.71 989.23 L944.21 981.35 L935.21 981.35 Z" fill="#808000"/>
<path d="M947.36 989.23 L951.86 981.35 L942.86 981.35 Z" fill="#808000"/>
<path d="M955.01 989.23 L959.51 981.35 L950.51 981.35 Z" fill="#808000"/>
<path d="M962.66 989.23 L967.16 981.35 L958.16 981.35 Z" fill="#808000"/>
<path d="M970.31 989.23 L974.81 981.35 L965.81 981.35 Z" fill="#808000"/>
<path d="M977.95 989.23 L982.45 981.35 L973.45 981.35 Z" fill="#808000"/>
<path d="M985.6 989.23 L990.1 981.35 L981.1 981.35 Z" fill="#808000"/>
<path d="M993.25 989.23 L997.75 981.35 L988.75 981.35 Z" fill="#808000"/>
<path d="M1000.9 989.23 L1005.4 981.35 L996.4 981.35 Z" fill="#808000"/>
<path d="M1008.55 989.23 L1013.05 981.35 L1004.05 981.35 Z" fill="#808000"/>
<path d="M1016.2 989.23 L1020.7 981.35 L1011.7 981.35 Z" fill="#808000"/>
<path d="M1023.85 989.23 L1028.35 981.35 L1019.35 981.35 Z" fill="#808000"/>
<path d="M1031.5 989.23 L1036 981.35 L1027 981.35 Z" fill="#808000"/>
<path d="M1039.14 989.23 L1043.64 981.35 L1034.64 981.35 Z" fill="#808000"/>
<path d="M1046.79 989.23 L1051.29 981.35 L1042.29 981.35 Z" fill="#808000"/>
<path d="M1054.44 989.23 L1058.94 981.35 L1049.94 981.35 Z" fill="#808000"/>
<path d="M1062.09 989.23 L1066.59 981.35 L1057.59 981.35 Z" fill="#808000"/>
<path d="M1069.74 989.23 L1074.24 981.35 L1065.24 981.35 Z" fill="#808000"/>
<path d="M1077.39 989.23 L1081.89 981.35 L1072.89 981.35 Z" fill="#808000"/>
<path d="M1085.04 989.23 L1089.54 981.35 L1080.54 981.35 Z" fill="#808000"/>
<path d="M1092.68 989.23 L1097.18 981.35 L1088.18 981.35 Z" fill="#808000"/>
<path d="M1100.33 989.23 L1104.83 981.35 L1095.83 981.35 Z" fill="#808000"/>
<path d="M1107.98 989.23 L1112.48 981.35 L1103.48 981.35 Z" fill="#808000"/>
<path d="M1115.63 989.23 L1120.13 981.35 L1111.13 981.35 Z" fill="#808000"/>
<path d="M1123.28 989.23 L1127.78 981.35 L1118.78 981.35 Z" fill="#808000"/>
<path d="M1130.93 989.23 L1135.43 981.35 L1126.43 981.35 Z" fill="#808000"/>
<path d="M1138.58 989.23 L1143.08 981.35 L1134.08 981.35 Z" fill="#808000"/>
<path d="M1146.22 989.23 L1150.72 981.35 L1141.72 981.35 Z" fill="#808000"/>
<path d="M1153.87 989.23 L1158.37 981.35 L1149.37 981.35 Z" fill="#808000"/>
<path d="M1161.52 989.23 L1166.02 981.35 L1157.02 981.35 Z" fill="#808000"/>
<path d="M1169.17 989.23 L1173.67 981.35 L1164.67 981.35 Z" fill="#808000"/>
<path d="M1176.82 989.23 L1181.32 981.35 L1172.32 981.35 Z" fill="#808000"/>
<path d="M1184.47 989.23 L1188.97 981.35 L1179.97 981.35 Z" fill="#808000"/>
<path d="M1192.12 989.23 L1196.62 981.35 L1187.62 981.35 Z" fill="#808000"/>
<path d="M1199.76 989.23 L1204.26 981.35 L1195.26 981.35 Z" fill="#808000"/>
<path d="M1207.41 989.23 L1211.91 981.35 L1202.91 981.35 Z" fill="#808000"/>
<path d="M1215.06 989.23 L1219.56 981.35 L1210.56 981.35 Z" fill="#808000"/>
<path d="M1222.71 989.23 L1227.21 981.35 L1218.21 981.35 Z" fill="#808000"/>
<path d="M1230.36 989.23 L1234.86 981.35 L1225.86 981.35 Z" fill="#808000"/>
<path d="M1238.01 989.23 L1242.51 981.35 L1233.51 981.35 Z" fill="#808000"/>
<path d="M1245.66 989.23 L1250.16 981.35 L1241.16 981.35 Z" fill="#808000"/>
<path d="M1253.3 989.23 L1257.8 981.35 L1248.8 981.35 Z" fill="#808000"/>
<path d="M1260.95 989.23 L1265.45 981.35 L1256.45 981.35 Z" fill="#808000"/>
<path d="M1268.6 989.23 L1273.1 981.35 L1264.1 981.35 Z" fill="#808000"/>
<path d="M1276.25 989.23 L1280.75 981.35 L1271.75 981.35 Z" fill="#808000"/>
</g>
<path d="M796.25 597.5 H1276.3 V986 H794.25 V597.5" stroke="#262626" stroke-width="1.6" fill="none" />
<line x1="793.25" y1="597.5" x2="796.25" y2="597.5" stroke="#262626" stroke-width="1.7" />
<line x1="788.25" y1="984.5" x2="796.25" y2="984.5" stroke="#262626" stroke-width="1.7" />
<text  font-size="31.2" text-anchor="end" transform="translate(782.5 993.9) scale(1 1.04)">0</text>
<line x1="788.25" y1="925" x2="796.25" y2="925" stroke="#262626" stroke-width="1.7" />
<text  font-size="31.2" text-anchor="end" transform="translate(782.5 934.4) scale(1 1.04)">10</text>
<line x1="788.25" y1="865.5" x2="796.25" y2="865.5" stroke="#262626" stroke-width="1.7" />
<text  font-size="31.2" text-anchor="end" transform="translate(782.5 874.9) scale(1 1.04)">20</text>
<line x1="788.25" y1="806" x2="796.25" y2="806" stroke="#262626" stroke-width="1.7" />
<text  font-size="31.2" text-anchor="end" transform="translate(782.5 815.4) scale(1 1.04)">30</text>
<line x1="788.25" y1="746.5" x2="796.25" y2="746.5" stroke="#262626" stroke-width="1.7" />
<text  font-size="31.2" text-anchor="end" transform="translate(782.5 755.9) scale(1 1.04)">40</text>
<line x1="788.25" y1="687" x2="796.25" y2="687" stroke="#262626" stroke-width="1.7" />
<text  font-size="31.2" text-anchor="end" transform="translate(782.5 696.4) scale(1 1.04)">50</text>
<line x1="788.25" y1="627.5" x2="796.25" y2="627.5" stroke="#262626" stroke-width="1.7" />
<text  font-size="31.2" text-anchor="end" transform="translate(782.5 636.9) scale(1 1.04)">60</text>
<line x1="791.75" y1="954.75" x2="796.25" y2="954.75" stroke="#262626" stroke-width="1.7" />
<line x1="791.75" y1="895.25" x2="796.25" y2="895.25" stroke="#262626" stroke-width="1.7" />
<line x1="791.75" y1="835.75" x2="796.25" y2="835.75" stroke="#262626" stroke-width="1.7" />
<line x1="791.75" y1="776.25" x2="796.25" y2="776.25" stroke="#262626" stroke-width="1.7" />
<line x1="791.75" y1="716.75" x2="796.25" y2="716.75" stroke="#262626" stroke-width="1.7" />
<line x1="791.75" y1="657.25" x2="796.25" y2="657.25" stroke="#262626" stroke-width="1.7" />
<line x1="796.25" y1="980" x2="796.25" y2="993" stroke="#262626" stroke-width="1.7" />
<text  font-size="31.2" text-anchor="middle" transform="translate(796.25 1021.3) scale(1 1.04)">1</text>
<line x1="832.37" y1="983" x2="832.37" y2="989.5" stroke="#262626" stroke-width="1.3" />
<line x1="853.5" y1="983" x2="853.5" y2="989.5" stroke="#262626" stroke-width="1.3" />
<line x1="868.5" y1="983" x2="868.5" y2="989.5" stroke="#262626" stroke-width="1.3" />
<line x1="880.13" y1="983" x2="880.13" y2="989.5" stroke="#262626" stroke-width="1.3" />
<line x1="889.63" y1="983" x2="889.63" y2="989.5" stroke="#262626" stroke-width="1.3" />
<line x1="897.66" y1="983" x2="897.66" y2="989.5" stroke="#262626" stroke-width="1.3" />
<line x1="904.62" y1="983" x2="904.62" y2="989.5" stroke="#262626" stroke-width="1.3" />
<line x1="910.76" y1="983" x2="910.76" y2="989.5" stroke="#262626" stroke-width="1.3" />
<line x1="916.25" y1="980" x2="916.25" y2="993" stroke="#262626" stroke-width="1.7" />
<text  font-size="31.2" text-anchor="middle" transform="translate(916.25 1021.3) scale(1 1.04)">10</text>
<line x1="952.37" y1="983" x2="952.37" y2="989.5" stroke="#262626" stroke-width="1.3" />
<line x1="973.5" y1="983" x2="973.5" y2="989.5" stroke="#262626" stroke-width="1.3" />
<line x1="988.5" y1="983" x2="988.5" y2="989.5" stroke="#262626" stroke-width="1.3" />
<line x1="1000.13" y1="983" x2="1000.13" y2="989.5" stroke="#262626" stroke-width="1.3" />
<line x1="1009.63" y1="983" x2="1009.63" y2="989.5" stroke="#262626" stroke-width="1.3" />
<line x1="1017.66" y1="983" x2="1017.66" y2="989.5" stroke="#262626" stroke-width="1.3" />
<line x1="1024.62" y1="983" x2="1024.62" y2="989.5" stroke="#262626" stroke-width="1.3" />
<line x1="1030.76" y1="983" x2="1030.76" y2="989.5" stroke="#262626" stroke-width="1.3" />
<line x1="1036.25" y1="980" x2="1036.25" y2="993" stroke="#262626" stroke-width="1.7" />
<text  font-size="31.2" text-anchor="middle" transform="translate(1036.25 1021.3) scale(1 1.04)">100</text>
<line x1="1072.37" y1="983" x2="1072.37" y2="989.5" stroke="#262626" stroke-width="1.3" />
<line x1="1093.5" y1="983" x2="1093.5" y2="989.5" stroke="#262626" stroke-width="1.3" />
<line x1="1108.5" y1="983" x2="1108.5" y2="989.5" stroke="#262626" stroke-width="1.3" />
<line x1="1120.13" y1="983" x2="1120.13" y2="989.5" stroke="#262626" stroke-width="1.3" />
<line x1="1129.63" y1="983" x2="1129.63" y2="989.5" stroke="#262626" stroke-width="1.3" />
<line x1="1137.66" y1="983" x2="1137.66" y2="989.5" stroke="#262626" stroke-width="1.3" />
<line x1="1144.62" y1="983" x2="1144.62" y2="989.5" stroke="#262626" stroke-width="1.3" />
<line x1="1150.76" y1="983" x2="1150.76" y2="989.5" stroke="#262626" stroke-width="1.3" />
<line x1="1156.25" y1="980" x2="1156.25" y2="993" stroke="#262626" stroke-width="1.7" />
<text  font-size="31.2" text-anchor="middle" transform="translate(1156.25 1021.3) scale(1 1.04)">1000</text>
<line x1="1192.37" y1="983" x2="1192.37" y2="989.5" stroke="#262626" stroke-width="1.3" />
<line x1="1213.5" y1="983" x2="1213.5" y2="989.5" stroke="#262626" stroke-width="1.3" />
<line x1="1228.5" y1="983" x2="1228.5" y2="989.5" stroke="#262626" stroke-width="1.3" />
<line x1="1240.13" y1="983" x2="1240.13" y2="989.5" stroke="#262626" stroke-width="1.3" />
<line x1="1249.63" y1="983" x2="1249.63" y2="989.5" stroke="#262626" stroke-width="1.3" />
<line x1="1257.66" y1="983" x2="1257.66" y2="989.5" stroke="#262626" stroke-width="1.3" />
<line x1="1264.62" y1="983" x2="1264.62" y2="989.5" stroke="#262626" stroke-width="1.3" />
<line x1="1270.76" y1="983" x2="1270.76" y2="989.5" stroke="#262626" stroke-width="1.3" />
<line x1="1276.25" y1="980" x2="1276.25" y2="993" stroke="#262626" stroke-width="1.7" />
<text  font-size="31.2" text-anchor="middle" transform="translate(1276.25 1021.3) scale(1 1.04)">10000</text>
<text  font-size="31.2" text-anchor="middle" transform="translate(1036.3 1058) scale(1 1.01)">Diameter (nm)</text>
<text  font-size="31.2" text-anchor="middle" transform="translate(728.5 790.5) rotate(-90) scale(1 1.01)">Number (%)</text>
<line x1="824.25" y1="619.25" x2="875.25" y2="619.25" stroke="#E83C48" stroke-width="2.6" />
<rect x="845.9" y="615.6" width="7.3" height="7.3" fill="#E83C48"/>
<text  font-size="31.2" transform="translate(892.75 629.65) scale(1 1.03)">pH 7.4</text>
<line x1="824.25" y1="657.15" x2="875.25" y2="657.15" stroke="#FF8000" stroke-width="2.6" />
<circle cx="849.55" cy="657.15" r="4.32" fill="#FF8000"/>
<text  font-size="31.2" transform="translate(892.75 667.55) scale(1 1.03)">pH 6.8</text>
<line x1="1010.75" y1="619.25" x2="1061.75" y2="619.25" stroke="#800080" stroke-width="2.6" />
<path d="M1036.05 614.21 L1040.85 622.61 L1031.25 622.61 Z" fill="#800080"/>
<text  font-size="31.2" transform="translate(1079.25 629.65) scale(1 1.03)">pH 7.4 + US</text>
<line x1="1010.75" y1="657.15" x2="1061.75" y2="657.15" stroke="#808000" stroke-width="2.6" />
<path d="M1036.05 662.19 L1040.85 653.79 L1031.25 653.79 Z" fill="#808000"/>
<text  font-size="31.2" transform="translate(1079.25 667.55) scale(1 1.03)">pH 6.8 + US</text>
<text x="698.6" y="587.2" font-size="38.3" font-weight="bold">d</text>
<path d="M1494.75 673.3 L1500.76 673.32 L1506.77 673.33 L1512.78 673.35 L1518.79 673.37 L1524.8 673.38 L1530.81 673.4 L1536.82 673.41 L1542.84 673.43 L1548.85 673.45 L1554.86 673.46 L1560.87 673.48 L1566.88 673.5 L1572.89 673.51 L1578.9 673.53 L1584.91 673.54 L1590.92 673.56 L1596.93 673.58 L1602.94 673.59 L1608.95 673.61 L1614.96 673.62 L1620.97 673.64 L1626.98 673.66 L1632.99 673.67 L1639.01 673.69 L1645.02 673.71 L1651.03 673.72 L1657.04 673.73 L1660.04 673.27 L1661.04 672.48 L1662.05 670.74 L1663.05 667.37 L1664.05 661.65 L1665.05 653.22 L1666.05 642.59 L1667.05 631.45 L1668.06 622.38 L1669.06 617.95 L1670.06 617.66 L1671.06 621.62 L1672.06 627.01 L1673.07 633.27 L1674.07 639.79 L1675.07 646.03 L1676.07 651.57 L1677.07 656.19 L1678.07 659.83 L1679.08 662.58 L1680.08 664.59 L1681.08 666.03 L1682.08 667.07 L1683.08 667.84 L1684.08 668.43 L1685.09 668.91 L1686.09 669.31 L1687.09 669.65 L1688.09 669.96 L1689.09 670.24 L1690.1 670.49 L1691.1 670.72 L1692.1 670.93 L1693.1 671.13 L1694.1 671.3 L1695.1 671.46 L1696.11 671.61 L1697.11 671.75 L1698.11 671.87 L1699.11 671.99 L1700.11 672.1 L1701.11 672.19 L1702.12 672.28 L1703.12 672.37 L1704.12 672.45 L1705.12 672.52 L1706.12 672.58 L1707.13 672.65 L1708.13 672.7 L1709.13 672.76 L1710.13 672.81 L1711.13 672.86 L1712.13 672.9 L1713.14 672.94 L1714.14 672.98 L1715.14 673.02 L1716.14 673.05 L1717.14 673.08 L1718.14 673.11 L1719.15 673.14 L1720.15 673.17 L1721.15 673.2 L1722.15 673.22 L1723.15 673.25 L1724.16 673.27 L1725.16 673.29 L1726.16 673.31 L1727.16 673.33 L1728.16 673.35 L1729.16 673.37 L1730.17 673.39 L1731.17 673.41 L1732.17 673.43 L1733.17 673.44 L1734.17 673.46 L1735.17 673.47 L1736.18 673.49 L1737.18 673.5 L1738.18 673.52 L1739.18 673.53 L1740.18 673.54 L1741.19 673.56 L1742.19 673.57 L1743.19 673.58 L1744.19 673.59 L1745.19 673.61 L1746.19 673.62 L1747.2 673.63 L1748.2 673.64 L1749.2 673.65 L1750.2 673.66 L1751.2 673.67 L1752.21 673.68 L1753.21 673.69 L1754.21 673.7 L1759.22 673.75 L1765.23 673.8 L1771.24 673.84 L1777.25 673.89 L1783.26 673.92 L1789.27 673.96 L1795.28 673.99 L1801.29 674.02 L1807.3 674.05 L1813.31 674.08 L1819.32 674.11 L1825.33 674.13 L1831.35 674.16 L1837.36 674.18 L1843.37 674.2 L1849.38 674.22 L1855.39 674.22 L1858.39 673.83 L1859.39 673.27 L1860.4 672.21 L1861.4 670.39 L1862.4 667.63 L1863.4 663.96 L1864.4 659.76 L1865.41 655.75 L1866.41 652.84 L1867.41 651 L1868.41 652.05 L1869.41 653.55 L1870.41 655.42 L1871.42 657.54 L1872.42 659.75 L1873.42 661.91 L1874.42 663.91 L1875.42 665.68 L1876.42 667.17 L1877.43 668.38 L1878.43 669.34 L1879.43 670.08 L1880.43 670.65 L1881.43 671.09 L1882.44 671.44 L1883.44 671.71 L1884.44 671.94 L1885.44 672.13 L1886.44 672.3 L1887.44 672.46 L1888.45 672.59 L1889.45 672.72 L1890.45 672.83 L1891.45 672.94 L1892.45 673.03 L1893.45 673.12 L1894.46 673.21 L1895.46 673.28 L1896.46 673.35 L1897.46 673.42 L1898.46 673.48 L1899.47 673.53 L1900.47 673.58 L1901.47 673.63 L1902.47 673.68 L1903.47 673.72 L1904.47 673.76 L1905.48 673.79 L1906.48 673.83 L1907.48 673.86 L1908.48 673.89 L1909.48 673.92 L1910.48 673.94 L1911.49 673.97 L1912.49 673.99 L1913.49 674.01 L1914.49 674.03 L1915.49 674.05 L1916.5 674.07 L1917.5 674.09 L1918.5 674.1 L1919.5 674.12 L1920.5 674.13 L1921.5 674.15 L1927.51 674.22 L1933.53 674.28 L1939.54 674.33 L1945.55 674.37 L1951.56 674.41 L1957.57 674.44 L1963.58 674.47 L1969.59 674.5 L1975.6 674.53 L1975.6 676.1 L1494.75 674.8 Z" stroke="#808000" stroke-width="0.4" fill="#808000" stroke-linejoin="round"/>
<text  font-size="31.2" transform="translate(1419.8 668) scale(1 1.03)">pH 6.8 + US</text>
<path d="M1494.75 750.3 L1500.76 750.32 L1506.77 750.33 L1512.78 750.35 L1518.79 750.37 L1524.8 750.38 L1530.81 750.4 L1536.82 750.41 L1542.84 750.43 L1548.85 750.45 L1554.86 750.46 L1560.87 750.48 L1566.88 750.5 L1572.89 750.51 L1578.9 750.53 L1584.91 750.54 L1590.92 750.56 L1596.93 750.58 L1602.94 750.59 L1608.95 750.61 L1614.96 750.62 L1620.97 750.64 L1626.98 750.66 L1632.99 750.67 L1639.01 750.69 L1645.02 750.71 L1651.03 750.72 L1657.04 750.67 L1659.04 750.19 L1660.04 749.43 L1661.04 747.96 L1662.05 745.47 L1663.05 741.78 L1664.05 737.14 L1665.05 732.26 L1666.05 728.29 L1667.05 726.35 L1668.06 726.29 L1669.06 727.93 L1670.06 730.03 L1671.06 732.42 L1672.06 734.94 L1673.07 737.41 L1674.07 739.69 L1675.07 741.69 L1676.07 743.35 L1677.07 744.69 L1678.07 745.73 L1679.08 746.52 L1680.08 747.12 L1681.08 747.58 L1682.08 747.93 L1683.08 748.22 L1684.08 748.45 L1685.09 748.65 L1686.09 748.82 L1687.09 748.98 L1688.09 749.12 L1689.09 749.24 L1690.1 749.36 L1691.1 749.46 L1692.1 749.56 L1693.1 749.65 L1694.1 749.73 L1695.1 749.8 L1696.11 749.87 L1697.11 749.93 L1698.11 749.99 L1699.11 750.04 L1700.11 750.09 L1701.11 750.14 L1702.12 750.18 L1703.12 750.22 L1704.12 750.25 L1705.12 750.29 L1706.12 750.32 L1707.13 750.35 L1708.13 750.37 L1709.13 750.4 L1710.13 750.42 L1711.13 750.45 L1712.13 750.47 L1713.14 750.49 L1714.14 750.5 L1715.14 750.52 L1716.14 750.54 L1717.14 750.55 L1718.14 750.57 L1719.15 750.58 L1720.15 750.6 L1721.15 750.61 L1723.15 750.63 L1729.16 750.7 L1735.17 750.75 L1741.19 750.79 L1747.2 750.83 L1753.21 750.87 L1759.22 750.9 L1765.23 750.93 L1771.24 750.96 L1777.25 750.99 L1783.26 751.01 L1789.27 751.04 L1795.28 751.06 L1801.29 751.09 L1807.3 751.11 L1813.31 751.13 L1819.32 751.15 L1825.33 751.17 L1831.35 751.19 L1837.36 751.21 L1843.37 751.23 L1849.38 751.24 L1855.39 751.26 L1861.4 750.57 L1862.4 749.56 L1863.4 747.53 L1864.4 743.9 L1865.41 738.18 L1866.41 730.36 L1867.41 721.16 L1868.41 712.23 L1869.41 705.68 L1870.41 701.65 L1871.42 703.78 L1872.42 707.08 L1873.42 711.32 L1874.42 716.15 L1875.42 721.18 L1876.42 726.06 L1877.43 730.51 L1878.43 734.35 L1879.43 737.51 L1880.43 740.01 L1881.43 741.92 L1882.44 743.36 L1883.44 744.44 L1884.44 745.25 L1885.44 745.87 L1886.44 746.37 L1887.44 746.78 L1888.45 747.13 L1889.45 747.44 L1890.45 747.72 L1891.45 747.98 L1892.45 748.21 L1893.45 748.42 L1894.46 748.61 L1895.46 748.79 L1896.46 748.96 L1897.46 749.11 L1898.46 749.25 L1899.47 749.38 L1900.47 749.5 L1901.47 749.61 L1902.47 749.72 L1903.47 749.81 L1904.47 749.9 L1905.48 749.98 L1906.48 750.06 L1907.48 750.13 L1908.48 750.2 L1909.48 750.26 L1910.48 750.32 L1911.49 750.37 L1912.49 750.42 L1913.49 750.47 L1914.49 750.51 L1915.49 750.55 L1916.5 750.59 L1917.5 750.63 L1918.5 750.67 L1919.5 750.7 L1920.5 750.73 L1921.5 750.76 L1922.51 750.79 L1923.51 750.81 L1924.51 750.84 L1925.51 750.86 L1926.51 750.89 L1927.51 750.91 L1928.52 750.93 L1929.52 750.95 L1930.52 750.97 L1931.52 750.99 L1932.52 751 L1933.53 751.02 L1934.53 751.04 L1935.53 751.05 L1936.53 751.07 L1937.53 751.08 L1938.53 751.1 L1939.54 751.11 L1940.54 751.12 L1941.54 751.14 L1942.54 751.15 L1943.54 751.16 L1944.55 751.17 L1945.55 751.18 L1946.55 751.19 L1947.55 751.21 L1948.55 751.22 L1949.55 751.23 L1951.56 751.25 L1957.57 751.3 L1963.58 751.35 L1969.59 751.4 L1975.6 751.44 L1975.6 753.1 L1494.75 751.8 Z" stroke="#800080" stroke-width="0.4" fill="#800080" stroke-linejoin="round"/>
<text  font-size="31.2" transform="translate(1419.8 744.3) scale(1 1.03)">pH 7.4 + US</text>
<path d="M1494.75 826.5 L1500.76 826.52 L1506.77 826.53 L1512.78 826.55 L1518.79 826.57 L1524.8 826.58 L1530.81 826.6 L1536.82 826.61 L1542.84 826.63 L1548.85 826.65 L1554.86 826.66 L1560.87 826.68 L1566.88 826.7 L1572.89 826.71 L1578.9 826.73 L1584.91 826.74 L1590.92 826.76 L1596.93 826.78 L1602.94 826.79 L1608.95 826.81 L1614.96 826.83 L1620.97 826.84 L1626.98 826.86 L1632.99 826.87 L1639.01 826.89 L1645.02 826.91 L1651.03 826.92 L1657.04 826.94 L1663.05 826.95 L1669.06 826.95 L1672.06 826.58 L1673.07 826.04 L1674.07 824.96 L1675.07 823.03 L1676.07 819.99 L1677.07 815.77 L1678.07 810.68 L1679.08 805.49 L1680.08 801.29 L1681.08 799.14 L1682.08 798.89 L1683.08 800.54 L1684.08 802.58 L1685.09 804.9 L1686.09 807.35 L1687.09 809.79 L1688.09 812.09 L1689.09 814.17 L1690.1 815.96 L1691.1 817.47 L1692.1 818.69 L1693.1 819.68 L1694.1 820.47 L1695.1 821.11 L1696.11 821.64 L1697.11 822.07 L1698.11 822.45 L1699.11 822.78 L1700.11 823.08 L1701.11 823.35 L1702.12 823.59 L1703.12 823.82 L1704.12 824.04 L1705.12 824.23 L1706.12 824.42 L1707.13 824.59 L1708.13 824.74 L1709.13 824.89 L1710.13 825.03 L1711.13 825.16 L1712.13 825.28 L1713.14 825.39 L1714.14 825.49 L1715.14 825.59 L1716.14 825.68 L1717.14 825.76 L1718.14 825.84 L1719.15 825.92 L1720.15 825.98 L1721.15 826.05 L1722.15 826.11 L1723.15 826.17 L1724.16 826.22 L1725.16 826.27 L1726.16 826.32 L1727.16 826.36 L1728.16 826.4 L1729.16 826.44 L1730.17 826.48 L1731.17 826.51 L1732.17 826.54 L1733.17 826.57 L1734.17 826.6 L1735.17 826.63 L1736.18 826.66 L1737.18 826.68 L1738.18 826.7 L1739.18 826.73 L1740.18 826.75 L1741.19 826.77 L1742.19 826.78 L1743.19 826.8 L1744.19 826.82 L1745.19 826.84 L1746.19 826.85 L1747.2 826.87 L1748.2 826.88 L1753.21 826.94 L1759.22 827.01 L1765.23 827.06 L1771.24 827.1 L1777.25 827.14 L1783.26 827.17 L1789.27 827.2 L1795.28 827.23 L1801.29 827.26 L1807.3 827.28 L1813.31 827.31 L1819.32 827.33 L1825.33 827.35 L1831.35 827.37 L1837.36 827.4 L1843.37 827.42 L1849.38 827.44 L1855.39 827.45 L1859.39 826.8 L1860.4 825.83 L1861.4 823.85 L1862.4 820.26 L1863.4 814.55 L1864.4 806.6 L1865.41 797.11 L1866.41 787.68 L1867.41 780.5 L1868.41 777.52 L1869.41 777.7 L1870.41 781.02 L1871.42 785.35 L1872.42 790.34 L1873.42 795.58 L1874.42 800.69 L1875.42 805.38 L1876.42 809.45 L1877.43 812.81 L1878.43 815.49 L1879.43 817.54 L1880.43 819.09 L1881.43 820.24 L1882.44 821.11 L1883.44 821.78 L1884.44 822.31 L1885.44 822.74 L1886.44 823.11 L1887.44 823.44 L1888.45 823.73 L1889.45 824 L1890.45 824.24 L1891.45 824.46 L1892.45 824.67 L1893.45 824.86 L1894.46 825.03 L1895.46 825.19 L1896.46 825.34 L1897.46 825.48 L1898.46 825.6 L1899.47 825.72 L1900.47 825.83 L1901.47 825.93 L1902.47 826.02 L1903.47 826.11 L1904.47 826.19 L1905.48 826.26 L1906.48 826.33 L1907.48 826.4 L1908.48 826.46 L1909.48 826.51 L1910.48 826.57 L1911.49 826.62 L1912.49 826.66 L1913.49 826.71 L1914.49 826.75 L1915.49 826.79 L1916.5 826.82 L1917.5 826.86 L1918.5 826.89 L1919.5 826.92 L1920.5 826.95 L1921.5 826.98 L1922.51 827 L1923.51 827.03 L1924.51 827.05 L1925.51 827.07 L1926.51 827.1 L1927.51 827.12 L1928.52 827.14 L1929.52 827.16 L1930.52 827.17 L1931.52 827.19 L1932.52 827.21 L1933.53 827.23 L1934.53 827.24 L1935.53 827.26 L1936.53 827.27 L1937.53 827.29 L1938.53 827.3 L1939.54 827.31 L1940.54 827.33 L1941.54 827.34 L1942.54 827.35 L1943.54 827.36 L1944.55 827.37 L1945.55 827.39 L1946.55 827.4 L1947.55 827.41 L1948.55 827.42 L1949.55 827.43 L1951.56 827.45 L1957.57 827.5 L1963.58 827.55 L1969.59 827.6 L1975.6 827.64 L1975.6 829.3 L1494.75 828 Z" stroke="#FF8000" stroke-width="0.4" fill="#FF8000" stroke-linejoin="round"/>
<text  font-size="31.2" transform="translate(1419.8 820) scale(1 1.03)">pH 6.8</text>
<path d="M1494.75 903.8 L1500.76 903.82 L1506.77 903.83 L1512.78 903.85 L1518.79 903.87 L1524.8 903.88 L1530.81 903.9 L1536.82 903.91 L1542.84 903.93 L1548.85 903.95 L1554.86 903.96 L1560.87 903.98 L1566.88 904 L1572.89 904.01 L1578.9 904.03 L1584.91 904.04 L1590.92 904.06 L1596.93 904.08 L1602.94 904.09 L1608.95 904.11 L1614.96 904.12 L1620.97 904.14 L1626.98 904.16 L1632.99 904.17 L1639.01 904.19 L1645.02 904.21 L1651.03 904.22 L1657.04 904 L1658.04 903.71 L1659.04 903.18 L1660.04 902.3 L1661.04 901.02 L1662.05 899.41 L1663.05 897.66 L1664.05 896.12 L1665.05 895.15 L1666.05 894.8 L1667.05 895.36 L1668.06 896.05 L1669.06 896.83 L1670.06 897.67 L1671.06 898.51 L1672.06 899.32 L1673.07 900.05 L1674.07 900.69 L1675.07 901.24 L1676.07 901.68 L1677.07 902.04 L1678.07 902.32 L1679.08 902.55 L1680.08 902.73 L1681.08 902.88 L1682.08 903.01 L1683.08 903.12 L1684.08 903.22 L1685.09 903.3 L1686.09 903.38 L1687.09 903.45 L1688.09 903.52 L1689.09 903.58 L1690.1 903.63 L1691.1 903.68 L1692.1 903.73 L1693.1 903.77 L1694.1 903.81 L1695.1 903.85 L1696.11 903.89 L1697.11 903.92 L1698.11 903.95 L1699.11 903.97 L1700.11 904 L1701.11 904.02 L1702.12 904.05 L1705.12 904.1 L1711.13 904.19 L1717.14 904.25 L1723.15 904.3 L1729.16 904.34 L1735.17 904.37 L1741.19 904.4 L1747.2 904.43 L1753.21 904.45 L1759.22 904.47 L1765.23 904.5 L1771.24 904.52 L1777.25 904.54 L1783.26 904.56 L1789.27 904.58 L1795.28 904.59 L1801.29 904.61 L1807.3 904.63 L1813.31 904.65 L1819.32 904.67 L1825.33 904.68 L1831.35 904.7 L1837.36 904.72 L1843.37 904.74 L1849.38 904.75 L1855.39 904.77 L1859.39 904.43 L1860.4 903.84 L1861.4 902.47 L1862.4 899.67 L1863.4 894.61 L1864.4 886.55 L1865.41 875.33 L1866.41 861.94 L1867.41 848.65 L1868.41 838.53 L1869.41 834.34 L1870.41 834.6 L1871.42 839.29 L1872.42 845.39 L1873.42 852.42 L1874.42 859.81 L1875.42 867.02 L1876.42 873.63 L1877.43 879.36 L1878.43 884.1 L1879.43 887.87 L1880.43 890.76 L1881.43 892.94 L1882.44 894.57 L1883.44 895.79 L1884.44 896.73 L1885.44 897.47 L1886.44 898.08 L1887.44 898.61 L1888.45 899.07 L1889.45 899.48 L1890.45 899.85 L1891.45 900.19 L1892.45 900.5 L1893.45 900.79 L1894.46 901.05 L1895.46 901.3 L1896.46 901.52 L1897.46 901.73 L1898.46 901.92 L1899.47 902.1 L1900.47 902.26 L1901.47 902.41 L1902.47 902.55 L1903.47 902.68 L1904.47 902.8 L1905.48 902.92 L1906.48 903.02 L1907.48 903.12 L1908.48 903.21 L1909.48 903.29 L1910.48 903.37 L1911.49 903.44 L1912.49 903.51 L1913.49 903.58 L1914.49 903.64 L1915.49 903.69 L1916.5 903.75 L1917.5 903.8 L1918.5 903.84 L1919.5 903.89 L1920.5 903.93 L1921.5 903.97 L1922.51 904.01 L1923.51 904.04 L1924.51 904.08 L1925.51 904.11 L1926.51 904.14 L1927.51 904.17 L1928.52 904.2 L1929.52 904.23 L1930.52 904.25 L1931.52 904.28 L1932.52 904.3 L1933.53 904.32 L1934.53 904.34 L1935.53 904.36 L1936.53 904.38 L1937.53 904.4 L1938.53 904.42 L1939.54 904.44 L1940.54 904.46 L1941.54 904.48 L1942.54 904.49 L1943.54 904.51 L1944.55 904.52 L1945.55 904.54 L1946.55 904.55 L1947.55 904.57 L1948.55 904.58 L1949.55 904.6 L1950.56 904.61 L1951.56 904.62 L1952.56 904.64 L1953.56 904.65 L1954.56 904.66 L1955.56 904.67 L1956.57 904.68 L1957.57 904.69 L1958.57 904.71 L1959.57 904.72 L1960.57 904.73 L1961.58 904.74 L1962.58 904.75 L1963.58 904.76 L1964.58 904.77 L1969.59 904.81 L1975.6 904.86 L1975.6 906.6 L1494.75 905.3 Z" stroke="#E83C48" stroke-width="0.4" fill="#E83C48" stroke-linejoin="round"/>
<text  font-size="31.2" transform="translate(1419.8 898) scale(1 1.03)">pH 7.4</text>
<path d="M1494.75 980.6 L1500.76 980.62 L1506.77 980.63 L1512.78 980.65 L1518.79 980.67 L1524.8 980.68 L1530.81 980.7 L1536.82 980.71 L1542.84 980.73 L1548.85 980.75 L1554.86 980.76 L1560.87 980.78 L1566.88 980.8 L1572.89 980.81 L1578.9 980.83 L1584.91 980.84 L1590.92 980.86 L1596.93 980.88 L1602.94 980.89 L1608.95 980.91 L1614.96 980.93 L1620.97 980.94 L1626.98 980.96 L1632.99 980.97 L1639.01 980.99 L1645.02 981.01 L1651.03 980.99 L1653.03 980.67 L1654.03 980.06 L1655.03 978.64 L1656.04 975.79 L1657.04 970.74 L1658.04 962.94 L1659.04 952.6 L1660.04 941.07 L1661.04 930.79 L1662.05 924.53 L1663.05 922.52 L1664.05 925.68 L1665.05 930.05 L1666.05 935.29 L1667.05 940.99 L1668.06 946.74 L1669.06 952.15 L1670.06 956.98 L1671.06 961.08 L1672.06 964.41 L1673.07 967.04 L1674.07 969.07 L1675.07 970.61 L1676.07 971.79 L1677.07 972.71 L1678.07 973.45 L1679.08 974.07 L1680.08 974.6 L1681.08 975.06 L1682.08 975.48 L1683.08 975.86 L1684.08 976.22 L1685.09 976.54 L1686.09 976.84 L1687.09 977.11 L1688.09 977.37 L1689.09 977.61 L1690.1 977.83 L1691.1 978.03 L1692.1 978.22 L1693.1 978.39 L1694.1 978.56 L1695.1 978.71 L1696.11 978.85 L1697.11 978.98 L1698.11 979.1 L1699.11 979.22 L1700.11 979.32 L1701.11 979.42 L1702.12 979.51 L1703.12 979.6 L1704.12 979.68 L1705.12 979.75 L1706.12 979.83 L1707.13 979.89 L1708.13 979.95 L1709.13 980.01 L1710.13 980.07 L1711.13 980.12 L1712.13 980.17 L1713.14 980.21 L1714.14 980.25 L1715.14 980.3 L1716.14 980.33 L1717.14 980.37 L1718.14 980.4 L1719.15 980.44 L1720.15 980.47 L1721.15 980.5 L1722.15 980.53 L1723.15 980.55 L1724.16 980.58 L1725.16 980.6 L1726.16 980.63 L1727.16 980.65 L1728.16 980.67 L1729.16 980.69 L1730.17 980.71 L1731.17 980.73 L1732.17 980.75 L1733.17 980.76 L1734.17 980.78 L1735.17 980.8 L1736.18 980.81 L1737.18 980.83 L1738.18 980.84 L1739.18 980.86 L1740.18 980.87 L1741.19 980.88 L1742.19 980.9 L1743.19 980.91 L1744.19 980.92 L1745.19 980.93 L1746.19 980.95 L1747.2 980.96 L1748.2 980.97 L1749.2 980.98 L1750.2 980.99 L1753.21 981.02 L1759.22 981.07 L1765.23 981.12 L1771.24 981.16 L1777.25 981.2 L1783.26 981.24 L1789.27 981.28 L1795.28 981.31 L1801.29 981.34 L1807.3 981.36 L1813.31 981.39 L1819.32 981.42 L1825.33 981.44 L1831.35 981.46 L1837.36 981.48 L1843.37 981.51 L1849.38 981.53 L1855.39 981.52 L1858.39 981.18 L1859.39 980.79 L1860.4 980.13 L1861.4 979.12 L1862.4 977.72 L1863.4 976.04 L1864.4 974.28 L1865.41 972.75 L1866.41 971.79 L1867.41 971.38 L1868.41 971.94 L1869.41 972.64 L1870.41 973.46 L1871.42 974.35 L1872.42 975.24 L1873.42 976.1 L1874.42 976.88 L1875.42 977.57 L1876.42 978.15 L1877.43 978.63 L1878.43 979.02 L1879.43 979.33 L1880.43 979.58 L1881.43 979.78 L1882.44 979.95 L1883.44 980.09 L1884.44 980.21 L1885.44 980.32 L1886.44 980.42 L1887.44 980.51 L1888.45 980.59 L1889.45 980.66 L1890.45 980.73 L1891.45 980.8 L1892.45 980.86 L1893.45 980.92 L1894.46 980.97 L1895.46 981.01 L1896.46 981.06 L1897.46 981.1 L1898.46 981.14 L1899.47 981.18 L1900.47 981.21 L1901.47 981.24 L1902.47 981.27 L1903.47 981.3 L1904.47 981.32 L1905.48 981.35 L1906.48 981.37 L1907.48 981.39 L1908.48 981.41 L1909.48 981.43 L1915.49 981.52 L1921.5 981.59 L1927.51 981.64 L1933.53 981.68 L1939.54 981.72 L1945.55 981.75 L1951.56 981.77 L1957.57 981.8 L1963.58 981.82 L1969.59 981.84 L1975.6 981.87 L1975.6 983.4 L1494.75 982.1 Z" stroke="#808080" stroke-width="0.4" fill="#808080" stroke-linejoin="round"/>
<text  font-size="31.2" transform="translate(1419.8 976.5) scale(1 1.04)">ADA</text>
<line x1="1493.95" y1="984.5" x2="1976" y2="984.5" stroke="#262626" stroke-width="1.7" />
<line x1="1494.75" y1="984.5" x2="1494.75" y2="992" stroke="#262626" stroke-width="1.7" />
<text  font-size="31.2" text-anchor="middle" transform="translate(1494.75 1020.8) scale(1 1.04)">6</text>
<line x1="1654.95" y1="984.5" x2="1654.95" y2="992" stroke="#262626" stroke-width="1.7" />
<text  font-size="31.2" text-anchor="middle" transform="translate(1654.95 1020.8) scale(1 1.04)">8</text>
<line x1="1815.15" y1="984.5" x2="1815.15" y2="992" stroke="#262626" stroke-width="1.7" />
<text  font-size="31.2" text-anchor="middle" transform="translate(1815.15 1020.8) scale(1 1.04)">10</text>
<line x1="1975.35" y1="984.5" x2="1975.35" y2="992" stroke="#262626" stroke-width="1.7" />
<text  font-size="31.2" text-anchor="middle" transform="translate(1975.35 1020.8) scale(1 1.04)">12</text>
<line x1="1574.85" y1="984.5" x2="1574.85" y2="988.5" stroke="#262626" stroke-width="1.7" />
<line x1="1735.05" y1="984.5" x2="1735.05" y2="988.5" stroke="#262626" stroke-width="1.7" />
<line x1="1895.25" y1="984.5" x2="1895.25" y2="988.5" stroke="#262626" stroke-width="1.7" />
<text  font-size="31.2" text-anchor="middle" transform="translate(1735 1050) scale(1 1.01)">Time (min)</text>
<text  font-size="31.2" transform="translate(1701 942) scale(1 1.01)">Inosine</text>
<text  font-size="31.2" transform="translate(1842 942) scale(1 1.01)">Adenosine</text>
<line x1="1690.7" y1="941.3" x2="1679.6" y2="956.8" stroke="#111" stroke-width="1.6" />
<line x1="1882.7" y1="948.3" x2="1872.3" y2="963.8" stroke="#111" stroke-width="1.6" />
<text x="1377.1" y="587.2" font-size="38.3" font-weight="bold">e</text>
<rect x="132" y="1266" width="29.2" height="21.86" fill="#C6EDBF" />
<rect x="132" y="1287.86" width="29.2" height="235.34" fill="#F48C94" />
<rect x="228" y="1266" width="29.2" height="214.25" fill="#C6EDBF" />
<rect x="228" y="1480.25" width="29.2" height="42.95" fill="#F48C94" />
<rect x="324" y="1266" width="29.2" height="135.03" fill="#C6EDBF" />
<rect x="324" y="1401.03" width="29.2" height="122.17" fill="#F48C94" />
<rect x="420" y="1266" width="29.2" height="151.23" fill="#C6EDBF" />
<rect x="420" y="1417.23" width="29.2" height="105.97" fill="#F48C94" />
<rect x="516.1" y="1266" width="29.2" height="55.04" fill="#C6EDBF" />
<rect x="516.1" y="1321.04" width="29.2" height="202.16" fill="#F48C94" />
<path d="M146.6 1289.5 L242.6 1479 L338.7 1401.5 L434.5 1417 L530.6 1322.5" stroke="#3c3c3c" stroke-width="2.2" fill="none" stroke-linejoin="round"/>
<path d="M146.6 1281 V1292.7 M141.4 1281 H151.8 M141.4 1292.7 H151.8" stroke="#3c3c3c" stroke-width="2.4" fill="none"/>
<rect x="142.3" y="1278.3" width="8.6" height="8.4" fill="#000" />
<rect x="142.3" y="1287" width="8.6" height="8.4" fill="#000" />
<path d="M242.6 1472 V1487 M237.4 1472 H247.8 M237.4 1487 H247.8" stroke="#3c3c3c" stroke-width="2.4" fill="none"/>
<rect x="238.3" y="1469.3" width="8.6" height="8.4" fill="#000" />
<rect x="238.3" y="1477.3" width="8.6" height="8.4" fill="#000" />
<rect x="238.3" y="1481.3" width="8.6" height="8.4" fill="#000" />
<path d="M338.6 1388.8 V1410.7 M333.4 1388.8 H343.8 M333.4 1410.7 H343.8" stroke="#3c3c3c" stroke-width="2.4" fill="none"/>
<rect x="334.3" y="1386.1" width="8.6" height="8.4" fill="#000" />
<rect x="334.3" y="1398.6" width="8.6" height="8.4" fill="#000" />
<rect x="334.3" y="1405" width="8.6" height="8.4" fill="#000" />
<path d="M434.6 1403.8 V1426 M429.4 1403.8 H439.8 M429.4 1426 H439.8" stroke="#3c3c3c" stroke-width="2.4" fill="none"/>
<rect x="430.3" y="1401.1" width="8.6" height="8.4" fill="#000" />
<rect x="430.3" y="1417.3" width="8.6" height="8.4" fill="#000" />
<rect x="430.3" y="1420.3" width="8.6" height="8.4" fill="#000" />
<path d="M530.7 1314.5 V1328.1 M525.5 1314.5 H535.9 M525.5 1328.1 H535.9" stroke="#3c3c3c" stroke-width="2.4" fill="none"/>
<rect x="526.4" y="1311.8" width="8.6" height="8.4" fill="#000" />
<rect x="526.4" y="1316.1" width="8.6" height="8.4" fill="#000" />
<rect x="526.4" y="1322.4" width="8.6" height="8.4" fill="#000" />
<text  font-size="21.8" text-anchor="middle" transform="translate(146.3 1276.8) scale(1 1.04)">8%</text>
<text  font-size="21.8" text-anchor="middle" transform="translate(146 1418.8) scale(1 1.04)">92%</text>
<text  font-size="21.8" text-anchor="middle" transform="translate(242.5 1374) scale(1 1.04)">83%</text>
<text  font-size="21.8" text-anchor="middle" transform="translate(242.5 1515.3) scale(1 1.04)">17%</text>
<text  font-size="21.8" text-anchor="middle" transform="translate(338 1334.2) scale(1 1.04)">52%</text>
<text  font-size="21.8" text-anchor="middle" transform="translate(338 1475.2) scale(1 1.04)">48%</text>
<text  font-size="21.8" text-anchor="middle" transform="translate(434.2 1342) scale(1 1.04)">59%</text>
<text  font-size="21.8" text-anchor="middle" transform="translate(434 1482.8) scale(1 1.04)">41%</text>
<text  font-size="21.8" text-anchor="middle" transform="translate(530 1293.5) scale(1 1.04)">21%</text>
<text  font-size="21.8" text-anchor="middle" transform="translate(530 1435.3) scale(1 1.04)">79%</text>
<rect x="98.75" y="1137.5" width="480" height="385.9" fill="none" stroke="#262626" stroke-width="1.8"/>
<line x1="90.75" y1="1523.2" x2="98.75" y2="1523.2" stroke="#262626" stroke-width="1.7" />
<text  font-size="31.2" text-anchor="end" transform="translate(85.9 1532.6) scale(1 1.04)">0</text>
<line x1="90.75" y1="1394.6" x2="98.75" y2="1394.6" stroke="#262626" stroke-width="1.7" />
<text  font-size="31.2" text-anchor="end" transform="translate(85.9 1404) scale(1 1.04)">50</text>
<line x1="90.75" y1="1266" x2="98.75" y2="1266" stroke="#262626" stroke-width="1.7" />
<text  font-size="31.2" text-anchor="end" transform="translate(85.9 1275.4) scale(1 1.04)">100</text>
<line x1="90.75" y1="1137.4" x2="98.75" y2="1137.4" stroke="#262626" stroke-width="1.7" />
<text  font-size="31.2" text-anchor="end" transform="translate(85.9 1146.8) scale(1 1.04)">150</text>
<line x1="94.25" y1="1458.9" x2="98.75" y2="1458.9" stroke="#262626" stroke-width="1.7" />
<line x1="94.25" y1="1330.3" x2="98.75" y2="1330.3" stroke="#262626" stroke-width="1.7" />
<line x1="94.25" y1="1201.7" x2="98.75" y2="1201.7" stroke="#262626" stroke-width="1.7" />
<line x1="146.6" y1="1523.4" x2="146.6" y2="1531.4" stroke="#262626" stroke-width="1.7" />
<text  font-size="31.2" transform="translate(123.3 1553.4) rotate(20) scale(1 1.04)">ADA</text>
<line x1="242.6" y1="1523.4" x2="242.6" y2="1531.4" stroke="#262626" stroke-width="1.7" />
<text  font-size="31.2" transform="translate(219.3 1553.4) rotate(20) scale(1 1.03)">pH 7.4</text>
<line x1="338.6" y1="1523.4" x2="338.6" y2="1531.4" stroke="#262626" stroke-width="1.7" />
<text  font-size="31.2" transform="translate(315.3 1553.4) rotate(20) scale(1 1.03)">pH 6.8</text>
<line x1="434.6" y1="1523.4" x2="434.6" y2="1531.4" stroke="#262626" stroke-width="1.7" />
<text  font-size="31.2" transform="translate(411.3 1553.4) rotate(20) scale(1 1.03)">pH 7.4</text>
<line x1="530.7" y1="1523.4" x2="530.7" y2="1531.4" stroke="#262626" stroke-width="1.7" />
<text  font-size="31.2" transform="translate(507.4 1553.4) rotate(20) scale(1 1.03)">pH 6.8</text>
<text  font-size="31.2" text-anchor="middle" transform="translate(23.8 1330.5) rotate(-90) scale(1 1.01)">Ade degradation efficiency (%)</text>
<rect x="118" y="1153" width="48.5" height="23.5" fill="#C6EDBF" />
<text  font-size="31.2" transform="translate(185.5 1175.6) scale(1 1.02)">Ade</text>
<rect x="260" y="1153" width="47.8" height="23.5" fill="#F48C94" />
<text  font-size="31.2" transform="translate(328 1175.6) scale(1 1.02)">Ino</text>
<text  font-size="31.2" text-anchor="middle" transform="translate(244 1228) scale(1 1.04)">- US</text>
<line x1="135" y1="1243" x2="353" y2="1243" stroke="#000" stroke-width="2.1" />
<text  font-size="31.2" text-anchor="middle" transform="translate(484 1227.8) scale(1 1.04)">+ US</text>
<line x1="423.3" y1="1243" x2="545" y2="1243" stroke="#000" stroke-width="2.1" />
<text x="530.2" y="1274.5" font-size="36" text-anchor="middle">****</text>
<text x="6.1" y="1105.2" font-size="38.3" font-weight="bold">f</text>
<path d="M828 1261.85 C833.38 1271.34 849.5 1306.13 860.25 1318.81 C871 1331.5 876.38 1325.82 892.5 1337.97 C908.62 1350.11 935.5 1374.53 957 1391.7 C978.5 1408.86 1000 1425.98 1021.5 1440.95 C1043 1455.92 1053.75 1469.89 1086 1481.5 C1118.25 1493.1 1193.5 1505.75 1215 1510.6" stroke="#808080" stroke-width="2.9" fill="none" stroke-linejoin="round"/>
<rect x="823.97" y="1257.82" width="8.06" height="8.06" fill="#808080"/>
<rect x="856.22" y="1314.79" width="8.06" height="8.06" fill="#808080"/>
<rect x="888.47" y="1333.94" width="8.06" height="8.06" fill="#808080"/>
<rect x="952.97" y="1387.67" width="8.06" height="8.06" fill="#808080"/>
<rect x="1017.47" y="1436.92" width="8.06" height="8.06" fill="#808080"/>
<rect x="1081.97" y="1485.68" width="8.06" height="8.06" fill="#808080"/>
<rect x="1210.97" y="1506.57" width="8.06" height="8.06" fill="#808080"/>
<path d="M828 1261.85 C833.38 1263.14 849.5 1266.66 860.25 1269.56 C871 1272.46 876.38 1276.61 892.5 1279.26 C908.62 1281.92 935.5 1282.74 957 1285.48 C978.5 1288.22 1000 1292.61 1021.5 1295.68 C1043 1298.75 1053.75 1300.28 1086 1303.89 C1118.25 1307.5 1193.5 1315.08 1215 1317.32" stroke="#E83C48" stroke-width="2.9" fill="none" stroke-linejoin="round"/>
<circle cx="828" cy="1261.85" r="4.77" fill="#E83C48"/>
<circle cx="860.25" cy="1269.56" r="4.77" fill="#E83C48"/>
<circle cx="892.5" cy="1279.26" r="4.77" fill="#E83C48"/>
<circle cx="957" cy="1285.48" r="4.77" fill="#E83C48"/>
<circle cx="1021.5" cy="1295.68" r="4.77" fill="#E83C48"/>
<circle cx="1086" cy="1303.89" r="4.77" fill="#E83C48"/>
<circle cx="1215" cy="1317.32" r="4.77" fill="#E83C48"/>
<path d="M828 1261.85 C833.38 1266 849.5 1279.26 860.25 1286.72 C871 1294.19 876.38 1299.33 892.5 1306.62 C908.62 1313.92 935.5 1321.3 957 1330.5 C978.5 1339.71 1000 1353.56 1021.5 1361.85 C1043 1370.14 1053.75 1373.95 1086 1380.25 C1118.25 1386.56 1193.5 1396.42 1215 1399.66" stroke="#FF8000" stroke-width="2.9" fill="none" stroke-linejoin="round"/>
<path d="M828 1256.28 L833.3 1265.56 L822.7 1265.56 Z" fill="#FF8000"/>
<path d="M860.25 1281.16 L865.55 1290.43 L854.95 1290.43 Z" fill="#FF8000"/>
<path d="M892.5 1301.06 L897.8 1310.34 L887.2 1310.34 Z" fill="#FF8000"/>
<path d="M957 1324.94 L962.3 1334.21 L951.7 1334.21 Z" fill="#FF8000"/>
<path d="M1021.5 1356.28 L1026.8 1365.56 L1016.2 1365.56 Z" fill="#FF8000"/>
<path d="M1086 1374.69 L1091.3 1383.96 L1080.7 1383.96 Z" fill="#FF8000"/>
<path d="M1215 1394.09 L1220.3 1403.37 L1209.7 1403.37 Z" fill="#FF8000"/>
<path d="M828 1261.85 C833.38 1264.67 849.5 1273.67 860.25 1278.76 C871 1283.86 876.38 1285.98 892.5 1292.45 C908.62 1298.91 935.5 1308.45 957 1317.57 C978.5 1326.69 1000 1339.46 1021.5 1347.17 C1043 1354.88 1053.75 1357.91 1086 1363.84 C1118.25 1369.77 1193.5 1379.59 1215 1382.74" stroke="#800080" stroke-width="2.9" fill="none" stroke-linejoin="round"/>
<path d="M828 1267.41 L833.3 1258.14 L822.7 1258.14 Z" fill="#800080"/>
<path d="M860.25 1284.33 L865.55 1275.05 L854.95 1275.05 Z" fill="#800080"/>
<path d="M892.5 1298.01 L897.8 1288.74 L887.2 1288.74 Z" fill="#800080"/>
<path d="M957 1323.13 L962.3 1313.86 L951.7 1313.86 Z" fill="#800080"/>
<path d="M1021.5 1352.74 L1026.8 1343.46 L1016.2 1343.46 Z" fill="#800080"/>
<path d="M1086 1369.4 L1091.3 1360.13 L1080.7 1360.13 Z" fill="#800080"/>
<path d="M1215 1388.31 L1220.3 1379.03 L1209.7 1379.03 Z" fill="#800080"/>
<path d="M828 1261.85 C833.38 1270.72 849.5 1302.69 860.25 1315.08 C871 1327.48 876.38 1326.36 892.5 1336.23 C908.62 1346.09 935.5 1360.85 957 1374.28 C978.5 1387.72 1000 1403.51 1021.5 1416.82 C1043 1430.13 1053.75 1440.99 1086 1454.13 C1118.25 1467.28 1193.5 1488.75 1215 1495.67" stroke="#808000" stroke-width="2.9" fill="none" stroke-linejoin="round"/>
<path d="M828 1256.66 L833.19 1261.85 L828 1267.04 L822.81 1261.85 Z" fill="#808000"/>
<path d="M860.25 1309.89 L865.44 1315.08 L860.25 1320.28 L855.06 1315.08 Z" fill="#808000"/>
<path d="M892.5 1331.03 L897.69 1336.23 L892.5 1341.42 L887.31 1336.23 Z" fill="#808000"/>
<path d="M957 1369.09 L962.19 1374.28 L957 1379.48 L951.81 1374.28 Z" fill="#808000"/>
<path d="M1021.5 1411.63 L1026.69 1416.82 L1021.5 1422.02 L1016.31 1416.82 Z" fill="#808000"/>
<path d="M1086 1453.42 L1091.19 1458.61 L1086 1463.81 L1080.81 1458.61 Z" fill="#808000"/>
<path d="M1215 1490.48 L1220.19 1495.67 L1215 1500.87 L1209.81 1495.67 Z" fill="#808000"/>
<path d="M828 1255.38 V1268.32 M823.1 1255.38 H832.9 M823.1 1268.32 H832.9" stroke="#808080" stroke-width="2.6" fill="none"/>
<path d="M860.25 1312.35 V1325.28 M855.35 1312.35 H865.15 M855.35 1325.28 H865.15" stroke="#808080" stroke-width="2.6" fill="none"/>
<path d="M892.5 1334.24 V1341.7 M887.6 1334.24 H897.4 M887.6 1341.7 H897.4" stroke="#808080" stroke-width="2.6" fill="none"/>
<path d="M957 1383.74 V1399.66 M952.1 1383.74 H961.9 M952.1 1399.66 H961.9" stroke="#808080" stroke-width="2.6" fill="none"/>
<path d="M1021.5 1437.22 V1444.68 M1016.6 1437.22 H1026.4 M1016.6 1444.68 H1026.4" stroke="#808080" stroke-width="2.6" fill="none"/>
<path d="M1086 1483.73 V1495.67 M1081.1 1483.73 H1090.9 M1081.1 1495.67 H1090.9" stroke="#808080" stroke-width="2.6" fill="none"/>
<path d="M1215 1509.85 V1511.35 M1210.1 1509.85 H1219.9 M1210.1 1511.35 H1219.9" stroke="#808080" stroke-width="2.6" fill="none"/>
<path d="M828 1258.12 V1265.58 M823.1 1258.12 H832.9 M823.1 1265.58 H832.9" stroke="#E83C48" stroke-width="2.6" fill="none"/>
<path d="M860.25 1262.6 V1276.53 M855.35 1262.6 H865.15 M855.35 1276.53 H865.15" stroke="#E83C48" stroke-width="2.6" fill="none"/>
<path d="M892.5 1271.8 V1286.72 M887.6 1271.8 H897.4 M887.6 1286.72 H897.4" stroke="#E83C48" stroke-width="2.6" fill="none"/>
<path d="M957 1281 V1289.96 M952.1 1281 H961.9 M952.1 1289.96 H961.9" stroke="#E83C48" stroke-width="2.6" fill="none"/>
<path d="M1021.5 1292.45 V1298.91 M1016.6 1292.45 H1026.4 M1016.6 1298.91 H1026.4" stroke="#E83C48" stroke-width="2.6" fill="none"/>
<path d="M1086 1297.42 V1310.36 M1081.1 1297.42 H1090.9 M1081.1 1310.36 H1090.9" stroke="#E83C48" stroke-width="2.6" fill="none"/>
<path d="M1215 1310.11 V1324.53 M1210.1 1310.11 H1219.9 M1210.1 1324.53 H1219.9" stroke="#E83C48" stroke-width="2.6" fill="none"/>
<path d="M828 1258.12 V1265.58 M823.1 1258.12 H832.9 M823.1 1265.58 H832.9" stroke="#FF8000" stroke-width="2.6" fill="none"/>
<path d="M860.25 1281 V1292.45 M855.35 1281 H865.15 M855.35 1292.45 H865.15" stroke="#FF8000" stroke-width="2.6" fill="none"/>
<path d="M892.5 1302.89 V1310.36 M887.6 1302.89 H897.4 M887.6 1310.36 H897.4" stroke="#FF8000" stroke-width="2.6" fill="none"/>
<path d="M957 1324.53 V1336.47 M952.1 1324.53 H961.9 M952.1 1336.47 H961.9" stroke="#FF8000" stroke-width="2.6" fill="none"/>
<path d="M1021.5 1358.61 V1365.08 M1016.6 1358.61 H1026.4 M1016.6 1365.08 H1026.4" stroke="#FF8000" stroke-width="2.6" fill="none"/>
<path d="M1086 1369.56 V1390.95 M1081.1 1369.56 H1090.9 M1081.1 1390.95 H1090.9" stroke="#FF8000" stroke-width="2.6" fill="none"/>
<path d="M1215 1396.42 V1402.89 M1210.1 1396.42 H1219.9 M1210.1 1402.89 H1219.9" stroke="#FF8000" stroke-width="2.6" fill="none"/>
<path d="M828 1258.12 V1265.58 M823.1 1258.12 H832.9 M823.1 1265.58 H832.9" stroke="#800080" stroke-width="2.6" fill="none"/>
<path d="M860.25 1269.81 V1287.72 M855.35 1269.81 H865.15 M855.35 1287.72 H865.15" stroke="#800080" stroke-width="2.6" fill="none"/>
<path d="M892.5 1283.49 V1301.4 M887.6 1283.49 H897.4 M887.6 1301.4 H897.4" stroke="#800080" stroke-width="2.6" fill="none"/>
<path d="M957 1308.62 V1326.52 M952.1 1308.62 H961.9 M952.1 1326.52 H961.9" stroke="#800080" stroke-width="2.6" fill="none"/>
<path d="M1021.5 1335.73 V1358.61 M1016.6 1335.73 H1026.4 M1016.6 1358.61 H1026.4" stroke="#800080" stroke-width="2.6" fill="none"/>
<path d="M1086 1354.88 V1372.79 M1081.1 1354.88 H1090.9 M1081.1 1372.79 H1090.9" stroke="#800080" stroke-width="2.6" fill="none"/>
<path d="M1215 1374.78 V1390.7 M1210.1 1374.78 H1219.9 M1210.1 1390.7 H1219.9" stroke="#800080" stroke-width="2.6" fill="none"/>
<path d="M828 1255.38 V1268.32 M823.1 1255.38 H832.9 M823.1 1268.32 H832.9" stroke="#808000" stroke-width="2.6" fill="none"/>
<path d="M860.25 1310.11 V1320.06 M855.35 1310.11 H865.15 M855.35 1320.06 H865.15" stroke="#808000" stroke-width="2.6" fill="none"/>
<path d="M892.5 1330.26 V1342.2 M887.6 1330.26 H897.4 M887.6 1342.2 H897.4" stroke="#808000" stroke-width="2.6" fill="none"/>
<path d="M957 1368.32 V1380.25 M952.1 1368.32 H961.9 M952.1 1380.25 H961.9" stroke="#808000" stroke-width="2.6" fill="none"/>
<path d="M1021.5 1413.34 V1420.3 M1016.6 1413.34 H1026.4 M1016.6 1420.3 H1026.4" stroke="#808000" stroke-width="2.6" fill="none"/>
<path d="M1086 1454.13 V1463.09 M1081.1 1454.13 H1090.9 M1081.1 1463.09 H1090.9" stroke="#808000" stroke-width="2.6" fill="none"/>
<path d="M1215 1487.47 V1503.88 M1210.1 1487.47 H1219.9 M1210.1 1503.88 H1219.9" stroke="#808000" stroke-width="2.6" fill="none"/>
<rect x="795" y="1137.5" width="481.75" height="385.9" fill="none" stroke="#262626" stroke-width="1.8"/>
<line x1="787" y1="1510.6" x2="795" y2="1510.6" stroke="#262626" stroke-width="1.7" />
<text  font-size="31.2" text-anchor="end" transform="translate(782.3 1520) scale(1 1.04)">0</text>
<line x1="787" y1="1386.22" x2="795" y2="1386.22" stroke="#262626" stroke-width="1.7" />
<text  font-size="31.2" text-anchor="end" transform="translate(782.3 1395.62) scale(1 1.04)">50</text>
<line x1="787" y1="1261.85" x2="795" y2="1261.85" stroke="#262626" stroke-width="1.7" />
<text  font-size="31.2" text-anchor="end" transform="translate(782.3 1271.25) scale(1 1.04)">100</text>
<line x1="787" y1="1137.47" x2="795" y2="1137.47" stroke="#262626" stroke-width="1.7" />
<text  font-size="31.2" text-anchor="end" transform="translate(782.3 1146.87) scale(1 1.04)">150</text>
<line x1="790.5" y1="1448.41" x2="795" y2="1448.41" stroke="#262626" stroke-width="1.7" />
<line x1="790.5" y1="1324.04" x2="795" y2="1324.04" stroke="#262626" stroke-width="1.7" />
<line x1="790.5" y1="1199.66" x2="795" y2="1199.66" stroke="#262626" stroke-width="1.7" />
<line x1="828" y1="1523.4" x2="828" y2="1531.4" stroke="#262626" stroke-width="1.7" />
<text  font-size="31.2" text-anchor="middle" transform="translate(828 1559.8) scale(1 1.04)">0</text>
<line x1="892.5" y1="1523.4" x2="892.5" y2="1531.4" stroke="#262626" stroke-width="1.7" />
<text  font-size="31.2" text-anchor="middle" transform="translate(892.5 1559.8) scale(1 1.04)">2</text>
<line x1="957" y1="1523.4" x2="957" y2="1531.4" stroke="#262626" stroke-width="1.7" />
<text  font-size="31.2" text-anchor="middle" transform="translate(957 1559.8) scale(1 1.04)">4</text>
<line x1="1021.5" y1="1523.4" x2="1021.5" y2="1531.4" stroke="#262626" stroke-width="1.7" />
<text  font-size="31.2" text-anchor="middle" transform="translate(1021.5 1559.8) scale(1 1.04)">6</text>
<line x1="1086" y1="1523.4" x2="1086" y2="1531.4" stroke="#262626" stroke-width="1.7" />
<text  font-size="31.2" text-anchor="middle" transform="translate(1086 1559.8) scale(1 1.04)">8</text>
<line x1="1150.5" y1="1523.4" x2="1150.5" y2="1531.4" stroke="#262626" stroke-width="1.7" />
<text  font-size="31.2" text-anchor="middle" transform="translate(1150.5 1559.8) scale(1 1.04)">10</text>
<line x1="1215" y1="1523.4" x2="1215" y2="1531.4" stroke="#262626" stroke-width="1.7" />
<text  font-size="31.2" text-anchor="middle" transform="translate(1215 1559.8) scale(1 1.04)">12</text>
<line x1="795.75" y1="1523.4" x2="795.75" y2="1527.6" stroke="#262626" stroke-width="1.7" />
<line x1="860.25" y1="1523.4" x2="860.25" y2="1527.6" stroke="#262626" stroke-width="1.7" />
<line x1="924.75" y1="1523.4" x2="924.75" y2="1527.6" stroke="#262626" stroke-width="1.7" />
<line x1="989.25" y1="1523.4" x2="989.25" y2="1527.6" stroke="#262626" stroke-width="1.7" />
<line x1="1053.75" y1="1523.4" x2="1053.75" y2="1527.6" stroke="#262626" stroke-width="1.7" />
<line x1="1118.25" y1="1523.4" x2="1118.25" y2="1527.6" stroke="#262626" stroke-width="1.7" />
<line x1="1182.75" y1="1523.4" x2="1182.75" y2="1527.6" stroke="#262626" stroke-width="1.7" />
<line x1="1247.25" y1="1523.4" x2="1247.25" y2="1527.6" stroke="#262626" stroke-width="1.7" />
<text  font-size="31.2" text-anchor="middle" transform="translate(1036.3 1596.5) scale(1 1.02)">Time (h)</text>
<text  font-size="31.2" text-anchor="middle" transform="translate(720 1330.5) rotate(-90) scale(1 1.01)">Ade content (%)</text>
<line x1="818.25" y1="1160.8" x2="837.45" y2="1160.8" stroke="#808080" stroke-width="2.8" />
<line x1="847.55" y1="1160.8" x2="866.75" y2="1160.8" stroke="#808080" stroke-width="2.8" />
<rect x="838.47" y="1156.77" width="8.06" height="8.06" fill="#808080"/>
<text  font-size="31.2" transform="translate(885.75 1171.3) scale(1 1.04)">ADA</text>
<line x1="818.25" y1="1199" x2="837.45" y2="1199" stroke="#E83C48" stroke-width="2.8" />
<line x1="847.55" y1="1199" x2="866.75" y2="1199" stroke="#E83C48" stroke-width="2.8" />
<circle cx="842.5" cy="1199" r="4.77" fill="#E83C48"/>
<text  font-size="31.2" transform="translate(885.75 1209.5) scale(1 1.03)">pH 7.4</text>
<line x1="818.25" y1="1237.2" x2="837.45" y2="1237.2" stroke="#FF8000" stroke-width="2.8" />
<line x1="847.55" y1="1237.2" x2="866.75" y2="1237.2" stroke="#FF8000" stroke-width="2.8" />
<path d="M842.5 1231.63 L847.8 1240.91 L837.2 1240.91 Z" fill="#FF8000"/>
<text  font-size="31.2" transform="translate(885.75 1247.7) scale(1 1.03)">pH 6.8</text>
<line x1="1005" y1="1199" x2="1024.2" y2="1199" stroke="#800080" stroke-width="2.8" />
<line x1="1034.3" y1="1199" x2="1053.5" y2="1199" stroke="#800080" stroke-width="2.8" />
<path d="M1029.25 1204.57 L1034.55 1195.29 L1023.95 1195.29 Z" fill="#800080"/>
<text  font-size="31.2" transform="translate(1072.5 1209.5) scale(1 1.03)">pH 7.4 + US</text>
<line x1="1005" y1="1237.2" x2="1053.5" y2="1237.2" stroke="#808000" stroke-width="2.8" />
<path d="M1029.25 1232.01 L1034.44 1237.2 L1029.25 1242.39 L1024.06 1237.2 Z" fill="#808000"/>
<text  font-size="31.2" transform="translate(1072.5 1247.7) scale(1 1.03)">pH 6.8 + US</text>
<path d="M1225 1322.8 H1234.5 V1493.2 H1225" stroke="#222" stroke-width="1.6" fill="none" />
<text  font-size="31" text-anchor="middle" transform="translate(1235.5 1408.5) rotate(90)">****</text>
<text x="698.6" y="1105.9" font-size="38.3" font-weight="bold">g</text>
<rect x="1535.1" y="1406.95" width="37.6" height="116.25" fill="#E83C48" />
<rect x="1655.3" y="1367.59" width="37.6" height="155.61" fill="#FF8000" />
<rect x="1775.5" y="1353.71" width="37.6" height="169.49" fill="#800080" />
<rect x="1896" y="1268.57" width="37.6" height="254.63" fill="#808000" />
<ellipse cx="1553.4" cy="1407.6" rx="4.6" ry="3.6" fill="#000"/>
<ellipse cx="1674" cy="1368.4" rx="5" ry="5.2" fill="#000"/>
<ellipse cx="1794.3" cy="1355" rx="5" ry="4.8" fill="#000"/>
<path d="M1914.8 1260.5 V1278.5 M1911.3 1260.5 H1918.3 M1911.3 1278.5 H1918.3" stroke="#000" stroke-width="2.4" fill="none"/>
<circle cx="1914.8" cy="1261" r="4.2" fill="#000"/>
<circle cx="1914.8" cy="1267.8" r="4.2" fill="#000"/>
<circle cx="1914.8" cy="1278.3" r="4.2" fill="#000"/>
<rect x="1493.75" y="1137.5" width="481" height="385.9" fill="none" stroke="#262626" stroke-width="1.8"/>
<line x1="1485.75" y1="1523.2" x2="1493.75" y2="1523.2" stroke="#262626" stroke-width="1.7" />
<text  font-size="31.2" text-anchor="end" transform="translate(1480 1532.6) scale(1 1.04)">0</text>
<line x1="1485.75" y1="1394.6" x2="1493.75" y2="1394.6" stroke="#262626" stroke-width="1.7" />
<text  font-size="31.2" text-anchor="end" transform="translate(1480 1404) scale(1 1.04)">50</text>
<line x1="1485.75" y1="1266" x2="1493.75" y2="1266" stroke="#262626" stroke-width="1.7" />
<text  font-size="31.2" text-anchor="end" transform="translate(1480 1275.4) scale(1 1.04)">100</text>
<line x1="1485.75" y1="1137.4" x2="1493.75" y2="1137.4" stroke="#262626" stroke-width="1.7" />
<text  font-size="31.2" text-anchor="end" transform="translate(1480 1146.8) scale(1 1.04)">150</text>
<line x1="1489.25" y1="1458.9" x2="1493.75" y2="1458.9" stroke="#262626" stroke-width="1.7" />
<line x1="1489.25" y1="1330.3" x2="1493.75" y2="1330.3" stroke="#262626" stroke-width="1.7" />
<line x1="1489.25" y1="1201.7" x2="1493.75" y2="1201.7" stroke="#262626" stroke-width="1.7" />
<line x1="1553.9" y1="1523.4" x2="1553.9" y2="1531.4" stroke="#262626" stroke-width="1.7" />
<text  font-size="31.2" transform="translate(1540.9 1554.7) rotate(20) scale(1 1.03)">pH 7.4</text>
<line x1="1674.1" y1="1523.4" x2="1674.1" y2="1531.4" stroke="#262626" stroke-width="1.7" />
<text  font-size="31.2" transform="translate(1661.1 1554.7) rotate(20) scale(1 1.03)">pH 6.8</text>
<line x1="1794.3" y1="1523.4" x2="1794.3" y2="1531.4" stroke="#262626" stroke-width="1.7" />
<text  font-size="31.2" transform="translate(1781.3 1554.7) rotate(20) scale(1 1.03)">pH 7.4</text>
<line x1="1914.8" y1="1523.4" x2="1914.8" y2="1531.4" stroke="#262626" stroke-width="1.7" />
<text  font-size="31.2" transform="translate(1901.8 1554.7) rotate(20) scale(1 1.03)">pH 6.8</text>
<line x1="1494" y1="1523.4" x2="1494" y2="1527.4" stroke="#262626" stroke-width="1.7" />
<line x1="1614" y1="1523.4" x2="1614" y2="1527.4" stroke="#262626" stroke-width="1.7" />
<line x1="1734.4" y1="1523.4" x2="1734.4" y2="1527.4" stroke="#262626" stroke-width="1.7" />
<line x1="1854.5" y1="1523.4" x2="1854.5" y2="1527.4" stroke="#262626" stroke-width="1.7" />
<line x1="1974.75" y1="1523.4" x2="1974.75" y2="1527.4" stroke="#262626" stroke-width="1.7" />
<text  font-size="31.2" text-anchor="middle" transform="translate(1416.3 1330.5) rotate(-90) scale(1 1.01)">PD-L1 blockade efficiency (%)</text>
<text  font-size="31.2" text-anchor="middle" transform="translate(1614 1323.8) scale(1 1.04)">- US</text>
<line x1="1535" y1="1339.5" x2="1693.8" y2="1339.5" stroke="#000" stroke-width="2.1" />
<text  font-size="31.2" text-anchor="middle" transform="translate(1857.5 1187) scale(1 1.04)">+ US</text>
<line x1="1777.5" y1="1202.5" x2="1936" y2="1202.5" stroke="#000" stroke-width="2.1" />
<text x="1916.2" y="1258.8" font-size="31" text-anchor="middle">****</text>
<text x="1377.1" y="1105.9" font-size="38.3" font-weight="bold">h</text>
</svg>
</body>
</html>
